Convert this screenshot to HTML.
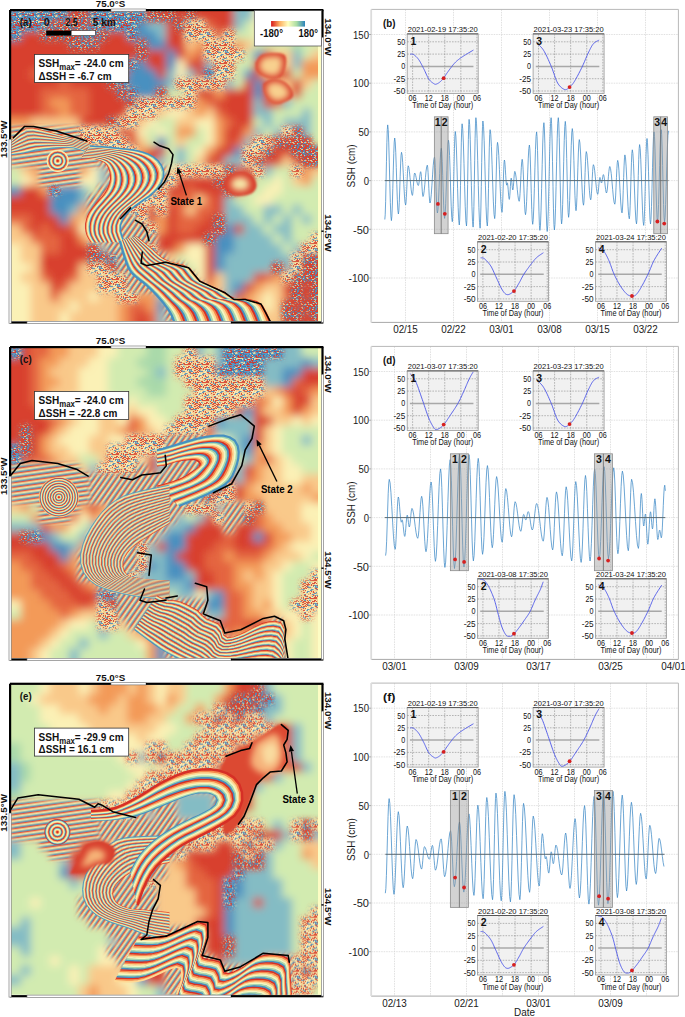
<!DOCTYPE html><html><head><meta charset="utf-8"><style>html,body{margin:0;padding:0;background:#fff}svg{display:block}text{font-family:"Liberation Sans",sans-serif}</style></head><body>
<svg width="685" height="1017" viewBox="0 0 685 1017">
<defs><linearGradient id="spec" x1="0" x2="1" y1="0" y2="0"><stop offset="0" stop-color="#d7191c"/><stop offset="0.25" stop-color="#fdae61"/><stop offset="0.5" stop-color="#ffffbf"/><stop offset="0.75" stop-color="#abdda4"/><stop offset="1" stop-color="#2b83ba"/></linearGradient></defs>
<rect width="685" height="1017" fill="#fff"/>
<pattern id="patS" width="18" height="18" patternUnits="userSpaceOnUse"><rect width="18" height="18" fill="#5a98c4"/>
<path fill="#d73027" d="M7 8h1v1h-1zM14 3h1v1h-1zM10 8h2v1h-2zM2 11h1v1h-1zM0 8h1v1h-1zM11 13h1v1h-1zM8 17h1.5v1h-1.5zM5 9h1v1h-1zM12 0h1.5v1h-1.5zM16 9h1v1h-1zM13 9h1.5v1h-1.5zM1 9h1.5v1h-1.5zM1 16h2v1h-2zM11 3h1v1h-1zM12 9h1v1h-1zM3 2h1.5v1h-1.5zM0 4h2v1h-2zM13 6h2v1h-2zM4 4h1v1h-1zM4 11h1v1h-1zM2 0h1v1h-1zM16 16h2v1h-2zM6 11h1v1h-1zM13 16h1v1h-1zM5 13h1v1h-1zM12 3h1v1h-1zM9 14h1v1h-1zM6 9h2v1h-2zM4 2h1v1h-1zM10 4h1v1h-1zM3 0h1.5v1h-1.5zM17 12h2v1h-2zM3 3h1v1h-1zM9 0h1v1h-1zM0 7h1v1h-1zM15 9h1v1h-1zM7 12h1.5v1h-1.5zM8 14h1v1h-1zM13 0h1v1h-1zM2 4h2v1h-2zM8 15h1v1h-1zM3 11h1v1h-1zM5 14h2v1h-2zM13 17h1.5v1h-1.5zM3 4h1v1h-1zM6 7h1.5v1h-1.5zM6 14h2v1h-2zM10 11h2v1h-2zM16 5h1v1h-1zM11 9h1.5v1h-1.5zM12 11h1v1h-1zM11 1h2v1h-2zM6 12h1v1h-1zM3 16h2v1h-2zM10 17h1v1h-1zM1 4h2v1h-2zM4 14h2v1h-2zM11 8h1.5v1h-1.5zM0 12h1v1h-1zM17 3h1v1h-1zM10 1h2v1h-2zM7 13h1v1h-1zM2 14h1v1h-1zM4 3h1.5v1h-1.5zM11 7h1v1h-1zM15 3h1v1h-1zM10 14h1.5v1h-1.5zM4 13h1v1h-1zM7 3h1.5v1h-1.5zM13 7h1v1h-1zM2 15h2v1h-2zM15 7h1v1h-1z"/>
<path fill="#f3e6a4" d="M17 14h1v1h-1zM8 5h2v1h-2zM13 10h2v1h-2zM3 10h1v1h-1zM13 1h1v1h-1zM16 2h1v1h-1zM7 9h2v1h-2zM9 10h2v1h-2zM9 11h1.5v1h-1.5zM14 14h2v1h-2zM15 11h1v1h-1zM8 1h1.5v1h-1.5zM0 11h1.5v1h-1.5zM4 10h1v1h-1zM7 4h1.5v1h-1.5zM7 2h1v1h-1zM9 5h1.5v1h-1.5zM12 10h2v1h-2zM14 4h2v1h-2zM15 16h1v1h-1zM16 15h2v1h-2zM9 1h1.5v1h-1.5zM9 4h1.5v1h-1.5zM0 2h1v1h-1zM3 12h1v1h-1zM15 10h1v1h-1zM11 10h1v1h-1zM7 11h1v1h-1zM11 0h1.5v1h-1.5zM15 14h1.5v1h-1.5zM12 15h1v1h-1zM5 5h1v1h-1zM7 7h1.5v1h-1.5zM1 0h1v1h-1zM13 14h2v1h-2zM2 3h1.5v1h-1.5z"/>
<path fill="#2f7fb8" d="M17 6h2v1h-2zM3 7h1v1h-1zM9 7h2v1h-2zM3 8h1.5v1h-1.5zM6 0h1v1h-1zM0 14h1.5v1h-1.5zM7 15h1v1h-1zM14 5h1v1h-1zM9 2h2v1h-2zM17 16h1v1h-1zM17 4h1.5v1h-1.5zM14 11h1v1h-1zM8 10h1v1h-1zM13 11h1.5v1h-1.5zM10 2h1v1h-1zM4 6h1v1h-1zM7 6h1v1h-1zM6 3h1.5v1h-1.5zM0 9h1v1h-1zM0 6h2v1h-2zM5 3h1v1h-1zM16 6h1.5v1h-1.5zM13 5h2v1h-2zM0 0h1.5v1h-1.5zM8 11h1v1h-1zM8 7h1v1h-1zM13 3h1v1h-1zM1 10h1v1h-1zM14 12h1v1h-1zM6 4h1.5v1h-1.5zM2 17h1v1h-1zM14 8h1v1h-1zM17 11h1v1h-1zM11 2h1.5v1h-1.5zM13 8h1.5v1h-1.5zM17 0h1v1h-1zM1 8h1.5v1h-1.5zM15 0h2v1h-2zM12 4h1v1h-1zM15 5h1.5v1h-1.5zM10 12h1.5v1h-1.5zM7 17h1v1h-1zM12 14h1.5v1h-1.5zM0 13h1v1h-1zM7 5h1v1h-1zM15 8h1v1h-1z"/>
</pattern>
<pattern id="patT" width="18" height="18" patternUnits="userSpaceOnUse"><rect width="18" height="18" fill="#d8412f"/>
<path fill="#4a90c0" d="M6 6h1v1h-1zM14 10h1v1h-1zM5 15h1v1h-1zM9 14h1.5v1h-1.5zM3 7h1v1h-1zM6 0h1.5v1h-1.5zM9 0h1v1h-1zM15 17h1.5v1h-1.5zM8 11h1.5v1h-1.5zM16 10h1v1h-1zM13 4h1v1h-1zM16 13h2v1h-2zM14 12h2v1h-2zM11 17h2v1h-2zM14 9h1v1h-1zM17 3h2v1h-2zM1 4h1.5v1h-1.5zM7 7h1.5v1h-1.5zM4 16h1v1h-1zM10 17h2v1h-2zM7 17h1.5v1h-1.5zM4 13h1.5v1h-1.5zM3 15h1v1h-1zM1 6h1v1h-1zM13 2h1v1h-1zM4 17h1.5v1h-1.5zM16 17h1v1h-1zM7 15h2v1h-2zM11 12h2v1h-2zM16 9h2v1h-2zM5 16h2v1h-2zM10 16h1.5v1h-1.5zM16 11h1v1h-1zM13 8h1v1h-1zM1 13h1v1h-1zM17 0h2v1h-2zM3 16h2v1h-2zM16 7h2v1h-2zM12 16h1v1h-1zM9 4h1v1h-1zM17 8h2v1h-2zM0 13h2v1h-2zM4 6h2v1h-2zM8 2h1v1h-1zM4 3h1v1h-1zM3 2h1v1h-1zM10 10h1v1h-1zM15 8h1v1h-1zM17 9h1v1h-1zM10 8h2v1h-2zM15 16h1v1h-1zM12 13h1v1h-1zM16 14h1v1h-1zM10 13h1v1h-1zM14 0h1v1h-1zM15 4h1v1h-1zM12 17h1.5v1h-1.5zM5 1h1v1h-1zM4 9h1.5v1h-1.5zM4 14h2v1h-2zM6 4h1v1h-1zM5 8h1v1h-1zM17 6h1v1h-1zM0 6h1.5v1h-1.5zM5 13h1v1h-1zM17 10h2v1h-2zM14 2h1.5v1h-1.5zM9 16h1v1h-1zM6 12h1v1h-1zM5 17h1v1h-1zM0 8h1.5v1h-1.5zM2 11h2v1h-2zM1 14h1.5v1h-1.5zM8 10h1.5v1h-1.5zM17 16h1v1h-1zM10 9h2v1h-2zM4 10h1v1h-1z"/>
<path fill="#f1d79a" d="M10 11h1v1h-1zM16 6h1v1h-1zM2 5h2v1h-2zM15 2h1.5v1h-1.5zM14 16h1v1h-1zM14 4h1v1h-1zM2 4h1v1h-1zM2 12h2v1h-2zM2 8h2v1h-2zM2 17h1v1h-1zM6 5h1.5v1h-1.5zM12 14h1v1h-1zM7 12h2v1h-2zM8 15h1.5v1h-1.5zM4 15h1v1h-1zM13 16h2v1h-2zM12 0h1v1h-1zM1 2h1.5v1h-1.5zM8 3h2v1h-2zM8 12h1.5v1h-1.5zM11 5h2v1h-2zM3 9h1v1h-1zM1 11h1v1h-1zM13 10h1.5v1h-1.5zM5 0h1v1h-1z"/>
<path fill="#a8d3c0" d="M0 14h1v1h-1zM12 6h2v1h-2zM8 7h1v1h-1zM15 15h1.5v1h-1.5zM16 3h1v1h-1zM16 1h1v1h-1zM15 0h2v1h-2zM14 8h1v1h-1zM1 15h1.5v1h-1.5zM9 5h1.5v1h-1.5zM5 5h1v1h-1zM1 0h2v1h-2zM17 4h1v1h-1zM17 14h1v1h-1zM7 14h2v1h-2z"/>
</pattern>
<pattern id="patP" width="18" height="18" patternUnits="userSpaceOnUse"><rect width="18" height="18" fill="#f4d597"/>
<path fill="#d8412f" d="M14 9h1v1h-1zM6 3h1v1h-1zM6 17h1v1h-1zM16 0h2v1h-2zM0 14h1v1h-1zM9 1h2v1h-2zM6 8h1v1h-1zM1 17h1v1h-1zM12 3h1v1h-1zM4 10h2v1h-2zM6 16h1v1h-1zM13 16h2v1h-2zM17 5h1.5v1h-1.5zM12 9h1v1h-1zM5 3h1v1h-1zM16 3h1v1h-1zM7 6h1v1h-1zM11 11h1v1h-1zM17 16h1v1h-1zM14 13h1.5v1h-1.5zM8 0h1v1h-1zM14 1h2v1h-2zM3 4h2v1h-2zM5 6h1.5v1h-1.5zM11 16h2v1h-2zM8 2h1.5v1h-1.5zM2 1h1v1h-1zM15 16h2v1h-2zM5 13h2v1h-2zM14 10h1.5v1h-1.5zM7 16h2v1h-2zM16 14h2v1h-2zM14 3h1v1h-1zM2 15h1v1h-1zM12 2h1v1h-1zM13 1h2v1h-2zM3 2h2v1h-2zM2 9h1v1h-1zM7 14h2v1h-2zM0 7h2v1h-2zM15 0h1v1h-1zM7 2h2v1h-2zM10 15h2v1h-2zM9 12h1v1h-1zM16 15h1v1h-1zM6 5h1v1h-1zM15 15h1.5v1h-1.5zM9 2h2v1h-2zM4 1h1.5v1h-1.5zM4 15h1v1h-1zM17 15h2v1h-2zM2 13h1v1h-1zM4 16h1v1h-1zM3 0h1v1h-1zM8 5h1v1h-1zM7 4h1.5v1h-1.5zM4 6h1v1h-1zM6 0h1v1h-1zM5 1h2v1h-2zM0 3h1v1h-1zM4 8h1v1h-1zM17 1h1v1h-1zM2 6h1v1h-1zM2 0h1v1h-1zM6 12h1v1h-1zM16 6h2v1h-2zM8 3h1.5v1h-1.5z"/>
<path fill="#4a90c0" d="M12 8h1v1h-1zM13 14h1v1h-1zM17 7h1v1h-1zM1 1h1.5v1h-1.5zM8 9h1.5v1h-1.5zM8 10h1v1h-1zM17 10h1.5v1h-1.5zM16 4h1.5v1h-1.5zM10 8h2v1h-2zM3 7h1v1h-1zM13 7h1.5v1h-1.5zM11 1h2v1h-2zM17 3h1v1h-1zM4 17h1.5v1h-1.5zM7 10h1v1h-1zM8 4h1.5v1h-1.5zM5 12h1.5v1h-1.5zM1 5h1v1h-1zM12 7h1v1h-1zM2 16h1v1h-1zM16 5h2v1h-2zM7 7h1v1h-1zM16 13h1.5v1h-1.5zM9 16h1.5v1h-1.5zM13 12h2v1h-2zM15 11h1v1h-1zM14 4h1.5v1h-1.5zM10 5h1v1h-1zM0 5h1v1h-1zM10 0h1.5v1h-1.5zM2 7h2v1h-2zM9 5h1v1h-1zM0 4h1.5v1h-1.5zM15 3h2v1h-2zM9 9h1.5v1h-1.5zM4 7h1.5v1h-1.5zM5 0h2v1h-2zM6 14h1.5v1h-1.5zM11 5h1v1h-1zM0 13h1.5v1h-1.5zM16 11h1.5v1h-1.5z"/>
<path fill="#fbf4c0" d="M14 0h1v1h-1zM6 7h2v1h-2zM14 5h1v1h-1zM12 1h1v1h-1zM17 2h1v1h-1zM17 0h1.5v1h-1.5zM1 4h1.5v1h-1.5zM12 4h1.5v1h-1.5zM8 12h1.5v1h-1.5zM8 7h1v1h-1zM7 9h1v1h-1zM10 7h1v1h-1zM17 14h1v1h-1zM5 15h1.5v1h-1.5zM13 6h2v1h-2zM9 13h2v1h-2zM12 15h1.5v1h-1.5zM16 12h1v1h-1zM1 11h1v1h-1zM8 17h2v1h-2zM0 10h1v1h-1zM13 15h1v1h-1zM9 10h1v1h-1zM7 12h1v1h-1zM12 11h1v1h-1zM16 2h1.5v1h-1.5zM10 1h1.5v1h-1.5zM0 9h1v1h-1zM6 10h1.5v1h-1.5zM15 7h1v1h-1zM9 8h2v1h-2zM7 8h1.5v1h-1.5zM7 3h1v1h-1zM8 6h1v1h-1zM15 9h1.5v1h-1.5zM5 11h2v1h-2zM15 4h1v1h-1zM13 4h1v1h-1z"/>
</pattern>
<pattern id="patF" width="4.6" height="40" patternUnits="userSpaceOnUse" patternTransform="rotate(35)">
<rect x="0.00" y="0" width="0.71" height="40" fill="#d7191c"/>
<rect x="0.66" y="0" width="0.71" height="40" fill="#f07c4a"/>
<rect x="1.31" y="0" width="0.71" height="40" fill="#fdd08a"/>
<rect x="1.97" y="0" width="0.71" height="40" fill="#f4f7c0"/>
<rect x="2.63" y="0" width="0.71" height="40" fill="#b5dfa8"/>
<rect x="3.29" y="0" width="0.71" height="40" fill="#5fa3c6"/>
<rect x="3.94" y="0" width="0.71" height="40" fill="#2f7fb8"/>
</pattern>
<pattern id="patH" width="4.6" height="40" patternUnits="userSpaceOnUse" patternTransform="rotate(82)">
<rect x="0.00" y="0" width="0.71" height="40" fill="#d7191c"/>
<rect x="0.66" y="0" width="0.71" height="40" fill="#f07c4a"/>
<rect x="1.31" y="0" width="0.71" height="40" fill="#fdd08a"/>
<rect x="1.97" y="0" width="0.71" height="40" fill="#f4f7c0"/>
<rect x="2.63" y="0" width="0.71" height="40" fill="#b5dfa8"/>
<rect x="3.29" y="0" width="0.71" height="40" fill="#5fa3c6"/>
<rect x="3.94" y="0" width="0.71" height="40" fill="#2f7fb8"/>
</pattern>
<filter id="soft" x="-20%" y="-20%" width="140%" height="140%"><feGaussianBlur stdDeviation="1.3"/></filter>
<filter id="soft2" x="-30%" y="-30%" width="160%" height="160%"><feGaussianBlur stdDeviation="3"/></filter>
<filter id="blurBase" x="-5%" y="-5%" width="110%" height="110%"><feGaussianBlur stdDeviation="4.0"/></filter>
<filter id="blurMask" x="-5%" y="-5%" width="110%" height="110%"><feGaussianBlur stdDeviation="2.6"/></filter>
<clipPath id="mclip0"><rect x="0" y="0" width="310" height="310"/></clipPath>
<g transform="translate(11.0,11.0)"><g clip-path="url(#mclip0)">
<g filter="url(#blurBase)">
<path fill="#6f93b3" d="M-12.0 -12.0h70.4v22.0h-70.4zM77.5 -12.0h58.4v22.0h-58.4zM-12.0 9.7h51.0v10.0h-51.0zM77.5 9.7h48.7v10.0h-48.7zM-12.0 19.4h22.0v10.0h-22.0zM67.8 19.4h19.7v10.0h-19.7zM116.2 19.4h10.0v10.0h-10.0zM116.2 48.4h10.0v10.0h-10.0zM193.8 58.1h10.0v10.0h-10.0zM106.6 67.8h10.0v10.0h-10.0zM116.2 77.5h10.0v10.0h-10.0zM38.8 174.4h10.0v10.0h-10.0zM96.9 242.2h10.0v10.0h-10.0z"/>
<path fill="#c2584a" d="M58.1 -12.0h19.7v22.0h-19.7zM135.6 -12.0h29.4v22.0h-29.4zM174.4 -12.0h10.0v22.0h-10.0zM38.8 9.7h39.0v10.0h-39.0zM164.7 9.7h10.0v10.0h-10.0zM29.1 19.4h39.0v10.0h-39.0zM87.2 19.4h10.0v10.0h-10.0zM58.1 29.1h29.4v10.0h-29.4zM125.9 29.1h10.0v10.0h-10.0zM125.9 38.8h10.0v10.0h-10.0zM96.9 67.8h10.0v10.0h-10.0zM106.6 77.5h10.0v10.0h-10.0zM145.3 77.5h10.0v10.0h-10.0zM116.2 87.2h10.0v10.0h-10.0zM96.9 106.6h10.0v10.0h-10.0zM280.9 116.2h10.0v10.0h-10.0zM261.6 125.9h39.0v10.0h-39.0zM251.9 135.6h10.0v10.0h-10.0zM280.9 135.6h41.4v10.0h-41.4zM242.2 145.3h10.0v10.0h-10.0zM290.6 145.3h31.7v10.0h-31.7zM213.1 155.0h10.0v10.0h-10.0zM203.4 164.7h10.0v10.0h-10.0zM213.1 174.4h10.0v10.0h-10.0zM203.4 203.4h10.0v10.0h-10.0zM203.4 213.1h10.0v10.0h-10.0zM193.8 222.8h10.0v10.0h-10.0zM77.5 232.5h10.0v10.0h-10.0zM77.5 242.2h19.7v10.0h-19.7zM290.6 242.2h31.7v10.0h-31.7zM96.9 251.9h10.0v10.0h-10.0zM261.6 251.9h10.0v10.0h-10.0zM290.6 251.9h31.7v10.0h-31.7zM280.9 261.6h41.4v10.0h-41.4zM280.9 271.2h10.0v10.0h-10.0zM300.3 271.2h22.0v10.0h-22.0zM280.9 280.9h10.0v10.0h-10.0zM300.3 280.9h22.0v10.0h-22.0zM271.2 290.6h10.0v10.0h-10.0zM290.6 290.6h31.7v10.0h-31.7zM271.2 300.3h19.7v22.0h-19.7zM300.3 300.3h22.0v22.0h-22.0z"/>
<path fill="#d8412f" d="M164.7 -12.0h10.0v22.0h-10.0zM184.1 -12.0h39.0v22.0h-39.0zM155.0 9.7h10.0v10.0h-10.0zM203.4 9.7h19.7v10.0h-19.7zM9.7 19.4h19.7v10.0h-19.7zM96.9 19.4h19.7v10.0h-19.7zM155.0 19.4h19.7v10.0h-19.7zM-12.0 29.1h70.4v10.0h-70.4zM87.2 29.1h39.0v10.0h-39.0zM155.0 29.1h19.7v10.0h-19.7zM-12.0 38.8h138.2v10.0h-138.2zM135.6 38.8h19.7v10.0h-19.7zM164.7 38.8h10.0v10.0h-10.0zM251.9 38.8h10.0v10.0h-10.0zM-12.0 48.4h128.6v10.0h-128.6zM135.6 48.4h19.7v10.0h-19.7zM174.4 48.4h19.7v10.0h-19.7zM242.2 48.4h10.0v10.0h-10.0zM-12.0 58.1h31.7v10.0h-31.7zM29.1 58.1h87.5v10.0h-87.5zM145.3 58.1h10.0v10.0h-10.0zM184.1 58.1h10.0v10.0h-10.0zM242.2 58.1h10.0v10.0h-10.0zM261.6 58.1h19.7v10.0h-19.7zM-12.0 67.8h60.7v10.0h-60.7zM58.1 67.8h39.0v10.0h-39.0zM232.5 67.8h10.0v10.0h-10.0zM251.9 67.8h10.0v10.0h-10.0zM280.9 67.8h10.0v10.0h-10.0zM-12.0 77.5h41.4v10.0h-41.4zM77.5 77.5h29.4v10.0h-29.4zM184.1 77.5h19.7v10.0h-19.7zM213.1 77.5h29.4v10.0h-29.4zM251.9 77.5h10.0v10.0h-10.0zM280.9 77.5h10.0v10.0h-10.0zM-12.0 87.2h41.4v10.0h-41.4zM77.5 87.2h39.0v10.0h-39.0zM203.4 87.2h39.0v10.0h-39.0zM251.9 87.2h19.7v10.0h-19.7zM-12.0 96.9h41.4v10.0h-41.4zM77.5 96.9h39.0v10.0h-39.0zM213.1 96.9h29.4v10.0h-29.4zM67.8 106.6h29.4v10.0h-29.4zM222.8 106.6h19.7v10.0h-19.7zM106.6 116.2h10.0v10.0h-10.0zM213.1 116.2h19.7v10.0h-19.7zM116.2 125.9h10.0v10.0h-10.0zM213.1 125.9h10.0v10.0h-10.0zM135.6 135.6h19.7v10.0h-19.7zM203.4 135.6h19.7v10.0h-19.7zM261.6 135.6h19.7v10.0h-19.7zM125.9 145.3h19.7v10.0h-19.7zM193.8 145.3h19.7v10.0h-19.7zM251.9 145.3h19.7v10.0h-19.7zM280.9 145.3h10.0v10.0h-10.0zM222.8 155.0h19.7v10.0h-19.7zM164.7 164.7h39.0v10.0h-39.0zM213.1 164.7h10.0v10.0h-10.0zM232.5 164.7h10.0v10.0h-10.0zM9.7 174.4h19.7v10.0h-19.7zM155.0 174.4h19.7v10.0h-19.7zM184.1 174.4h29.4v10.0h-29.4zM222.8 174.4h10.0v10.0h-10.0zM-12.0 184.1h51.0v10.0h-51.0zM203.4 184.1h10.0v10.0h-10.0zM-12.0 193.8h51.0v10.0h-51.0zM135.6 193.8h10.0v10.0h-10.0zM155.0 193.8h10.0v10.0h-10.0zM203.4 193.8h10.0v10.0h-10.0zM19.4 203.4h29.4v10.0h-29.4zM135.6 203.4h10.0v10.0h-10.0zM155.0 203.4h10.0v10.0h-10.0zM193.8 203.4h10.0v10.0h-10.0zM19.4 213.1h10.0v10.0h-10.0zM38.8 213.1h19.7v10.0h-19.7zM155.0 213.1h10.0v10.0h-10.0zM184.1 213.1h19.7v10.0h-19.7zM222.8 213.1h10.0v10.0h-10.0zM48.4 222.8h19.7v10.0h-19.7zM145.3 222.8h48.7v10.0h-48.7zM48.4 232.5h29.4v10.0h-29.4zM145.3 232.5h19.7v10.0h-19.7zM193.8 232.5h10.0v10.0h-10.0zM29.1 242.2h48.7v10.0h-48.7zM193.8 242.2h10.0v10.0h-10.0zM29.1 251.9h39.0v10.0h-39.0zM193.8 251.9h10.0v10.0h-10.0zM38.8 261.6h19.7v10.0h-19.7zM193.8 261.6h10.0v10.0h-10.0zM242.2 261.6h10.0v10.0h-10.0zM38.8 271.2h10.0v10.0h-10.0zM232.5 271.2h10.0v10.0h-10.0zM271.2 271.2h10.0v10.0h-10.0zM290.6 271.2h10.0v10.0h-10.0zM222.8 280.9h10.0v10.0h-10.0zM290.6 280.9h10.0v10.0h-10.0zM280.9 290.6h10.0v10.0h-10.0zM125.9 300.3h10.0v22.0h-10.0zM290.6 300.3h10.0v22.0h-10.0z"/>
<path fill="#84bcc4" d="M222.8 -12.0h19.7v22.0h-19.7zM135.6 9.7h19.7v10.0h-19.7zM222.8 9.7h10.0v10.0h-10.0zM145.3 19.4h10.0v10.0h-10.0zM280.9 38.8h10.0v10.0h-10.0zM193.8 48.4h10.0v10.0h-10.0zM280.9 48.4h10.0v10.0h-10.0zM155.0 58.1h10.0v10.0h-10.0zM174.4 58.1h10.0v10.0h-10.0zM155.0 67.8h10.0v10.0h-10.0zM213.1 67.8h10.0v10.0h-10.0zM242.2 87.2h10.0v10.0h-10.0zM271.2 87.2h10.0v10.0h-10.0zM242.2 96.9h19.7v10.0h-19.7zM290.6 96.9h10.0v10.0h-10.0zM251.9 106.6h10.0v10.0h-10.0zM271.2 106.6h29.4v10.0h-29.4zM242.2 116.2h10.0v10.0h-10.0zM261.6 116.2h10.0v10.0h-10.0zM290.6 116.2h10.0v10.0h-10.0zM232.5 125.9h10.0v10.0h-10.0zM164.7 135.6h10.0v10.0h-10.0zM145.3 145.3h10.0v10.0h-10.0zM164.7 145.3h10.0v10.0h-10.0zM213.1 145.3h19.7v10.0h-19.7zM87.2 155.0h10.0v10.0h-10.0zM251.9 155.0h10.0v10.0h-10.0zM87.2 164.7h10.0v10.0h-10.0zM67.8 174.4h10.0v10.0h-10.0zM67.8 184.1h10.0v10.0h-10.0zM213.1 184.1h10.0v10.0h-10.0zM58.1 193.8h10.0v10.0h-10.0zM213.1 193.8h19.7v10.0h-19.7zM251.9 193.8h19.7v10.0h-19.7zM280.9 193.8h10.0v10.0h-10.0zM213.1 203.4h29.4v10.0h-29.4zM251.9 203.4h10.0v10.0h-10.0zM271.2 203.4h10.0v10.0h-10.0zM290.6 203.4h10.0v10.0h-10.0zM232.5 213.1h19.7v10.0h-19.7zM261.6 213.1h19.7v10.0h-19.7zM222.8 222.8h39.0v10.0h-39.0zM271.2 222.8h10.0v10.0h-10.0zM87.2 232.5h10.0v10.0h-10.0zM222.8 232.5h48.7v10.0h-48.7zM280.9 232.5h10.0v10.0h-10.0zM213.1 242.2h68.1v10.0h-68.1zM213.1 251.9h48.7v10.0h-48.7zM271.2 251.9h10.0v10.0h-10.0zM213.1 261.6h29.4v10.0h-29.4zM213.1 271.2h10.0v10.0h-10.0zM145.3 280.9h10.0v10.0h-10.0zM213.1 280.9h10.0v10.0h-10.0zM145.3 300.3h10.0v22.0h-10.0z"/>
<path fill="#fbf1b6" d="M242.2 -12.0h80.1v22.0h-80.1zM242.2 9.7h80.1v10.0h-80.1zM242.2 19.4h80.1v10.0h-80.1zM164.7 48.4h10.0v10.0h-10.0zM164.7 58.1h10.0v10.0h-10.0zM155.0 96.9h19.7v10.0h-19.7zM135.6 106.6h10.0v10.0h-10.0zM184.1 106.6h19.7v10.0h-19.7zM125.9 116.2h10.0v10.0h-10.0zM145.3 116.2h10.0v10.0h-10.0zM193.8 116.2h10.0v10.0h-10.0zM193.8 125.9h10.0v10.0h-10.0zM184.1 135.6h10.0v10.0h-10.0zM77.5 155.0h10.0v10.0h-10.0zM155.0 155.0h10.0v10.0h-10.0zM9.7 164.7h10.0v10.0h-10.0zM67.8 164.7h19.7v10.0h-19.7zM222.8 164.7h10.0v10.0h-10.0zM261.6 164.7h10.0v10.0h-10.0zM251.9 174.4h19.7v10.0h-19.7zM242.2 184.1h19.7v10.0h-19.7zM67.8 213.1h10.0v10.0h-10.0zM77.5 222.8h10.0v10.0h-10.0zM-12.0 232.5h22.0v10.0h-22.0zM174.4 232.5h19.7v10.0h-19.7zM-12.0 242.2h22.0v10.0h-22.0zM174.4 242.2h19.7v10.0h-19.7zM-12.0 251.9h31.7v10.0h-31.7zM184.1 251.9h10.0v10.0h-10.0zM-12.0 261.6h22.0v10.0h-22.0zM184.1 261.6h10.0v10.0h-10.0zM-12.0 271.2h31.7v10.0h-31.7zM-12.0 280.9h31.7v10.0h-31.7zM77.5 280.9h10.0v10.0h-10.0zM251.9 280.9h10.0v10.0h-10.0zM-12.0 290.6h31.7v10.0h-31.7zM58.1 290.6h10.0v10.0h-10.0zM251.9 290.6h10.0v10.0h-10.0zM-12.0 300.3h31.7v22.0h-31.7zM48.4 300.3h10.0v22.0h-10.0z"/>
<path fill="#4a90c0" d="M125.9 9.7h10.0v10.0h-10.0zM125.9 19.4h19.7v10.0h-19.7zM135.6 29.1h19.7v10.0h-19.7zM155.0 38.8h10.0v10.0h-10.0zM242.2 38.8h10.0v10.0h-10.0zM125.9 48.4h10.0v10.0h-10.0zM155.0 48.4h10.0v10.0h-10.0zM116.2 58.1h29.4v10.0h-29.4zM232.5 58.1h10.0v10.0h-10.0zM116.2 67.8h39.0v10.0h-39.0zM242.2 67.8h10.0v10.0h-10.0zM125.9 77.5h19.7v10.0h-19.7zM242.2 77.5h10.0v10.0h-10.0zM145.3 125.9h10.0v10.0h-10.0zM222.8 135.6h10.0v10.0h-10.0zM-12.0 174.4h22.0v10.0h-22.0zM48.4 174.4h19.7v10.0h-19.7zM38.8 184.1h29.4v10.0h-29.4zM38.8 193.8h19.7v10.0h-19.7zM48.4 203.4h10.0v10.0h-10.0zM213.1 213.1h10.0v10.0h-10.0zM203.4 222.8h19.7v10.0h-19.7zM203.4 232.5h19.7v10.0h-19.7zM203.4 242.2h10.0v10.0h-10.0zM203.4 251.9h10.0v10.0h-10.0zM222.8 271.2h10.0v10.0h-10.0zM145.3 290.6h10.0v10.0h-10.0z"/>
<path fill="#eaba8a" d="M174.4 9.7h19.7v10.0h-19.7zM174.4 19.4h29.4v10.0h-29.4zM213.1 19.4h10.0v10.0h-10.0zM193.8 29.1h29.4v10.0h-29.4zM193.8 38.8h39.0v10.0h-39.0zM203.4 48.4h19.7v10.0h-19.7zM203.4 58.1h19.7v10.0h-19.7zM164.7 67.8h48.7v10.0h-48.7zM174.4 77.5h10.0v10.0h-10.0zM125.9 87.2h58.4v10.0h-58.4zM116.2 96.9h29.4v10.0h-29.4zM106.6 106.6h19.7v10.0h-19.7zM67.8 116.2h39.0v10.0h-39.0zM271.2 116.2h10.0v10.0h-10.0zM67.8 125.9h48.7v10.0h-48.7zM242.2 125.9h19.7v10.0h-19.7zM96.9 135.6h29.4v10.0h-29.4zM232.5 135.6h19.7v10.0h-19.7zM106.6 145.3h10.0v10.0h-10.0zM232.5 145.3h10.0v10.0h-10.0zM164.7 155.0h48.7v10.0h-48.7zM242.2 155.0h10.0v10.0h-10.0zM280.9 155.0h10.0v10.0h-10.0zM155.0 164.7h10.0v10.0h-10.0zM145.3 174.4h10.0v10.0h-10.0zM125.9 184.1h29.4v10.0h-29.4zM116.2 193.8h19.7v10.0h-19.7zM145.3 193.8h10.0v10.0h-10.0zM125.9 203.4h10.0v10.0h-10.0zM135.6 213.1h10.0v10.0h-10.0zM300.3 222.8h22.0v10.0h-22.0zM135.6 232.5h10.0v10.0h-10.0zM290.6 232.5h31.7v10.0h-31.7zM280.9 242.2h10.0v10.0h-10.0zM77.5 251.9h19.7v10.0h-19.7zM280.9 251.9h10.0v10.0h-10.0zM87.2 261.6h29.4v10.0h-29.4zM271.2 261.6h10.0v10.0h-10.0zM87.2 271.2h29.4v10.0h-29.4zM106.6 280.9h19.7v10.0h-19.7z"/>
<path fill="#e4653f" d="M193.8 9.7h10.0v10.0h-10.0zM203.4 19.4h10.0v10.0h-10.0zM184.1 38.8h10.0v10.0h-10.0zM19.4 58.1h10.0v10.0h-10.0zM48.4 67.8h10.0v10.0h-10.0zM29.1 77.5h48.7v10.0h-48.7zM29.1 87.2h10.0v10.0h-10.0zM58.1 87.2h19.7v10.0h-19.7zM193.8 87.2h10.0v10.0h-10.0zM29.1 96.9h19.7v10.0h-19.7zM58.1 96.9h19.7v10.0h-19.7zM203.4 96.9h10.0v10.0h-10.0zM213.1 106.6h10.0v10.0h-10.0zM116.2 116.2h10.0v10.0h-10.0zM222.8 125.9h10.0v10.0h-10.0zM174.4 174.4h10.0v10.0h-10.0zM155.0 184.1h29.4v10.0h-29.4zM193.8 184.1h10.0v10.0h-10.0zM164.7 193.8h10.0v10.0h-10.0zM184.1 193.8h19.7v10.0h-19.7zM-12.0 203.4h31.7v10.0h-31.7zM164.7 203.4h29.4v10.0h-29.4zM9.7 213.1h10.0v10.0h-10.0zM29.1 213.1h10.0v10.0h-10.0zM58.1 213.1h10.0v10.0h-10.0zM164.7 213.1h19.7v10.0h-19.7zM19.4 222.8h29.4v10.0h-29.4zM29.1 232.5h19.7v10.0h-19.7zM29.1 261.6h10.0v10.0h-10.0zM58.1 261.6h10.0v10.0h-10.0zM251.9 261.6h10.0v10.0h-10.0zM48.4 271.2h10.0v10.0h-10.0zM38.8 280.9h10.0v10.0h-10.0zM271.2 280.9h10.0v10.0h-10.0zM116.2 290.6h19.7v10.0h-19.7zM116.2 300.3h10.0v22.0h-10.0zM135.6 300.3h10.0v22.0h-10.0z"/>
<path fill="#d2ebb0" d="M232.5 9.7h10.0v10.0h-10.0zM222.8 19.4h19.7v10.0h-19.7zM242.2 29.1h39.0v10.0h-39.0zM290.6 29.1h31.7v10.0h-31.7zM232.5 38.8h10.0v10.0h-10.0zM290.6 38.8h10.0v10.0h-10.0zM222.8 48.4h19.7v10.0h-19.7zM222.8 58.1h10.0v10.0h-10.0zM280.9 58.1h10.0v10.0h-10.0zM222.8 67.8h10.0v10.0h-10.0zM300.3 67.8h22.0v10.0h-22.0zM155.0 77.5h19.7v10.0h-19.7zM290.6 77.5h31.7v10.0h-31.7zM280.9 87.2h41.4v10.0h-41.4zM261.6 96.9h29.4v10.0h-29.4zM300.3 96.9h22.0v10.0h-22.0zM145.3 106.6h19.7v10.0h-19.7zM242.2 106.6h10.0v10.0h-10.0zM261.6 106.6h10.0v10.0h-10.0zM300.3 106.6h22.0v10.0h-22.0zM135.6 116.2h10.0v10.0h-10.0zM155.0 116.2h10.0v10.0h-10.0zM184.1 116.2h10.0v10.0h-10.0zM251.9 116.2h10.0v10.0h-10.0zM300.3 116.2h22.0v10.0h-22.0zM135.6 125.9h10.0v10.0h-10.0zM155.0 125.9h10.0v10.0h-10.0zM174.4 125.9h19.7v10.0h-19.7zM300.3 125.9h22.0v10.0h-22.0zM155.0 135.6h10.0v10.0h-10.0zM174.4 135.6h10.0v10.0h-10.0zM155.0 145.3h10.0v10.0h-10.0zM174.4 145.3h10.0v10.0h-10.0zM-12.0 155.0h22.0v10.0h-22.0zM261.6 155.0h19.7v10.0h-19.7zM-12.0 164.7h22.0v10.0h-22.0zM242.2 164.7h19.7v10.0h-19.7zM271.2 164.7h10.0v10.0h-10.0zM300.3 164.7h22.0v10.0h-22.0zM77.5 174.4h10.0v10.0h-10.0zM232.5 174.4h19.7v10.0h-19.7zM271.2 174.4h51.0v10.0h-51.0zM222.8 184.1h19.7v10.0h-19.7zM261.6 184.1h60.7v10.0h-60.7zM232.5 193.8h19.7v10.0h-19.7zM271.2 193.8h10.0v10.0h-10.0zM290.6 193.8h31.7v10.0h-31.7zM242.2 203.4h10.0v10.0h-10.0zM261.6 203.4h10.0v10.0h-10.0zM280.9 203.4h10.0v10.0h-10.0zM300.3 203.4h22.0v10.0h-22.0zM251.9 213.1h10.0v10.0h-10.0zM280.9 213.1h41.4v10.0h-41.4zM261.6 222.8h10.0v10.0h-10.0zM280.9 222.8h19.7v10.0h-19.7zM271.2 232.5h10.0v10.0h-10.0zM164.7 242.2h10.0v10.0h-10.0zM174.4 251.9h10.0v10.0h-10.0z"/>
<path fill="#f9c98a" d="M174.4 29.1h10.0v10.0h-10.0zM232.5 29.1h10.0v10.0h-10.0zM261.6 38.8h19.7v10.0h-19.7zM300.3 38.8h22.0v10.0h-22.0zM251.9 48.4h29.4v10.0h-29.4zM251.9 58.1h10.0v10.0h-10.0zM261.6 67.8h19.7v10.0h-19.7zM290.6 67.8h10.0v10.0h-10.0zM261.6 77.5h19.7v10.0h-19.7zM145.3 96.9h10.0v10.0h-10.0zM174.4 96.9h10.0v10.0h-10.0zM193.8 96.9h10.0v10.0h-10.0zM19.4 106.6h48.7v10.0h-48.7zM125.9 106.6h10.0v10.0h-10.0zM164.7 106.6h19.7v10.0h-19.7zM125.9 125.9h10.0v10.0h-10.0zM164.7 125.9h10.0v10.0h-10.0zM184.1 145.3h10.0v10.0h-10.0zM271.2 145.3h10.0v10.0h-10.0zM9.7 155.0h10.0v10.0h-10.0zM300.3 155.0h22.0v10.0h-22.0zM19.4 164.7h10.0v10.0h-10.0zM280.9 164.7h10.0v10.0h-10.0zM184.1 184.1h10.0v10.0h-10.0zM174.4 193.8h10.0v10.0h-10.0zM67.8 203.4h10.0v10.0h-10.0zM-12.0 213.1h22.0v10.0h-22.0zM-12.0 222.8h31.7v10.0h-31.7zM9.7 232.5h19.7v10.0h-19.7zM9.7 242.2h19.7v10.0h-19.7zM155.0 242.2h10.0v10.0h-10.0zM19.4 251.9h10.0v10.0h-10.0zM67.8 251.9h10.0v10.0h-10.0zM9.7 261.6h19.7v10.0h-19.7zM67.8 261.6h19.7v10.0h-19.7zM203.4 261.6h10.0v10.0h-10.0zM19.4 271.2h19.7v10.0h-19.7zM58.1 271.2h29.4v10.0h-29.4zM203.4 271.2h10.0v10.0h-10.0zM251.9 271.2h19.7v10.0h-19.7zM19.4 280.9h19.7v10.0h-19.7zM48.4 280.9h29.4v10.0h-29.4zM87.2 280.9h19.7v10.0h-19.7zM242.2 280.9h10.0v10.0h-10.0zM261.6 280.9h10.0v10.0h-10.0zM19.4 290.6h39.0v10.0h-39.0zM67.8 290.6h39.0v10.0h-39.0zM242.2 290.6h10.0v10.0h-10.0zM261.6 290.6h10.0v10.0h-10.0zM19.4 300.3h29.4v22.0h-29.4zM58.1 300.3h48.7v22.0h-48.7zM251.9 300.3h19.7v22.0h-19.7z"/>
<path fill="#f39a58" d="M184.1 29.1h10.0v10.0h-10.0zM222.8 29.1h10.0v10.0h-10.0zM174.4 38.8h10.0v10.0h-10.0zM290.6 48.4h31.7v10.0h-31.7zM290.6 58.1h31.7v10.0h-31.7zM203.4 77.5h10.0v10.0h-10.0zM38.8 87.2h19.7v10.0h-19.7zM184.1 87.2h10.0v10.0h-10.0zM48.4 96.9h10.0v10.0h-10.0zM184.1 96.9h10.0v10.0h-10.0zM-12.0 106.6h31.7v10.0h-31.7zM203.4 106.6h10.0v10.0h-10.0zM164.7 116.2h19.7v10.0h-19.7zM203.4 116.2h10.0v10.0h-10.0zM232.5 116.2h10.0v10.0h-10.0zM203.4 125.9h10.0v10.0h-10.0zM125.9 135.6h10.0v10.0h-10.0zM193.8 135.6h10.0v10.0h-10.0zM19.4 155.0h10.0v10.0h-10.0zM67.8 155.0h10.0v10.0h-10.0zM290.6 155.0h10.0v10.0h-10.0zM290.6 164.7h10.0v10.0h-10.0zM29.1 174.4h10.0v10.0h-10.0zM67.8 193.8h10.0v10.0h-10.0zM58.1 203.4h10.0v10.0h-10.0zM145.3 203.4h10.0v10.0h-10.0zM145.3 213.1h10.0v10.0h-10.0zM67.8 222.8h10.0v10.0h-10.0zM164.7 232.5h10.0v10.0h-10.0zM261.6 261.6h10.0v10.0h-10.0zM193.8 271.2h10.0v10.0h-10.0zM242.2 271.2h10.0v10.0h-10.0zM125.9 280.9h19.7v10.0h-19.7zM232.5 280.9h10.0v10.0h-10.0zM106.6 290.6h10.0v10.0h-10.0zM135.6 290.6h10.0v10.0h-10.0zM232.5 290.6h10.0v10.0h-10.0zM106.6 300.3h10.0v22.0h-10.0z"/>
<path fill="#a9d9aa" d="M280.9 29.1h10.0v10.0h-10.0z"/>
<path fill="#e6b88e" d="M-12.0 116.2h80.1v10.0h-80.1zM-12.0 125.9h80.1v10.0h-80.1zM-12.0 135.6h99.5v10.0h-99.5zM-12.0 145.3h99.5v10.0h-99.5zM29.1 155.0h39.0v10.0h-39.0zM29.1 164.7h39.0v10.0h-39.0z"/>
<path fill="#e6b88e" d="M87.2 135.6h10.0v10.0h-10.0zM87.2 145.3h19.7v10.0h-19.7zM116.2 145.3h10.0v10.0h-10.0zM96.9 155.0h58.4v10.0h-58.4zM96.9 164.7h58.4v10.0h-58.4zM87.2 174.4h58.4v10.0h-58.4zM77.5 184.1h48.7v10.0h-48.7zM77.5 193.8h39.0v10.0h-39.0zM77.5 203.4h48.7v10.0h-48.7zM77.5 213.1h58.4v10.0h-58.4zM87.2 222.8h58.4v10.0h-58.4zM96.9 232.5h39.0v10.0h-39.0zM106.6 242.2h48.7v10.0h-48.7zM106.6 251.9h68.1v10.0h-68.1zM116.2 261.6h68.1v10.0h-68.1zM116.2 271.2h77.8v10.0h-77.8zM155.0 280.9h58.4v10.0h-58.4zM155.0 290.6h77.8v10.0h-77.8zM155.0 300.3h97.2v22.0h-97.2z"/>
</g>
<mask id="mS0" maskUnits="userSpaceOnUse" x="-20" y="-20" width="350" height="350"><path d="M-0.5 -0.5h10.7v10.7h-10.7zM9.2 -0.5h10.7v10.7h-10.7zM18.9 -0.5h10.7v10.7h-10.7zM28.6 -0.5h10.7v10.7h-10.7zM38.2 -0.5h10.7v10.7h-10.7zM47.9 -0.5h10.7v10.7h-10.7zM77.0 -0.5h10.7v10.7h-10.7zM86.7 -0.5h10.7v10.7h-10.7zM96.4 -0.5h10.7v10.7h-10.7zM106.1 -0.5h10.7v10.7h-10.7zM115.8 -0.5h10.7v10.7h-10.7zM125.4 -0.5h10.7v10.7h-10.7zM-0.5 9.2h10.7v10.7h-10.7zM9.2 9.2h10.7v10.7h-10.7zM18.9 9.2h10.7v10.7h-10.7zM28.6 9.2h10.7v10.7h-10.7zM77.0 9.2h10.7v10.7h-10.7zM86.7 9.2h10.7v10.7h-10.7zM96.4 9.2h10.7v10.7h-10.7zM106.1 9.2h10.7v10.7h-10.7zM115.8 9.2h10.7v10.7h-10.7zM-0.5 18.9h10.7v10.7h-10.7zM67.3 18.9h10.7v10.7h-10.7zM77.0 18.9h10.7v10.7h-10.7zM115.8 18.9h10.7v10.7h-10.7zM115.8 47.9h10.7v10.7h-10.7zM193.2 57.6h10.7v10.7h-10.7zM106.1 67.3h10.7v10.7h-10.7zM115.8 77.0h10.7v10.7h-10.7zM38.2 173.9h10.7v10.7h-10.7zM96.4 241.7h10.7v10.7h-10.7z" fill="#fff" filter="url(#blurMask)"/></mask>
<rect x="0" y="0" width="310" height="310" fill="url(#patS)" mask="url(#mS0)" opacity="0.85"/>
<mask id="mT0" maskUnits="userSpaceOnUse" x="-20" y="-20" width="350" height="350"><path d="M57.6 -0.5h10.7v10.7h-10.7zM67.3 -0.5h10.7v10.7h-10.7zM135.1 -0.5h10.7v10.7h-10.7zM144.8 -0.5h10.7v10.7h-10.7zM154.5 -0.5h10.7v10.7h-10.7zM173.9 -0.5h10.7v10.7h-10.7zM38.2 9.2h10.7v10.7h-10.7zM47.9 9.2h10.7v10.7h-10.7zM57.6 9.2h10.7v10.7h-10.7zM67.3 9.2h10.7v10.7h-10.7zM164.2 9.2h10.7v10.7h-10.7zM28.6 18.9h10.7v10.7h-10.7zM38.2 18.9h10.7v10.7h-10.7zM47.9 18.9h10.7v10.7h-10.7zM57.6 18.9h10.7v10.7h-10.7zM86.7 18.9h10.7v10.7h-10.7zM57.6 28.6h10.7v10.7h-10.7zM67.3 28.6h10.7v10.7h-10.7zM77.0 28.6h10.7v10.7h-10.7zM125.4 28.6h10.7v10.7h-10.7zM125.4 38.2h10.7v10.7h-10.7zM96.4 67.3h10.7v10.7h-10.7zM106.1 77.0h10.7v10.7h-10.7zM144.8 77.0h10.7v10.7h-10.7zM115.8 86.7h10.7v10.7h-10.7zM96.4 106.1h10.7v10.7h-10.7zM280.4 115.8h10.7v10.7h-10.7zM261.1 125.4h10.7v10.7h-10.7zM270.8 125.4h10.7v10.7h-10.7zM280.4 125.4h10.7v10.7h-10.7zM290.1 125.4h10.7v10.7h-10.7zM251.4 135.1h10.7v10.7h-10.7zM280.4 135.1h10.7v10.7h-10.7zM290.1 135.1h10.7v10.7h-10.7zM299.8 135.1h10.7v10.7h-10.7zM241.7 144.8h10.7v10.7h-10.7zM290.1 144.8h10.7v10.7h-10.7zM299.8 144.8h10.7v10.7h-10.7zM212.6 154.5h10.7v10.7h-10.7zM202.9 164.2h10.7v10.7h-10.7zM212.6 173.9h10.7v10.7h-10.7zM202.9 202.9h10.7v10.7h-10.7zM202.9 212.6h10.7v10.7h-10.7zM193.2 222.3h10.7v10.7h-10.7zM77.0 232.0h10.7v10.7h-10.7zM77.0 241.7h10.7v10.7h-10.7zM86.7 241.7h10.7v10.7h-10.7zM290.1 241.7h10.7v10.7h-10.7zM299.8 241.7h10.7v10.7h-10.7zM96.4 251.4h10.7v10.7h-10.7zM261.1 251.4h10.7v10.7h-10.7zM290.1 251.4h10.7v10.7h-10.7zM299.8 251.4h10.7v10.7h-10.7zM280.4 261.1h10.7v10.7h-10.7zM290.1 261.1h10.7v10.7h-10.7zM299.8 261.1h10.7v10.7h-10.7zM280.4 270.8h10.7v10.7h-10.7zM299.8 270.8h10.7v10.7h-10.7zM280.4 280.4h10.7v10.7h-10.7zM299.8 280.4h10.7v10.7h-10.7zM270.8 290.1h10.7v10.7h-10.7zM290.1 290.1h10.7v10.7h-10.7zM299.8 290.1h10.7v10.7h-10.7zM270.8 299.8h10.7v10.7h-10.7zM280.4 299.8h10.7v10.7h-10.7zM299.8 299.8h10.7v10.7h-10.7z" fill="#fff" filter="url(#blurMask)"/></mask>
<rect x="0" y="0" width="310" height="310" fill="url(#patT)" mask="url(#mT0)" opacity="0.85"/>
<mask id="mP0" maskUnits="userSpaceOnUse" x="-20" y="-20" width="350" height="350"><path d="M173.9 9.2h10.7v10.7h-10.7zM183.6 9.2h10.7v10.7h-10.7zM173.9 18.9h10.7v10.7h-10.7zM183.6 18.9h10.7v10.7h-10.7zM193.2 18.9h10.7v10.7h-10.7zM212.6 18.9h10.7v10.7h-10.7zM193.2 28.6h10.7v10.7h-10.7zM202.9 28.6h10.7v10.7h-10.7zM212.6 28.6h10.7v10.7h-10.7zM193.2 38.2h10.7v10.7h-10.7zM202.9 38.2h10.7v10.7h-10.7zM212.6 38.2h10.7v10.7h-10.7zM222.3 38.2h10.7v10.7h-10.7zM202.9 47.9h10.7v10.7h-10.7zM212.6 47.9h10.7v10.7h-10.7zM202.9 57.6h10.7v10.7h-10.7zM212.6 57.6h10.7v10.7h-10.7zM164.2 67.3h10.7v10.7h-10.7zM173.9 67.3h10.7v10.7h-10.7zM183.6 67.3h10.7v10.7h-10.7zM193.2 67.3h10.7v10.7h-10.7zM202.9 67.3h10.7v10.7h-10.7zM173.9 77.0h10.7v10.7h-10.7zM125.4 86.7h10.7v10.7h-10.7zM135.1 86.7h10.7v10.7h-10.7zM144.8 86.7h10.7v10.7h-10.7zM154.5 86.7h10.7v10.7h-10.7zM164.2 86.7h10.7v10.7h-10.7zM173.9 86.7h10.7v10.7h-10.7zM115.8 96.4h10.7v10.7h-10.7zM125.4 96.4h10.7v10.7h-10.7zM135.1 96.4h10.7v10.7h-10.7zM106.1 106.1h10.7v10.7h-10.7zM115.8 106.1h10.7v10.7h-10.7zM67.3 115.8h10.7v10.7h-10.7zM77.0 115.8h10.7v10.7h-10.7zM86.7 115.8h10.7v10.7h-10.7zM96.4 115.8h10.7v10.7h-10.7zM270.8 115.8h10.7v10.7h-10.7zM67.3 125.4h10.7v10.7h-10.7zM77.0 125.4h10.7v10.7h-10.7zM86.7 125.4h10.7v10.7h-10.7zM96.4 125.4h10.7v10.7h-10.7zM106.1 125.4h10.7v10.7h-10.7zM241.7 125.4h10.7v10.7h-10.7zM251.4 125.4h10.7v10.7h-10.7zM96.4 135.1h10.7v10.7h-10.7zM106.1 135.1h10.7v10.7h-10.7zM115.8 135.1h10.7v10.7h-10.7zM232.0 135.1h10.7v10.7h-10.7zM241.7 135.1h10.7v10.7h-10.7zM106.1 144.8h10.7v10.7h-10.7zM232.0 144.8h10.7v10.7h-10.7zM164.2 154.5h10.7v10.7h-10.7zM173.9 154.5h10.7v10.7h-10.7zM183.6 154.5h10.7v10.7h-10.7zM193.2 154.5h10.7v10.7h-10.7zM202.9 154.5h10.7v10.7h-10.7zM241.7 154.5h10.7v10.7h-10.7zM280.4 154.5h10.7v10.7h-10.7zM154.5 164.2h10.7v10.7h-10.7zM144.8 173.9h10.7v10.7h-10.7zM125.4 183.6h10.7v10.7h-10.7zM135.1 183.6h10.7v10.7h-10.7zM144.8 183.6h10.7v10.7h-10.7zM115.8 193.2h10.7v10.7h-10.7zM125.4 193.2h10.7v10.7h-10.7zM144.8 193.2h10.7v10.7h-10.7zM125.4 202.9h10.7v10.7h-10.7zM135.1 212.6h10.7v10.7h-10.7zM299.8 222.3h10.7v10.7h-10.7zM135.1 232.0h10.7v10.7h-10.7zM290.1 232.0h10.7v10.7h-10.7zM299.8 232.0h10.7v10.7h-10.7zM280.4 241.7h10.7v10.7h-10.7zM77.0 251.4h10.7v10.7h-10.7zM86.7 251.4h10.7v10.7h-10.7zM280.4 251.4h10.7v10.7h-10.7zM86.7 261.1h10.7v10.7h-10.7zM96.4 261.1h10.7v10.7h-10.7zM106.1 261.1h10.7v10.7h-10.7zM270.8 261.1h10.7v10.7h-10.7zM86.7 270.8h10.7v10.7h-10.7zM96.4 270.8h10.7v10.7h-10.7zM106.1 270.8h10.7v10.7h-10.7zM106.1 280.4h10.7v10.7h-10.7zM115.8 280.4h10.7v10.7h-10.7z" fill="#fff" filter="url(#blurMask)"/></mask>
<rect x="0" y="0" width="310" height="310" fill="url(#patP)" mask="url(#mP0)" opacity="0.85"/>
<mask id="mF0" maskUnits="userSpaceOnUse" x="-20" y="-20" width="350" height="350"><path d="M86.7 135.1h10.7v10.7h-10.7zM86.7 144.8h10.7v10.7h-10.7zM96.4 144.8h10.7v10.7h-10.7zM115.8 144.8h10.7v10.7h-10.7zM96.4 154.5h10.7v10.7h-10.7zM106.1 154.5h10.7v10.7h-10.7zM115.8 154.5h10.7v10.7h-10.7zM125.4 154.5h10.7v10.7h-10.7zM135.1 154.5h10.7v10.7h-10.7zM144.8 154.5h10.7v10.7h-10.7zM96.4 164.2h10.7v10.7h-10.7zM106.1 164.2h10.7v10.7h-10.7zM115.8 164.2h10.7v10.7h-10.7zM125.4 164.2h10.7v10.7h-10.7zM135.1 164.2h10.7v10.7h-10.7zM144.8 164.2h10.7v10.7h-10.7zM86.7 173.9h10.7v10.7h-10.7zM96.4 173.9h10.7v10.7h-10.7zM106.1 173.9h10.7v10.7h-10.7zM115.8 173.9h10.7v10.7h-10.7zM125.4 173.9h10.7v10.7h-10.7zM135.1 173.9h10.7v10.7h-10.7zM77.0 183.6h10.7v10.7h-10.7zM86.7 183.6h10.7v10.7h-10.7zM96.4 183.6h10.7v10.7h-10.7zM106.1 183.6h10.7v10.7h-10.7zM115.8 183.6h10.7v10.7h-10.7zM77.0 193.2h10.7v10.7h-10.7zM86.7 193.2h10.7v10.7h-10.7zM96.4 193.2h10.7v10.7h-10.7zM106.1 193.2h10.7v10.7h-10.7zM77.0 202.9h10.7v10.7h-10.7zM86.7 202.9h10.7v10.7h-10.7zM96.4 202.9h10.7v10.7h-10.7zM106.1 202.9h10.7v10.7h-10.7zM115.8 202.9h10.7v10.7h-10.7zM77.0 212.6h10.7v10.7h-10.7zM86.7 212.6h10.7v10.7h-10.7zM96.4 212.6h10.7v10.7h-10.7zM106.1 212.6h10.7v10.7h-10.7zM115.8 212.6h10.7v10.7h-10.7zM125.4 212.6h10.7v10.7h-10.7zM86.7 222.3h10.7v10.7h-10.7zM96.4 222.3h10.7v10.7h-10.7zM106.1 222.3h10.7v10.7h-10.7zM115.8 222.3h10.7v10.7h-10.7zM125.4 222.3h10.7v10.7h-10.7zM135.1 222.3h10.7v10.7h-10.7zM96.4 232.0h10.7v10.7h-10.7zM106.1 232.0h10.7v10.7h-10.7zM115.8 232.0h10.7v10.7h-10.7zM125.4 232.0h10.7v10.7h-10.7zM106.1 241.7h10.7v10.7h-10.7zM115.8 241.7h10.7v10.7h-10.7zM125.4 241.7h10.7v10.7h-10.7zM135.1 241.7h10.7v10.7h-10.7zM144.8 241.7h10.7v10.7h-10.7zM106.1 251.4h10.7v10.7h-10.7zM115.8 251.4h10.7v10.7h-10.7zM125.4 251.4h10.7v10.7h-10.7zM135.1 251.4h10.7v10.7h-10.7zM144.8 251.4h10.7v10.7h-10.7zM154.5 251.4h10.7v10.7h-10.7zM164.2 251.4h10.7v10.7h-10.7zM115.8 261.1h10.7v10.7h-10.7zM125.4 261.1h10.7v10.7h-10.7zM135.1 261.1h10.7v10.7h-10.7zM144.8 261.1h10.7v10.7h-10.7zM154.5 261.1h10.7v10.7h-10.7zM164.2 261.1h10.7v10.7h-10.7zM173.9 261.1h10.7v10.7h-10.7zM115.8 270.8h10.7v10.7h-10.7zM125.4 270.8h10.7v10.7h-10.7zM135.1 270.8h10.7v10.7h-10.7zM144.8 270.8h10.7v10.7h-10.7zM154.5 270.8h10.7v10.7h-10.7zM164.2 270.8h10.7v10.7h-10.7zM173.9 270.8h10.7v10.7h-10.7zM183.6 270.8h10.7v10.7h-10.7zM154.5 280.4h10.7v10.7h-10.7zM164.2 280.4h10.7v10.7h-10.7zM173.9 280.4h10.7v10.7h-10.7zM183.6 280.4h10.7v10.7h-10.7zM193.2 280.4h10.7v10.7h-10.7zM202.9 280.4h10.7v10.7h-10.7zM154.5 290.1h10.7v10.7h-10.7zM164.2 290.1h10.7v10.7h-10.7zM173.9 290.1h10.7v10.7h-10.7zM183.6 290.1h10.7v10.7h-10.7zM193.2 290.1h10.7v10.7h-10.7zM202.9 290.1h10.7v10.7h-10.7zM212.6 290.1h10.7v10.7h-10.7zM222.3 290.1h10.7v10.7h-10.7zM154.5 299.8h10.7v10.7h-10.7zM164.2 299.8h10.7v10.7h-10.7zM173.9 299.8h10.7v10.7h-10.7zM183.6 299.8h10.7v10.7h-10.7zM193.2 299.8h10.7v10.7h-10.7zM202.9 299.8h10.7v10.7h-10.7zM212.6 299.8h10.7v10.7h-10.7zM222.3 299.8h10.7v10.7h-10.7zM232.0 299.8h10.7v10.7h-10.7zM241.7 299.8h10.7v10.7h-10.7z" fill="#fff" filter="url(#blurMask)"/></mask>
<rect x="0" y="0" width="310" height="310" fill="url(#patF)" mask="url(#mF0)" opacity="0.9"/>
<mask id="mH0" maskUnits="userSpaceOnUse" x="-20" y="-20" width="350" height="350"><path d="M-0.5 115.8h10.7v10.7h-10.7zM9.2 115.8h10.7v10.7h-10.7zM18.9 115.8h10.7v10.7h-10.7zM28.6 115.8h10.7v10.7h-10.7zM38.2 115.8h10.7v10.7h-10.7zM47.9 115.8h10.7v10.7h-10.7zM57.6 115.8h10.7v10.7h-10.7zM-0.5 125.4h10.7v10.7h-10.7zM9.2 125.4h10.7v10.7h-10.7zM18.9 125.4h10.7v10.7h-10.7zM28.6 125.4h10.7v10.7h-10.7zM38.2 125.4h10.7v10.7h-10.7zM47.9 125.4h10.7v10.7h-10.7zM57.6 125.4h10.7v10.7h-10.7zM-0.5 135.1h10.7v10.7h-10.7zM9.2 135.1h10.7v10.7h-10.7zM18.9 135.1h10.7v10.7h-10.7zM28.6 135.1h10.7v10.7h-10.7zM38.2 135.1h10.7v10.7h-10.7zM47.9 135.1h10.7v10.7h-10.7zM57.6 135.1h10.7v10.7h-10.7zM67.3 135.1h10.7v10.7h-10.7zM77.0 135.1h10.7v10.7h-10.7zM-0.5 144.8h10.7v10.7h-10.7zM9.2 144.8h10.7v10.7h-10.7zM18.9 144.8h10.7v10.7h-10.7zM28.6 144.8h10.7v10.7h-10.7zM38.2 144.8h10.7v10.7h-10.7zM47.9 144.8h10.7v10.7h-10.7zM57.6 144.8h10.7v10.7h-10.7zM67.3 144.8h10.7v10.7h-10.7zM77.0 144.8h10.7v10.7h-10.7zM28.6 154.5h10.7v10.7h-10.7zM38.2 154.5h10.7v10.7h-10.7zM47.9 154.5h10.7v10.7h-10.7zM57.6 154.5h10.7v10.7h-10.7zM28.6 164.2h10.7v10.7h-10.7zM38.2 164.2h10.7v10.7h-10.7zM47.9 164.2h10.7v10.7h-10.7zM57.6 164.2h10.7v10.7h-10.7z" fill="#fff" filter="url(#blurMask)"/></mask>
<rect x="0" y="0" width="310" height="310" fill="url(#patH)" mask="url(#mH0)" opacity="0.9"/>
<g filter="url(#soft)"><path d="M244.4,52.0 L245.2,50.5 L246.4,48.2 L247.9,45.9 L250.0,44.1 L253.0,43.1 L256.6,42.4 L260.3,42.0 L263.6,41.9 L266.6,41.9 L269.5,42.2 L272.0,42.9 L273.8,44.1 L274.9,46.1 L275.3,48.7 L275.3,51.5 L274.9,54.3 L274.3,57.3 L273.3,60.5 L272.0,63.4 L270.4,65.6 L268.5,66.9 L266.2,67.6 L263.7,67.9 L261.4,67.9 L259.0,67.7 L256.7,67.3 L254.4,66.5 L252.3,65.6 L250.3,64.5 L248.4,63.2 L246.8,61.6 L245.5,60.0 L244.8,58.0 L244.5,55.7 L244.5,53.5 L244.4,52.0Z" fill="#d8412f" /></g><g filter="url(#soft2)"><path d="M248.3,52.8 L249.0,51.7 L249.8,50.0 L251.0,48.3 L252.5,47.0 L254.7,46.2 L257.3,45.7 L260.1,45.4 L262.6,45.3 L264.8,45.3 L266.9,45.6 L268.8,46.1 L270.1,47.0 L270.9,48.4 L271.2,50.3 L271.2,52.4 L270.9,54.5 L270.5,56.7 L269.7,59.1 L268.8,61.2 L267.6,62.9 L266.2,63.8 L264.5,64.3 L262.7,64.5 L260.9,64.6 L259.2,64.4 L257.4,64.1 L255.8,63.6 L254.2,62.9 L252.7,62.0 L251.3,61.0 L250.1,59.9 L249.2,58.7 L248.7,57.2 L248.4,55.5 L248.4,53.9 L248.3,52.8Z" fill="#f8d08e" /></g>
<g filter="url(#soft)"><path d="M252.3,72.4 L253.9,71.4 L256.1,70.0 L258.7,68.6 L261.4,67.9 L264.1,67.8 L267.1,68.2 L270.0,69.0 L272.7,70.2 L275.1,71.7 L277.3,73.8 L279.2,76.0 L280.6,78.1 L281.6,80.1 L282.2,82.2 L282.3,84.2 L281.7,86.0 L280.2,87.7 L277.8,89.2 L275.2,90.6 L272.7,91.6 L270.4,92.4 L268.1,92.9 L265.8,93.1 L263.6,92.8 L261.5,91.9 L259.3,90.5 L257.3,88.9 L255.7,87.1 L254.5,85.3 L253.5,83.2 L252.8,81.2 L252.3,79.2 L252.1,77.3 L252.1,75.3 L252.2,73.6 L252.3,72.4Z" fill="#d8412f" /></g><g filter="url(#soft2)"><path d="M255.8,74.5 L257.0,73.8 L258.7,72.8 L260.6,71.8 L262.5,71.2 L264.6,71.2 L266.8,71.5 L269.0,72.0 L270.9,72.9 L272.7,74.0 L274.3,75.5 L275.7,77.2 L276.8,78.7 L277.5,80.2 L278.0,81.8 L278.0,83.2 L277.6,84.6 L276.5,85.8 L274.7,87.0 L272.8,88.0 L270.9,88.8 L269.2,89.3 L267.5,89.7 L265.8,89.8 L264.2,89.6 L262.6,89.0 L261.0,87.9 L259.6,86.7 L258.3,85.4 L257.4,84.1 L256.7,82.5 L256.2,81.0 L255.8,79.6 L255.7,78.1 L255.7,76.7 L255.8,75.4 L255.8,74.5Z" fill="#f8d08e" /></g>
<g filter="url(#soft)"><path d="M212.7,177.6 L212.9,175.5 L213.1,172.3 L213.6,169.0 L215.0,166.3 L217.3,164.3 L220.5,162.6 L224.0,161.3 L227.4,160.7 L230.9,160.7 L234.7,161.3 L238.2,162.4 L241.0,164.1 L243.0,166.4 L244.5,169.4 L245.4,172.6 L245.5,175.4 L244.8,177.7 L243.4,180.0 L241.3,181.9 L238.7,183.3 L235.3,184.2 L231.0,184.8 L226.7,184.9 L222.9,184.4 L219.7,183.1 L216.8,181.1 L214.4,179.0 L212.7,177.6Z" fill="#d8412f" /></g><g filter="url(#soft2)"><path d="M220.1,175.6 L220.1,174.4 L220.2,172.7 L220.6,170.9 L221.3,169.4 L222.6,168.3 L224.3,167.3 L226.3,166.6 L228.1,166.3 L230.1,166.3 L232.1,166.6 L234.1,167.2 L235.6,168.1 L236.7,169.4 L237.6,171.1 L238.0,172.8 L238.1,174.3 L237.7,175.7 L236.9,176.9 L235.8,177.9 L234.4,178.7 L232.5,179.2 L230.1,179.5 L227.7,179.6 L225.7,179.3 L223.9,178.6 L222.3,177.5 L221.0,176.4 L220.1,175.6Z" fill="#f6e6a8" /></g>
<circle cx="46.7" cy="149.9" r="11.00" fill="#f2f8c4"/>
<circle cx="46.7" cy="149.9" r="10.34" fill="#fed894"/>
<circle cx="46.7" cy="149.9" r="9.69" fill="#f68c4e"/>
<circle cx="46.7" cy="149.9" r="9.03" fill="#d62f26"/>
<circle cx="46.7" cy="149.9" r="8.38" fill="#4690c1"/>
<circle cx="46.7" cy="149.9" r="7.72" fill="#a5d6ae"/>
<circle cx="46.7" cy="149.9" r="7.06" fill="#f2f8c4"/>
<circle cx="46.7" cy="149.9" r="6.41" fill="#fed894"/>
<circle cx="46.7" cy="149.9" r="5.75" fill="#f68c4e"/>
<circle cx="46.7" cy="149.9" r="5.09" fill="#d62f26"/>
<circle cx="46.7" cy="149.9" r="4.44" fill="#4690c1"/>
<circle cx="46.7" cy="149.9" r="3.78" fill="#a5d6ae"/>
<circle cx="46.7" cy="149.9" r="3.12" fill="#f2f8c4"/>
<circle cx="46.7" cy="149.9" r="2.47" fill="#fed894"/>
<circle cx="46.7" cy="149.9" r="1.81" fill="#f68c4e"/>
<circle cx="46.7" cy="149.9" r="1.16" fill="#d62f26"/>
<g fill="none" stroke-width="0.88" stroke-linejoin="round">
<path d="M0 129.8l4.7-4.7 4.9-4.5 5.7-3.3 6.5-.2 6.4 1.6 6.5 1.6 6.4 1.8 6.4 1.8 6.4 1.8 6.3 1.9 6.4 1.9 6.4 1.8 6.4 1.8 6.4 1.8 6.4 1.7 6.5 1.7 6.4 1.6" stroke="#d62f26"/>
<path d="M0 130.2l4.8-4.6 4.9-4.3 5.7-3.4 6.5-.1 6.4 1.4 6.5 1.6 6.4 1.7 6.3 1.8 6.4 1.7 6.4 1.9 6.4 1.8 6.3 1.9 6.4 1.8 6.4 1.7 6.5 1.7 6.4 1.6 6.4 1.7" stroke="#f68c4e"/>
<path d="M0 130.6l4.8-4.5 5-4.2 5.7-3.3 6.4-.2 6.5 1.4 6.4 1.5 6.4 1.6 6.4 1.7 6.4 1.7 6.4 1.8 6.3 1.9 6.4 1.8 6.4 1.8 6.4 1.7 6.4 1.7 6.4 1.6 6.4 1.7" stroke="#fed894"/>
<path d="M0 131l4.9-4.4 5-4.1 5.7-3.2 6.4-.3 6.5 1.4 6.4 1.4 6.4 1.6 6.4 1.6 6.3 1.6 6.4 1.8 6.4 1.8 6.3 1.9 6.4 1.8 6.4 1.7 6.4 1.6 6.4 1.6 6.4 1.7" stroke="#f2f8c4"/>
<path d="M0 131.4l4.9-4.2 5-4.1 5.8-3.2 6.4-.3 6.4 1.3 6.5 1.4 6.3 1.5 6.4 1.5 6.4 1.6 6.4 1.7 6.3 1.9 6.3 1.9 6.4 1.7 6.4 1.7 6.4 1.6 6.4 1.6 6.4 1.7" stroke="#a5d6ae"/>
<path d="M0 131.8l4.9-4.1 5.1-4 5.8-3.1 6.4-.3 6.4 1.2 6.4 1.3 6.4 1.4 6.4 1.5 6.4 1.6 6.3 1.6 6.4 1.8 6.3 1.9 6.3 1.8 6.4 1.6 6.4 1.6 6.4 1.6 6.4 1.6" stroke="#4690c1"/>
<path d="M0 132.2l5-4 5.1-3.9 5.8-3 6.4-.4 6.4 1.1 6.4 1.3 6.4 1.3 6.3 1.5 6.4 1.5 6.4 1.6 6.3 1.8 6.3 1.9 6.4 1.7 6.3 1.6 6.4 1.7 6.4 1.5 6.4 1.6" stroke="#d62f26"/>
<path d="M0 132.6l5-3.9 5.2-3.8 5.7-3 6.5-.4 6.4 1.1 6.4 1.2 6.3 1.3 6.4 1.3 6.4 1.5 6.3 1.5 6.3 1.9 6.4 1.8 6.3 1.7 6.4 1.7 6.3 1.6 6.4 1.5 6.4 1.6" stroke="#f68c4e"/>
<path d="M0 133l5.1-3.8 5.2-3.6 5.7-3 6.4-.4 6.4 .9 6.4 1.2 6.4 1.2 6.4 1.3 6.3 1.4 6.4 1.5 6.3 1.8 6.3 1.9 6.3 1.7 6.4 1.6 6.4 1.6 6.3 1.5 6.4 1.6" stroke="#fed894"/>
<path d="M0 133.4l5.1-3.7 5.2-3.5 5.8-2.9 6.4-.5 6.4 .9 6.4 1 6.4 1.2 6.3 1.2 6.4 1.4 6.3 1.5 6.3 1.8 6.3 1.8 6.4 1.7 6.3 1.6 6.4 1.6 6.3 1.5 6.4 1.6" stroke="#f2f8c4"/>
<path d="M0 133.8l5.2-3.6 5.2-3.4 5.8-2.9 6.4-.5 6.4 .9 6.4 .9 6.3 1.1 6.4 1.2 6.3 1.3 6.4 1.4 6.3 1.8 6.3 1.9 6.3 1.7 6.3 1.6 6.4 1.5 6.4 1.5 6.3 1.5" stroke="#a5d6ae"/>
<path d="M0 134.2l5.2-3.5 5.3-3.3 5.8-2.8 6.4-.6 6.4 .8 6.3 .9 6.4 1.1 6.4 1.1 6.3 1.2 6.4 1.4 6.2 1.8 6.3 1.9 6.3 1.6 6.3 1.6 6.4 1.5 6.4 1.5 6.3 1.5" stroke="#4690c1"/>
<path d="M0 134.6l5.2-3.3 5.4-3.3 5.8-2.7 6.4-.6 6.3 .7 6.4 .8 6.4 1 6.3 1 6.4 1.2 6.3 1.4 6.3 1.7 6.2 1.9 6.3 1.7 6.4 1.5 6.3 1.5 6.4 1.5 6.3 1.5" stroke="#d62f26"/>
<path d="M0 135l5.3-3.2 5.4-3.2 5.8-2.6 6.3-.7 6.4 .6 6.4 .8 6.3 .9 6.4 1 6.3 1.1 6.4 1.3 6.2 1.8 6.3 1.9 6.3 1.6 6.3 1.6 6.3 1.5 6.4 1.4 6.3 1.5" stroke="#f68c4e"/>
<path d="M0 135.4l5.3-3.1 5.4-3.1 5.9-2.6 6.3-.7 6.4 .6 6.4 .7 6.3 .8 6.3 1 6.4 1 6.3 1.3 6.3 1.8 6.2 1.8 6.3 1.7 6.3 1.5 6.3 1.5 6.4 1.4 6.3 1.5" stroke="#fed894"/>
<path d="M0 135.8l5.4-3 5.4-3 5.9-2.5 6.3-.7 6.4 .5 6.3 .6 6.4 .8 6.3 .8 6.3 1 6.4 1.2 6.2 1.8 6.2 1.9 6.3 1.6 6.3 1.5 6.4 1.5 6.3 1.4 6.3 1.4" stroke="#f2f8c4"/>
<path d="M0 136.2l5.4-2.9 5.5-2.8 5.9-2.5 6.3-.8 6.3 .4 6.4 .6 6.3 .7 6.4 .8 6.3 .9 6.3 1.2 6.3 1.8 6.2 1.9 6.2 1.6 6.4 1.5 6.3 1.4 6.3 1.4 6.3 1.4" stroke="#a5d6ae"/>
<path d="M0 136.6l5.5-2.8 5.5-2.7 5.9-2.5 6.3-.8 6.3 .4 6.4 .5 6.3 .6 6.3 .7 6.4 .9 6.3 1.2 6.2 1.7 6.2 1.9 6.3 1.6 6.3 1.5 6.3 1.4 6.3 1.4 6.3 1.4" stroke="#4690c1"/>
<path d="M0 137l5.5-2.7 5.6-2.6 5.9-2.4 6.2-.9 6.4 .3 6.3 .5 6.4 .5 6.3 .7 6.3 .8 6.3 1.1 6.3 1.8 6.1 1.9 6.3 1.6 6.3 1.4 6.3 1.4 6.3 1.4 6.3 1.4" stroke="#d62f26"/>
<path d="M0 137.4l5.5-2.6 5.6-2.5 6-2.3 6.2-.9 6.4 .2 6.3 .4 6.3 .5 6.3 .6 6.4 .7 6.3 1.1 6.2 1.7 6.2 1.9 6.2 1.6 6.3 1.5 6.3 1.3 6.3 1.4 6.3 1.4" stroke="#f68c4e"/>
<path d="M0 137.8l5.6-2.4 5.6-2.5 5.9-2.3 6.3-.9 6.3 .2 6.4 .3 6.3 .4 6.3 .5 6.3 .7 6.3 1.1 6.3 1.7 6.1 1.9 6.3 1.6 6.2 1.4 6.3 1.4 6.3 1.3 6.3 1.4" stroke="#fed894"/>
<path d="M0 138.2l5.6-2.3 5.7-2.4 5.9-2.2 6.3-1 6.3 .1 6.3 .3 6.3 .3 6.4 .5 6.3 .6 6.3 1 6.2 1.7 6.1 2 6.3 1.5 6.3 1.4 6.2 1.4 6.3 1.3 6.3 1.3" stroke="#f2f8c4"/>
<path d="M0 138.6l5.7-2.2 5.7-2.3 5.9-2.1 6.3-1.1 6.3 .1 6.3 .2 6.3 .2 6.3 .5 6.3 .5 6.4 1 6.1 1.7 6.2 1.9 6.2 1.6 6.3 1.3 6.3 1.4 6.2 1.3 6.3 1.3" stroke="#a5d6ae"/>
<path d="M0 139l5.7-2.1 5.8-2.1 5.9-2.2 6.3-1 6.3-.1 6.3 .2 6.3 .2 6.3 .3 6.3 .5 6.3 1 6.2 1.7 6.1 1.9 6.2 1.5 6.3 1.4 6.3 1.3 6.2 1.3 6.3 1.3" stroke="#4690c1"/>
<path d="M0 139.4l5.8-2 5.7-2 6-2.1 6.2-1.1 6.3-.1 6.3 0 6.3 .2 6.4 .3 6.3 .4 6.3 .9 6.1 1.7 6.1 1.9 6.3 1.5 6.2 1.4 6.3 1.3 6.2 1.3 6.3 1.3" stroke="#d62f26"/>
<path d="M0 139.8l5.8-1.9 5.8-1.9 6-2 6.2-1.2 6.3-.1 6.3-.1 6.3 .1 6.3 .2 6.3 .4 6.3 .9 6.2 1.7 6.1 1.9 6.2 1.5 6.2 1.3 6.3 1.3 6.3 1.3 6.2 1.3" stroke="#f68c4e"/>
<path d="M0 140.2l5.8-1.8 5.9-1.8 6-2 6.2-1.1 6.3-.3 6.3-.1 6.3 .1 6.3 .1 6.3 .4 6.3 .8 6.1 1.6 6.1 2 6.2 1.4 6.3 1.4 6.2 1.2 6.3 1.3 6.2 1.2" stroke="#fed894"/>
<path d="M0 140.6l5.9-1.7 5.9-1.7 6-1.9 6.2-1.2 6.3-.3 6.2-.2 6.3 0 6.3 .1 6.3 .3 6.3 .7 6.2 1.7 6 1.9 6.2 1.5 6.3 1.3 6.2 1.3 6.3 1.2 6.2 1.2" stroke="#f2f8c4"/>
<path d="M0 141l5.9-1.5 6-1.7 6-1.8 6.2-1.3 6.2-.4 6.3-.2 6.3-.1 6.3 0 6.3 .3 6.3 .7 6.1 1.6 6.1 2 6.2 1.4 6.2 1.3 6.2 1.3 6.3 1.2 6.2 1.2" stroke="#a5d6ae"/>
<path d="M0 141.4l6-1.4 5.9-1.6 6.1-1.7 6.1-1.4 6.3-.4 6.3-.3 6.3-.2 6.3 0 6.3 .2 6.2 .6 6.2 1.7 6 1.9 6.2 1.5 6.2 1.3 6.2 1.2 6.3 1.2 6.2 1.2" stroke="#4690c1"/>
<path d="M0 141.8l6-1.3 6-1.4 6.1-1.8 6.1-1.3 6.3-.5 6.3-.4 6.2-.2 6.3-.2 6.3 .2 6.3 .6 6.1 1.7 6.1 1.9 6.1 1.4 6.2 1.3 6.3 1.2 6.2 1.2 6.2 1.2" stroke="#d62f26"/>
<path d="M0 142.2l6-1.2 6.1-1.3 6.1-1.7 6.1-1.4 6.3-.6 6.2-.4 6.3-.3 6.3-.2 6.3 .1 6.3 .6 6.1 1.6 6 2 6.2 1.4 6.2 1.2 6.2 1.2 6.2 1.2 6.2 1.2" stroke="#f68c4e"/>
<path d="M0 142.6l6.1-1.1 6.1-1.2 6.1-1.6 6.1-1.5 6.2-.6 6.3-.5 6.3-.4 6.2-.2 6.3 0 6.3 .5 6.1 1.7 6 1.9 6.2 1.4 6.2 1.3 6.2 1.1 6.2 1.2 6.2 1.1" stroke="#fed894"/>
<path d="M0 143l6.1-1 6.2-1.1 6.1-1.6 6.1-1.4 6.2-.8 6.3-.5 6.2-.5 6.3-.3 6.3 0 6.3 .5 6.1 1.6 6 2 6.1 1.4 6.2 1.2 6.2 1.1 6.2 1.2 6.2 1.1" stroke="#f2f8c4"/>
<path d="M0 143.4l6.2-.9 6.1-1 6.1-1.5 6.1-1.5 6.3-.8 6.2-.6 6.3-.5 6.3-.4 6.2-.1 6.3 .5 6.1 1.6 6 1.9 6.1 1.4 6.2 1.2 6.2 1.2 6.2 1.1 6.2 1.1" stroke="#a5d6ae"/>
<path d="M0 143.8l6.2-.8 6.2-.9 6.1-1.4 6.1-1.6 6.3-.8 6.2-.7 6.3-.6 6.2-.4 6.3-.2 6.3 .4 6 1.6 6 2 6.2 1.4 6.1 1.1 6.2 1.2 6.2 1.1 6.2 1.1" stroke="#4690c1"/>
</g>
<g fill="none" stroke-width="1.55" stroke-linejoin="round">
<path d="M70.1 146.4l4 .2 3.9 .2 4 .3 3.9 .8 3.8 1.1 3.6 1.8 2.8 2.7 1.9 3.5 1.2 3.7 .6 3.9 0 3.9-.8 3.9-1.3 3.7-1.8 3.6-2.1 3.3-2.4 3.2-2.7 2.9-2.6 3-2.5 3.1-2.5 3.1-2.3 3.3-1.8 3.5-1.3 3.7-.8 3.9-.1 4 .5 3.9 1.1 3.8 1.9 3.5 2.3 3.3" stroke="#d62f26"/>
<path d="M70.3 146.2l4 .1 4 .2 4 .4 4 .7 3.8 1.2 3.6 1.7 2.9 2.7 2 3.4 1.3 3.7 .7 3.9 .1 3.9-.7 3.8-1.2 3.8-1.7 3.6-2 3.4-2.5 3.2-2.7 3-2.6 3-2.6 3.1-2.5 3.1-2.3 3.3-1.9 3.5-1.4 3.7-.8 3.9-.2 4 .5 4 1 3.8 1.9 3.6 2.3 3.3" stroke="#f68c4e"/>
<path d="M70.5 145.9l4 .2 4.1 .2 4 .4 4 .7 3.9 1.1 3.7 1.7 3 2.7 2 3.3 1.4 3.7 .8 3.8 .2 3.9-.5 3.9-1.1 3.7-1.7 3.7-2 3.4-2.4 3.3-2.7 3-2.7 3-2.6 3.1-2.6 3.2-2.4 3.3-1.9 3.5-1.5 3.7-.9 3.9-.2 4 .4 4 1 3.9 1.9 3.6 2.3 3.4" stroke="#fed894"/>
<path d="M70.6 145.7l4.1 .2 4.1 .2 4.1 .3 4.1 .7 3.9 1.2 3.7 1.7 3.1 2.6 2.1 3.3 1.5 3.6 1 3.7 .2 3.9-.4 3.9-1 3.8-1.5 3.6-2 3.6-2.5 3.3-2.7 3-2.7 3.1-2.7 3.1-2.6 3.2-2.4 3.3-2 3.5-1.6 3.7-.9 3.9-.3 4.1 .3 4 1 3.9 1.9 3.7 2.3 3.4" stroke="#f2f8c4"/>
<path d="M70.8 145.4l4.2 .2 4.1 .2 4.1 .4 4.1 .7 4 1.1 3.8 1.7 3.1 2.5 2.2 3.3 1.6 3.6 1.1 3.7 .3 3.8-.3 3.9-.9 3.8-1.4 3.7-2 3.6-2.4 3.3-2.7 3.2-2.8 3.1-2.7 3.1-2.7 3.2-2.4 3.3-2.1 3.5-1.6 3.7-1.1 3.9-.4 4.1 .3 4 1 4 1.9 3.7 2.3 3.5" stroke="#a5d6ae"/>
<path d="M71 145.2l4.2 .2 4.2 .2 4.1 .4 4.2 .7 4 1.1 3.8 1.6 3.2 2.5 2.3 3.2 1.7 3.5 1.2 3.7 .4 3.9-.2 3.8-.8 3.9-1.3 3.7-2 3.7-2.4 3.3-2.7 3.2-2.8 3.1-2.7 3.2-2.7 3.2-2.6 3.3-2.1 3.5-1.7 3.7-1.1 3.9-.5 4.1 .3 4.1 .9 4 1.9 3.8 2.3 3.5" stroke="#4690c1"/>
<path d="M71.2 144.9l4.2 .2 4.2 .3 4.3 .3 4.1 .7 4.1 1.1 3.9 1.7 3.2 2.4 2.4 3.2 1.8 3.4 1.3 3.7 .5 3.8 0 3.9-.7 3.8-1.3 3.8-1.9 3.7-2.4 3.4-2.8 3.3-2.8 3.1-2.8 3.2-2.7 3.2-2.6 3.3-2.2 3.5-1.8 3.7-1.2 3.9-.5 4.1 .2 4.2 .9 4.1 1.9 3.7 2.3 3.6" stroke="#d62f26"/>
<path d="M71.4 144.7l4.2 .2 4.3 .2 4.3 .4 4.2 .7 4.1 1.1 3.9 1.6 3.3 2.4 2.5 3.1 1.9 3.4 1.4 3.6 .7 3.8 0 3.9-.6 3.9-1.2 3.8-1.9 3.8-2.4 3.4-2.7 3.3-2.9 3.2-2.8 3.2-2.8 3.1-2.7 3.3-2.2 3.6-1.9 3.7-1.2 4-.6 4.1 .1 4.1 .9 4.2 1.9 3.8 2.3 3.6" stroke="#f68c4e"/>
<path d="M71.6 144.5l4.3 .2 4.3 .2 4.3 .4 4.2 .7 4.2 1 4 1.6 3.3 2.4 2.6 3 2 3.4 1.5 3.6 .8 3.7 .1 3.9-.5 3.9-1.1 3.9-1.8 3.8-2.4 3.5-2.8 3.3-2.9 3.2-2.8 3.3-2.9 3.1-2.7 3.3-2.4 3.6-1.8 3.7-1.4 4-.6 4.1 0 4.2 .9 4.2 1.9 3.8 2.3 3.7" stroke="#fed894"/>
<path d="M71.7 144.2l4.4 .2 4.3 .3 4.4 .3 4.3 .7 4.2 1.1 4 1.5 3.5 2.4 2.6 3 2.1 3.3 1.6 3.5 .9 3.8 .2 3.8-.4 4-1 3.9-1.8 3.8-2.4 3.6-2.8 3.4-2.9 3.2-2.9 3.2-2.9 3.2-2.7 3.3-2.5 3.6-1.9 3.7-1.4 4-.7 4.1 0 4.3 .8 4.2 1.9 3.9 2.3 3.7" stroke="#f2f8c4"/>
<path d="M71.9 144l4.4 .2 4.4 .2 4.4 .4 4.3 .7 4.3 1 4.1 1.6 3.5 2.3 2.7 2.9 2.2 3.3 1.7 3.5 1 3.7 .4 3.8-.3 4-1 4-1.7 3.9-2.4 3.6-2.8 3.4-3 3.3-2.9 3.2-3 3.2-2.8 3.3-2.5 3.6-2 3.7-1.5 4-.8 4.1 0 4.3 .8 4.3 1.9 3.9 2.3 3.8" stroke="#a5d6ae"/>
<path d="M72.1 143.7l4.4 .3 4.5 .2 4.4 .4 4.4 .7 4.3 1 4.1 1.5 3.6 2.3 2.8 2.8 2.3 3.2 1.8 3.5 1.1 3.7 .5 3.9-.2 4-.9 4-1.7 3.9-2.4 3.7-2.8 3.4-3 3.3-2.9 3.3-3.1 3.2-2.8 3.3-2.6 3.5-2.1 3.8-1.5 4-.9 4.2-.1 4.3 .8 4.3 1.9 4 2.3 3.8" stroke="#4690c1"/>
<path d="M72.3 143.5l4.5 .2 4.4 .3 4.5 .3 4.4 .7 4.4 1 4.1 1.5 3.7 2.2 2.9 2.9 2.4 3.1 1.9 3.4 1.2 3.7 .6 3.9-.1 4-.8 4.1-1.6 4-2.4 3.7-2.8 3.5-3 3.3-3.1 3.3-3.1 3.2-2.9 3.3-2.6 3.5-2.2 3.8-1.6 4-.9 4.2-.1 4.3 .7 4.4 1.9 4 2.3 3.9" stroke="#d62f26"/>
<path d="M72.5 143.2l4.5 .3 4.5 .2 4.5 .4 4.5 .7 4.4 1 4.2 1.5 3.7 2.1 3 2.8 2.5 3.1 2 3.4 1.3 3.6 .7 3.9 .1 4.1-.8 4-1.6 4.1-2.4 3.8-2.8 3.5-3 3.4-3.1 3.3-3.1 3.2-3 3.3-2.7 3.5-2.2 3.8-1.7 4-1 4.2-.2 4.4 .7 4.4 1.9 4.1 2.3 3.9" stroke="#f68c4e"/>
<path d="M72.6 143l4.6 .2 4.6 .3 4.5 .4 4.5 .7 4.5 1 4.2 1.4 3.8 2.1 3.1 2.7 2.6 3.1 2.1 3.3 1.4 3.7 .9 3.8 .1 4.1-.7 4.1-1.6 4.2-2.3 3.8-2.9 3.6-3 3.4-3.2 3.3-3.1 3.2-3.1 3.3-2.7 3.5-2.3 3.8-1.8 4-1 4.2-.3 4.5 .7 4.4 1.9 4.1 2.3 4" stroke="#fed894"/>
<path d="M72.8 142.7l4.6 .3 4.6 .3 4.6 .3 4.6 .7 4.5 1 4.3 1.4 3.8 2.1 3.2 2.7 2.7 3 2.2 3.3 1.6 3.6 .9 3.9 .2 4-.6 4.2-1.5 4.2-2.4 3.9-2.8 3.6-3.1 3.4-3.2 3.4-3.2 3.2-3.1 3.3-2.8 3.5-2.4 3.8-1.8 4-1.1 4.3-.4 4.4 .7 4.5 1.9 4.2 2.3 4" stroke="#f2f8c4"/>
<path d="M73 142.5l4.7 .3 4.6 .2 4.7 .4 4.6 .7 4.5 1 4.3 1.3 3.9 2.1 3.3 2.6 2.7 3 2.4 3.2 1.7 3.6 1 3.9 .3 4.1-.4 4.2-1.6 4.2-2.3 4-2.9 3.6-3.1 3.5-3.2 3.3-3.3 3.3-3.1 3.3-2.9 3.5-2.5 3.8-1.9 4-1.2 4.3-.3 4.5 .6 4.5 1.9 4.3 2.3 4" stroke="#a5d6ae"/>
<path d="M73.2 142.3l4.7 .2 4.7 .3 4.7 .4 4.6 .6 4.6 1 4.4 1.4 4 2 3.3 2.5 2.8 3 2.5 3.2 1.8 3.5 1.2 3.9 .4 4.1-.4 4.3-1.5 4.3-2.4 4-2.9 3.7-3.1 3.5-3.3 3.3-3.3 3.3-3.2 3.3-2.9 3.5-2.5 3.8-2 4-1.3 4.3-.4 4.5 .6 4.6 1.9 4.3 2.3 4.1" stroke="#4690c1"/>
<path d="M73.4 142l4.7 .3 4.7 .3 4.8 .4 4.7 .6 4.6 1 4.4 1.3 4.1 2 3.4 2.5 2.9 2.8 2.6 3.2 1.9 3.6 1.3 3.8 .5 4.2-.3 4.3-1.5 4.3-2.3 4.1-2.9 3.7-3.2 3.5-3.3 3.4-3.4 3.3-3.2 3.3-3 3.5-2.6 3.8-2.1 4-1.3 4.4-.5 4.5 .6 4.6 1.9 4.4 2.3 4.1" stroke="#d62f26"/>
<path d="M73.6 141.8l4.7 .2 4.8 .3 4.8 .4 4.7 .7 4.7 .9 4.5 1.3 4.1 2 3.5 2.4 3 2.8 2.7 3.2 2 3.5 1.4 3.9 .6 4.1-.2 4.4-1.4 4.4-2.4 4.1-2.9 3.8-3.2 3.5-3.3 3.4-3.5 3.3-3.3 3.3-3 3.5-2.7 3.8-2.1 4-1.4 4.4-.6 4.6 .6 4.6 1.9 4.4 2.3 4.2" stroke="#f68c4e"/>
<path d="M73.7 141.5l4.9 .3 4.8 .3 4.8 .4 4.8 .6 4.7 1 4.5 1.3 4.2 1.8 3.6 2.5 3.1 2.7 2.8 3.1 2.1 3.5 1.5 3.9 .7 4.2-.1 4.4-1.4 4.4-2.3 4.2-2.9 3.8-3.3 3.6-3.4 3.4-3.5 3.2-3.3 3.4-3.1 3.5-2.8 3.8-2.1 4-1.5 4.4-.6 4.6 .5 4.7 1.9 4.5 2.3 4.2" stroke="#fed894"/>
<path d="M73.9 141.3l4.9 .3 4.8 .3 4.9 .4 4.8 .6 4.8 .9 4.6 1.3 4.2 1.8 3.7 2.4 3.2 2.7 2.9 3.1 2.2 3.4 1.7 3.9 .8 4.2-.1 4.5-1.3 4.5-2.4 4.2-2.9 3.8-3.3 3.6-3.4 3.5-3.5 3.2-3.5 3.4-3.1 3.5-2.8 3.8-2.3 4-1.5 4.4-.7 4.7 .5 4.7 1.9 4.5 2.3 4.3" stroke="#f2f8c4"/>
<path d="M74.1 141l4.9 .3 4.9 .3 4.9 .4 4.9 .7 4.8 .9 4.6 1.2 4.3 1.8 3.8 2.3 3.3 2.7 3 3 2.4 3.5 1.7 3.8 .9 4.3 0 4.5-1.3 4.5-2.3 4.3-3 3.9-3.3 3.6-3.4 3.4-3.6 3.3-3.5 3.4-3.2 3.5-2.9 3.8-2.3 4-1.7 4.5-.7 4.7 .5 4.7 1.9 4.6 2.3 4.3" stroke="#a5d6ae"/>
<path d="M74.3 140.8l4.9 .3 5 .3 4.9 .4 4.9 .6 4.9 .9 4.7 1.3 4.3 1.7 3.9 2.3 3.4 2.6 3.1 2.9 2.5 3.5 1.8 3.8 1 4.3 .1 4.6-1.3 4.6-2.3 4.3-2.9 3.9-3.4 3.7-3.5 3.4-3.6 3.3-3.5 3.4-3.3 3.5-3 3.7-2.4 4.2-1.7 4.4-.8 4.7 .5 4.9 1.9 4.5 2.3 4.4" stroke="#4690c1"/>
<path d="M74.5 140.6l5 .3 4.9 .3 5 .4 5 .6 4.9 .9 4.7 1.2 4.5 1.7 3.9 2.2 3.5 2.5 3.2 3 2.6 3.4 1.9 3.9 1.1 4.3 .2 4.5-1.2 4.7-2.3 4.4-3 4-3.4 3.6-3.5 3.5-3.7 3.3-3.6 3.4-3.4 3.5-3 3.7-2.4 4.2-1.8 4.4-.8 4.8 .4 4.9 1.9 4.6 2.3 4.4" stroke="#d62f26"/>
<path d="M74.7 140.3l5 .3 5 .3 5 .4 5 .7 5 .8 4.8 1.2 4.5 1.7 4 2.1 3.6 2.5 3.3 2.9 2.7 3.4 2.1 3.9 1.2 4.3 .2 4.6-1.2 4.7-2.2 4.5-3 4-3.4 3.7-3.6 3.5-3.8 3.3-3.6 3.4-3.5 3.5-3 3.7-2.6 4.2-1.8 4.4-.9 4.8 .4 5 1.9 4.6 2.3 4.5" stroke="#f68c4e"/>
<path d="M74.8 140.1l5.1 .3 5.1 .3 5 .4 5.1 .6 5 .9 4.8 1.1 4.6 1.7 4.1 2.1 3.7 2.4 3.4 2.9 2.8 3.3 2.2 3.9 1.3 4.4 .3 4.6-1.1 4.8-2.3 4.5-3 4-3.4 3.8-3.7 3.5-3.8 3.3-3.7 3.4-3.5 3.5-3.1 3.7-2.6 4.2-1.9 4.5-1 4.8 .4 5 1.9 4.7 2.3 4.5" stroke="#fed894"/>
<path d="M75 139.8l5.1 .3 5.1 .4 5.2 .4 5 .6 5.1 .8 4.9 1.2 4.6 1.6 4.2 2 3.8 2.4 3.5 2.8 2.9 3.4 2.3 3.8 1.4 4.4 .4 4.7-1.1 4.8-2.2 4.6-3.1 4.1-3.4 3.8-3.7 3.5-3.9 3.3-3.7 3.4-3.6 3.5-3.2 3.7-2.7 4.2-1.9 4.5-1 4.9 .3 5 1.9 4.7 2.3 4.6" stroke="#f2f8c4"/>
<path d="M75.2 139.6l5.2 .3 5.1 .3 5.2 .4 5.1 .6 5.1 .9 4.9 1.1 4.7 1.5 4.3 2 3.9 2.4 3.6 2.8 3 3.3 2.4 3.9 1.5 4.4 .5 4.7-1 4.9-2.3 4.6-3 4.1-3.5 3.8-3.8 3.6-3.9 3.3-3.7 3.4-3.7 3.5-3.3 3.7-2.7 4.2-2.1 4.5-1 4.9 .3 5.1 1.9 4.8 2.3 4.6" stroke="#a5d6ae"/>
<path d="M75.4 139.3l5.2 .4 5.2 .3 5.2 .4 5.1 .6 5.2 .8 5 1.1 4.7 1.5 4.4 2 4 2.3 3.7 2.7 3.2 3.3 2.5 3.9 1.6 4.4 .5 4.8-1 4.9-2.2 4.7-3.1 4.2-3.5 3.8-3.8 3.5-3.9 3.4-3.9 3.4-3.7 3.5-3.4 3.7-2.8 4.2-2.1 4.5-1.1 5 .3 5.1 1.9 4.8 2.3 4.7" stroke="#4690c1"/>
<path d="M75.6 139.1l5.2 .3 5.2 .4 5.3 .4 5.2 .6 5.2 .8 5 1.1 4.8 1.4 4.5 1.9 4.1 2.3 3.8 2.7 3.3 3.2 2.6 3.9 1.7 4.4 .7 4.9-1 5-2.3 4.7-3.1 4.2-3.5 3.9-3.8 3.5-4 3.4-3.9 3.4-3.8 3.5-3.4 3.7-2.9 4.2-2.2 4.6-1.2 4.9 .3 5.2 1.9 4.9 2.3 4.7" stroke="#d62f26"/>
<path d="M75.7 138.9l5.3 .3 5.3 .3 5.3 .4 5.2 .6 5.3 .8 5.1 1.1 4.9 1.4 4.5 1.8 4.2 2.2 3.9 2.7 3.4 3.3 2.7 3.8 1.8 4.5 .8 4.9-1 5-2.2 4.8-3.1 4.2-3.6 3.9-3.9 3.6-4 3.4-4 3.4-3.8 3.5-3.5 3.7-3 4.2-2.2 4.6-1.2 5 .2 5.2 1.9 4.9 2.3 4.8" stroke="#f68c4e"/>
<path d="M75.9 138.6l5.4 .4 5.3 .3 5.3 .4 5.3 .6 5.3 .8 5.1 1 5 1.4 4.6 1.8 4.3 2.1 4 2.7 3.5 3.2 2.8 3.9 2 4.4 .8 5-1 5.1-2.2 4.7-3.1 4.4-3.6 3.9-3.9 3.6-4.1 3.3-4 3.5-3.9 3.5-3.6 3.7-3 4.2-2.3 4.6-1.3 5.1 .2 5.2 1.9 5 2.3 4.8" stroke="#fed894"/>
<path d="M76.1 138.4l5.4 .3 5.3 .4 5.4 .4 5.4 .6 5.3 .8 5.2 .9 5 1.4 4.7 1.7 4.4 2.1 4.1 2.6 3.6 3.2 3 3.9 2 4.5 .9 5-.9 5.1-2.2 4.8-3.1 4.4-3.7 4-3.9 3.6-4.2 3.3-4.1 3.5-3.9 3.5-3.7 3.7-3.1 4.2-2.3 4.7-1.4 5 .2 5.3 1.9 5 2.3 4.9" stroke="#f2f8c4"/>
<path d="M76.3 138.1l5.4 .4 5.4 .3 5.4 .5 5.4 .5 5.4 .8 5.2 1 5.1 1.3 4.8 1.6 4.5 2.1 4.2 2.5 3.7 3.2 3.1 3.9 2.1 4.5 1 5-.9 5.2-2.2 4.9-3.1 4.5-3.7 3.9-4 3.7-4.2 3.3-4.1 3.5-4 3.5-3.7 3.7-3.2 4.2-2.5 4.7-1.4 5.1 .2 5.3 1.9 5.1 2.3 4.9" stroke="#a5d6ae"/>
<path d="M76.5 137.9l5.4 .3 5.5 .4 5.4 .4 5.5 .6 5.4 .8 5.3 .9 5.1 1.3 4.9 1.6 4.6 2 4.3 2.5 3.8 3.2 3.2 3.8 2.2 4.6 1.1 5-.8 5.3-2.2 4.9-3.2 4.5-3.7 4-4 3.7-4.3 3.3-4.1 3.5-4.1 3.5-3.8 3.7-3.3 4.2-2.5 4.7-1.4 5.1 .1 5.4 1.9 5.2 2.3 4.9" stroke="#4690c1"/>
<path d="M76.7 137.6l5.5 .4 5.4 .4 5.5 .4 5.5 .6 5.5 .7 5.3 .9 5.2 1.2 5 1.6 4.7 2 4.4 2.4 4 3.2 3.2 3.8 2.4 4.6 1.1 5.1-.8 5.3-2.2 5-3.1 4.5-3.8 4.1-4 3.6-4.4 3.4-4.2 3.5-4.1 3.5-3.9 3.7-3.3 4.2-2.6 4.7-1.5 5.2 .1 5.4 1.9 5.2 2.3 5" stroke="#d62f26"/>
<path d="M76.8 137.4l5.6 .4 5.5 .3 5.5 .5 5.6 .5 5.4 .8 5.5 .9 5.2 1.1 5.1 1.5 4.8 1.9 4.5 2.5 4.1 3.1 3.4 3.9 2.4 4.6 1.2 5.1-.7 5.4-2.2 5-3.2 4.6-3.8 4-4.1 3.7-4.3 3.4-4.3 3.5-4.2 3.5-4 3.7-3.4 4.2-2.6 4.8-1.6 5.2 .1 5.4 1.9 5.3 2.3 5" stroke="#f68c4e"/>
<path d="M77 137.2l5.6 .3 5.6 .4 5.6 .4 5.5 .6 5.5 .7 5.5 .9 5.4 1.1 5.1 1.5 4.9 1.8 4.6 2.4 4.2 3.1 3.5 3.9 2.5 4.6 1.3 5.2-.7 5.4-2.2 5.1-3.2 4.6-3.7 4.1-4.2 3.7-4.4 3.4-4.4 3.5-4.2 3.5-4 3.7-3.5 4.2-2.7 4.8-1.7 5.2 .1 5.5 1.9 5.3 2.3 5.1" stroke="#fed894"/>
<path d="M77.2 136.9l5.6 .4 5.7 .4 5.6 .4 5.6 .6 5.5 .7 5.6 .8 5.4 1.1 5.2 1.4 5 1.8 4.7 2.4 4.3 3 3.6 3.9 2.6 4.7 1.4 5.2-.7 5.5-2.1 5.1-3.2 4.6-3.8 4.2-4.3 3.7-4.4 3.4-4.4 3.5-4.3 3.4-4.1 3.8-3.5 4.3-2.8 4.7-1.7 5.3 0 5.5 1.9 5.4 2.2 5.1" stroke="#f2f8c4"/>
<path d="M77.4 136.7l5.7 .3 5.6 .4 5.7 .5 5.6 .5 5.6 .7 5.6 .8 5.5 1.1 5.3 1.3 5.1 1.8 4.8 2.3 4.4 3.1 3.7 3.8 2.8 4.7 1.4 5.3-.6 5.5-2.2 5.2-3.2 4.7-3.8 4.2-4.3 3.7-4.5 3.4-4.4 3.5-4.4 3.4-4.2 3.8-3.6 4.3-2.9 4.7-1.7 5.4 0 5.5 1.9 5.4 2.2 5.2" stroke="#a5d6ae"/>
<path d="M77.6 136.4l5.7 .4 5.7 .4 5.7 .4 5.7 .6 5.6 .7 5.7 .8 5.5 1 5.4 1.3 5.2 1.7 4.9 2.3 4.5 3 3.9 3.9 2.8 4.7 1.5 5.3-.6 5.6-2.1 5.2-3.2 4.7-3.9 4.2-4.3 3.8-4.6 3.4-4.5 3.5-4.5 3.4-4.2 3.8-3.6 4.3-3 4.8-1.8 5.3 0 5.7 1.9 5.4 2.2 5.2" stroke="#4690c1"/>
<path d="M77.8 136.2l5.7 .4 5.8 .4 5.7 .4 5.7 .5 5.7 .7 5.7 .8 5.6 1 5.5 1.2 5.3 1.7 5 2.2 4.6 3 4 3.9 2.9 4.7 1.6 5.4-.5 5.6-2.2 5.3-3.2 4.8-3.9 4.2-4.4 3.7-4.6 3.5-4.5 3.5-4.6 3.4-4.2 3.8-3.8 4.3-3 4.8-1.8 5.4-.1 5.7 1.8 5.4 2.3 5.3" stroke="#d62f26"/>
<path d="M77.9 135.9l5.8 .4 5.8 .4 5.8 .5 5.8 .5 5.7 .7 5.8 .7 5.6 1 5.6 1.1 5.4 1.6 5.1 2.3 4.8 2.9 4 3.9 3 4.8 1.7 5.4-.5 5.6-2.1 5.4-3.3 4.8-3.9 4.3-4.4 3.7-4.7 3.5-4.6 3.4-4.6 3.5-4.3 3.8-3.8 4.3-3.1 4.8-1.9 5.4-.1 5.8 1.8 5.5 2.3 5.3" stroke="#f68c4e"/>
<path d="M78.1 135.7l5.9 .4 5.8 .4 5.8 .4 5.8 .6 5.8 .6 5.8 .8 5.7 .8 5.7 1.2 5.5 1.5 5.2 2.2 4.9 3 4.1 3.8 3.2 4.8 1.8 5.4-.5 5.8-2.2 5.4-3.2 4.8-4 4.3-4.4 3.8-4.7 3.5-4.7 3.4-4.7 3.5-4.4 3.8-3.9 4.3-3.1 4.8-2 5.5-.1 5.8 1.8 5.5 2.3 5.4" stroke="#fed894"/>
<path d="M78.3 135.4l5.9 .5 5.9 .4 5.8 .4 5.9 .5 5.8 .7 5.9 .7 5.8 .8 5.7 1.1 5.5 1.5 5.4 2.1 5 3 4.3 3.8 3.2 4.9 1.9 5.4-.5 5.8-2.1 5.5-3.3 4.9-4 4.3-4.5 3.8-4.7 3.4-4.8 3.5-4.7 3.5-4.5 3.8-3.9 4.3-3.2 4.9-2.1 5.5-.1 5.8 1.8 5.6 2.3 5.4" stroke="#f2f8c4"/>
<path d="M78.5 135.2l5.9 .4 5.9 .4 5.9 .5 5.9 .5 5.9 .6 5.9 .7 5.9 .8 5.8 1 5.6 1.5 5.5 2.1 5.1 2.9 4.4 3.9 3.3 4.8 2 5.5-.4 5.9-2.2 5.5-3.2 4.9-4.1 4.4-4.5 3.8-4.8 3.4-4.8 3.5-4.8 3.5-4.6 3.8-4 4.3-3.3 4.9-2 5.5-.2 5.9 1.8 5.6 2.3 5.5" stroke="#a5d6ae"/>
<path d="M78.7 135l5.9 .4 6 .4 5.9 .4 6 .6 5.9 .6 6 .7 5.9 .7 5.9 1 5.7 1.4 5.6 2 5.2 2.9 4.5 3.9 3.4 4.8 2.1 5.6-.4 5.9-2.1 5.6-3.3 5-4.1 4.3-4.5 3.9-4.9 3.4-4.8 3.5-4.9 3.5-4.6 3.8-4.1 4.3-3.4 4.9-2.1 5.6-.2 5.9 1.8 5.7 2.3 5.5" stroke="#4690c1"/>
</g>
<g fill="none" stroke-width="2.33" stroke-linejoin="round">
<path d="M124.8 226l5.6 4.5 5.5 4.5 5.5 4.5 5.2 4.8 5.6 4.3 6.5 3 6.9 1.7 6.8 1.7 6.3 3.2 4.2 5.7 4.4 5.5 6 3.7 6.5 2.9 6.6 2.7 6.5 2.9 5.6 4.3 6.2 3 7.1-.5 7 .9 6.9 1.8 5.5 4.4 3.4 6.2 2.8 6.6 2.3 6.7 1.3 7" stroke="#d62f26"/>
<path d="M124.5 226.1l5.4 4.5 5.5 4.4 5.4 4.5 5.1 4.8 5.5 4.4 6.4 2.9 6.8 1.8 6.8 1.8 6.2 3.2 4.1 5.6 4.4 5.5 6 3.7 6.4 2.9 6.5 2.7 6.5 2.9 5.5 4.2 6.2 3 6.9-.4 7 1 6.7 1.9 5.5 4.3 3.4 6.2 2.7 6.5 2.2 6.7 1.4 6.9" stroke="#f68c4e"/>
<path d="M124.1 226.2l5.4 4.4 5.3 4.5 5.4 4.5 5 4.8 5.5 4.3 6.2 3 6.7 1.8 6.7 1.8 6.1 3.2 4.2 5.6 4.3 5.4 6 3.7 6.3 2.9 6.5 2.7 6.3 2.9 5.5 4.3 6.1 2.9 6.9-.3 6.8 1.1 6.7 1.9 5.3 4.3 3.4 6.1 2.7 6.5 2.2 6.6 1.3 6.9" stroke="#fed894"/>
<path d="M123.8 226.3l5.3 4.4 5.2 4.5 5.2 4.5 5 4.8 5.4 4.3 6.1 3 6.6 1.8 6.6 1.9 6.1 3.2 4.1 5.5 4.4 5.4 5.8 3.6 6.3 2.9 6.4 2.7 6.3 3 5.4 4.2 6 2.9 6.8-.1 6.8 1 6.6 2 5.2 4.3 3.4 6.1 2.6 6.4 2.2 6.6 1.3 6.8" stroke="#f2f8c4"/>
<path d="M123.5 226.3l5.1 4.5 5.2 4.4 5.1 4.5 4.9 4.8 5.3 4.3 6 3.1 6.5 1.9 6.5 1.9 6 3.2 4.2 5.4 4.3 5.3 5.8 3.6 6.2 2.9 6.3 2.8 6.2 2.9 5.4 4.2 6 3 6.7-.1 6.6 1.1 6.5 2 5.2 4.3 3.3 6 2.6 6.4 2.2 6.5 1.3 6.8" stroke="#a5d6ae"/>
<path d="M123.1 226.4l5.1 4.5 5.1 4.4 5 4.5 4.8 4.8 5.2 4.3 5.9 3.1 6.4 1.9 6.4 1.9 6 3.2 4.1 5.4 4.3 5.2 5.8 3.6 6.1 2.9 6.2 2.8 6.2 2.9 5.3 4.2 5.9 3 6.6 0 6.6 1.2 6.4 2 5.1 4.3 3.2 6 2.6 6.3 2.2 6.5 1.3 6.7" stroke="#4690c1"/>
<path d="M122.8 226.5l5 4.4 4.9 4.5 5 4.5 4.7 4.7 5.1 4.3 5.8 3.1 6.3 2 6.4 2 5.8 3.2 4.1 5.3 4.3 5.2 5.7 3.6 6.1 2.9 6.2 2.7 6 3 5.3 4.1 5.8 3 6.5 .1 6.5 1.2 6.3 2.1 5.1 4.3 3.2 5.9 2.5 6.3 2.2 6.4 1.3 6.7" stroke="#d62f26"/>
<path d="M122.4 226.6l4.9 4.4 4.9 4.5 4.9 4.4 4.6 4.8 5 4.3 5.7 3.1 6.2 2 6.3 2 5.8 3.2 4.1 5.3 4.2 5.1 5.7 3.6 6 2.9 6.1 2.8 6 2.9 5.2 4.1 5.7 3 6.5 .2 6.4 1.3 6.2 2.1 4.9 4.3 3.2 5.9 2.6 6.2 2.1 6.4 1.2 6.6" stroke="#f68c4e"/>
<path d="M122.1 226.7l4.8 4.4 4.8 4.4 4.8 4.5 4.5 4.7 4.9 4.3 5.7 3.2 6 2.1 6.2 2 5.8 3.2 4 5.2 4.3 5 5.6 3.6 5.9 2.9 6 2.8 5.9 2.9 5.2 4.2 5.7 3 6.3 .2 6.3 1.4 6.1 2.1 4.9 4.3 3.2 5.9 2.5 6.1 2 6.4 1.3 6.5" stroke="#fed894"/>
<path d="M121.8 226.7l4.7 4.5 4.7 4.4 4.6 4.5 4.5 4.7 4.9 4.3 5.5 3.2 5.9 2.1 6.1 2.1 5.7 3.2 4.1 5.1 4.2 5 5.5 3.5 5.9 2.9 6 2.8 5.8 3 5.1 4.1 5.6 3 6.3 .3 6.2 1.4 6 2.2 4.8 4.3 3.1 5.8 2.5 6.1 2 6.3 1.3 6.5" stroke="#f2f8c4"/>
<path d="M121.4 226.8l4.6 4.4 4.6 4.5 4.6 4.4 4.5 4.7 4.7 4.3 5.4 3.2 5.8 2.2 6 2.1 5.7 3.2 4 5.1 4.2 4.9 5.5 3.5 5.8 3 5.9 2.8 5.8 2.9 5 4.1 5.5 3 6.2 .4 6.1 1.5 5.9 2.2 4.8 4.3 3 5.8 2.5 6 2 6.3 1.3 6.4" stroke="#a5d6ae"/>
<path d="M121.1 226.9l4.5 4.4 4.5 4.4 4.5 4.5 4.4 4.7 4.6 4.3 5.3 3.2 5.7 2.2 6 2.2 5.5 3.2 4 5 4.2 4.9 5.5 3.5 5.7 2.9 5.8 2.8 5.7 3 5 4 5.5 3.1 6 .4 6 1.6 5.9 2.2 4.7 4.3 3 5.7 2.4 6.1 2 6.1 1.3 6.4" stroke="#4690c1"/>
<path d="M120.7 227l4.5 4.4 4.4 4.4 4.4 4.5 4.3 4.6 4.5 4.3 5.2 3.3 5.6 2.3 5.9 2.2 5.5 3.1 4 5 4.2 4.8 5.3 3.5 5.7 2.9 5.7 2.8 5.7 3 4.9 4 5.4 3.1 6 .5 5.9 1.6 5.7 2.3 4.6 4.3 3 5.7 2.4 6 2 6.1 1.2 6.3" stroke="#d62f26"/>
<path d="M120.4 227l4.3 4.5 4.4 4.4 4.3 4.4 4.2 4.7 4.4 4.3 5.1 3.3 5.6 2.3 5.7 2.2 5.4 3.2 4 4.9 4.2 4.7 5.3 3.5 5.6 2.9 5.7 2.8 5.5 3 4.9 4 5.3 3.1 5.9 .7 5.8 1.6 5.7 2.3 4.5 4.3 3 5.6 2.3 6 2 6 1.2 6.3" stroke="#f68c4e"/>
<path d="M120 227.1l4.3 4.4 4.2 4.4 4.3 4.5 4.1 4.6 4.3 4.3 5 3.3 5.5 2.4 5.6 2.3 5.4 3.1 4 4.9 4.1 4.7 5.3 3.4 5.5 2.9 5.6 2.9 5.5 3 4.8 4 5.2 3 5.8 .8 5.8 1.7 5.5 2.4 4.5 4.2 2.9 5.6 2.3 5.9 1.9 6 1.3 6.2" stroke="#fed894"/>
<path d="M119.7 227.2l4.1 4.4 4.2 4.4 4.1 4.5 4.1 4.6 4.2 4.3 4.9 3.3 5.4 2.4 5.5 2.3 5.3 3.2 4 4.8 4.1 4.6 5.3 3.4 5.4 3 5.5 2.8 5.4 3 4.8 4 5.2 3.1 5.7 .8 5.6 1.7 5.5 2.5 4.4 4.2 2.8 5.5 2.3 5.9 1.9 6 1.3 6.1" stroke="#f2f8c4"/>
<path d="M119.4 227.3l4 4.4 4.1 4.4 4 4.4 4 4.6 4.2 4.4 4.7 3.3 5.3 2.5 5.5 2.3 5.2 3.2 4 4.7 4.1 4.5 5.1 3.4 5.4 3 5.4 2.8 5.4 3 4.7 4 5.1 3.1 5.6 .9 5.6 1.8 5.3 2.5 4.4 4.2 2.8 5.5 2.2 5.8 1.9 5.9 1.3 6.1" stroke="#a5d6ae"/>
<path d="M119 227.3l4 4.5 3.9 4.4 4 4.4 3.9 4.6 4.1 4.3 4.7 3.4 5.1 2.5 5.4 2.4 5.1 3.1 4 4.7 4.1 4.5 5.1 3.4 5.3 2.9 5.4 2.9 5.2 3 4.7 3.9 5 3.1 5.6 1 5.4 1.9 5.3 2.5 4.2 4.2 2.8 5.5 2.2 5.7 1.9 5.9 1.2 6" stroke="#4690c1"/>
<path d="M118.7 227.4l3.8 4.4 3.9 4.4 3.9 4.5 3.8 4.5 4 4.4 4.6 3.3 5 2.6 5.3 2.4 5.1 3.2 3.9 4.6 4.1 4.4 5.1 3.4 5.2 2.9 5.3 2.9 5.2 3 4.6 3.9 5 3.1 5.4 1.1 5.4 1.9 5.1 2.6 4.2 4.2 2.8 5.4 2.2 5.7 1.8 5.8 1.2 6" stroke="#d62f26"/>
<path d="M118.3 227.5l3.8 4.4 3.8 4.4 3.8 4.4 3.7 4.6 3.9 4.3 4.5 3.4 4.9 2.6 5.2 2.5 5.1 3.1 3.9 4.6 4 4.4 5 3.3 5.2 3 5.2 2.8 5.2 3.1 4.5 3.9 4.9 3.1 5.3 1.1 5.3 2 5.1 2.6 4.1 4.2 2.7 5.4 2.2 5.6 1.8 5.8 1.2 5.9" stroke="#f68c4e"/>
<path d="M118 227.6l3.7 4.4 3.7 4.4 3.7 4.4 3.6 4.5 3.8 4.4 4.4 3.4 4.8 2.7 5.1 2.5 5 3.1 3.9 4.5 4 4.3 5 3.3 5.1 3 5.2 2.9 5 3 4.5 3.9 4.8 3.1 5.3 1.2 5.2 2.1 4.9 2.6 4.1 4.2 2.7 5.3 2.1 5.6 1.8 5.7 1.2 5.9" stroke="#fed894"/>
<path d="M117.7 227.7l3.5 4.3 3.6 4.4 3.7 4.4 3.5 4.6 3.7 4.3 4.3 3.5 4.7 2.7 5 2.5 5 3.2 3.9 4.4 4 4.2 4.9 3.3 5 3 5.1 2.9 5 3 4.4 3.9 4.8 3.1 5.1 1.3 5.1 2.1 4.9 2.7 4 4.2 2.6 5.3 2.1 5.5 1.7 5.7 1.3 5.8" stroke="#f2f8c4"/>
<path d="M117.3 227.7l3.5 4.4 3.5 4.4 3.5 4.4 3.5 4.6 3.6 4.3 4.2 3.5 4.6 2.7 5 2.6 4.8 3.1 3.9 4.3 4 4.3 4.8 3.3 5 2.9 5 2.9 4.9 3.1 4.4 3.8 4.7 3.2 5 1.4 5 2.1 4.8 2.7 3.9 4.2 2.6 5.2 2.1 5.5 1.7 5.6 1.2 5.8" stroke="#a5d6ae"/>
<path d="M117 227.8l3.4 4.4 3.4 4.4 3.4 4.4 3.4 4.5 3.6 4.3 4 3.5 4.5 2.8 4.9 2.6 4.8 3.2 3.8 4.2 4 4.2 4.8 3.3 4.9 2.9 4.9 3 4.9 3 4.3 3.8 4.6 3.2 5 1.5 4.9 2.2 4.7 2.7 3.8 4.2 2.6 5.2 2 5.4 1.7 5.6 1.2 5.7" stroke="#4690c1"/>
<path d="M116.6 227.9l3.3 4.4 3.4 4.3 3.3 4.4 3.3 4.6 3.5 4.3 3.9 3.5 4.4 2.9 4.8 2.6 4.7 3.1 3.9 4.2 3.9 4.1 4.8 3.3 4.8 3 4.9 2.9 4.7 3.1 4.3 3.7 4.5 3.2 4.9 1.6 4.8 2.2 4.6 2.8 3.8 4.2 2.5 5.1 2 5.4 1.7 5.6 1.2 5.6" stroke="#d62f26"/>
<path d="M116.3 228l3.2 4.3 3.2 4.4 3.3 4.4 3.2 4.5 3.4 4.3 3.8 3.6 4.3 2.9 4.7 2.7 4.7 3.1 3.8 4.1 4 4.1 4.6 3.2 4.8 3 4.8 2.9 4.7 3.1 4.2 3.8 4.5 3.1 4.8 1.7 4.7 2.3 4.5 2.8 3.7 4.2 2.5 5.1 1.9 5.4 1.7 5.4 1.2 5.6" stroke="#f68c4e"/>
<path d="M115.9 228l3.2 4.4 3.1 4.4 3.2 4.4 3.1 4.5 3.3 4.3 3.8 3.6 4.2 2.9 4.5 2.7 4.6 3.2 3.9 4 3.9 4 4.6 3.2 4.7 3 4.7 3 4.6 3 4.2 3.8 4.4 3.2 4.7 1.7 4.6 2.4 4.4 2.9 3.7 4.1 2.4 5.1 1.9 5.3 1.7 5.4 1.1 5.5" stroke="#fed894"/>
<path d="M115.6 228.1l3 4.4 3.1 4.4 3.1 4.3 3 4.5 3.2 4.3 3.7 3.6 4.1 3 4.5 2.8 4.5 3.1 3.8 4 3.9 4 4.6 3.2 4.6 2.9 4.7 3 4.5 3.1 4.1 3.7 4.3 3.2 4.6 1.8 4.6 2.4 4.3 3 3.5 4.1 2.4 5 1.9 5.3 1.6 5.3 1.2 5.5" stroke="#f2f8c4"/>
<path d="M115.3 228.2l2.9 4.4 3 4.3 2.9 4.4 3 4.5 3.1 4.3 3.6 3.6 4 3.1 4.4 2.8 4.5 3.1 3.7 3.9 3.9 3.9 4.5 3.2 4.6 3 4.6 2.9 4.5 3.1 4 3.7 4.3 3.2 4.5 1.9 4.4 2.5 4.2 3 3.5 4.1 2.4 5 1.8 5.2 1.6 5.3 1.2 5.4" stroke="#a5d6ae"/>
<path d="M114.9 228.3l2.9 4.3 2.8 4.4 2.9 4.4 2.9 4.4 3 4.3 3.5 3.7 3.9 3.1 4.3 2.8 4.4 3.1 3.8 3.9 3.9 3.8 4.4 3.2 4.5 3 4.5 2.9 4.4 3.1 4 3.7 4.2 3.3 4.4 1.9 4.4 2.6 4.1 3 3.4 4.1 2.3 4.9 1.9 5.2 1.5 5.2 1.2 5.4" stroke="#4690c1"/>
<path d="M114.6 228.4l2.7 4.3 2.8 4.4 2.8 4.3 2.8 4.5 3 4.3 3.3 3.7 3.8 3.1 4.2 2.9 4.4 3.1 3.7 3.8 3.9 3.8 4.4 3.1 4.4 3 4.4 3 4.4 3.1 3.9 3.6 4.1 3.3 4.4 2 4.2 2.6 4 3.1 3.4 4.1 2.3 4.9 1.8 5.1 1.5 5.2 1.2 5.3" stroke="#d62f26"/>
<path d="M114.2 228.4l2.7 4.4 2.7 4.3 2.7 4.4 2.7 4.4 2.9 4.3 3.2 3.7 3.7 3.2 4.1 2.9 4.3 3.2 3.8 3.7 3.8 3.7 4.3 3.1 4.4 3 4.4 3 4.2 3.1 3.9 3.7 4 3.2 4.3 2.1 4.1 2.7 4 3.1 3.3 4.1 2.2 4.8 1.8 5.1 1.5 5.2 1.1 5.2" stroke="#f68c4e"/>
<path d="M113.9 228.5l2.6 4.4 2.6 4.3 2.6 4.4 2.6 4.4 2.8 4.3 3.1 3.7 3.6 3.3 4.1 2.9 4.2 3.1 3.7 3.7 3.8 3.6 4.3 3.1 4.3 3 4.3 3 4.2 3.2 3.8 3.6 4 3.2 4.1 2.3 4.1 2.7 3.8 3.1 3.2 4.1 2.2 4.8 1.8 5 1.5 5.1 1.1 5.2" stroke="#fed894"/>
<path d="M113.6 228.6l2.4 4.3 2.5 4.4 2.6 4.3 2.5 4.4 2.7 4.3 3 3.8 3.5 3.3 4 3 4.1 3.1 3.7 3.6 3.8 3.6 4.3 3.1 4.2 3 4.2 3 4.1 3.1 3.8 3.6 3.9 3.3 4.1 2.3 3.9 2.7 3.8 3.2 3.1 4.1 2.2 4.7 1.7 5 1.5 5.1 1.1 5.1" stroke="#f2f8c4"/>
<path d="M113.2 228.7l2.4 4.3 2.4 4.4 2.4 4.3 2.5 4.4 2.6 4.3 2.9 3.8 3.4 3.3 3.9 3 4.1 3.1 3.7 3.6 3.8 3.5 4.1 3.1 4.2 3 4.1 3 4.1 3.1 3.7 3.6 3.8 3.3 4 2.4 3.9 2.8 3.6 3.2 3.1 4.1 2.1 4.7 1.7 4.9 1.4 5 1.2 5.1" stroke="#a5d6ae"/>
<path d="M112.9 228.7l2.3 4.4 2.3 4.3 2.3 4.4 2.4 4.3 2.5 4.3 2.9 3.9 3.2 3.3 3.8 3.1 4 3.1 3.7 3.5 3.8 3.5 4.1 3 4.1 3 4.1 3 3.9 3.2 3.7 3.5 3.8 3.3 3.8 2.5 3.8 2.9 3.6 3.2 3 4.1 2.1 4.7 1.6 4.8 1.4 5 1.2 5" stroke="#4690c1"/>
<path d="M112.5 228.8l2.2 4.4 2.2 4.3 2.3 4.3 2.3 4.4 2.4 4.3 2.8 3.8 3.1 3.5 3.7 3.1 4 3.1 3.7 3.4 3.7 3.4 4.1 3 4 3 4 3.1 3.9 3.1 3.6 3.6 3.7 3.2 3.8 2.6 3.7 2.9 3.4 3.3 3 4.1 2 4.6 1.6 4.8 1.4 4.9 1.1 5" stroke="#d62f26"/>
<path d="M112.2 228.9l2.1 4.3 2.1 4.4 2.2 4.3 2.2 4.3 2.4 4.3 2.6 3.9 3 3.5 3.7 3.1 3.8 3.1 3.7 3.4 3.7 3.3 4.1 3 3.9 3.1 3.9 3 3.9 3.2 3.5 3.5 3.6 3.3 3.7 2.6 3.6 3 3.4 3.3 2.8 4.1 2 4.6 1.6 4.7 1.4 4.9 1.1 4.9" stroke="#f68c4e"/>
<path d="M111.8 229l2.1 4.3 2 4.3 2.1 4.4 2.2 4.3 2.2 4.3 2.5 3.9 2.9 3.5 3.6 3.2 3.8 3.1 3.6 3.3 3.8 3.3 3.9 3 3.9 3 3.9 3 3.7 3.2 3.5 3.5 3.6 3.3 3.6 2.7 3.5 3.1 3.2 3.3 2.8 4.1 2 4.5 1.5 4.7 1.4 4.8 1.1 4.9" stroke="#fed894"/>
<path d="M111.5 229l1.9 4.4 2 4.3 2 4.3 2.1 4.4 2.1 4.2 2.4 4 2.9 3.5 3.4 3.2 3.8 3.1 3.6 3.3 3.7 3.2 3.9 3 3.8 3 3.8 3.1 3.7 3.1 3.4 3.5 3.5 3.3 3.5 2.8 3.4 3.1 3.2 3.5 2.7 4 1.9 4.5 1.6 4.7 1.3 4.7 1.1 4.8" stroke="#f2f8c4"/>
<path d="M111.2 229.1l1.8 4.4 1.8 4.3 2 4.3 2 4.3 2 4.3 2.3 3.9 2.8 3.7 3.3 3.2 3.7 3.1 3.6 3.2 3.7 3.1 3.9 3 3.7 3 3.7 3.1 3.6 3.2 3.4 3.4 3.4 3.4 3.4 2.8 3.4 3.2 3 3.5 2.7 4 1.9 4.4 1.5 4.7 1.2 4.7 1.2 4.7" stroke="#a5d6ae"/>
<path d="M110.8 229.2l1.8 4.3 1.7 4.3 1.8 4.4 2 4.3 1.9 4.2 2.2 4 2.7 3.7 3.2 3.3 3.7 3.1 3.6 3.1 3.6 3.1 3.8 2.9 3.7 3 3.6 3.1 3.6 3.2 3.3 3.4 3.3 3.4 3.4 3 3.2 3.2 3 3.5 2.6 4 1.8 4.4 1.5 4.6 1.2 4.6 1.1 4.7" stroke="#4690c1"/>
<path d="M110.5 229.3l1.6 4.3 1.7 4.3 1.7 4.3 1.9 4.3 1.8 4.3 2.1 4 2.6 3.7 3.1 3.3 3.6 3.1 3.6 3.1 3.7 3 3.7 2.9 3.6 3.1 3.6 3.1 3.4 3.1 3.3 3.5 3.3 3.3 3.2 3.1 3.1 3.2 2.9 3.6 2.5 4 1.8 4.3 1.5 4.6 1.2 4.6 1.1 4.6" stroke="#d62f26"/>
<path d="M110.1 229.4l1.6 4.3 1.6 4.3 1.6 4.3 1.8 4.3 1.7 4.2 2 4.1 2.5 3.7 3.1 3.4 3.5 3.1 3.5 3 3.7 2.9 3.7 3 3.5 3 3.5 3.1 3.4 3.2 3.2 3.4 3.2 3.3 3.1 3.2 3.1 3.3 2.8 3.6 2.4 4 1.8 4.3 1.4 4.5 1.2 4.5 1.1 4.6" stroke="#f68c4e"/>
<path d="M109.8 229.4l1.5 4.3 1.4 4.4 1.6 4.2 1.7 4.3 1.7 4.3 1.9 4 2.3 3.9 3 3.4 3.4 3 3.6 3 3.6 2.9 3.6 2.9 3.5 3 3.4 3.1 3.3 3.2 3.2 3.4 3.1 3.4 3.1 3.2 2.9 3.4 2.7 3.6 2.4 4 1.7 4.3 1.4 4.4 1.2 4.5 1.1 4.5" stroke="#fed894"/>
<path d="M109.5 229.5l1.3 4.3 1.4 4.3 1.5 4.3 1.6 4.3 1.6 4.2 1.8 4.1 2.2 3.9 2.9 3.4 3.4 3.1 3.5 2.9 3.6 2.8 3.6 2.9 3.4 3 3.3 3.2 3.3 3.2 3.1 3.3 3.1 3.4 2.9 3.3 2.9 3.4 2.6 3.7 2.3 4 1.7 4.2 1.3 4.4 1.2 4.4 1.1 4.5" stroke="#f2f8c4"/>
<path d="M109.1 229.6l1.3 4.3 1.3 4.3 1.4 4.3 1.5 4.2 1.5 4.3 1.7 4.1 2.1 3.9 2.8 3.5 3.3 3 3.6 2.9 3.5 2.8 3.6 2.8 3.3 3.1 3.3 3.1 3.2 3.2 3 3.3 3 3.4 2.9 3.4 2.7 3.5 2.5 3.7 2.3 3.9 1.6 4.3 1.3 4.3 1.2 4.4 1 4.4" stroke="#a5d6ae"/>
<path d="M108.8 229.7l1.2 4.3 1.2 4.3 1.2 4.2 1.5 4.3 1.4 4.2 1.6 4.2 2 3.9 2.7 3.5 3.3 3.1 3.5 2.8 3.6 2.7 3.4 2.8 3.3 3.1 3.2 3.1 3.1 3.2 3 3.3 2.9 3.4 2.8 3.5 2.7 3.6 2.4 3.7 2.1 3.9 1.6 4.2 1.3 4.3 1.1 4.4 1.1 4.3" stroke="#4690c1"/>
</g><path d="M2.3,126.7 L13.6,115.4 L22.6,115.4 L45.3,119.9 L75.8,130.1" fill="none" stroke="#000" stroke-width="1.55" stroke-linejoin="round" stroke-linecap="round"/>
<path d="M143.0,131.2 L148.8,134.8 L157.6,137.8 L162.0,143.6 L160.5,152.4 L157.6,162.6 L153.2,171.3 L147.4,177.9" fill="none" stroke="#000" stroke-width="1.55" stroke-linejoin="round" stroke-linecap="round"/>
<path d="M109.4,207.8 L119.6,196.9" fill="none" stroke="#000" stroke-width="1.55" stroke-linejoin="round" stroke-linecap="round"/>
<path d="M124.5,209.3 L131.0,213.0 L135.8,220.6 L138.0,229.7" fill="none" stroke="#000" stroke-width="1.55" stroke-linejoin="round" stroke-linecap="round"/>
<path d="M131.3,241.0 L130.1,252.3 L135.8,254.6 L155.0,251.2 L177.6,256.8 L189.0,270.4 L213.8,281.7 L222.9,288.5 L234.2,288.5 L250.0,293.0 L259.1,310.0 L261.0,312.0" fill="none" stroke="#000" stroke-width="1.55" stroke-linejoin="round" stroke-linecap="round"/>
<line x1="175.4" y1="184.4" x2="168.3" y2="162.3" stroke="#000" stroke-width="1.3"/><path d="M166.3,156.1 L170.8,161.5 L165.8,163.1Z" fill="#000"/>
<text x="175.3" y="194.2" font-size="10.4" font-weight="bold" text-anchor="middle" fill="#000" textLength="31.8" lengthAdjust="spacingAndGlyphs">State 1</text>
</g></g>
<clipPath id="mclip1"><rect x="0" y="0" width="310" height="310"/></clipPath>
<g transform="translate(11.0,348.0)"><g clip-path="url(#mclip1)">
<g filter="url(#blurBase)">
<path fill="#6f93b3" d="M-12.0 -12.0h22.0v22.0h-22.0zM213.1 -12.0h58.4v22.0h-58.4zM213.1 9.7h39.0v10.0h-39.0zM203.4 19.4h48.7v10.0h-48.7zM-12.0 96.9h22.0v10.0h-22.0zM-12.0 106.6h22.0v10.0h-22.0zM19.4 184.1h10.0v10.0h-10.0zM87.2 242.2h19.7v10.0h-19.7z"/>
<path fill="#d8412f" d="M9.7 -12.0h10.0v22.0h-10.0zM-12.0 9.7h31.7v10.0h-31.7zM-12.0 19.4h31.7v10.0h-31.7zM290.6 19.4h31.7v10.0h-31.7zM-12.0 29.1h31.7v10.0h-31.7zM290.6 29.1h31.7v10.0h-31.7zM-12.0 38.8h31.7v10.0h-31.7zM280.9 38.8h10.0v10.0h-10.0zM-12.0 48.4h31.7v10.0h-31.7zM280.9 48.4h19.7v10.0h-19.7zM-12.0 58.1h41.4v10.0h-41.4zM222.8 58.1h10.0v10.0h-10.0zM280.9 58.1h10.0v10.0h-10.0zM-12.0 67.8h51.0v10.0h-51.0zM242.2 67.8h19.7v10.0h-19.7zM-12.0 77.5h22.0v10.0h-22.0zM19.4 77.5h19.7v10.0h-19.7zM193.8 77.5h10.0v10.0h-10.0zM242.2 77.5h10.0v10.0h-10.0zM-12.0 87.2h22.0v10.0h-22.0zM19.4 87.2h10.0v10.0h-10.0zM242.2 87.2h10.0v10.0h-10.0zM19.4 96.9h10.0v10.0h-10.0zM9.7 106.6h10.0v10.0h-10.0zM135.6 106.6h10.0v10.0h-10.0zM135.6 116.2h10.0v10.0h-10.0zM232.5 116.2h10.0v10.0h-10.0zM213.1 125.9h10.0v10.0h-10.0zM222.8 135.6h10.0v10.0h-10.0zM222.8 145.3h10.0v10.0h-10.0zM77.5 155.0h10.0v10.0h-10.0zM193.8 164.7h10.0v10.0h-10.0zM29.1 174.4h10.0v10.0h-10.0zM184.1 174.4h29.4v10.0h-29.4zM222.8 174.4h19.7v10.0h-19.7zM-12.0 184.1h22.0v10.0h-22.0zM174.4 184.1h39.0v10.0h-39.0zM222.8 184.1h19.7v10.0h-19.7zM251.9 184.1h10.0v10.0h-10.0zM-12.0 193.8h51.0v10.0h-51.0zM145.3 193.8h10.0v10.0h-10.0zM174.4 193.8h29.4v10.0h-29.4zM222.8 193.8h29.4v10.0h-29.4zM19.4 203.4h29.4v10.0h-29.4zM164.7 203.4h29.4v10.0h-29.4zM29.1 213.1h19.7v10.0h-19.7zM174.4 213.1h19.7v10.0h-19.7zM38.8 222.8h19.7v10.0h-19.7zM184.1 222.8h19.7v10.0h-19.7zM48.4 232.5h19.7v10.0h-19.7zM184.1 232.5h19.7v10.0h-19.7zM58.1 242.2h29.4v10.0h-29.4zM135.6 242.2h10.0v10.0h-10.0zM67.8 251.9h10.0v10.0h-10.0zM203.4 271.2h10.0v10.0h-10.0zM232.5 271.2h29.4v10.0h-29.4zM135.6 280.9h10.0v10.0h-10.0z"/>
<path fill="#e4653f" d="M19.4 -12.0h19.7v22.0h-19.7zM19.4 9.7h10.0v10.0h-10.0zM19.4 19.4h10.0v10.0h-10.0zM19.4 29.1h10.0v10.0h-10.0zM280.9 29.1h10.0v10.0h-10.0zM19.4 38.8h10.0v10.0h-10.0zM271.2 38.8h10.0v10.0h-10.0zM290.6 38.8h10.0v10.0h-10.0zM19.4 48.4h10.0v10.0h-10.0zM242.2 48.4h10.0v10.0h-10.0zM242.2 58.1h10.0v10.0h-10.0zM38.8 67.8h10.0v10.0h-10.0zM116.2 67.8h10.0v10.0h-10.0zM116.2 77.5h10.0v10.0h-10.0zM19.4 106.6h19.7v10.0h-19.7zM251.9 106.6h10.0v10.0h-10.0zM232.5 125.9h10.0v10.0h-10.0zM58.1 164.7h10.0v10.0h-10.0zM242.2 164.7h10.0v10.0h-10.0zM242.2 174.4h10.0v10.0h-10.0zM213.1 184.1h10.0v10.0h-10.0zM203.4 193.8h19.7v10.0h-19.7zM251.9 193.8h10.0v10.0h-10.0zM-12.0 203.4h31.7v10.0h-31.7zM193.8 203.4h19.7v10.0h-19.7zM222.8 203.4h29.4v10.0h-29.4zM9.7 213.1h19.7v10.0h-19.7zM48.4 213.1h10.0v10.0h-10.0zM193.8 213.1h29.4v10.0h-29.4zM19.4 222.8h19.7v10.0h-19.7zM58.1 222.8h10.0v10.0h-10.0zM203.4 222.8h19.7v10.0h-19.7zM19.4 232.5h29.4v10.0h-29.4zM67.8 232.5h10.0v10.0h-10.0zM203.4 232.5h19.7v10.0h-19.7zM29.1 242.2h29.4v10.0h-29.4zM213.1 242.2h19.7v10.0h-19.7zM38.8 251.9h29.4v10.0h-29.4zM77.5 251.9h10.0v10.0h-10.0zM213.1 251.9h19.7v10.0h-19.7zM48.4 261.6h10.0v10.0h-10.0zM213.1 261.6h19.7v10.0h-19.7zM213.1 271.2h19.7v10.0h-19.7zM213.1 280.9h10.0v10.0h-10.0z"/>
<path fill="#f39a58" d="M38.8 -12.0h19.7v22.0h-19.7zM29.1 9.7h19.7v10.0h-19.7zM29.1 19.4h10.0v10.0h-10.0zM29.1 29.1h19.7v10.0h-19.7zM29.1 38.8h10.0v10.0h-10.0zM261.6 38.8h10.0v10.0h-10.0zM300.3 38.8h22.0v10.0h-22.0zM29.1 48.4h10.0v10.0h-10.0zM251.9 48.4h10.0v10.0h-10.0zM271.2 48.4h10.0v10.0h-10.0zM29.1 58.1h10.0v10.0h-10.0zM271.2 58.1h10.0v10.0h-10.0zM290.6 58.1h10.0v10.0h-10.0zM48.4 67.8h10.0v10.0h-10.0zM125.9 67.8h10.0v10.0h-10.0zM38.8 77.5h10.0v10.0h-10.0zM106.6 77.5h10.0v10.0h-10.0zM125.9 77.5h10.0v10.0h-10.0zM29.1 87.2h10.0v10.0h-10.0zM193.8 87.2h10.0v10.0h-10.0zM29.1 96.9h10.0v10.0h-10.0zM203.4 96.9h10.0v10.0h-10.0zM242.2 96.9h10.0v10.0h-10.0zM38.8 106.6h10.0v10.0h-10.0zM213.1 106.6h10.0v10.0h-10.0zM242.2 106.6h10.0v10.0h-10.0zM242.2 116.2h10.0v10.0h-10.0zM242.2 125.9h10.0v10.0h-10.0zM232.5 135.6h10.0v10.0h-10.0zM290.6 135.6h10.0v10.0h-10.0zM232.5 145.3h19.7v10.0h-19.7zM300.3 145.3h22.0v10.0h-22.0zM9.7 155.0h10.0v10.0h-10.0zM67.8 155.0h10.0v10.0h-10.0zM87.2 155.0h10.0v10.0h-10.0zM19.4 164.7h10.0v10.0h-10.0zM77.5 164.7h10.0v10.0h-10.0zM251.9 164.7h10.0v10.0h-10.0zM38.8 174.4h19.7v10.0h-19.7zM251.9 174.4h19.7v10.0h-19.7zM261.6 184.1h19.7v10.0h-19.7zM67.8 193.8h10.0v10.0h-10.0zM261.6 193.8h10.0v10.0h-10.0zM58.1 203.4h10.0v10.0h-10.0zM213.1 203.4h10.0v10.0h-10.0zM251.9 203.4h10.0v10.0h-10.0zM-12.0 213.1h22.0v10.0h-22.0zM58.1 213.1h10.0v10.0h-10.0zM222.8 213.1h29.4v10.0h-29.4zM-12.0 222.8h31.7v10.0h-31.7zM222.8 222.8h10.0v10.0h-10.0zM242.2 222.8h10.0v10.0h-10.0zM-12.0 232.5h31.7v10.0h-31.7zM77.5 232.5h10.0v10.0h-10.0zM222.8 232.5h19.7v10.0h-19.7zM-12.0 242.2h41.4v10.0h-41.4zM232.5 242.2h10.0v10.0h-10.0zM9.7 251.9h29.4v10.0h-29.4zM232.5 251.9h10.0v10.0h-10.0zM251.9 251.9h10.0v10.0h-10.0zM9.7 261.6h39.0v10.0h-39.0zM58.1 261.6h10.0v10.0h-10.0zM232.5 261.6h19.7v10.0h-19.7zM-12.0 271.2h60.7v10.0h-60.7zM-12.0 280.9h51.0v10.0h-51.0zM125.9 280.9h10.0v10.0h-10.0zM222.8 280.9h19.7v10.0h-19.7zM-12.0 290.6h41.4v10.0h-41.4zM135.6 290.6h10.0v10.0h-10.0zM-12.0 300.3h31.7v22.0h-31.7zM135.6 300.3h10.0v22.0h-10.0z"/>
<path fill="#f9c98a" d="M58.1 -12.0h29.4v22.0h-29.4zM48.4 9.7h29.4v10.0h-29.4zM38.8 19.4h29.4v10.0h-29.4zM48.4 29.1h19.7v10.0h-19.7zM38.8 38.8h29.4v10.0h-29.4zM251.9 38.8h10.0v10.0h-10.0zM38.8 48.4h19.7v10.0h-19.7zM300.3 48.4h22.0v10.0h-22.0zM38.8 58.1h19.7v10.0h-19.7zM87.2 58.1h19.7v10.0h-19.7zM116.2 58.1h10.0v10.0h-10.0zM251.9 58.1h19.7v10.0h-19.7zM300.3 58.1h22.0v10.0h-22.0zM58.1 67.8h10.0v10.0h-10.0zM87.2 67.8h19.7v10.0h-19.7zM261.6 67.8h19.7v10.0h-19.7zM290.6 67.8h10.0v10.0h-10.0zM48.4 77.5h10.0v10.0h-10.0zM87.2 77.5h19.7v10.0h-19.7zM135.6 77.5h10.0v10.0h-10.0zM251.9 77.5h10.0v10.0h-10.0zM38.8 87.2h10.0v10.0h-10.0zM77.5 87.2h19.7v10.0h-19.7zM251.9 87.2h10.0v10.0h-10.0zM38.8 96.9h19.7v10.0h-19.7zM77.5 96.9h19.7v10.0h-19.7zM251.9 96.9h10.0v10.0h-10.0zM48.4 106.6h19.7v10.0h-19.7zM87.2 106.6h10.0v10.0h-10.0zM261.6 106.6h10.0v10.0h-10.0zM67.8 116.2h10.0v10.0h-10.0zM251.9 116.2h19.7v10.0h-19.7zM251.9 125.9h19.7v10.0h-19.7zM290.6 125.9h31.7v10.0h-31.7zM242.2 135.6h48.7v10.0h-48.7zM300.3 135.6h22.0v10.0h-22.0zM251.9 145.3h48.7v10.0h-48.7zM-12.0 155.0h22.0v10.0h-22.0zM251.9 155.0h39.0v10.0h-39.0zM87.2 164.7h10.0v10.0h-10.0zM261.6 164.7h29.4v10.0h-29.4zM271.2 174.4h29.4v10.0h-29.4zM280.9 184.1h19.7v10.0h-19.7zM271.2 193.8h10.0v10.0h-10.0zM261.6 203.4h29.4v10.0h-29.4zM251.9 213.1h19.7v10.0h-19.7zM232.5 222.8h10.0v10.0h-10.0zM251.9 222.8h10.0v10.0h-10.0zM242.2 232.5h19.7v10.0h-19.7zM242.2 242.2h19.7v10.0h-19.7zM242.2 251.9h10.0v10.0h-10.0zM67.8 261.6h19.7v10.0h-19.7zM251.9 261.6h19.7v10.0h-19.7zM48.4 271.2h10.0v10.0h-10.0zM106.6 271.2h10.0v10.0h-10.0zM271.2 271.2h10.0v10.0h-10.0zM38.8 280.9h10.0v10.0h-10.0zM116.2 280.9h10.0v10.0h-10.0zM271.2 280.9h10.0v10.0h-10.0zM29.1 290.6h10.0v10.0h-10.0zM19.4 300.3h10.0v22.0h-10.0z"/>
<path fill="#fbf1b6" d="M87.2 -12.0h19.7v22.0h-19.7zM77.5 9.7h19.7v10.0h-19.7zM67.8 19.4h29.4v10.0h-29.4zM67.8 29.1h29.4v10.0h-29.4zM67.8 38.8h29.4v10.0h-29.4zM58.1 48.4h48.7v10.0h-48.7zM116.2 48.4h10.0v10.0h-10.0zM261.6 48.4h10.0v10.0h-10.0zM58.1 58.1h29.4v10.0h-29.4zM106.6 58.1h10.0v10.0h-10.0zM125.9 58.1h19.7v10.0h-19.7zM67.8 67.8h19.7v10.0h-19.7zM106.6 67.8h10.0v10.0h-10.0zM135.6 67.8h19.7v10.0h-19.7zM280.9 67.8h10.0v10.0h-10.0zM300.3 67.8h22.0v10.0h-22.0zM58.1 77.5h29.4v10.0h-29.4zM145.3 77.5h10.0v10.0h-10.0zM261.6 77.5h10.0v10.0h-10.0zM48.4 87.2h29.4v10.0h-29.4zM96.9 87.2h19.7v10.0h-19.7zM203.4 87.2h10.0v10.0h-10.0zM261.6 87.2h10.0v10.0h-10.0zM58.1 96.9h19.7v10.0h-19.7zM213.1 96.9h10.0v10.0h-10.0zM261.6 96.9h10.0v10.0h-10.0zM125.9 106.6h10.0v10.0h-10.0zM271.2 106.6h10.0v10.0h-10.0zM271.2 116.2h19.7v10.0h-19.7zM271.2 125.9h19.7v10.0h-19.7zM290.6 155.0h31.7v10.0h-31.7zM67.8 164.7h10.0v10.0h-10.0zM290.6 164.7h31.7v10.0h-31.7zM58.1 174.4h10.0v10.0h-10.0zM300.3 174.4h22.0v10.0h-22.0zM300.3 184.1h22.0v10.0h-22.0zM280.9 193.8h41.4v10.0h-41.4zM290.6 203.4h10.0v10.0h-10.0zM271.2 213.1h10.0v10.0h-10.0zM300.3 213.1h22.0v10.0h-22.0zM261.6 222.8h10.0v10.0h-10.0zM261.6 232.5h10.0v10.0h-10.0zM184.1 242.2h10.0v10.0h-10.0zM261.6 242.2h10.0v10.0h-10.0zM-12.0 251.9h22.0v10.0h-22.0zM261.6 251.9h10.0v10.0h-10.0zM271.2 261.6h19.7v10.0h-19.7zM300.3 261.6h22.0v10.0h-22.0zM58.1 271.2h19.7v10.0h-19.7zM280.9 271.2h10.0v10.0h-10.0zM300.3 271.2h22.0v10.0h-22.0zM48.4 280.9h10.0v10.0h-10.0zM280.9 280.9h10.0v10.0h-10.0zM300.3 280.9h22.0v10.0h-22.0zM38.8 290.6h10.0v10.0h-10.0zM125.9 290.6h10.0v10.0h-10.0zM271.2 290.6h10.0v10.0h-10.0zM300.3 290.6h22.0v10.0h-22.0zM29.1 300.3h10.0v22.0h-10.0zM271.2 300.3h10.0v22.0h-10.0zM300.3 300.3h22.0v22.0h-22.0z"/>
<path fill="#d2ebb0" d="M106.6 -12.0h29.4v22.0h-29.4zM155.0 -12.0h19.7v22.0h-19.7zM193.8 -12.0h10.0v22.0h-10.0zM290.6 -12.0h31.7v22.0h-31.7zM96.9 9.7h29.4v10.0h-29.4zM155.0 9.7h10.0v10.0h-10.0zM96.9 19.4h39.0v10.0h-39.0zM155.0 19.4h10.0v10.0h-10.0zM96.9 29.1h29.4v10.0h-29.4zM155.0 29.1h19.7v10.0h-19.7zM96.9 38.8h39.0v10.0h-39.0zM155.0 38.8h29.4v10.0h-29.4zM106.6 48.4h10.0v10.0h-10.0zM125.9 48.4h48.7v10.0h-48.7zM145.3 58.1h29.4v10.0h-29.4zM155.0 67.8h10.0v10.0h-10.0zM271.2 77.5h51.0v10.0h-51.0zM213.1 87.2h10.0v10.0h-10.0zM271.2 87.2h19.7v10.0h-19.7zM300.3 87.2h22.0v10.0h-22.0zM271.2 96.9h51.0v10.0h-51.0zM67.8 106.6h19.7v10.0h-19.7zM222.8 106.6h10.0v10.0h-10.0zM280.9 106.6h41.4v10.0h-41.4zM290.6 116.2h31.7v10.0h-31.7zM19.4 155.0h10.0v10.0h-10.0zM-12.0 164.7h31.7v10.0h-31.7zM174.4 164.7h10.0v10.0h-10.0zM67.8 174.4h10.0v10.0h-10.0zM48.4 184.1h19.7v10.0h-19.7zM300.3 203.4h22.0v10.0h-22.0zM280.9 213.1h19.7v10.0h-19.7zM271.2 222.8h29.4v10.0h-29.4zM271.2 232.5h19.7v10.0h-19.7zM155.0 242.2h10.0v10.0h-10.0zM271.2 242.2h19.7v10.0h-19.7zM271.2 251.9h10.0v10.0h-10.0zM-12.0 261.6h22.0v10.0h-22.0zM77.5 271.2h10.0v10.0h-10.0zM290.6 271.2h10.0v10.0h-10.0zM58.1 280.9h29.4v10.0h-29.4zM96.9 280.9h19.7v10.0h-19.7zM290.6 280.9h10.0v10.0h-10.0zM48.4 290.6h19.7v10.0h-19.7zM77.5 290.6h48.7v10.0h-48.7zM280.9 290.6h19.7v10.0h-19.7zM38.8 300.3h19.7v22.0h-19.7zM67.8 300.3h68.1v22.0h-68.1zM280.9 300.3h19.7v22.0h-19.7z"/>
<path fill="#a9d9aa" d="M135.6 -12.0h19.7v22.0h-19.7zM125.9 9.7h29.4v10.0h-29.4zM135.6 19.4h10.0v10.0h-10.0zM125.9 29.1h29.4v10.0h-29.4zM135.6 38.8h19.7v10.0h-19.7z"/>
<path fill="#eaba8a" d="M174.4 -12.0h10.0v22.0h-10.0zM164.7 9.7h39.0v10.0h-39.0zM164.7 19.4h39.0v10.0h-39.0zM174.4 29.1h77.8v10.0h-77.8zM184.1 38.8h68.1v10.0h-68.1zM174.4 48.4h68.1v10.0h-68.1zM174.4 58.1h48.7v10.0h-48.7zM164.7 67.8h39.0v10.0h-39.0zM155.0 77.5h39.0v10.0h-39.0zM116.2 87.2h39.0v10.0h-39.0zM96.9 96.9h58.4v10.0h-58.4zM96.9 106.6h29.4v10.0h-29.4zM87.2 116.2h39.0v10.0h-39.0zM213.1 135.6h10.0v10.0h-10.0zM203.4 145.3h19.7v10.0h-19.7zM174.4 155.0h29.4v10.0h-29.4zM232.5 155.0h10.0v10.0h-10.0zM203.4 164.7h10.0v10.0h-10.0zM125.9 193.8h10.0v10.0h-10.0zM125.9 203.4h10.0v10.0h-10.0zM125.9 213.1h10.0v10.0h-10.0zM116.2 222.8h10.0v10.0h-10.0zM300.3 222.8h22.0v10.0h-22.0zM290.6 232.5h31.7v10.0h-31.7zM290.6 242.2h31.7v10.0h-31.7zM87.2 251.9h10.0v10.0h-10.0zM280.9 251.9h41.4v10.0h-41.4zM87.2 261.6h19.7v10.0h-19.7zM290.6 261.6h10.0v10.0h-10.0zM87.2 271.2h19.7v10.0h-19.7z"/>
<path fill="#84bcc4" d="M184.1 -12.0h10.0v22.0h-10.0zM203.4 -12.0h10.0v22.0h-10.0zM271.2 -12.0h19.7v22.0h-19.7zM203.4 9.7h10.0v10.0h-10.0zM251.9 9.7h39.0v10.0h-39.0zM300.3 9.7h22.0v10.0h-22.0zM145.3 19.4h10.0v10.0h-10.0zM251.9 19.4h19.7v10.0h-19.7zM251.9 29.1h19.7v10.0h-19.7zM213.1 67.8h29.4v10.0h-29.4zM203.4 77.5h39.0v10.0h-39.0zM222.8 87.2h10.0v10.0h-10.0zM290.6 87.2h10.0v10.0h-10.0zM222.8 96.9h10.0v10.0h-10.0zM145.3 106.6h10.0v10.0h-10.0zM232.5 106.6h10.0v10.0h-10.0zM77.5 116.2h10.0v10.0h-10.0zM145.3 116.2h10.0v10.0h-10.0zM222.8 116.2h10.0v10.0h-10.0zM222.8 125.9h10.0v10.0h-10.0zM203.4 155.0h10.0v10.0h-10.0zM164.7 164.7h10.0v10.0h-10.0zM184.1 164.7h10.0v10.0h-10.0zM-12.0 174.4h41.4v10.0h-41.4zM77.5 174.4h10.0v10.0h-10.0zM155.0 174.4h19.7v10.0h-19.7zM38.8 184.1h10.0v10.0h-10.0zM67.8 184.1h10.0v10.0h-10.0zM145.3 184.1h10.0v10.0h-10.0zM58.1 193.8h10.0v10.0h-10.0zM135.6 193.8h10.0v10.0h-10.0zM135.6 203.4h19.7v10.0h-19.7zM145.3 213.1h10.0v10.0h-10.0zM125.9 222.8h29.4v10.0h-29.4zM174.4 222.8h10.0v10.0h-10.0zM135.6 232.5h39.0v10.0h-39.0zM164.7 242.2h19.7v10.0h-19.7zM193.8 242.2h10.0v10.0h-10.0zM193.8 261.6h19.7v10.0h-19.7zM87.2 280.9h10.0v10.0h-10.0zM145.3 280.9h10.0v10.0h-10.0zM67.8 290.6h10.0v10.0h-10.0zM58.1 300.3h10.0v22.0h-10.0z"/>
<path fill="#4a90c0" d="M290.6 9.7h10.0v10.0h-10.0zM271.2 19.4h19.7v10.0h-19.7zM271.2 29.1h10.0v10.0h-10.0zM232.5 58.1h10.0v10.0h-10.0zM203.4 67.8h10.0v10.0h-10.0zM232.5 87.2h10.0v10.0h-10.0zM232.5 96.9h10.0v10.0h-10.0zM174.4 174.4h10.0v10.0h-10.0zM29.1 184.1h10.0v10.0h-10.0zM155.0 184.1h19.7v10.0h-19.7zM242.2 184.1h10.0v10.0h-10.0zM38.8 193.8h19.7v10.0h-19.7zM155.0 193.8h19.7v10.0h-19.7zM48.4 203.4h10.0v10.0h-10.0zM155.0 203.4h10.0v10.0h-10.0zM135.6 213.1h10.0v10.0h-10.0zM155.0 213.1h19.7v10.0h-19.7zM155.0 222.8h19.7v10.0h-19.7zM174.4 232.5h10.0v10.0h-10.0zM145.3 242.2h10.0v10.0h-10.0zM203.4 242.2h10.0v10.0h-10.0zM193.8 251.9h19.7v10.0h-19.7zM145.3 290.6h10.0v10.0h-10.0zM145.3 300.3h10.0v22.0h-10.0z"/>
<path fill="#c2584a" d="M9.7 77.5h10.0v10.0h-10.0zM9.7 87.2h10.0v10.0h-10.0zM9.7 96.9h10.0v10.0h-10.0zM203.4 135.6h10.0v10.0h-10.0zM193.8 145.3h10.0v10.0h-10.0zM242.2 155.0h10.0v10.0h-10.0zM232.5 164.7h10.0v10.0h-10.0zM9.7 184.1h10.0v10.0h-10.0zM96.9 251.9h10.0v10.0h-10.0z"/>
<path fill="#e6b88e" d="M155.0 87.2h39.0v10.0h-39.0zM155.0 96.9h48.7v10.0h-48.7zM155.0 106.6h58.4v10.0h-58.4zM125.9 116.2h10.0v10.0h-10.0zM155.0 116.2h68.1v10.0h-68.1zM77.5 125.9h135.9v10.0h-135.9zM77.5 135.6h126.2v10.0h-126.2zM77.5 145.3h116.5v10.0h-116.5zM96.9 155.0h77.8v10.0h-77.8zM213.1 155.0h19.7v10.0h-19.7zM96.9 164.7h68.1v10.0h-68.1zM213.1 164.7h19.7v10.0h-19.7zM87.2 174.4h68.1v10.0h-68.1zM213.1 174.4h10.0v10.0h-10.0zM77.5 184.1h68.1v10.0h-68.1zM77.5 193.8h48.7v10.0h-48.7zM67.8 203.4h58.4v10.0h-58.4zM67.8 213.1h58.4v10.0h-58.4zM67.8 222.8h48.7v10.0h-48.7zM87.2 232.5h48.7v10.0h-48.7zM106.6 242.2h29.4v10.0h-29.4zM106.6 251.9h87.5v10.0h-87.5zM106.6 261.6h87.5v10.0h-87.5zM116.2 271.2h87.5v10.0h-87.5zM261.6 271.2h10.0v10.0h-10.0zM155.0 280.9h58.4v10.0h-58.4zM242.2 280.9h29.4v10.0h-29.4zM155.0 290.6h116.5v10.0h-116.5zM155.0 300.3h116.5v22.0h-116.5z"/>
<path fill="#e6b88e" d="M-12.0 116.2h80.1v10.0h-80.1zM-12.0 125.9h89.8v10.0h-89.8zM-12.0 135.6h89.8v10.0h-89.8zM-12.0 145.3h89.8v10.0h-89.8zM29.1 155.0h39.0v10.0h-39.0zM29.1 164.7h29.4v10.0h-29.4z"/>
</g>
<mask id="mS1" maskUnits="userSpaceOnUse" x="-20" y="-20" width="350" height="350"><path d="M-0.5 -0.5h10.7v10.7h-10.7zM212.6 -0.5h10.7v10.7h-10.7zM222.3 -0.5h10.7v10.7h-10.7zM232.0 -0.5h10.7v10.7h-10.7zM241.7 -0.5h10.7v10.7h-10.7zM251.4 -0.5h10.7v10.7h-10.7zM261.1 -0.5h10.7v10.7h-10.7zM212.6 9.2h10.7v10.7h-10.7zM222.3 9.2h10.7v10.7h-10.7zM232.0 9.2h10.7v10.7h-10.7zM241.7 9.2h10.7v10.7h-10.7zM202.9 18.9h10.7v10.7h-10.7zM212.6 18.9h10.7v10.7h-10.7zM222.3 18.9h10.7v10.7h-10.7zM232.0 18.9h10.7v10.7h-10.7zM241.7 18.9h10.7v10.7h-10.7zM-0.5 96.4h10.7v10.7h-10.7zM-0.5 106.1h10.7v10.7h-10.7zM18.9 183.6h10.7v10.7h-10.7zM86.7 241.7h10.7v10.7h-10.7zM96.4 241.7h10.7v10.7h-10.7z" fill="#fff" filter="url(#blurMask)"/></mask>
<rect x="0" y="0" width="310" height="310" fill="url(#patS)" mask="url(#mS1)" opacity="0.85"/>
<mask id="mT1" maskUnits="userSpaceOnUse" x="-20" y="-20" width="350" height="350"><path d="M9.2 77.0h10.7v10.7h-10.7zM9.2 86.7h10.7v10.7h-10.7zM9.2 96.4h10.7v10.7h-10.7zM202.9 135.1h10.7v10.7h-10.7zM193.2 144.8h10.7v10.7h-10.7zM241.7 154.5h10.7v10.7h-10.7zM232.0 164.2h10.7v10.7h-10.7zM9.2 183.6h10.7v10.7h-10.7zM96.4 251.4h10.7v10.7h-10.7z" fill="#fff" filter="url(#blurMask)"/></mask>
<rect x="0" y="0" width="310" height="310" fill="url(#patT)" mask="url(#mT1)" opacity="0.85"/>
<mask id="mP1" maskUnits="userSpaceOnUse" x="-20" y="-20" width="350" height="350"><path d="M173.9 -0.5h10.7v10.7h-10.7zM164.2 9.2h10.7v10.7h-10.7zM173.9 9.2h10.7v10.7h-10.7zM183.6 9.2h10.7v10.7h-10.7zM193.2 9.2h10.7v10.7h-10.7zM164.2 18.9h10.7v10.7h-10.7zM173.9 18.9h10.7v10.7h-10.7zM183.6 18.9h10.7v10.7h-10.7zM193.2 18.9h10.7v10.7h-10.7zM173.9 28.6h10.7v10.7h-10.7zM183.6 28.6h10.7v10.7h-10.7zM193.2 28.6h10.7v10.7h-10.7zM202.9 28.6h10.7v10.7h-10.7zM212.6 28.6h10.7v10.7h-10.7zM222.3 28.6h10.7v10.7h-10.7zM232.0 28.6h10.7v10.7h-10.7zM241.7 28.6h10.7v10.7h-10.7zM183.6 38.2h10.7v10.7h-10.7zM193.2 38.2h10.7v10.7h-10.7zM202.9 38.2h10.7v10.7h-10.7zM212.6 38.2h10.7v10.7h-10.7zM222.3 38.2h10.7v10.7h-10.7zM232.0 38.2h10.7v10.7h-10.7zM241.7 38.2h10.7v10.7h-10.7zM173.9 47.9h10.7v10.7h-10.7zM183.6 47.9h10.7v10.7h-10.7zM193.2 47.9h10.7v10.7h-10.7zM202.9 47.9h10.7v10.7h-10.7zM212.6 47.9h10.7v10.7h-10.7zM222.3 47.9h10.7v10.7h-10.7zM232.0 47.9h10.7v10.7h-10.7zM173.9 57.6h10.7v10.7h-10.7zM183.6 57.6h10.7v10.7h-10.7zM193.2 57.6h10.7v10.7h-10.7zM202.9 57.6h10.7v10.7h-10.7zM212.6 57.6h10.7v10.7h-10.7zM164.2 67.3h10.7v10.7h-10.7zM173.9 67.3h10.7v10.7h-10.7zM183.6 67.3h10.7v10.7h-10.7zM193.2 67.3h10.7v10.7h-10.7zM154.5 77.0h10.7v10.7h-10.7zM164.2 77.0h10.7v10.7h-10.7zM173.9 77.0h10.7v10.7h-10.7zM183.6 77.0h10.7v10.7h-10.7zM115.8 86.7h10.7v10.7h-10.7zM125.4 86.7h10.7v10.7h-10.7zM135.1 86.7h10.7v10.7h-10.7zM144.8 86.7h10.7v10.7h-10.7zM96.4 96.4h10.7v10.7h-10.7zM106.1 96.4h10.7v10.7h-10.7zM115.8 96.4h10.7v10.7h-10.7zM125.4 96.4h10.7v10.7h-10.7zM135.1 96.4h10.7v10.7h-10.7zM144.8 96.4h10.7v10.7h-10.7zM96.4 106.1h10.7v10.7h-10.7zM106.1 106.1h10.7v10.7h-10.7zM115.8 106.1h10.7v10.7h-10.7zM86.7 115.8h10.7v10.7h-10.7zM96.4 115.8h10.7v10.7h-10.7zM106.1 115.8h10.7v10.7h-10.7zM115.8 115.8h10.7v10.7h-10.7zM212.6 135.1h10.7v10.7h-10.7zM202.9 144.8h10.7v10.7h-10.7zM212.6 144.8h10.7v10.7h-10.7zM173.9 154.5h10.7v10.7h-10.7zM183.6 154.5h10.7v10.7h-10.7zM193.2 154.5h10.7v10.7h-10.7zM232.0 154.5h10.7v10.7h-10.7zM202.9 164.2h10.7v10.7h-10.7zM125.4 193.2h10.7v10.7h-10.7zM125.4 202.9h10.7v10.7h-10.7zM125.4 212.6h10.7v10.7h-10.7zM115.8 222.3h10.7v10.7h-10.7zM299.8 222.3h10.7v10.7h-10.7zM290.1 232.0h10.7v10.7h-10.7zM299.8 232.0h10.7v10.7h-10.7zM290.1 241.7h10.7v10.7h-10.7zM299.8 241.7h10.7v10.7h-10.7zM86.7 251.4h10.7v10.7h-10.7zM280.4 251.4h10.7v10.7h-10.7zM290.1 251.4h10.7v10.7h-10.7zM299.8 251.4h10.7v10.7h-10.7zM86.7 261.1h10.7v10.7h-10.7zM96.4 261.1h10.7v10.7h-10.7zM290.1 261.1h10.7v10.7h-10.7zM86.7 270.8h10.7v10.7h-10.7zM96.4 270.8h10.7v10.7h-10.7z" fill="#fff" filter="url(#blurMask)"/></mask>
<rect x="0" y="0" width="310" height="310" fill="url(#patP)" mask="url(#mP1)" opacity="0.85"/>
<mask id="mF1" maskUnits="userSpaceOnUse" x="-20" y="-20" width="350" height="350"><path d="M154.5 86.7h10.7v10.7h-10.7zM164.2 86.7h10.7v10.7h-10.7zM173.9 86.7h10.7v10.7h-10.7zM183.6 86.7h10.7v10.7h-10.7zM154.5 96.4h10.7v10.7h-10.7zM164.2 96.4h10.7v10.7h-10.7zM173.9 96.4h10.7v10.7h-10.7zM183.6 96.4h10.7v10.7h-10.7zM193.2 96.4h10.7v10.7h-10.7zM154.5 106.1h10.7v10.7h-10.7zM164.2 106.1h10.7v10.7h-10.7zM173.9 106.1h10.7v10.7h-10.7zM183.6 106.1h10.7v10.7h-10.7zM193.2 106.1h10.7v10.7h-10.7zM202.9 106.1h10.7v10.7h-10.7zM125.4 115.8h10.7v10.7h-10.7zM154.5 115.8h10.7v10.7h-10.7zM164.2 115.8h10.7v10.7h-10.7zM173.9 115.8h10.7v10.7h-10.7zM183.6 115.8h10.7v10.7h-10.7zM193.2 115.8h10.7v10.7h-10.7zM202.9 115.8h10.7v10.7h-10.7zM212.6 115.8h10.7v10.7h-10.7zM77.0 125.4h10.7v10.7h-10.7zM86.7 125.4h10.7v10.7h-10.7zM96.4 125.4h10.7v10.7h-10.7zM106.1 125.4h10.7v10.7h-10.7zM115.8 125.4h10.7v10.7h-10.7zM125.4 125.4h10.7v10.7h-10.7zM135.1 125.4h10.7v10.7h-10.7zM144.8 125.4h10.7v10.7h-10.7zM154.5 125.4h10.7v10.7h-10.7zM164.2 125.4h10.7v10.7h-10.7zM173.9 125.4h10.7v10.7h-10.7zM183.6 125.4h10.7v10.7h-10.7zM193.2 125.4h10.7v10.7h-10.7zM202.9 125.4h10.7v10.7h-10.7zM77.0 135.1h10.7v10.7h-10.7zM86.7 135.1h10.7v10.7h-10.7zM96.4 135.1h10.7v10.7h-10.7zM106.1 135.1h10.7v10.7h-10.7zM115.8 135.1h10.7v10.7h-10.7zM125.4 135.1h10.7v10.7h-10.7zM135.1 135.1h10.7v10.7h-10.7zM144.8 135.1h10.7v10.7h-10.7zM154.5 135.1h10.7v10.7h-10.7zM164.2 135.1h10.7v10.7h-10.7zM173.9 135.1h10.7v10.7h-10.7zM183.6 135.1h10.7v10.7h-10.7zM193.2 135.1h10.7v10.7h-10.7zM77.0 144.8h10.7v10.7h-10.7zM86.7 144.8h10.7v10.7h-10.7zM96.4 144.8h10.7v10.7h-10.7zM106.1 144.8h10.7v10.7h-10.7zM115.8 144.8h10.7v10.7h-10.7zM125.4 144.8h10.7v10.7h-10.7zM135.1 144.8h10.7v10.7h-10.7zM144.8 144.8h10.7v10.7h-10.7zM154.5 144.8h10.7v10.7h-10.7zM164.2 144.8h10.7v10.7h-10.7zM173.9 144.8h10.7v10.7h-10.7zM183.6 144.8h10.7v10.7h-10.7zM96.4 154.5h10.7v10.7h-10.7zM106.1 154.5h10.7v10.7h-10.7zM115.8 154.5h10.7v10.7h-10.7zM125.4 154.5h10.7v10.7h-10.7zM135.1 154.5h10.7v10.7h-10.7zM144.8 154.5h10.7v10.7h-10.7zM154.5 154.5h10.7v10.7h-10.7zM164.2 154.5h10.7v10.7h-10.7zM212.6 154.5h10.7v10.7h-10.7zM222.3 154.5h10.7v10.7h-10.7zM96.4 164.2h10.7v10.7h-10.7zM106.1 164.2h10.7v10.7h-10.7zM115.8 164.2h10.7v10.7h-10.7zM125.4 164.2h10.7v10.7h-10.7zM135.1 164.2h10.7v10.7h-10.7zM144.8 164.2h10.7v10.7h-10.7zM154.5 164.2h10.7v10.7h-10.7zM212.6 164.2h10.7v10.7h-10.7zM222.3 164.2h10.7v10.7h-10.7zM86.7 173.9h10.7v10.7h-10.7zM96.4 173.9h10.7v10.7h-10.7zM106.1 173.9h10.7v10.7h-10.7zM115.8 173.9h10.7v10.7h-10.7zM125.4 173.9h10.7v10.7h-10.7zM135.1 173.9h10.7v10.7h-10.7zM144.8 173.9h10.7v10.7h-10.7zM212.6 173.9h10.7v10.7h-10.7zM77.0 183.6h10.7v10.7h-10.7zM86.7 183.6h10.7v10.7h-10.7zM96.4 183.6h10.7v10.7h-10.7zM106.1 183.6h10.7v10.7h-10.7zM115.8 183.6h10.7v10.7h-10.7zM125.4 183.6h10.7v10.7h-10.7zM135.1 183.6h10.7v10.7h-10.7zM77.0 193.2h10.7v10.7h-10.7zM86.7 193.2h10.7v10.7h-10.7zM96.4 193.2h10.7v10.7h-10.7zM106.1 193.2h10.7v10.7h-10.7zM115.8 193.2h10.7v10.7h-10.7zM67.3 202.9h10.7v10.7h-10.7zM77.0 202.9h10.7v10.7h-10.7zM86.7 202.9h10.7v10.7h-10.7zM96.4 202.9h10.7v10.7h-10.7zM106.1 202.9h10.7v10.7h-10.7zM115.8 202.9h10.7v10.7h-10.7zM67.3 212.6h10.7v10.7h-10.7zM77.0 212.6h10.7v10.7h-10.7zM86.7 212.6h10.7v10.7h-10.7zM96.4 212.6h10.7v10.7h-10.7zM106.1 212.6h10.7v10.7h-10.7zM115.8 212.6h10.7v10.7h-10.7zM67.3 222.3h10.7v10.7h-10.7zM77.0 222.3h10.7v10.7h-10.7zM86.7 222.3h10.7v10.7h-10.7zM96.4 222.3h10.7v10.7h-10.7zM106.1 222.3h10.7v10.7h-10.7zM86.7 232.0h10.7v10.7h-10.7zM96.4 232.0h10.7v10.7h-10.7zM106.1 232.0h10.7v10.7h-10.7zM115.8 232.0h10.7v10.7h-10.7zM125.4 232.0h10.7v10.7h-10.7zM106.1 241.7h10.7v10.7h-10.7zM115.8 241.7h10.7v10.7h-10.7zM125.4 241.7h10.7v10.7h-10.7zM106.1 251.4h10.7v10.7h-10.7zM115.8 251.4h10.7v10.7h-10.7zM125.4 251.4h10.7v10.7h-10.7zM135.1 251.4h10.7v10.7h-10.7zM144.8 251.4h10.7v10.7h-10.7zM154.5 251.4h10.7v10.7h-10.7zM164.2 251.4h10.7v10.7h-10.7zM173.9 251.4h10.7v10.7h-10.7zM183.6 251.4h10.7v10.7h-10.7zM106.1 261.1h10.7v10.7h-10.7zM115.8 261.1h10.7v10.7h-10.7zM125.4 261.1h10.7v10.7h-10.7zM135.1 261.1h10.7v10.7h-10.7zM144.8 261.1h10.7v10.7h-10.7zM154.5 261.1h10.7v10.7h-10.7zM164.2 261.1h10.7v10.7h-10.7zM173.9 261.1h10.7v10.7h-10.7zM183.6 261.1h10.7v10.7h-10.7zM115.8 270.8h10.7v10.7h-10.7zM125.4 270.8h10.7v10.7h-10.7zM135.1 270.8h10.7v10.7h-10.7zM144.8 270.8h10.7v10.7h-10.7zM154.5 270.8h10.7v10.7h-10.7zM164.2 270.8h10.7v10.7h-10.7zM173.9 270.8h10.7v10.7h-10.7zM183.6 270.8h10.7v10.7h-10.7zM193.2 270.8h10.7v10.7h-10.7zM261.1 270.8h10.7v10.7h-10.7zM154.5 280.4h10.7v10.7h-10.7zM164.2 280.4h10.7v10.7h-10.7zM173.9 280.4h10.7v10.7h-10.7zM183.6 280.4h10.7v10.7h-10.7zM193.2 280.4h10.7v10.7h-10.7zM202.9 280.4h10.7v10.7h-10.7zM241.7 280.4h10.7v10.7h-10.7zM251.4 280.4h10.7v10.7h-10.7zM261.1 280.4h10.7v10.7h-10.7zM154.5 290.1h10.7v10.7h-10.7zM164.2 290.1h10.7v10.7h-10.7zM173.9 290.1h10.7v10.7h-10.7zM183.6 290.1h10.7v10.7h-10.7zM193.2 290.1h10.7v10.7h-10.7zM202.9 290.1h10.7v10.7h-10.7zM212.6 290.1h10.7v10.7h-10.7zM222.3 290.1h10.7v10.7h-10.7zM232.0 290.1h10.7v10.7h-10.7zM241.7 290.1h10.7v10.7h-10.7zM251.4 290.1h10.7v10.7h-10.7zM261.1 290.1h10.7v10.7h-10.7zM154.5 299.8h10.7v10.7h-10.7zM164.2 299.8h10.7v10.7h-10.7zM173.9 299.8h10.7v10.7h-10.7zM183.6 299.8h10.7v10.7h-10.7zM193.2 299.8h10.7v10.7h-10.7zM202.9 299.8h10.7v10.7h-10.7zM212.6 299.8h10.7v10.7h-10.7zM222.3 299.8h10.7v10.7h-10.7zM232.0 299.8h10.7v10.7h-10.7zM241.7 299.8h10.7v10.7h-10.7zM251.4 299.8h10.7v10.7h-10.7zM261.1 299.8h10.7v10.7h-10.7z" fill="#fff" filter="url(#blurMask)"/></mask>
<rect x="0" y="0" width="310" height="310" fill="url(#patF)" mask="url(#mF1)" opacity="0.9"/>
<mask id="mH1" maskUnits="userSpaceOnUse" x="-20" y="-20" width="350" height="350"><path d="M-0.5 115.8h10.7v10.7h-10.7zM9.2 115.8h10.7v10.7h-10.7zM18.9 115.8h10.7v10.7h-10.7zM28.6 115.8h10.7v10.7h-10.7zM38.2 115.8h10.7v10.7h-10.7zM47.9 115.8h10.7v10.7h-10.7zM57.6 115.8h10.7v10.7h-10.7zM-0.5 125.4h10.7v10.7h-10.7zM9.2 125.4h10.7v10.7h-10.7zM18.9 125.4h10.7v10.7h-10.7zM28.6 125.4h10.7v10.7h-10.7zM38.2 125.4h10.7v10.7h-10.7zM47.9 125.4h10.7v10.7h-10.7zM57.6 125.4h10.7v10.7h-10.7zM67.3 125.4h10.7v10.7h-10.7zM-0.5 135.1h10.7v10.7h-10.7zM9.2 135.1h10.7v10.7h-10.7zM18.9 135.1h10.7v10.7h-10.7zM28.6 135.1h10.7v10.7h-10.7zM38.2 135.1h10.7v10.7h-10.7zM47.9 135.1h10.7v10.7h-10.7zM57.6 135.1h10.7v10.7h-10.7zM67.3 135.1h10.7v10.7h-10.7zM-0.5 144.8h10.7v10.7h-10.7zM9.2 144.8h10.7v10.7h-10.7zM18.9 144.8h10.7v10.7h-10.7zM28.6 144.8h10.7v10.7h-10.7zM38.2 144.8h10.7v10.7h-10.7zM47.9 144.8h10.7v10.7h-10.7zM57.6 144.8h10.7v10.7h-10.7zM67.3 144.8h10.7v10.7h-10.7zM28.6 154.5h10.7v10.7h-10.7zM38.2 154.5h10.7v10.7h-10.7zM47.9 154.5h10.7v10.7h-10.7zM57.6 154.5h10.7v10.7h-10.7zM28.6 164.2h10.7v10.7h-10.7zM38.2 164.2h10.7v10.7h-10.7zM47.9 164.2h10.7v10.7h-10.7z" fill="#fff" filter="url(#blurMask)"/></mask>
<rect x="0" y="0" width="310" height="310" fill="url(#patH)" mask="url(#mH1)" opacity="0.9"/>
<circle cx="47.9" cy="149.2" r="20.00" fill="#fed894"/>
<circle cx="47.9" cy="149.2" r="19.57" fill="#f68c4e"/>
<circle cx="47.9" cy="149.2" r="19.13" fill="#d62f26"/>
<circle cx="47.9" cy="149.2" r="18.70" fill="#4690c1"/>
<circle cx="47.9" cy="149.2" r="18.27" fill="#a5d6ae"/>
<circle cx="47.9" cy="149.2" r="17.83" fill="#f2f8c4"/>
<circle cx="47.9" cy="149.2" r="17.40" fill="#fed894"/>
<circle cx="47.9" cy="149.2" r="16.97" fill="#f68c4e"/>
<circle cx="47.9" cy="149.2" r="16.53" fill="#d62f26"/>
<circle cx="47.9" cy="149.2" r="16.10" fill="#4690c1"/>
<circle cx="47.9" cy="149.2" r="15.67" fill="#a5d6ae"/>
<circle cx="47.9" cy="149.2" r="15.23" fill="#f2f8c4"/>
<circle cx="47.9" cy="149.2" r="14.80" fill="#fed894"/>
<circle cx="47.9" cy="149.2" r="14.37" fill="#f68c4e"/>
<circle cx="47.9" cy="149.2" r="13.93" fill="#d62f26"/>
<circle cx="47.9" cy="149.2" r="13.50" fill="#4690c1"/>
<circle cx="47.9" cy="149.2" r="13.07" fill="#a5d6ae"/>
<circle cx="47.9" cy="149.2" r="12.63" fill="#f2f8c4"/>
<circle cx="47.9" cy="149.2" r="12.20" fill="#fed894"/>
<circle cx="47.9" cy="149.2" r="11.77" fill="#f68c4e"/>
<circle cx="47.9" cy="149.2" r="11.33" fill="#d62f26"/>
<circle cx="47.9" cy="149.2" r="10.90" fill="#4690c1"/>
<circle cx="47.9" cy="149.2" r="10.47" fill="#a5d6ae"/>
<circle cx="47.9" cy="149.2" r="10.03" fill="#f2f8c4"/>
<circle cx="47.9" cy="149.2" r="9.60" fill="#fed894"/>
<circle cx="47.9" cy="149.2" r="9.17" fill="#f68c4e"/>
<circle cx="47.9" cy="149.2" r="8.73" fill="#d62f26"/>
<circle cx="47.9" cy="149.2" r="8.30" fill="#4690c1"/>
<circle cx="47.9" cy="149.2" r="7.87" fill="#a5d6ae"/>
<circle cx="47.9" cy="149.2" r="7.43" fill="#f2f8c4"/>
<circle cx="47.9" cy="149.2" r="7.00" fill="#fed894"/>
<circle cx="47.9" cy="149.2" r="6.57" fill="#f68c4e"/>
<circle cx="47.9" cy="149.2" r="6.13" fill="#d62f26"/>
<circle cx="47.9" cy="149.2" r="5.70" fill="#4690c1"/>
<circle cx="47.9" cy="149.2" r="5.27" fill="#a5d6ae"/>
<circle cx="47.9" cy="149.2" r="4.83" fill="#f2f8c4"/>
<circle cx="47.9" cy="149.2" r="4.40" fill="#fed894"/>
<circle cx="47.9" cy="149.2" r="3.97" fill="#f68c4e"/>
<circle cx="47.9" cy="149.2" r="3.53" fill="#d62f26"/>
<circle cx="47.9" cy="149.2" r="3.10" fill="#4690c1"/>
<circle cx="47.9" cy="149.2" r="2.67" fill="#a5d6ae"/>
<circle cx="47.9" cy="149.2" r="2.23" fill="#f2f8c4"/>
<circle cx="47.9" cy="149.2" r="1.80" fill="#fed894"/>
<circle cx="47.9" cy="149.2" r="1.37" fill="#f68c4e"/>
<circle cx="47.9" cy="149.2" r="0.93" fill="#d62f26"/>
<g fill="none" stroke-width="2.20" stroke-linejoin="round">
<path d="M146.4 138.5l3.3-.8 3.2-.8 3.2-.9 3.3-1 3.2-1 3.1-1.1 3.1-1.2 3-1.5 3-1.6 2.8-1.7 2.8-1.9 2.7-1.8 2.8-1.9 2.6-2 1.2-2.9-1.6-2.9-2.8-1.9-3.2-.6-3.4 .1-3.3 .2-3.4 .4-3.2 .6-3.3 .7-3.3 .8-3.2 1-3.1 1.2-3.3 .6-3.3 .4-3.4 .3" stroke="#d62f26"/>
<path d="M147.4 139.3l3.3-.8 3.4-.9 3.3-1 3.3-1 3.3-1.1 3.3-1.1 3.2-1.3 3.1-1.6 3-1.7 2.9-1.9 2.8-2 2.7-2 2.7-2.1 2.5-2.2 1.1-3-1.7-3-2.8-2-3.4-.6-3.5 0-3.4 .3-3.5 .4-3.4 .6-3.4 .8-3.4 .8-3.3 1.1-3.3 1.1-3.4 .7-3.4 .5-3.5 .4" stroke="#f68c4e"/>
<path d="M148.3 140.2l3.5-1 3.4-.9 3.5-1.1 3.4-1 3.4-1.1 3.4-1.3 3.3-1.4 3.2-1.6 3.1-1.8 2.9-2.1 2.8-2.1 2.6-2.3 2.7-2.2 2.4-2.4 1-3.2-1.7-3-3-2-3.5-.7-3.6 0-3.6 .3-3.5 .4-3.6 .7-3.5 .8-3.5 .9-3.4 1-3.4 1.2-3.5 .7-3.6 .6-3.6 .4" stroke="#fed894"/>
<path d="M149.2 141l3.6-1 3.6-1 3.6-1.1 3.5-1.1 3.5-1.2 3.5-1.3 3.4-1.5 3.3-1.7 3.2-1.9 2.9-2.2 2.8-2.4 2.6-2.4 2.6-2.4 2.3-2.5 1-3.4-1.9-3.1-3-2.1-3.7-.7-3.7 0-3.7 .3-3.7 .5-3.7 .6-3.6 .9-3.6 .9-3.5 1.1-3.6 1.2-3.6 .8-3.7 .6-3.7 .5" stroke="#f2f8c4"/>
<path d="M150.2 141.9l3.7-1.1 3.7-1.1 3.6-1.2 3.7-1.2 3.6-1.2 3.6-1.4 3.5-1.5 3.4-1.8 3.3-2.1 2.9-2.3 2.7-2.5 2.7-2.6 2.5-2.5 2.2-2.8 .9-3.5-1.9-3.2-3.2-2.2-3.7-.8-3.9 .1-3.8 .3-3.8 .5-3.8 .7-3.8 .8-3.7 1-3.7 1.2-3.6 1.2-3.8 .8-3.7 .7-3.9 .5" stroke="#a5d6ae"/>
<path d="M151.1 142.7l3.8-1.1 3.8-1.2 3.8-1.2 3.8-1.3 3.7-1.3 3.7-1.4 3.6-1.6 3.5-1.9 3.3-2.2 3-2.4 2.7-2.7 2.6-2.8 2.5-2.7 2.1-3 .8-3.6-2-3.4-3.2-2.2-3.9-.8-4 0-3.9 .4-4 .5-3.9 .7-3.9 .9-3.8 1-3.8 1.2-3.8 1.3-3.8 .9-3.9 .6-4 .6" stroke="#4690c1"/>
<path d="M152.1 143.6l3.9-1.2 3.9-1.3 3.9-1.3 3.8-1.3 3.9-1.4 3.8-1.5 3.7-1.7 3.6-1.9 3.4-2.3 3-2.6 2.7-2.8 2.6-3 2.4-2.9 2-3.1 .7-3.8-2-3.5-3.4-2.2-4-.9-4.1 0-4.1 .4-4 .5-4.1 .8-3.9 .9-4 1-3.9 1.3-3.9 1.3-4 .9-4 .7-4.1 .7" stroke="#d62f26"/>
<path d="M153 144.4l4-1.3 4-1.2 4-1.4 4-1.4 4-1.5 3.9-1.6 3.8-1.7 3.7-2 3.5-2.4 3-2.8 2.7-3 2.5-3.1 2.4-3.1 1.9-3.3 .6-3.9-2.1-3.6-3.5-2.3-4.1-.9-4.2 0-4.2 .4-4.2 .5-4.1 .8-4.1 1-4.1 1.1-4.1 1.2-4 1.4-4.1 .9-4.1 .8-4.2 .7" stroke="#f68c4e"/>
<path d="M154 145.3l4.1-1.4 4.1-1.3 4.1-1.5 4.1-1.4 4.1-1.6 4-1.6 3.9-1.8 3.8-2.1 3.5-2.5 3.1-2.9 2.7-3.2 2.5-3.3 2.3-3.3 1.8-3.4 .5-4.1-2.1-3.7-3.6-2.4-4.2-.9-4.4 0-4.3 .3-4.3 .6-4.3 .8-4.2 1.1-4.2 1.1-4.2 1.3-4.1 1.3-4.2 1.1-4.3 .8-4.3 .8" stroke="#fed894"/>
<path d="M154.9 146.1l4.2-1.4 4.3-1.4 4.2-1.5 4.2-1.5 4.1-1.6 4.2-1.8 4-1.9 3.9-2.1 3.6-2.6 3.1-3.1 2.7-3.3 2.5-3.5 2.2-3.5 1.7-3.6 .4-4.2-2.2-3.8-3.7-2.5-4.3-1-4.5 0-4.4 .4-4.5 .6-4.4 .9-4.3 1.1-4.3 1.1-4.3 1.3-4.3 1.4-4.3 1.1-4.4 .9-4.4 .8" stroke="#f2f8c4"/>
<path d="M155.8 147l4.4-1.5 4.3-1.5 4.3-1.6 4.4-1.6 4.2-1.6 4.3-1.8 4.1-2 4-2.2 3.7-2.7 3.1-3.2 2.7-3.5 2.4-3.7 2.2-3.6 1.6-3.9 .3-4.3-2.2-3.9-3.8-2.5-4.5-1.1-4.6 0-4.6 .4-4.5 .6-4.5 .9-4.5 1.1-4.4 1.2-4.4 1.4-4.4 1.4-4.5 1.1-4.4 1-4.6 .8" stroke="#a5d6ae"/>
<path d="M156.8 147.8l4.4-1.5 4.5-1.6 4.4-1.6 4.4-1.7 4.4-1.7 4.4-1.9 4.2-2 4.1-2.3 3.8-2.8 3.1-3.4 2.7-3.7 2.4-3.8 2.1-3.8 1.5-4 .2-4.5-2.3-4-3.9-2.6-4.6-1.1-4.7 0-4.7 .4-4.7 .6-4.6 1-4.6 1.1-4.5 1.3-4.6 1.3-4.5 1.5-4.5 1.2-4.6 1-4.7 .9" stroke="#4690c1"/>
<path d="M157.7 148.6l4.6-1.6 4.6-1.6 4.5-1.7 4.5-1.7 4.5-1.8 4.4-1.9 4.4-2.1 4.2-2.4 3.8-3 3.2-3.5 2.7-3.8 2.3-4 2.1-4 1.4-4.2 .1-4.6-2.3-4.1-4-2.7-4.7-1.1-4.9 0-4.8 .4-4.8 .7-4.8 .9-4.7 1.2-4.7 1.3-4.6 1.4-4.6 1.5-4.7 1.2-4.7 1.1-4.8 .9" stroke="#d62f26"/>
<path d="M158.7 149.5l4.6-1.7 4.7-1.7 4.7-1.7 4.6-1.8 4.6-1.9 4.5-2 4.5-2.2 4.3-2.4 3.9-3.1 3.2-3.6 2.6-4 2.4-4.2 2-4.2 1.3-4.4 .1-4.7-2.5-4.2-4.1-2.8-4.8-1.1-5-.1-4.9 .5-5 .7-4.8 1-4.9 1.2-4.8 1.3-4.7 1.5-4.8 1.5-4.8 1.3-4.8 1.1-4.9 1" stroke="#f68c4e"/>
<path d="M159.6 150.3l4.8-1.7 4.8-1.8 4.7-1.8 4.8-1.8 4.7-2 4.6-2 4.6-2.3 4.4-2.5 4-3.2 3.2-3.8 2.6-4.2 2.3-4.3 2-4.4 1.2-4.5 0-4.9-2.5-4.4-4.3-2.8-4.9-1.1-5.1-.1-5.1 .5-5 .7-5 1-4.9 1.3-5 1.3-4.8 1.5-4.9 1.6-4.9 1.3-5 1.2-5 1" stroke="#fed894"/>
<path d="M160.6 151.2l4.8-1.8 4.9-1.9 4.9-1.8 4.9-2 4.8-2 4.7-2.1 4.7-2.3 4.5-2.6 4.1-3.3 3.2-3.9 2.6-4.4 2.3-4.5 1.9-4.6 1.1-4.7-.1-5-2.6-4.5-4.3-2.8-5.1-1.3-5.2 0-5.2 .5-5.2 .7-5.1 1.1-5 1.3-5.1 1.4-5 1.5-5 1.5-5 1.4-5 1.3-5.2 1" stroke="#f2f8c4"/>
<path d="M161.5 152l5-1.8 5-1.9 5-2 4.9-2 5-2 4.8-2.3 4.8-2.3 4.6-2.8 4.1-3.3 3.3-4.1 2.6-4.5 2.3-4.7 1.8-4.7 1-4.9-.2-5.2-2.6-4.6-4.5-2.9-5.1-1.3-5.4 0-5.3 .4-5.3 .8-5.2 1.1-5.2 1.4-5.2 1.4-5.1 1.5-5.1 1.6-5.1 1.5-5.2 1.3-5.3 1.1" stroke="#a5d6ae"/>
<path d="M162.4 152.9l5.2-2 5.1-1.9 5-2 5.1-2.1 5-2.1 5-2.3 4.9-2.5 4.7-2.8 4.2-3.4 3.3-4.3 2.6-4.6 2.2-4.9 1.8-4.9 .9-5.1-.3-5.3-2.7-4.7-4.5-3-5.3-1.3-5.5-.1-5.4 .5-5.5 .8-5.3 1.1-5.3 1.4-5.3 1.5-5.2 1.6-5.3 1.6-5.2 1.5-5.3 1.4-5.4 1.1" stroke="#4690c1"/>
<path d="M163.4 153.7l5.2-2 5.2-2 5.2-2.1 5.2-2.1 5.1-2.2 5.1-2.4 5-2.5 4.8-2.9 4.3-3.5 3.3-4.4 2.6-4.9 2.2-5 1.7-5.1 .8-5.3-.4-5.4-2.8-4.8-4.6-3.1-5.4-1.3-5.6-.1-5.6 .5-5.5 .8-5.5 1.2-5.4 1.4-5.4 1.5-5.4 1.6-5.3 1.7-5.4 1.5-5.4 1.5-5.5 1.2" stroke="#d62f26"/>
<path d="M164.3 154.6l5.4-2.1 5.3-2.1 5.3-2.1 5.3-2.2 5.2-2.3 5.2-2.4 5.1-2.6 4.9-3 4.4-3.6 3.3-4.6 2.6-5 2.1-5.2 1.7-5.3 .7-5.4-.5-5.6-2.8-4.9-4.7-3.1-5.6-1.4-5.7-.1-5.7 .5-5.7 .8-5.5 1.2-5.6 1.5-5.5 1.5-5.5 1.7-5.4 1.7-5.5 1.6-5.6 1.5-5.6 1.2" stroke="#f68c4e"/>
<path d="M165.3 155.4l5.4-2.1 5.4-2.2 5.5-2.2 5.4-2.2 5.3-2.4 5.3-2.5 5.2-2.6 5-3.1 4.4-3.8 3.4-4.6 2.6-5.2 2.1-5.4 1.6-5.5 .7-5.6-.7-5.7-2.9-5-4.8-3.2-5.6-1.5-5.9-.1-5.8 .6-5.8 .8-5.7 1.3-5.7 1.5-5.6 1.6-5.6 1.6-5.6 1.8-5.6 1.6-5.7 1.5-5.7 1.3" stroke="#fed894"/>
<path d="M166.2 156.3l5.6-2.3 5.5-2.2 5.5-2.2 5.5-2.4 5.5-2.4 5.4-2.5 5.3-2.8 5.1-3.1 4.5-3.9 3.4-4.8 2.5-5.4 2.1-5.5 1.6-5.6 .6-5.9-.8-5.8-2.9-5.1-5-3.3-5.7-1.5-6-.1-5.9 .6-5.9 .9-5.9 1.2-5.8 1.6-5.7 1.6-5.7 1.7-5.7 1.8-5.8 1.7-5.7 1.5-5.9 1.4" stroke="#f2f8c4"/>
<path d="M167.2 157.1l5.6-2.3 5.7-2.3 5.6-2.3 5.6-2.4 5.6-2.5 5.5-2.6 5.4-2.8 5.2-3.2 4.6-4 3.4-5 2.5-5.5 2.1-5.7 1.5-5.8 .5-6-.9-6-3-5.2-5-3.4-5.9-1.5-6.1-.1-6.1 .6-6 .9-6 1.3-5.8 1.6-5.9 1.6-5.9 1.7-5.8 1.8-5.8 1.8-5.9 1.6-6 1.4" stroke="#a5d6ae"/>
<path d="M168.1 158l5.8-2.4 5.7-2.4 5.8-2.3 5.7-2.5 5.7-2.5 5.6-2.8 5.5-2.8 5.3-3.3 4.7-4.1 3.5-5.1 2.4-5.7 2.1-5.9 1.4-6 .4-6.2-1-6.1-3-5.4-5.2-3.3-6-1.6-6.2-.1-6.2 .6-6.1 .9-6.1 1.3-6 1.6-6 1.7-6 1.8-5.9 1.8-6 1.8-6 1.7-6.1 1.5" stroke="#4690c1"/>
</g>
<g fill="none" stroke-width="0.77" stroke-linejoin="round">
<path d="M158.4 175.1l-4.1 2.6-4 2.5-4.1 2.5-4.1 2.5-4 2.5-4.1 2.5-4.1 2.5-4 2.7-3.7 3-3.4 3.4-3 3.7-2.5 4.1-1.4 4.5 0 4.8 1.4 4.5 2.8 3.8 4.3 2.1 4.6 1.1 4.7 .8 4.8 .5 4.8 .3 4.8 .3 4.7 .3 4.8 .3 4.8 .3" stroke="#d62f26"/>
<path d="M158.4 174.7l-4.1 2.5-4.2 2.5-4.1 2.5-4.1 2.5-4.1 2.6-4.2 2.4-4.1 2.6-4 2.7-3.7 3.1-3.4 3.4-3.1 3.8-2.5 4.1-1.4 4.6-.1 4.8 1.5 4.6 2.8 3.9 4.3 2.1 4.8 1.1 4.7 .9 4.8 .4 4.9 .4 4.8 .3 4.8 .3 4.9 .3 4.8 .3" stroke="#f68c4e"/>
<path d="M158.4 174.2l-4.2 2.5-4.2 2.5-4.2 2.5-4.2 2.5-4.1 2.6-4.2 2.5-4.2 2.6-4 2.8-3.8 3.1-3.4 3.5-3.1 3.8-2.5 4.2-1.5 4.6 0 4.9 1.5 4.7 2.9 3.8 4.3 2.2 4.8 1.1 4.8 .9 4.9 .5 4.9 .3 4.8 .4 4.9 .3 4.9 .3 4.9 .3" stroke="#fed894"/>
<path d="M158.4 173.8l-4.2 2.5-4.3 2.4-4.3 2.5-4.2 2.6-4.2 2.5-4.3 2.5-4.2 2.6-4.1 2.9-3.7 3.2-3.5 3.5-3.1 3.9-2.5 4.2-1.5 4.7 0 4.9 1.5 4.8 2.9 3.9 4.4 2.2 4.8 1.2 4.9 .9 4.9 .5 4.9 .3 5 .4 4.9 .3 5 .3 4.9 .3" stroke="#f2f8c4"/>
<path d="M158.4 173.3l-4.3 2.5-4.3 2.5-4.3 2.5-4.3 2.5-4.3 2.5-4.4 2.6-4.2 2.6-4.1 2.9-3.8 3.3-3.5 3.6-3.1 3.8-2.5 4.3-1.5 4.8 0 5 1.5 4.8 3 4 4.4 2.2 4.8 1.2 5 .9 4.9 .5 5 .4 5 .4 5 .3 5 .3 5 .3" stroke="#a5d6ae"/>
<path d="M158.4 172.8l-4.4 2.5-4.4 2.5-4.3 2.5-4.4 2.5-4.4 2.5-4.3 2.6-4.3 2.7-4.1 2.9-3.8 3.3-3.5 3.7-3.2 3.9-2.5 4.4-1.5 4.8 0 5.1 1.5 4.8 3 4 4.5 2.3 4.9 1.2 4.9 1 5.1 .5 5 .4 5 .4 5.1 .3 5.1 .4 5 .3" stroke="#4690c1"/>
<path d="M158.4 172.4l-4.4 2.5-4.5 2.4-4.4 2.5-4.4 2.5-4.5 2.6-4.4 2.6-4.3 2.7-4.1 3-3.9 3.3-3.5 3.7-3.2 4-2.5 4.4-1.5 4.9 0 5.1 1.5 4.9 3 4.1 4.5 2.3 5 1.2 5 1 5.1 .6 5.1 .4 5.1 .4 5.1 .4 5.1 .3 5.1 .3" stroke="#d62f26"/>
<path d="M158.4 171.9l-4.5 2.5-4.5 2.4-4.5 2.5-4.5 2.5-4.5 2.6-4.4 2.6-4.4 2.8-4.2 3-3.8 3.4-3.6 3.8-3.1 4-2.6 4.5-1.5 4.9 0 5.2 1.5 4.9 3.1 4.1 4.5 2.4 5 1.3 5.1 .9 5.1 .6 5.2 .5 5.1 .4 5.2 .4 5.1 .3 5.2 .3" stroke="#f68c4e"/>
<path d="M158.4 171.5l-4.6 2.4-4.5 2.5-4.6 2.4-4.5 2.5-4.6 2.6-4.5 2.6-4.4 2.8-4.2 3.1-3.9 3.5-3.5 3.8-3.2 4.1-2.6 4.5-1.5 5 0 5.2 1.5 5 3.1 4.2 4.6 2.4 5 1.3 5.2 1 5.1 .6 5.2 .5 5.3 .4 5.2 .4 5.2 .3 5.2 .3" stroke="#fed894"/>
<path d="M158.4 171l-4.6 2.5-4.6 2.4-4.7 2.5-4.6 2.5-4.6 2.5-4.5 2.7-4.5 2.8-4.2 3.1-3.9 3.6-3.6 3.8-3.2 4.2-2.6 4.6-1.5 5 0 5.3 1.5 5 3.1 4.2 4.7 2.5 5.1 1.3 5.1 1 5.3 .7 5.2 .5 5.3 .4 5.3 .4 5.2 .3 5.3 .3" stroke="#f2f8c4"/>
<path d="M158.4 170.6l-4.7 2.4-4.7 2.4-4.7 2.5-4.6 2.5-4.7 2.5-4.6 2.7-4.5 2.9-4.2 3.2-4 3.6-3.6 3.9-3.2 4.2-2.6 4.6-1.5 5.1 0 5.3 1.5 5.1 3.2 4.3 4.6 2.5 5.2 1.3 5.2 1.1 5.3 .7 5.3 .4 5.3 .5 5.3 .4 5.4 .3 5.3 .3" stroke="#a5d6ae"/>
<path d="M158.4 170.1l-4.7 2.4-4.8 2.4-4.7 2.5-4.8 2.5-4.7 2.6-4.6 2.7-4.6 2.9-4.3 3.2-3.9 3.6-3.7 4-3.2 4.3-2.6 4.7-1.5 5.1-.1 5.4 1.6 5.1 3.2 4.3 4.7 2.6 5.2 1.4 5.3 1 5.3 .7 5.4 .5 5.4 .5 5.3 .4 5.4 .3 5.4 .4" stroke="#4690c1"/>
<path d="M158.4 169.6l-4.8 2.5-4.8 2.4-4.8 2.4-4.8 2.5-4.8 2.6-4.7 2.7-4.6 3-4.3 3.2-4 3.7-3.6 4-3.3 4.4-2.6 4.7-1.5 5.2-.1 5.4 1.6 5.2 3.2 4.4 4.8 2.6 5.2 1.4 5.4 1.1 5.4 .7 5.4 .5 5.4 .5 5.4 .4 5.5 .3 5.4 .4" stroke="#d62f26"/>
<path d="M158.4 169.2l-4.9 2.4-4.8 2.4-4.9 2.4-4.9 2.5-4.8 2.6-4.7 2.8-4.7 2.9-4.3 3.4-4 3.7-3.7 4.1-3.3 4.4-2.6 4.8-1.6 5.2 0 5.5 1.6 5.2 3.3 4.4 4.8 2.7 5.3 1.4 5.3 1.1 5.5 .8 5.4 .5 5.5 .5 5.5 .4 5.5 .4 5.5 .3" stroke="#f68c4e"/>
<path d="M158.4 168.7l-4.9 2.4-5 2.4-4.9 2.5-4.9 2.4-4.9 2.6-4.8 2.8-4.7 3-4.4 3.4-4 3.8-3.7 4.1-3.3 4.4-2.6 4.9-1.6 5.3 0 5.6 1.6 5.3 3.3 4.4 4.8 2.6 5.4 1.5 5.4 1.2 5.5 .7 5.5 .6 5.6 .5 5.5 .4 5.6 .4 5.5 .3" stroke="#fed894"/>
<path d="M158.4 168.3l-5 2.4-5 2.4-5 2.4-4.9 2.5-5 2.6-4.8 2.7-4.8 3.1-4.4 3.4-4 3.9-3.7 4.1-3.4 4.5-2.6 4.9-1.6 5.4 0 5.6 1.6 5.4 3.4 4.4 4.8 2.7 5.4 1.6 5.5 1.1 5.5 .8 5.6 .6 5.6 .5 5.6 .4 5.6 .4 5.6 .3" stroke="#f2f8c4"/>
<path d="M158.4 167.8l-5 2.4-5.1 2.4-5.1 2.4-5 2.5-5 2.6-4.9 2.8-4.7 3.1-4.5 3.4-4.1 3.9-3.7 4.3-3.3 4.5-2.7 5-1.6 5.4 0 5.7 1.6 5.4 3.4 4.5 4.9 2.7 5.4 1.6 5.6 1.2 5.6 .8 5.6 .6 5.6 .5 5.7 .4 5.6 .4 5.7 .3" stroke="#a5d6ae"/>
<path d="M158.4 167.4l-5.1 2.3-5.1 2.4-5.1 2.4-5.1 2.5-5.1 2.6-5 2.8-4.7 3.2-4.5 3.5-4.1 3.9-3.8 4.3-3.3 4.6-2.7 5-1.6 5.5 0 5.7 1.6 5.5 3.4 4.5 5 2.8 5.5 1.6 5.5 1.2 5.7 .8 5.7 .6 5.7 .6 5.7 .4 5.7 .4 5.7 .3" stroke="#4690c1"/>
<path d="M158.4 166.9l-5.2 2.4-5.2 2.3-5.1 2.4-5.2 2.5-5.1 2.6-5 2.9-4.8 3.1-4.6 3.6-4.1 4-3.8 4.3-3.3 4.7-2.7 5.1-1.6 5.5 0 5.8 1.6 5.5 3.5 4.6 4.9 2.8 5.6 1.6 5.6 1.3 5.7 .8 5.8 .6 5.7 .6 5.8 .5 5.7 .3 5.8 .4" stroke="#d62f26"/>
<path d="M158.4 166.4l-5.2 2.4-5.3 2.4-5.2 2.3-5.2 2.5-5.2 2.6-5.1 2.9-4.8 3.2-4.6 3.6-4.1 4.1-3.8 4.4-3.4 4.7-2.7 5.1-1.6 5.6 0 5.8 1.6 5.6 3.5 4.6 5 2.9 5.6 1.7 5.7 1.2 5.7 .9 5.8 .6 5.8 .6 5.9 .5 5.8 .3 5.8 .4" stroke="#f68c4e"/>
<path d="M158.4 166l-5.3 2.3-5.3 2.4-5.3 2.4-5.3 2.4-5.2 2.7-5.1 2.9-4.9 3.2-4.6 3.7-4.2 4.1-3.8 4.4-3.4 4.8-2.7 5.2-1.6 5.6 0 5.9 1.7 5.6 3.4 4.7 5.1 2.9 5.6 1.7 5.8 1.3 5.8 .8 5.8 .7 5.9 .6 5.8 .5 5.9 .4 5.9 .3" stroke="#fed894"/>
<path d="M158.4 165.5l-5.4 2.4-5.3 2.3-5.4 2.4-5.3 2.4-5.3 2.7-5.2 2.9-4.9 3.3-4.6 3.7-4.2 4.1-3.9 4.5-3.4 4.9-2.7 5.2-1.6 5.7 0 5.9 1.7 5.7 3.5 4.8 5.1 2.9 5.7 1.7 5.7 1.3 5.9 .9 5.9 .7 5.9 .6 5.9 .5 6 .4 5.9 .3" stroke="#f2f8c4"/>
<path d="M158.4 165.1l-5.4 2.3-5.4 2.3-5.5 2.4-5.4 2.5-5.3 2.6-5.2 2.9-5 3.4-4.7 3.7-4.2 4.2-3.8 4.6-3.5 4.9-2.7 5.3-1.6 5.7-.1 6 1.8 5.7 3.5 4.8 5.2 3 5.7 1.7 5.8 1.3 5.9 1 6 .7 5.9 .6 6 .5 6 .4 6 .3" stroke="#a5d6ae"/>
<path d="M158.4 164.6l-5.5 2.3-5.5 2.4-5.4 2.3-5.5 2.5-5.4 2.6-5.3 3-5 3.3-4.7 3.8-4.2 4.3-3.9 4.6-3.5 5-2.7 5.3-1.6 5.8-.1 6.1 1.8 5.7 3.6 4.9 5.1 3 5.8 1.7 5.9 1.4 6 .9 6 .8 6 .6 6 .5 6.1 .4 6 .3" stroke="#4690c1"/>
<path d="M158.4 164.1l-5.5 2.4-5.6 2.3-5.5 2.3-5.5 2.5-5.5 2.6-5.3 3-5.1 3.4-4.7 3.9-4.3 4.3-3.9 4.6-3.4 5-2.8 5.5-1.7 5.8 0 6.1 1.8 5.8 3.6 4.9 5.2 3.1 5.8 1.8 6 1.3 6 1 6 .8 6.1 .6 6.1 .5 6.1 .4 6.1 .4" stroke="#d62f26"/>
<path d="M158.4 163.7l-5.6 2.3-5.6 2.3-5.6 2.4-5.6 2.4-5.5 2.7-5.4 3-5.1 3.4-4.8 3.9-4.2 4.4-4 4.7-3.4 5-2.8 5.5-1.7 5.9 0 6.2 1.8 5.8 3.6 5 5.3 3.1 5.8 1.8 6 1.4 6.1 1 6.1 .7 6.1 .7 6.2 .5 6.1 .4 6.2 .4" stroke="#f68c4e"/>
<path d="M158.4 163.2l-5.7 2.3-5.6 2.3-5.7 2.4-5.6 2.4-5.6 2.7-5.4 3-5.2 3.5-4.8 3.9-4.3 4.5-3.9 4.7-3.5 5.1-2.8 5.5-1.7 6 0 6.2 1.8 6 3.7 4.9 5.3 3.2 5.9 1.8 6 1.4 6.1 1.1 6.2 .7 6.2 .7 6.2 .5 6.2 .4 6.2 .4" stroke="#fed894"/>
<path d="M158.4 162.8l-5.7 2.3-5.8 2.3-5.7 2.3-5.7 2.4-5.6 2.7-5.5 3.1-5.2 3.5-4.8 3.9-4.3 4.5-4 4.9-3.5 5.1-2.8 5.6-1.7 6 0 6.3 1.8 6 3.7 5 5.3 3.2 6 1.8 6.1 1.5 6.2 1 6.2 .8 6.2 .7 6.3 .5 6.2 .4 6.3 .4" stroke="#f2f8c4"/>
<path d="M158.4 162.3l-5.8 2.3-5.8 2.3-5.8 2.3-5.7 2.5-5.7 2.6-5.5 3.1-5.3 3.5-4.8 4.1-4.4 4.5-4 4.9-3.5 5.2-2.8 5.6-1.7 6.1 0 6.3 1.8 6.1 3.7 5 5.4 3.3 6 1.9 6.2 1.4 6.2 1.1 6.3 .8 6.3 .7 6.3 .5 6.3 .5 6.3 .3" stroke="#a5d6ae"/>
<path d="M158.4 161.9l-5.9 2.2-5.8 2.3-5.9 2.3-5.8 2.5-5.7 2.7-5.6 3.1-5.3 3.5-4.9 4.1-4.3 4.6-4 4.9-3.6 5.3-2.8 5.7-1.7 6.1 0 6.4 1.8 6.1 3.8 5.1 5.4 3.3 6 1.9 6.2 1.5 6.3 1.1 6.3 .8 6.4 .7 6.4 .5 6.3 .5 6.4 .3" stroke="#4690c1"/>
<path d="M158.4 161.4l-5.9 2.3-5.9 2.2-5.9 2.4-5.9 2.4-5.8 2.7-5.7 3.1-5.3 3.6-4.9 4.1-4.4 4.7-4 5-3.6 5.3-2.8 5.7-1.7 6.2 0 6.4 1.8 6.2 3.8 5.1 5.5 3.3 6.1 2 6.2 1.5 6.4 1.1 6.3 .9 6.4 .7 6.4 .5 6.5 .5 6.4 .3" stroke="#d62f26"/>
<path d="M158.4 160.9l-6 2.3-6 2.3-5.9 2.3-6 2.4-5.8 2.7-5.7 3.1-5.4 3.7-4.9 4.2-4.4 4.7-4.1 5-3.6 5.4-2.8 5.8-1.7 6.2 0 6.5 1.8 6.2 3.9 5.2 5.4 3.3 6.2 2 6.3 1.6 6.4 1.1 6.4 .9 6.5 .7 6.4 .6 6.5 .4 6.5 .4" stroke="#f68c4e"/>
<path d="M158.4 160.5l-6 2.2-6.1 2.3-6 2.3-6 2.4-5.9 2.7-5.8 3.2-5.4 3.7-4.9 4.2-4.5 4.7-4.1 5.1-3.6 5.5-2.8 5.8-1.7 6.3-.1 6.6 1.9 6.2 3.9 5.2 5.5 3.4 6.2 2.1 6.4 1.5 6.4 1.2 6.5 .8 6.5 .8 6.5 .6 6.6 .4 6.5 .4" stroke="#fed894"/>
<path d="M158.4 160l-6.1 2.3-6.1 2.2-6.1 2.3-6.1 2.4-5.9 2.7-5.8 3.2-5.5 3.7-5 4.3-4.4 4.8-4.1 5.2-3.6 5.4-2.9 6-1.7 6.3-.1 6.6 1.9 6.3 3.9 5.3 5.6 3.4 6.2 2.1 6.5 1.6 6.4 1.1 6.6 .9 6.5 .8 6.6 .6 6.6 .4 6.6 .4" stroke="#f2f8c4"/>
<path d="M158.4 159.6l-6.2 2.2-6.1 2.2-6.2 2.3-6.1 2.5-6 2.7-5.9 3.2-5.5 3.7-5 4.3-4.5 4.9-4.1 5.2-3.6 5.5-2.9 6-1.7 6.4-.1 6.7 1.9 6.3 4 5.3 5.6 3.5 6.3 2.1 6.4 1.6 6.6 1.2 6.6 .9 6.6 .8 6.6 .6 6.7 .4 6.6 .4" stroke="#a5d6ae"/>
<path d="M158.4 159.1l-6.2 2.2-6.2 2.3-6.3 2.3-6.1 2.4-6.1 2.7-5.9 3.2-5.6 3.8-5 4.4-4.5 4.9-4.2 5.2-3.6 5.6-2.9 6.1-1.8 6.4 0 6.7 1.9 6.4 4 5.4 5.7 3.5 6.3 2.1 6.5 1.7 6.6 1.2 6.6 .9 6.7 .8 6.7 .6 6.7 .4 6.7 .4" stroke="#4690c1"/>
<path d="M158.4 158.7l-6.3 2.2-6.3 2.2-6.2 2.3-6.3 2.4-6.1 2.7-6 3.3-5.6 3.8-5 4.4-4.6 5-4.1 5.3-3.7 5.6-2.9 6.1-1.8 6.5 0 6.8 1.9 6.4 4 5.4 5.7 3.6 6.4 2.2 6.6 1.6 6.6 1.2 6.7 1 6.7 .8 6.8 .6 6.7 .5 6.8 .3" stroke="#d62f26"/>
<path d="M158.4 158.2l-6.3 2.2-6.4 2.2-6.3 2.3-6.3 2.4-6.2 2.7-6 3.3-5.6 3.9-5.2 4.4-4.5 5-4.2 5.4-3.7 5.7-2.9 6.1-1.8 6.6 0 6.8 1.9 6.5 4.1 5.5 5.7 3.6 6.4 2.2 6.7 1.7 6.7 1.2 6.7 1 6.8 .8 6.8 .6 6.8 .5 6.8 .4" stroke="#f68c4e"/>
<path d="M158.4 157.7l-6.4 2.2-6.4 2.3-6.4 2.2-6.4 2.4-6.3 2.7-6 3.3-5.6 3.9-5.2 4.5-4.6 5.1-4.2 5.4-3.7 5.8-2.9 6.2-1.8 6.6 0 6.9 1.9 6.6 4.1 5.5 5.8 3.6 6.5 2.2 6.6 1.7 6.8 1.3 6.8 1 6.8 .8 6.9 .6 6.8 .5 6.9 .4" stroke="#fed894"/>
<path d="M158.4 157.3l-6.5 2.2-6.4 2.2-6.5 2.2-6.4 2.4-6.4 2.8-6 3.3-5.7 3.9-5.2 4.6-4.6 5.1-4.3 5.5-3.7 5.8-2.9 6.2-1.8 6.7 0 6.9 2 6.7 4.1 5.5 5.8 3.7 6.5 2.2 6.7 1.7 6.8 1.3 6.9 1.1 6.8 .8 7 .6 6.9 .5 6.9 .4" stroke="#f2f8c4"/>
<path d="M158.4 156.8l-6.5 2.2-6.6 2.2-6.5 2.3-6.5 2.4-6.4 2.7-6.1 3.3-5.7 4-5.3 4.6-4.6 5.2-4.2 5.5-3.8 5.9-2.9 6.3-1.8 6.7 0 7 2 6.7 4.1 5.6 5.8 3.7 6.6 2.3 6.8 1.7 6.8 1.3 6.9 1 7 .9 6.9 .6 7 .5 7 .4" stroke="#a5d6ae"/>
<path d="M158.4 156.4l-6.6 2.1-6.6 2.2-6.6 2.3-6.5 2.4-6.5 2.7-6.1 3.4-5.8 4-5.3 4.6-4.6 5.3-4.3 5.5-3.7 6-3 6.3-1.8 6.8 0 7 2 6.8 4.1 5.6 5.9 3.8 6.6 2.3 6.9 1.7 6.9 1.4 6.9 1 7 .9 7 .6 7.1 .5 7 .4" stroke="#4690c1"/>
<path d="M158.4 155.9l-6.7 2.2-6.6 2.2-6.7 2.2-6.6 2.4-6.5 2.7-6.2 3.4-5.8 4.1-5.3 4.7-4.7 5.3-4.3 5.6-3.7 6-3 6.4-1.8 6.8 0 7.1 2 6.8 4.2 5.7 5.9 3.8 6.7 2.3 6.8 1.8 7 1.4 7 1 7 .9 7.1 .6 7.1 .5 7.1 .4" stroke="#d62f26"/>
<path d="M158.4 155.4l-6.7 2.2-6.7 2.2-6.7 2.2-6.7 2.4-6.6 2.8-6.3 3.4-5.8 4-5.3 4.8-4.7 5.3-4.3 5.7-3.8 6-3 6.5-1.8 6.9-.1 7.2 2.1 6.8 4.2 5.7 6 3.9 6.7 2.3 6.9 1.8 7 1.4 7.1 1.1 7.1 .9 7.1 .7 7.2 .4 7.1 .4" stroke="#f68c4e"/>
<path d="M158.4 155l-6.8 2.2-6.8 2.1-6.7 2.2-6.8 2.4-6.6 2.8-6.3 3.4-5.9 4.1-5.4 4.8-4.7 5.4-4.3 5.7-3.8 6.1-3 6.6-1.8 6.9-.1 7.2 2.1 6.9 4.2 5.8 6 3.9 6.8 2.4 7 1.8 7 1.4 7.2 1.1 7.1 .9 7.2 .7 7.2 .5 7.2 .4" stroke="#fed894"/>
<path d="M158.4 154.5l-6.8 2.2-6.9 2.1-6.8 2.2-6.8 2.4-6.7 2.8-6.4 3.4-5.9 4.2-5.4 4.8-4.7 5.5-4.4 5.8-3.8 6.1-3 6.6-1.8 7-.1 7.3 2.1 6.9 4.3 5.8 6 4 6.8 2.4 7.1 1.8 7.1 1.5 7.1 1.1 7.3 .9 7.2 .7 7.2 .5 7.3 .4" stroke="#f2f8c4"/>
<path d="M158.4 154.1l-6.9 2.1-6.9 2.2-6.9 2.2-6.8 2.3-6.8 2.8-6.4 3.5-6 4.2-5.4 4.9-4.8 5.5-4.4 5.8-3.8 6.2-3 6.7-1.9 7 0 7.3 2.1 7 4.3 5.9 6.1 4 6.9 2.4 7 1.9 7.2 1.4 7.2 1.2 7.3 .9 7.3 .7 7.3 .5 7.3 .4" stroke="#a5d6ae"/>
<path d="M158.4 153.6l-7 2.2-6.9 2.1-7 2.2-6.9 2.4-6.8 2.7-6.5 3.5-6 4.3-5.4 4.9-4.8 5.6-4.4 5.8-3.9 6.3-3 6.7-1.9 7.1 0 7.4 2.1 7 4.4 5.9 6.1 4 6.9 2.5 7.1 1.9 7.2 1.5 7.3 1.2 7.3 .9 7.4 .7 7.3 .5 7.4 .4" stroke="#4690c1"/>
<path d="M158.4 153.2l-7 2.1-7 2.1-7.1 2.2-6.9 2.4-6.9 2.8-6.5 3.5-6.1 4.2-5.5 5-4.8 5.6-4.4 6-3.9 6.3-3 6.7-1.9 7.2 0 7.4 2.1 7.1 4.4 6 6.2 4 6.9 2.6 7.2 1.9 7.3 1.5 7.3 1.1 7.4 1 7.4 .7 7.4 .5 7.4 .4" stroke="#d62f26"/>
<path d="M158.4 152.7l-7.1 2.1-7.1 2.1-7 2.2-7.1 2.4-6.9 2.8-6.6 3.5-6.1 4.3-5.5 5.1-4.8 5.6-4.5 6-3.9 6.4-3 6.8-1.9 7.2 0 7.5 2.1 7.1 4.4 6 6.2 4.1 7 2.6 7.3 1.9 7.3 1.5 7.4 1.2 7.4 1 7.5 .7 7.4 .5 7.5 .4" stroke="#f68c4e"/>
<path d="M158.4 152.2l-7.1 2.2-7.2 2.1-7.1 2.1-7.1 2.4-7 2.8-6.6 3.6-6.2 4.3-5.5 5.1-4.9 5.7-4.4 6.1-3.9 6.4-3.1 6.8-1.9 7.3 0 7.5 2.1 7.3 4.5 6 6.2 4.1 7.1 2.6 7.2 2 7.4 1.5 7.5 1.2 7.4 1 7.5 .7 7.6 .5 7.5 .5" stroke="#fed894"/>
<path d="M158.4 151.8l-7.2 2.1-7.2 2.1-7.2 2.2-7.2 2.3-7 2.8-6.7 3.6-6.2 4.4-5.6 5.1-4.8 5.8-4.5 6.1-3.9 6.5-3.1 6.9-1.9 7.3 0 7.6 2.1 7.3 4.5 6 6.3 4.2 7.1 2.6 7.3 2 7.4 1.6 7.5 1.2 7.6 1 7.5 .7 7.6 .5 7.6 .5" stroke="#f2f8c4"/>
<path d="M158.4 151.3l-7.3 2.1-7.2 2.1-7.3 2.2-7.2 2.3-7.1 2.8-6.7 3.6-6.3 4.5-5.6 5.1-4.9 5.9-4.5 6.1-3.9 6.6-3.1 6.9-1.9 7.4 0 7.7 2.1 7.3 4.5 6.1 6.4 4.2 7.1 2.7 7.4 2 7.5 1.5 7.5 1.3 7.6 1 7.6 .7 7.7 .6 7.6 .4" stroke="#a5d6ae"/>
<path d="M158.4 150.9l-7.3 2.1-7.4 2-7.3 2.2-7.3 2.4-7.1 2.8-6.8 3.6-6.3 4.4-5.6 5.3-4.9 5.8-4.6 6.3-3.9 6.5-3.1 7.1-1.9 7.4-.1 7.7 2.2 7.4 4.6 6.1 6.3 4.3 7.2 2.7 7.5 2 7.5 1.6 7.6 1.3 7.6 1 7.7 .7 7.7 .6 7.7 .4" stroke="#4690c1"/>
<path d="M158.4 150.4l-7.4 2.1-7.4 2.1-7.4 2.1-7.3 2.4-7.2 2.8-6.8 3.6-6.4 4.5-5.6 5.3-5 5.9-4.5 6.3-4 6.6-3.1 7.1-1.9 7.5-.1 7.8 2.2 7.4 4.6 6.2 6.4 4.3 7.3 2.7 7.4 2.1 7.6 1.6 7.7 1.3 7.7 1 7.7 .7 7.8 .6 7.7 .4" stroke="#d62f26"/>
<path d="M158.4 149.9l-7.5 2.1-7.4 2.1-7.5 2.1-7.3 2.4-7.3 2.8-6.9 3.7-6.4 4.5-5.7 5.3-4.9 6-4.6 6.3-4 6.7-3.1 7.2-1.9 7.5-.1 7.8 2.2 7.5 4.7 6.2 6.4 4.4 7.3 2.7 7.5 2.1 7.7 1.6 7.7 1.3 7.7 1.1 7.8 .8 7.8 .5 7.8 .4" stroke="#f68c4e"/>
<path d="M158.4 149.5l-7.5 2.1-7.5 2-7.5 2.2-7.5 2.3-7.3 2.8-7 3.7-6.4 4.6-5.7 5.3-5 6.1-4.6 6.4-4 6.7-3.1 7.2-1.9 7.6-.1 7.9 2.2 7.5 4.7 6.3 6.5 4.4 7.3 2.8 7.6 2 7.7 1.7 7.7 1.3 7.8 1.1 7.9 .8 7.8 .5 7.9 .4" stroke="#fed894"/>
<path d="M158.4 149l-7.6 2.1-7.6 2-7.5 2.2-7.5 2.3-7.4 2.8-7 3.8-6.5 4.6-5.7 5.4-5 6.1-4.6 6.4-4.1 6.8-3.1 7.3-2 7.6 0 7.9 2.2 7.6 4.7 6.4 6.5 4.4 7.4 2.8 7.7 2.1 7.7 1.7 7.8 1.3 7.9 1.1 7.9 .8 7.9 .5 7.9 .5" stroke="#f2f8c4"/>
<path d="M158.4 148.6l-7.6 2-7.7 2.1-7.6 2.1-7.6 2.3-7.4 2.9-7.1 3.7-6.4 4.6-5.8 5.5-5.1 6.2-4.6 6.4-4.1 6.9-3.1 7.3-2 7.7 0 8 2.2 7.6 4.8 6.4 6.5 4.5 7.5 2.8 7.7 2.1 7.7 1.8 7.9 1.3 7.9 1.1 8 .8 7.9 .5 8 .5" stroke="#a5d6ae"/>
<path d="M158.4 148.1l-7.7 2.1-7.7 2-7.7 2.1-7.6 2.4-7.5 2.8-7.1 3.7-6.5 4.7-5.9 5.5-5 6.2-4.7 6.6-4 6.9-3.2 7.3-2 7.8 0 8 2.3 7.7 4.7 6.5 6.6 4.5 7.5 2.8 7.7 2.2 7.9 1.7 7.9 1.4 7.9 1.1 8.1 .8 8 .6 8 .4" stroke="#4690c1"/>
<path d="M158.4 147.7l-7.8 2-7.7 2-7.8 2.1-7.7 2.4-7.5 2.8-7.2 3.8-6.5 4.7-5.9 5.6-5.1 6.2-4.7 6.6-4 7-3.2 7.4-2 7.8 0 8.1 2.3 7.7 4.7 6.5 6.7 4.6 7.5 2.8 7.8 2.2 7.9 1.8 8 1.4 8 1.1 8 .8 8.1 .6 8.1 .4" stroke="#d62f26"/>
<path d="M158.4 147.2l-7.8 2-7.8 2-7.9 2.2-7.7 2.3-7.6 2.8-7.2 3.8-6.6 4.8-5.9 5.6-5.1 6.3-4.7 6.6-4.1 7.1-3.2 7.4-2 7.9 0 8.2 2.3 7.7 4.8 6.6 6.7 4.6 7.5 2.9 7.9 2.2 7.9 1.8 8 1.4 8.1 1.1 8.1 .8 8.2 .6 8.1 .4" stroke="#f68c4e"/>
<path d="M158.4 146.7l-7.9 2.1-7.9 2-7.8 2.1-7.9 2.3-7.6 2.9-7.3 3.8-6.6 4.8-5.9 5.6-5.2 6.4-4.7 6.7-4.1 7-3.2 7.6-2 7.9 0 8.2 2.3 7.9 4.8 6.5 6.7 4.7 7.7 2.9 7.9 2.2 8 1.8 8 1.5 8.2 1.1 8.1 .8 8.2 .6 8.2 .4" stroke="#fed894"/>
<path d="M158.4 146.3l-7.9 2-8 2-7.9 2.1-7.9 2.3-7.7 2.9-7.3 3.8-6.7 4.8-6 5.7-5.1 6.5-4.8 6.7-4.1 7.1-3.2 7.6-2 8 0 8.3 2.3 7.9 4.8 6.6 6.8 4.6 7.7 3 7.9 2.3 8.1 1.8 8.1 1.4 8.2 1.2 8.2 .8 8.3 .6 8.2 .5" stroke="#f2f8c4"/>
<path d="M158.4 145.8l-8 2-8 2-8 2.1-8 2.3-7.7 2.9-7.4 3.9-6.7 4.8-6 5.8-5.2 6.4-4.7 6.8-4.2 7.2-3.2 7.7-2 8-.1 8.3 2.4 8 4.9 6.6 6.8 4.7 7.7 3 8 2.3 8.1 1.9 8.2 1.4 8.2 1.2 8.3 .8 8.3 .6 8.3 .5" stroke="#a5d6ae"/>
<path d="M158.4 145.4l-8.1 2-8 2-8.1 2-8 2.4-7.8 2.8-7.4 3.9-6.8 4.9-6 5.8-5.2 6.5-4.8 6.9-4.2 7.2-3.2 7.7-2 8.1-.1 8.4 2.4 8 4.9 6.7 6.9 4.7 7.7 3.1 8.1 2.3 8.1 1.8 8.3 1.5 8.3 1.2 8.3 .8 8.3 .6 8.4 .5" stroke="#4690c1"/>
<path d="M158.4 144.9l-8.1 2-8.2 2-8.1 2.1-8 2.3-7.9 2.8-7.5 4-6.8 4.9-6.1 5.8-5.2 6.6-4.8 6.9-4.2 7.3-3.2 7.8-2 8.1-.1 8.4 2.4 8.1 5 6.7 6.8 4.8 7.9 3.1 8.1 2.3 8.2 1.9 8.3 1.5 8.3 1.2 8.4 .8 8.4 .6 8.4 .5" stroke="#d62f26"/>
<path d="M158.4 144.5l-8.2 1.9-8.2 2-8.2 2.1-8.1 2.3-7.9 2.9-7.5 3.9-6.9 5-6.1 5.9-5.2 6.6-4.9 6.9-4.1 7.4-3.3 7.8-2 8.2-.1 8.5 2.4 8.1 5 6.8 6.9 4.8 7.9 3.1 8.1 2.4 8.3 1.9 8.3 1.5 8.4 1.2 8.5 .8 8.4 .7 8.5 .4" stroke="#f68c4e"/>
<path d="M158.4 144l-8.3 2-8.2 1.9-8.3 2.1-8.1 2.3-8 2.9-7.6 3.9-6.9 5-6.1 6-5.3 6.7-4.8 7-4.2 7.4-3.3 7.9-2.1 8.2 0 8.5 2.4 8.2 5 6.8 7 4.9 7.9 3.1 8.2 2.4 8.3 1.9 8.4 1.6 8.5 1.2 8.5 .9 8.5 .6 8.5 .4" stroke="#fed894"/>
<path d="M158.4 143.5l-8.3 2-8.3 2-8.3 2-8.3 2.3-8 2.9-7.7 4-6.9 5-6.1 6-5.3 6.7-4.9 7.1-4.2 7.5-3.3 7.9-2.1 8.3 0 8.6 2.4 8.2 5.1 6.9 7 4.9 7.9 3.2 8.3 2.4 8.3 1.9 8.5 1.6 8.5 1.2 8.6 .9 8.5 .6 8.6 .5" stroke="#f2f8c4"/>
<path d="M158.4 143.1l-8.4 1.9-8.4 2-8.3 2-8.3 2.3-8.1 2.9-7.7 4-7 5.1-6.2 6-5.3 6.8-4.9 7.1-4.2 7.6-3.3 7.9-2.1 8.4 0 8.7 2.4 8.2 5.1 6.9 7 5 8.1 3.2 8.3 2.4 8.4 2 8.5 1.5 8.5 1.3 8.6 .9 8.7 .6 8.6 .5" stroke="#a5d6ae"/>
<path d="M158.4 142.6l-8.4 2-8.5 1.9-8.4 2-8.4 2.4-8.2 2.8-7.7 4.1-7 5.1-6.2 6.1-5.3 6.8-4.9 7.2-4.3 7.6-3.3 8-2.1 8.4 0 8.7 2.4 8.3 5.1 7 7.1 5 8.1 3.2 8.3 2.5 8.5 1.9 8.6 1.6 8.6 1.3 8.6 .9 8.7 .6 8.7 .5" stroke="#4690c1"/>
<path d="M158.4 142.2l-8.5 1.9-8.5 1.9-8.5 2.1-8.4 2.3-8.3 2.9-7.7 4-7.1 5.2-6.2 6.1-5.4 6.9-4.9 7.2-4.3 7.6-3.3 8.1-2.1 8.5 0 8.8 2.4 8.3 5.2 7 7.1 5.1 8.1 3.2 8.4 2.5 8.5 2 8.6 1.6 8.7 1.3 8.7 .9 8.8 .6 8.7 .5" stroke="#d62f26"/>
<path d="M158.4 141.7l-8.6 1.9-8.5 2-8.6 2-8.5 2.3-8.3 2.9-7.8 4.1-7.1 5.2-6.2 6.1-5.4 7-5 7.2-4.3 7.7-3.3 8.2-2.1 8.5 0 8.8 2.4 8.4 5.2 7.1 7.2 5.1 8.1 3.3 8.5 2.4 8.6 2.1 8.6 1.6 8.7 1.3 8.8 .9 8.8 .6 8.8 .5" stroke="#f68c4e"/>
<path d="M158.4 141.2l-8.6 2-8.7 1.9-8.6 2-8.5 2.3-8.4 2.9-7.8 4.1-7.2 5.2-6.3 6.2-5.4 7-5 7.4-4.3 7.7-3.3 8.2-2.1 8.6-.1 8.9 2.5 8.5 5.3 7.1 7.1 5.1 8.3 3.3 8.5 2.5 8.6 2.1 8.7 1.6 8.8 1.3 8.8 .9 8.8 .6 8.9 .5" stroke="#fed894"/>
<path d="M158.4 140.8l-8.7 1.9-8.7 1.9-8.6 2-8.6 2.3-8.5 2.9-7.9 4.1-7.2 5.3-6.3 6.3-5.4 7-5 7.4-4.4 7.8-3.3 8.3-2.1 8.6-.1 8.9 2.5 8.6 5.3 7.1 7.2 5.2 8.3 3.3 8.5 2.5 8.7 2.1 8.8 1.7 8.8 1.3 8.9 .9 8.9 .7 8.9 .4" stroke="#f2f8c4"/>
<path d="M158.4 140.3l-8.7 1.9-8.8 1.9-8.7 2-8.7 2.3-8.5 3-7.9 4.1-7.3 5.3-6.3 6.3-5.5 7.1-5 7.5-4.3 7.8-3.4 8.3-2.1 8.7-.1 9 2.5 8.6 5.3 7.2 7.3 5.2 8.3 3.3 8.6 2.6 8.7 2.1 8.9 1.7 8.8 1.3 9 .9 8.9 .7 9 .5" stroke="#a5d6ae"/>
<path d="M158.4 139.9l-8.8 1.9-8.8 1.9-8.8 2-8.7 2.2-8.6 3-8 4.1-7.3 5.4-6.4 6.3-5.4 7.2-5.1 7.5-4.3 7.9-3.4 8.4-2.1 8.7-.1 9 2.5 8.7 5.4 7.2 7.3 5.3 8.3 3.4 8.7 2.5 8.8 2.2 8.8 1.7 9 1.3 9 .9 9 .7 9 .5" stroke="#4690c1"/>
<path d="M158.4 139.4l-8.9 1.9-8.8 1.9-8.9 2-8.8 2.3-8.6 2.9-8 4.2-7.4 5.4-6.4 6.4-5.5 7.2-5 7.5-4.4 8-3.4 8.4-2.1 8.8-.1 9.1 2.6 8.7 5.3 7.3 7.4 5.3 8.4 3.4 8.7 2.6 8.8 2.1 8.9 1.7 9 1.4 9.1 .9 9 .7 9.1 .5" stroke="#d62f26"/>
<path d="M158.4 139l-8.9 1.8-9 1.9-8.9 2-8.8 2.3-8.7 2.9-8.1 4.2-7.3 5.4-6.5 6.5-5.5 7.3-5.1 7.6-4.4 8-3.4 8.5-2.2 8.8 0 9.2 2.6 8.7 5.3 7.3 7.4 5.4 8.5 3.4 8.7 2.6 8.9 2.2 9 1.7 9.1 1.4 9 .9 9.2 .7 9.1 .5" stroke="#f68c4e"/>
<path d="M158.4 138.5l-9 1.9-9 1.8-9 2-8.9 2.3-8.7 2.9-8.1 4.3-7.4 5.4-6.5 6.5-5.6 7.3-5.1 7.7-4.4 8.1-3.4 8.5-2.2 8.9 0 9.2 2.6 8.8 5.4 7.4 7.4 5.3 8.5 3.5 8.8 2.7 9 2.2 9 1.7 9.1 1.4 9.1 1 9.2 .6 9.2 .5" stroke="#fed894"/>
<path d="M158.4 138l-9.1 1.9-9 1.9-9 1.9-9 2.3-8.8 3-8.2 4.2-7.4 5.5-6.6 6.5-5.5 7.4-5.2 7.7-4.4 8.2-3.4 8.5-2.2 9 0 9.3 2.6 8.8 5.4 7.4 7.5 5.4 8.5 3.6 8.9 2.6 9 2.2 9.1 1.8 9.1 1.4 9.2 1 9.3 .6 9.2 .5" stroke="#f2f8c4"/>
<path d="M158.4 137.6l-9.1 1.8-9.1 1.9-9.1 2-9.1 2.2-8.8 3-8.2 4.2-7.5 5.6-6.6 6.6-5.6 7.4-5.1 7.8-4.5 8.1-3.4 8.7-2.2 9 0 9.3 2.6 8.9 5.5 7.5 7.5 5.4 8.6 3.6 8.9 2.7 9 2.2 9.2 1.8 9.2 1.4 9.2 1 9.3 .6 9.3 .6" stroke="#a5d6ae"/>
<path d="M158.4 137.1l-9.2 1.9-9.2 1.8-9.1 2-9.1 2.2-8.9 3-8.3 4.3-7.5 5.6-6.6 6.6-5.6 7.5-5.2 7.8-4.5 8.2-3.4 8.7-2.2 9.1 0 9.4 2.6 8.9 5.5 7.5 7.5 5.5 8.7 3.6 8.9 2.7 9.1 2.3 9.2 1.8 9.3 1.4 9.3 1 9.4 .7 9.3 .5" stroke="#4690c1"/>
</g>
<g fill="none" stroke-width="1.06" stroke-linejoin="round">
<path d="M145.8 248l5.6 2.9 6 1.6 6.3 .3 6.1 1.5 5.7 2.5 5.6 2.8 5.4 3.2 4.3 4.5 4.8 3.9 5.9 2.3 5.7 2.6 3.7 4.8 1.4 6.1 4.7 3.1 6.1-1.2 6-2.2 5.6-2.6 5.6-3 5.5-2.9 5.7-2.6 6.1-1.6 6.2-.7 6 1.5 2.8 5.4 .9 6.2 .4 6.2 .2 6.3 .2 6.3 .2 6.3" stroke="#d62f26"/>
<path d="M145.5 248.5l5.6 2.9 6 1.6 6.2 .3 6.1 1.5 5.7 2.6 5.6 2.8 5.4 3.2 4.3 4.5 4.9 3.9 5.8 2.3 5.7 2.6 3.8 4.7 1.4 6.1 4.8 3.1 6.1-1.2 5.9-2.1 5.7-2.5 5.5-3 5.6-2.9 5.7-2.5 6.1-1.6 6.2-.7 6 1.5 2.9 5.3 .9 6.2 .5 6.2 .2 6.3 .1 6.3 .2 6.2" stroke="#f68c4e"/>
<path d="M145.2 249l5.5 2.8 6 1.7 6.3 .4 6 1.5 5.8 2.6 5.5 2.9 5.5 3.1 4.3 4.5 4.8 3.9 5.9 2.3 5.7 2.6 3.8 4.7 1.4 6 4.8 3.1 6.1-1.1 5.9-2.1 5.8-2.5 5.5-2.9 5.6-2.8 5.7-2.5 6-1.6 6.3-.6 6 1.4 2.9 5.3 1 6 .5 6.3 .2 6.2 .2 6.3 .2 6.3" stroke="#fed894"/>
<path d="M144.8 249.4l5.6 2.9 6 1.7 6.2 .5 6.1 1.5 5.7 2.6 5.6 2.9 5.4 3.2 4.3 4.4 4.9 3.8 5.8 2.4 5.7 2.5 3.8 4.8 1.6 5.9 4.8 3.1 6.1-1.1 5.9-2 5.7-2.4 5.6-2.9 5.5-2.8 5.8-2.4 6-1.6 6.3-.6 6 1.4 2.9 5.2 1.1 6 .6 6.2 .2 6.3 .2 6.3 .1 6.3" stroke="#f2f8c4"/>
<path d="M144.5 249.9l5.6 2.9 6 1.7 6.2 .5 6 1.6 5.7 2.6 5.6 2.9 5.4 3.2 4.3 4.4 4.9 3.8 5.9 2.3 5.7 2.6 3.8 4.7 1.6 5.9 4.8 3.1 6.1-1.1 5.9-1.9 5.8-2.4 5.5-2.8 5.6-2.7 5.7-2.5 6.1-1.5 6.3-.6 6 1.4 3 5.1 1.1 6 .6 6.2 .2 6.3 .2 6.2 .2 6.3" stroke="#a5d6ae"/>
<path d="M144.2 250.4l5.6 2.9 5.9 1.7 6.2 .6 6 1.6 5.7 2.6 5.6 2.9 5.4 3.2 4.4 4.4 4.9 3.8 5.8 2.3 5.7 2.6 3.9 4.7 1.6 5.8 4.9 3.1 6.1-1 5.9-1.9 5.7-2.3 5.6-2.8 5.6-2.7 5.7-2.4 6.1-1.5 6.2-.6 6.1 1.4 3 5.1 1.2 5.9 .7 6.1 .2 6.3 .2 6.3 .2 6.3" stroke="#4690c1"/>
<path d="M143.9 250.8l5.5 3 6 1.8 6.2 .6 6 1.6 5.7 2.6 5.5 2.9 5.4 3.2 4.4 4.4 4.9 3.8 5.8 2.3 5.8 2.6 3.9 4.6 1.7 5.8 4.8 3.1 6.1-1 5.9-1.8 5.8-2.3 5.6-2.7 5.5-2.6 5.8-2.4 6.1-1.5 6.2-.6 6.1 1.4 3 5 1.4 5.9 .6 6.1 .3 6.3 .1 6.3 .2 6.2" stroke="#d62f26"/>
<path d="M143.6 251.3l5.5 3 6 1.8 6.1 .6 6 1.7 5.7 2.6 5.5 2.9 5.5 3.2 4.4 4.4 4.9 3.7 5.8 2.4 5.7 2.6 3.9 4.6 1.8 5.7 4.9 3.1 6.1-.9 5.9-1.8 5.7-2.2 5.6-2.7 5.6-2.6 5.8-2.3 6.1-1.5 6.2-.6 6.1 1.4 3.1 5 1.4 5.7 .7 6.2 .2 6.2 .2 6.3 .2 6.3" stroke="#f68c4e"/>
<path d="M143.3 251.8l5.5 2.9 5.9 1.9 6.1 .7 6 1.7 5.7 2.6 5.6 3 5.4 3.1 4.4 4.4 4.9 3.7 5.8 2.4 5.8 2.6 3.9 4.5 1.8 5.8 4.9 3 6.1-.9 5.9-1.7 5.8-2.2 5.6-2.6 5.6-2.6 5.8-2.2 6.1-1.5 6.2-.6 6.1 1.4 3.1 4.9 1.5 5.7 .7 6.1 .3 6.3 .1 6.3 .2 6.3" stroke="#fed894"/>
<path d="M143 252.3l5.5 2.9 5.9 1.9 6.1 .7 5.9 1.8 5.7 2.7 5.6 2.9 5.4 3.1 4.4 4.4 5 3.7 5.8 2.4 5.7 2.5 4 4.6 1.9 5.7 4.9 3 6-.8 6-1.7 5.7-2.1 5.6-2.6 5.7-2.5 5.8-2.2 6-1.5 6.3-.6 6 1.4 3.2 4.8 1.6 5.7 .8 6.1 .2 6.3 .2 6.2 .2 6.3" stroke="#f2f8c4"/>
<path d="M142.6 252.7l5.6 3 5.8 1.9 6.1 .8 6 1.8 5.6 2.7 5.6 2.9 5.4 3.2 4.5 4.2 4.9 3.8 5.8 2.3 5.7 2.6 4 4.6 2 5.6 4.9 3 6.1-.8 5.9-1.6 5.8-2.1 5.6-2.5 5.6-2.5 5.8-2.2 6.1-1.4 6.3-.5 6 1.3 3.3 4.8 1.6 5.6 .8 6 .3 6.3 .2 6.3 .2 6.3" stroke="#a5d6ae"/>
<path d="M142.3 253.2l5.5 3 5.9 1.9 6.1 .9 5.9 1.8 5.7 2.7 5.5 2.9 5.4 3.2 4.5 4.2 5 3.7 5.8 2.4 5.7 2.6 4 4.5 2 5.6 4.9 3 6.1-.7 6-1.6 5.7-2 5.7-2.5 5.6-2.4 5.8-2.2 6.1-1.4 6.3-.5 6 1.3 3.3 4.7 1.7 5.6 .8 6 .3 6.3 .2 6.3 .2 6.2" stroke="#4690c1"/>
<path d="M142 253.7l5.5 3 5.9 2 6 .8 5.9 1.9 5.7 2.7 5.5 2.9 5.5 3.2 4.5 4.2 4.9 3.7 5.8 2.4 5.7 2.6 4.1 4.5 2.1 5.5 4.9 3 6.1-.7 5.9-1.5 5.8-2 5.6-2.4 5.7-2.4 5.8-2.1 6.1-1.4 6.2-.5 6.1 1.3 3.3 4.6 1.8 5.5 .9 6.1 .3 6.2 .2 6.3 .2 6.3" stroke="#d62f26"/>
<path d="M141.7 254.1l5.5 3.1 5.8 2 6.1 .9 5.9 1.9 5.6 2.7 5.6 2.9 5.4 3.2 4.5 4.2 5 3.7 5.8 2.4 5.7 2.6 4.1 4.4 2.1 5.5 4.9 3 6.1-.6 6-1.5 5.7-1.9 5.7-2.4 5.7-2.3 5.8-2.1 6.1-1.4 6.2-.5 6.1 1.3 3.4 4.6 1.8 5.4 .9 6 .3 6.3 .2 6.3 .2 6.3" stroke="#f68c4e"/>
<path d="M141.4 254.6l5.5 3.1 5.8 2 6 1 5.9 1.9 5.6 2.7 5.6 3 5.4 3.1 4.5 4.2 5 3.7 5.8 2.4 5.7 2.6 4.1 4.4 2.2 5.4 5 3 6.1-.6 5.9-1.4 5.8-1.9 5.7-2.3 5.6-2.3 5.9-2 6.1-1.4 6.2-.5 6.1 1.3 3.4 4.5 1.9 5.4 1 6 .3 6.3 .2 6.2 .2 6.3" stroke="#fed894"/>
<path d="M141.1 255.1l5.4 3 5.9 2.1 6 1 5.8 2 5.7 2.7 5.5 3 5.4 3.1 4.6 4.2 5 3.6 5.8 2.4 5.7 2.7 4.1 4.3 2.3 5.4 4.9 3 6.1-.5 5.9-1.4 5.8-1.8 5.7-2.3 5.7-2.2 5.8-2 6.1-1.4 6.3-.5 6.1 1.2 3.5 4.6 1.9 5.3 1 5.9 .4 6.3 .2 6.3 .2 6.3" stroke="#f2f8c4"/>
<path d="M140.8 255.6l5.4 3 5.8 2.1 6 1.1 5.9 2 5.6 2.7 5.5 3 5.4 3.1 4.6 4.2 5 3.6 5.8 2.4 5.7 2.6 4.2 4.4 2.3 5.3 5 3 6.1-.5 5.9-1.3 5.8-1.8 5.7-2.2 5.7-2.2 5.8-2 6.1-1.3 6.3-.5 6.1 1.2 3.5 4.5 2 5.3 1.1 5.9 .3 6.3 .2 6.3 .2 6.2" stroke="#a5d6ae"/>
<path d="M140.4 256l5.5 3.1 5.8 2.1 6 1.2 5.8 2 5.6 2.7 5.5 3 5.5 3.2 4.6 4.1 5 3.6 5.8 2.4 5.7 2.6 4.1 4.4 2.4 5.2 5 3 6.1-.4 5.9-1.3 5.9-1.7 5.7-2.2 5.7-2.1 5.8-2 6.1-1.3 6.3-.5 6.1 1.2 3.5 4.4 2.1 5.2 1.1 6 .4 6.2 .2 6.3 .2 6.3" stroke="#4690c1"/>
<path d="M140.1 256.5l5.5 3.1 5.8 2.1 5.9 1.2 5.8 2.1 5.6 2.7 5.6 3 5.4 3.2 4.6 4.1 5 3.5 5.8 2.5 5.7 2.6 4.2 4.3 2.5 5.2 5 3 6-.4 6-1.2 5.8-1.7 5.7-2.1 5.7-2.1 5.9-1.9 6.1-1.3 6.2-.4 6.1 1.1 3.7 4.4 2.1 5.1 1.2 5.9 .3 6.3 .2 6.3 .2 6.3" stroke="#d62f26"/>
<path d="M139.8 257l5.5 3.1 5.7 2.2 6 1.2 5.8 2 5.6 2.8 5.5 3 5.4 3.2 4.6 4 5.1 3.6 5.8 2.5 5.7 2.6 4.2 4.3 2.5 5.1 5 3 6.1-.3 5.9-1.2 5.9-1.6 5.7-2.1 5.7-2 5.9-1.9 6.1-1.3 6.2-.4 6.1 1.1 3.7 4.3 2.2 5.1 1.2 5.9 .4 6.3 .2 6.2 .2 6.3" stroke="#f68c4e"/>
<path d="M139.5 257.4l5.4 3.2 5.8 2.2 5.9 1.2 5.8 2.1 5.6 2.9 5.5 3 5.4 3.1 4.7 4 5 3.6 5.8 2.4 5.7 2.7 4.3 4.2 2.5 5.2 5.1 2.9 6-.3 6-1.1 5.8-1.6 5.7-2 5.8-2 5.9-1.8 6.1-1.3 6.2-.4 6.1 1.1 3.7 4.2 2.3 5.1 1.3 5.9 .3 6.2 .2 6.3 .2 6.3" stroke="#fed894"/>
<path d="M139.2 257.9l5.4 3.1 5.7 2.3 5.9 1.3 5.8 2.1 5.6 2.9 5.5 3 5.5 3.1 4.6 4 5.1 3.6 5.8 2.4 5.7 2.7 4.2 4.2 2.7 5.1 5 2.9 6.1-.3 5.9-1 5.9-1.5 5.7-2 5.8-2 5.8-1.8 6.2-1.1 6.2-.5 6.1 1.1 3.8 4.2 2.3 4.9 1.3 5.9 .4 6.3 .2 6.3 .2 6.2" stroke="#f2f8c4"/>
<path d="M138.9 258.4l5.4 3.1 5.7 2.3 5.9 1.4 5.8 2.1 5.5 2.9 5.5 3 5.5 3.1 4.7 4 5 3.5 5.8 2.5 5.7 2.7 4.3 4.1 2.7 5.1 5.1 2.9 6-.2 6-1 5.8-1.5 5.8-1.9 5.7-1.9 5.9-1.8 6.1-1.1 6.3-.5 6.1 1.1 3.8 4.1 2.5 4.9 1.3 5.9 .3 6.2 .3 6.3 .2 6.3" stroke="#a5d6ae"/>
<path d="M138.6 258.9l5.4 3.1 5.7 2.3 5.8 1.4 5.8 2.2 5.5 2.9 5.5 3 5.5 3.1 4.7 4 5.1 3.5 5.8 2.5 5.6 2.6 4.4 4.2 2.7 5 5.1 2.9 6.1-.2 5.9-.9 5.9-1.4 5.7-1.9 5.8-1.9 5.9-1.7 6.1-1.1 6.3-.5 6.1 1.1 3.8 4.1 2.6 4.8 1.3 5.8 .4 6.3 .2 6.3 .2 6.3" stroke="#4690c1"/>
<path d="M138.2 259.3l5.4 3.2 5.7 2.3 5.9 1.5 5.7 2.2 5.6 2.9 5.5 3 5.4 3.1 4.7 4 5.1 3.5 5.8 2.5 5.7 2.6 4.4 4.2 2.8 4.9 5.1 2.9 6-.1 6-.9 5.8-1.4 5.8-1.8 5.8-1.8 5.9-1.7 6.1-1.1 6.3-.5 6.1 1.1 3.9 4 2.6 4.8 1.4 5.8 .3 6.3 .3 6.2 .2 6.3" stroke="#d62f26"/>
<path d="M137.9 259.8l5.4 3.2 5.7 2.3 5.8 1.6 5.8 2.2 5.5 2.9 5.5 3 5.4 3.2 4.8 3.9 5.1 3.5 5.8 2.4 5.6 2.7 4.4 4.1 2.9 4.9 5.1 2.9 6.1-.1 5.9-.8 5.9-1.3 5.8-1.8 5.8-1.8 5.9-1.6 6.1-1.1 6.2-.5 6.2 1.1 3.9 3.9 2.7 4.8 1.4 5.8 .4 6.2 .2 6.3 .2 6.3" stroke="#f68c4e"/>
<path d="M137.6 260.3l5.4 3.2 5.7 2.4 5.8 1.5 5.7 2.3 5.5 2.9 5.5 3.1 5.5 3.1 4.7 3.9 5.2 3.4 5.7 2.5 5.7 2.7 4.4 4.1 2.9 4.8 5.2 2.9 6 0 6-.8 5.8-1.3 5.8-1.7 5.8-1.7 5.9-1.6 6.2-1.1 6.2-.4 6.1 1 4 3.9 2.8 4.6 1.5 5.8 .4 6.3 .2 6.3 .2 6.2" stroke="#fed894"/>
<path d="M137.3 260.7l5.4 3.3 5.6 2.4 5.8 1.6 5.7 2.3 5.5 2.9 5.5 3.1 5.5 3.1 4.8 3.9 5.1 3.4 5.8 2.5 5.6 2.7 4.5 4 3 4.8 5.1 2.9 6 0 6-.7 5.9-1.2 5.8-1.7 5.8-1.7 5.9-1.6 6.2-1 6.2-.4 6.1 1 4.1 3.8 2.8 4.6 1.5 5.8 .4 6.2 .2 6.3 .3 6.3" stroke="#f2f8c4"/>
<path d="M137 261.2l5.4 3.2 5.6 2.5 5.8 1.7 5.7 2.3 5.5 2.9 5.4 3.1 5.5 3.1 4.8 3.9 5.2 3.4 5.7 2.5 5.7 2.7 4.4 4 3.1 4.7 5.2 2.9 6 .1 6-.7 5.8-1.2 5.9-1.6 5.8-1.6 5.9-1.6 6.1-1 6.3-.4 6.1 1 4.1 3.8 2.9 4.5 1.6 5.7 .4 6.3 .2 6.3 .2 6.3" stroke="#a5d6ae"/>
<path d="M136.7 261.7l5.3 3.2 5.6 2.5 5.8 1.7 5.7 2.4 5.5 2.9 5.5 3.1 5.4 3.1 4.8 3.8 5.2 3.5 5.8 2.5 5.6 2.7 4.5 3.9 3.1 4.7 5.2 2.9 6 .1 6-.6 5.9-1.1 5.8-1.6 5.8-1.6 6-1.5 6.1-1 6.3-.4 6.1 1 4.2 3.7 2.9 4.5 1.6 5.7 .4 6.3 .3 6.2 .2 6.3" stroke="#4690c1"/>
<path d="M136.4 262.2l5.3 3.2 5.6 2.5 5.8 1.8 5.6 2.4 5.5 3 5.5 3 5.4 3.1 4.9 3.8 5.2 3.4 5.7 2.5 5.7 2.7 4.5 4 3.2 4.6 5.1 2.9 6.1 .2 5.9-.6 6-1.1 5.8-1.5 5.8-1.5 6-1.5 6.1-1 6.3-.4 6.1 1 4.2 3.6 3 4.5 1.7 5.7 .4 6.2 .2 6.3 .2 6.3" stroke="#d62f26"/>
<path d="M136 262.6l5.4 3.3 5.6 2.5 5.7 1.8 5.6 2.5 5.5 3 5.5 3 5.5 3.1 4.8 3.8 5.2 3.4 5.7 2.5 5.7 2.7 4.6 4 3.2 4.5 5.2 2.9 6 .2 6-.5 5.9-1 5.8-1.5 5.9-1.5 6-1.4 6.1-1 6.3-.4 6.1 1 4.2 3.6 3.1 4.3 1.7 5.7 .4 6.3 .3 6.3 .2 6.2" stroke="#f68c4e"/>
<path d="M135.7 263.1l5.4 3.3 5.5 2.6 5.7 1.8 5.7 2.5 5.5 3 5.4 3.1 5.5 3.1 4.9 3.7 5.2 3.4 5.7 2.5 5.7 2.7 4.5 3.9 3.3 4.6 5.2 2.8 6.1 .3 5.9-.5 6-1 5.8-1.4 5.9-1.5 5.9-1.3 6.2-1 6.2-.4 6.2 1 4.3 3.5 3.1 4.3 1.8 5.7 .4 6.2 .2 6.3 .3 6.3" stroke="#fed894"/>
<path d="M135.4 263.6l5.3 3.3 5.6 2.6 5.7 1.9 5.6 2.5 5.5 3 5.4 3.1 5.5 3.1 4.9 3.7 5.2 3.3 5.7 2.6 5.7 2.7 4.6 3.9 3.4 4.5 5.2 2.8 6 .3 6-.4 5.9-.9 5.9-1.4 5.8-1.4 6-1.4 6.2-.9 6.2-.4 6.2 1 4.3 3.4 3.2 4.3 1.8 5.6 .4 6.3 .3 6.3 .2 6.3" stroke="#f2f8c4"/>
<path d="M135.1 264l5.3 3.3 5.6 2.7 5.6 1.9 5.6 2.6 5.5 3 5.5 3.1 5.4 3.1 4.9 3.7 5.3 3.3 5.7 2.6 5.6 2.7 4.7 3.8 3.4 4.5 5.2 2.8 6 .4 6-.4 6-.9 5.8-1.3 5.9-1.4 6-1.3 6.2-.9 6.2-.4 6.2 1 4.3 3.4 3.3 4.2 1.9 5.6 .4 6.3 .2 6.2 .3 6.3" stroke="#a5d6ae"/>
<path d="M134.8 264.5l5.3 3.3 5.5 2.7 5.7 2 5.6 2.6 5.4 3 5.5 3.1 5.4 3.1 5 3.7 5.2 3.3 5.7 2.5 5.7 2.8 4.6 3.8 3.5 4.4 5.3 2.8 6 .4 6-.3 5.9-.8 5.9-1.3 5.9-1.3 6-1.3 6.1-.9 6.3-.3 6.1 .9 4.5 3.3 3.3 4.2 1.9 5.6 .5 6.2 .2 6.3 .2 6.3" stroke="#4690c1"/>
<path d="M134.5 265l5.3 3.3 5.5 2.7 5.6 2.1 5.6 2.6 5.5 3 5.4 3.1 5.5 3.1 4.9 3.7 5.3 3.3 5.7 2.5 5.6 2.7 4.7 3.8 3.6 4.4 5.2 2.8 6 .5 6-.3 6-.8 5.9-1.2 5.9-1.3 6-1.2 6.1-.9 6.3-.3 6.1 .9 4.5 3.3 3.4 4 2 5.6 .4 6.3 .3 6.3 .2 6.2" stroke="#d62f26"/>
<path d="M134.2 265.5l5.2 3.3 5.6 2.7 5.6 2.1 5.5 2.6 5.5 3.1 5.4 3.1 5.5 3.1 5 3.7 5.2 3.2 5.7 2.6 5.7 2.7 4.7 3.8 3.6 4.3 5.3 2.8 6 .5 6-.2 5.9-.7 5.9-1.2 5.9-1.2 6-1.2 6.2-.9 6.3-.3 6.1 .9 4.5 3.2 3.5 4 2 5.6 .5 6.2 .2 6.3 .3 6.3" stroke="#f68c4e"/>
<path d="M133.8 265.9l5.3 3.4 5.5 2.7 5.6 2.2 5.6 2.6 5.4 3.1 5.4 3.2 5.5 3 5 3.6 5.3 3.3 5.7 2.6 5.6 2.7 4.8 3.8 3.6 4.2 5.3 2.8 6 .5 6-.1 6-.7 5.9-1.1 5.9-1.2 6-1.1 6.2-.9 6.3-.3 6.1 .9 4.6 3.1 3.6 4 2 5.5 .4 6.3 .3 6.3 .2 6.3" stroke="#fed894"/>
<path d="M133.5 266.4l5.3 3.4 5.5 2.8 5.6 2.2 5.5 2.6 5.4 3.1 5.5 3.2 5.4 3.1 5 3.5 5.3 3.3 5.7 2.6 5.7 2.7 4.7 3.7 3.8 4.2 5.3 2.8 6 .6 6-.1 5.9-.6 6-1.1 5.9-1.1 6-1.2 6.2-.8 6.2-.3 6.2 .9 4.6 3.1 3.7 3.9 2 5.5 .5 6.3 .2 6.2 .3 6.3" stroke="#f2f8c4"/>
<path d="M133.2 266.9l5.3 3.4 5.4 2.8 5.6 2.2 5.5 2.7 5.4 3.2 5.5 3.1 5.4 3.1 5.1 3.5 5.3 3.3 5.7 2.5 5.6 2.8 4.8 3.7 3.8 4.1 5.3 2.8 6 .6 6 0 6-.6 5.9-1 6-1.1 6-1.1 6.2-.8 6.2-.3 6.2 .9 4.6 3 3.8 3.9 2.1 5.5 .4 6.2 .3 6.3 .2 6.3" stroke="#a5d6ae"/>
<path d="M132.9 267.3l5.3 3.4 5.4 2.9 5.6 2.3 5.5 2.7 5.4 3.2 5.4 3.1 5.5 3.1 5 3.5 5.3 3.2 5.7 2.6 5.7 2.8 4.8 3.6 3.8 4.1 5.4 2.8 6 .7 6 0 5.9-.5 6-1 5.9-1 6.1-1.1 6.1-.7 6.3-.4 6.2 .9 4.7 3 3.8 3.7 2.1 5.5 .5 6.3 .2 6.3 .3 6.2" stroke="#4690c1"/>
<path d="M132.6 267.8l5.2 3.4 5.5 2.9 5.5 2.3 5.5 2.8 5.4 3.2 5.4 3.1 5.5 3.1 5.1 3.5 5.3 3.2 5.7 2.6 5.6 2.8 4.9 3.6 3.9 4 5.3 2.8 6 .7 6 .1 6-.5 5.9-.9 6-1 6.1-1 6.1-.7 6.3-.4 6.2 .8 4.7 3 3.9 3.7 2.2 5.5 .4 6.2 .3 6.3 .2 6.3" stroke="#d62f26"/>
<path d="M132.3 268.3l5.2 3.4 5.4 2.9 5.6 2.4 5.4 2.8 5.4 3.2 5.4 3.1 5.5 3.1 5.1 3.5 5.3 3.2 5.7 2.6 5.7 2.7 4.8 3.6 4 4 5.4 2.8 5.9 .8 6 .1 6-.4 6-.9 6-.9 6-1 6.2-.7 6.3-.3 6.2 .7 4.8 2.9 3.9 3.7 2.2 5.5 .5 6.2 .3 6.3 .2 6.3" stroke="#f68c4e"/>
<path d="M132 268.8l5.2 3.4 5.4 2.9 5.5 2.5 5.5 2.8 5.3 3.2 5.5 3.1 5.4 3.1 5.1 3.5 5.4 3.2 5.7 2.6 5.6 2.7 4.9 3.6 4 4 5.4 2.7 6 .8 6 .2 6-.4 6-.8 6-.9 6-.9 6.2-.7 6.3-.3 6.1 .7 4.9 2.9 4 3.6 2.3 5.4 .4 6.3 .3 6.2 .3 6.3" stroke="#fed894"/>
<path d="M131.6 269.2l5.3 3.5 5.4 3 5.4 2.4 5.5 2.9 5.4 3.2 5.4 3.2 5.4 3 5.2 3.5 5.3 3.1 5.7 2.6 5.7 2.8 4.9 3.6 4.1 3.9 5.4 2.7 5.9 .9 6 .2 6.1-.3 5.9-.8 6-.9 6.1-.9 6.2-.6 6.3-.3 6.1 .7 4.9 2.8 4.1 3.6 2.3 5.4 .5 6.2 .3 6.3 .2 6.3" stroke="#f2f8c4"/>
<path d="M131.3 269.7l5.2 3.5 5.4 3 5.5 2.5 5.4 2.9 5.4 3.2 5.4 3.2 5.5 3.1 5.1 3.4 5.4 3.1 5.7 2.6 5.6 2.8 4.9 3.5 4.2 3.9 5.4 2.7 6 .9 6 .3 6-.3 6-.7 6-.8 6.1-.9 6.2-.6 6.2-.3 6.2 .7 5 2.7 4.1 3.5 2.4 5.4 .5 6.3 .2 6.3 .3 6.2" stroke="#a5d6ae"/>
<path d="M131 270.2l5.2 3.4 5.4 3.1 5.4 2.6 5.5 2.9 5.3 3.2 5.4 3.2 5.5 3.1 5.2 3.3 5.3 3.2 5.7 2.6 5.6 2.8 5 3.5 4.2 3.8 5.5 2.7 5.9 1 6 .3 6.1-.2 6-.7 6-.8 6.1-.8 6.2-.6 6.2-.3 6.2 .7 5 2.7 4.2 3.4 2.4 5.4 .5 6.2 .3 6.3 .2 6.3" stroke="#4690c1"/>
<path d="M130.7 270.6l5.2 3.5 5.3 3.1 5.5 2.6 5.4 3 5.3 3.2 5.4 3.2 5.5 3.1 5.2 3.3 5.4 3.1 5.7 2.7 5.6 2.8 5 3.4 4.3 3.8 5.4 2.7 6 1 6 .4 6-.2 6-.6 6-.7 6.1-.8 6.2-.6 6.3-.3 6.2 .7 5 2.6 4.3 3.4 2.5 5.4 .5 6.2 .2 6.3 .3 6.3" stroke="#d62f26"/>
<path d="M130.4 271.1l5.2 3.5 5.3 3.1 5.4 2.7 5.4 3 5.4 3.2 5.4 3.2 5.4 3.1 5.2 3.3 5.4 3.1 5.7 2.7 5.6 2.8 5.1 3.4 4.3 3.7 5.4 2.7 6 1.1 6 .4 6.1-.2 6-.5 6-.7 6.1-.7 6.2-.6 6.3-.3 6.2 .7 5.1 2.6 4.3 3.3 2.5 5.3 .5 6.3 .3 6.2 .3 6.3" stroke="#f68c4e"/>
<path d="M130.1 271.6l5.2 3.5 5.3 3.1 5.4 2.8 5.4 3 5.3 3.2 5.4 3.2 5.5 3.1 5.2 3.3 5.4 3.1 5.7 2.7 5.6 2.7 5 3.5 4.4 3.6 5.5 2.7 6 1.1 6 .5 6-.1 6-.5 6.1-.6 6.1-.7 6.2-.6 6.3-.3 6.2 .7 5.1 2.5 4.4 3.3 2.6 5.3 .5 6.2 .3 6.3 .2 6.3" stroke="#fed894"/>
<path d="M129.8 272.1l5.1 3.5 5.3 3.1 5.4 2.8 5.4 3.1 5.3 3.3 5.4 3.2 5.5 3 5.2 3.3 5.4 3.1 5.7 2.6 5.6 2.8 5.1 3.4 4.5 3.6 5.4 2.7 6 1.2 6 .5 6.1-.1 6-.4 6.1-.6 6.1-.7 6.2-.5 6.3-.2 6.2 .6 5.1 2.4 4.5 3.2 2.6 5.3 .5 6.3 .3 6.3 .3 6.2" stroke="#f2f8c4"/>
<path d="M129.4 272.5l5.2 3.6 5.3 3.2 5.4 2.8 5.3 3.1 5.3 3.3 5.4 3.2 5.5 3 5.3 3.3 5.4 3 5.7 2.7 5.6 2.8 5.1 3.4 4.5 3.5 5.5 2.7 5.9 1.2 6.1 .6 6 0 6.1-.4 6-.5 6.2-.7 6.2-.5 6.2-.2 6.3 .6 5.2 2.4 4.5 3.1 2.7 5.3 .5 6.3 .3 6.2 .2 6.3" stroke="#a5d6ae"/>
<path d="M129.1 273l5.2 3.6 5.3 3.2 5.3 2.8 5.4 3.2 5.2 3.3 5.4 3.2 5.5 3.1 5.3 3.2 5.4 3 5.7 2.7 5.6 2.8 5.1 3.3 4.6 3.5 5.5 2.7 6 1.3 6 .6 6.1 0 6-.3 6.1-.5 6.1-.6 6.3-.5 6.2-.2 6.2 .6 5.3 2.3 4.6 3.1 2.7 5.3 .5 6.2 .3 6.3 .3 6.3" stroke="#4690c1"/>
<path d="M128.8 273.5l5.2 3.5 5.2 3.3 5.4 2.9 5.3 3.1 5.3 3.4 5.4 3.2 5.4 3.1 5.3 3.2 5.5 3 5.7 2.7 5.6 2.8 5.1 3.3 4.7 3.4 5.5 2.7 5.9 1.3 6.1 .7 6 .1 6.1-.3 6.1-.4 6.1-.6 6.3-.5 6.2-.2 6.2 .6 5.4 2.2 4.7 3.1 2.7 5.2 .5 6.3 .3 6.2 .3 6.3" stroke="#d62f26"/>
<path d="M128.5 273.9l5.1 3.6 5.3 3.3 5.3 3 5.3 3.1 5.3 3.4 5.4 3.2 5.5 3.1 5.3 3.2 5.4 3 5.7 2.7 5.6 2.8 5.2 3.2 4.7 3.4 5.5 2.7 6 1.3 6 .8 6.1 .1 6.1-.2 6.1-.4 6.1-.5 6.2-.5 6.3-.2 6.2 .6 5.4 2.2 4.8 3 2.7 5.2 .5 6.2 .3 6.3 .3 6.3" stroke="#f68c4e"/>
<path d="M128.2 274.4l5.1 3.6 5.2 3.3 5.3 3 5.3 3.2 5.3 3.4 5.4 3.2 5.5 3.1 5.3 3.2 5.5 2.9 5.6 2.7 5.7 2.9 5.2 3.2 4.7 3.4 5.6 2.6 5.9 1.4 6 .8 6.1 .2 6.1-.2 6.1-.4 6.2-.4 6.2-.5 6.3-.2 6.2 .6 5.4 2.1 4.9 2.9 2.8 5.2 .5 6.3 .3 6.3 .3 6.2" stroke="#fed894"/>
<path d="M127.9 274.9l5.1 3.6 5.2 3.3 5.3 3.1 5.3 3.2 5.2 3.4 5.4 3.3 5.5 3 5.4 3.1 5.4 3 5.7 2.7 5.6 2.8 5.2 3.3 4.9 3.3 5.5 2.6 6 1.4 6 .9 6.1 .2 6.1-.1 6.1-.3 6.2-.5 6.2-.4 6.3-.2 6.2 .6 5.5 2.1 4.9 2.8 2.8 5.2 .6 6.3 .3 6.2 .2 6.3" stroke="#f2f8c4"/>
<path d="M127.6 275.4l5.1 3.6 5.2 3.4 5.2 3.1 5.3 3.2 5.3 3.4 5.3 3.3 5.5 3 5.4 3.1 5.5 3 5.6 2.7 5.6 2.8 5.3 3.2 4.9 3.3 5.6 2.6 5.9 1.5 6 .9 6.1 .3 6.2-.1 6.1-.3 6.2-.4 6.2-.4 6.3-.2 6.2 .6 5.5 2 5 2.8 2.9 5.2 .5 6.2 .3 6.3 .3 6.3" stroke="#a5d6ae"/>
<path d="M127.2 275.8l5.2 3.7 5.1 3.4 5.3 3.1 5.2 3.3 5.3 3.4 5.3 3.3 5.5 3 5.4 3.1 5.5 3 5.7 2.7 5.6 2.8 5.3 3.2 4.9 3.2 5.6 2.6 6 1.5 6 1 6.1 .3 6.1 0 6.2-.2 6.1-.4 6.3-.4 6.2-.1 6.3 .5 5.5 1.9 5.1 2.8 2.9 5.1 .6 6.3 .3 6.2 .3 6.3" stroke="#4690c1"/>
<path d="M126.9 276.3l5.1 3.6 5.2 3.5 5.2 3.2 5.3 3.3 5.2 3.4 5.4 3.3 5.5 3 5.4 3.1 5.5 2.9 5.6 2.8 5.6 2.8 5.3 3.1 5.1 3.2 5.6 2.6 5.9 1.6 6 1 6.2 .4 6.1 0 6.1-.2 6.2-.3 6.3-.4 6.2-.1 6.3 .5 5.6 1.9 5.1 2.7 3 5.1 .5 6.2 .3 6.3 .3 6.3" stroke="#d62f26"/>
<path d="M126.6 276.8l5.1 3.6 5.2 3.5 5.2 3.3 5.2 3.3 5.2 3.5 5.4 3.2 5.5 3.1 5.4 3 5.5 2.9 5.7 2.7 5.6 2.9 5.3 3.1 5.1 3.1 5.6 2.6 5.9 1.6 6.1 1.1 6.1 .4 6.1 .1 6.2-.1 6.2-.3 6.2-.4 6.3-.1 6.2 .5 5.7 1.8 5.2 2.6 3 5.1 .6 6.3 .3 6.3 .3 6.2" stroke="#f68c4e"/>
<path d="M126.3 277.2l5.1 3.7 5.1 3.5 5.2 3.3 5.2 3.4 5.3 3.5 5.3 3.2 5.5 3.1 5.5 3 5.5 2.9 5.6 2.7 5.6 2.9 5.4 3 5.1 3.1 5.7 2.6 5.9 1.7 6 1.1 6.2 .5 6.1 .1 6.2-.1 6.2-.2 6.2-.3 6.3-.2 6.2 .5 5.7 1.8 5.3 2.5 3.1 5.1 .5 6.3 .3 6.2 .3 6.3" stroke="#fed894"/>
<path d="M126 277.7l5.1 3.7 5.1 3.5 5.2 3.4 5.2 3.4 5.2 3.5 5.3 3.3 5.5 3 5.5 3 5.5 2.8 5.7 2.8 5.6 2.8 5.4 3.1 5.2 3 5.6 2.6 5.9 1.7 6.1 1.2 6.1 .5 6.2 .2 6.2 0 6.2-.3 6.2-.2 6.3-.2 6.2 .5 5.8 1.7 5.3 2.5 3.1 5.1 .6 6.2 .3 6.3 .3 6.3" stroke="#f2f8c4"/>
<path d="M125.7 278.2l5 3.7 5.2 3.5 5.1 3.4 5.2 3.5 5.2 3.5 5.3 3.3 5.5 3 5.5 3 5.6 2.8 5.6 2.8 5.6 2.8 5.4 3.1 5.3 2.9 5.7 2.6 5.9 1.8 6 1.2 6.2 .6 6.1 .2 6.2 0 6.2-.2 6.3-.2 6.3-.2 6.2 .5 5.8 1.6 5.4 2.5 3.2 5 .5 6.3 .4 6.2 .2 6.3" stroke="#a5d6ae"/>
<path d="M125.4 278.7l5 3.7 5.1 3.6 5.2 3.4 5.1 3.5 5.2 3.5 5.4 3.3 5.5 3 5.5 3 5.5 2.8 5.7 2.8 5.6 2.8 5.4 3 5.3 2.9 5.7 2.6 5.9 1.8 6.1 1.3 6.1 .6 6.2 .3 6.2 .1 6.2-.2 6.3-.2 6.3-.2 6.2 .5 5.8 1.6 5.5 2.4 3.2 5 .6 6.2 .3 6.3 .3 6.3" stroke="#4690c1"/>
<path d="M125 279.1l5.1 3.8 5.1 3.6 5.1 3.5 5.2 3.5 5.1 3.5 5.4 3.3 5.5 3 5.5 2.9 5.6 2.9 5.6 2.7 5.6 2.9 5.5 3 5.4 2.8 5.7 2.6 5.9 1.9 6 1.3 6.2 .7 6.2 .3 6.2 .1 6.2-.1 6.3-.2 6.2-.2 6.3 .5 5.9 1.5 5.5 2.3 3.3 5 .6 6.3 .3 6.3 .3 6.2" stroke="#d62f26"/>
<path d="M124.7 279.6l5.1 3.7 5 3.7 5.1 3.5 5.2 3.6 5.2 3.5 5.3 3.3 5.5 3 5.5 2.9 5.7 2.8 5.6 2.8 5.6 2.9 5.5 2.9 5.4 2.8 5.7 2.6 5.9 1.9 6.1 1.4 6.1 .7 6.2 .4 6.3 .2 6.2-.1 6.3-.2 6.2-.1 6.3 .4 5.9 1.4 5.6 2.3 3.3 5 .6 6.3 .3 6.2 .3 6.3" stroke="#f68c4e"/>
<path d="M124.4 280.1l5 3.7 5.1 3.7 5.1 3.6 5.1 3.6 5.2 3.5 5.3 3.3 5.5 3.1 5.6 2.8 5.6 2.8 5.6 2.8 5.6 2.9 5.5 2.9 5.5 2.8 5.7 2.5 5.9 2 6.1 1.4 6.2 .8 6.2 .4 6.2 .2 6.3 0 6.2-.2 6.3-.1 6.3 .4 6 1.4 5.6 2.2 3.4 5 .6 6.2 .3 6.3 .3 6.3" stroke="#fed894"/>
<path d="M124.1 280.5l5 3.8 5.1 3.7 5 3.7 5.2 3.6 5.1 3.5 5.3 3.4 5.5 3 5.6 2.8 5.7 2.8 5.6 2.8 5.6 2.9 5.5 2.8 5.6 2.8 5.7 2.5 5.9 2 6.1 1.5 6.1 .8 6.3 .5 6.2 .2 6.3 0 6.2-.1 6.3-.1 6.3 .3 6 1.4 5.7 2.2 3.4 4.9 .6 6.3 .3 6.2 .3 6.3" stroke="#f2f8c4"/>
<path d="M123.8 281l5 3.8 5 3.7 5.1 3.7 5.1 3.7 5.1 3.5 5.4 3.4 5.5 3 5.6 2.8 5.6 2.8 5.6 2.8 5.6 2.8 5.6 2.9 5.6 2.7 5.7 2.5 5.9 2.1 6.1 1.5 6.2 .9 6.2 .5 6.3 .3 6.2 0 6.3-.1 6.3-.1 6.2 .3 6.1 1.4 5.9 2.1 3.4 4.9 .6 6.2 .3 6.3 .3 6.3" stroke="#a5d6ae"/>
<path d="M123.5 281.5l5 3.8 5 3.8 5 3.7 5.1 3.7 5.2 3.6 5.3 3.3 5.5 3 5.6 2.8 5.7 2.7 5.6 2.8 5.5 2.9 5.6 2.9 5.7 2.6 5.8 2.5 5.9 2.1 6 1.6 6.2 .9 6.3 .6 6.2 .3 6.3 .1 6.3-.1 6.3-.1 6.2 .3 6.2 1.3 5.9 2 3.4 5 .6 6.2 .4 6.3 .3 6.2" stroke="#4690c1"/>
</g><path d="M0.0,127.0 L9.3,115.4 L21.0,112.6 L46.7,115.4 L65.4,121.2 L77.1,128.2" fill="none" stroke="#000" stroke-width="1.55" stroke-linejoin="round" stroke-linecap="round"/>
<path d="M109.8,129.4 L121.5,131.7 L130.8,127.0 L140.2,125.9 L149.5,124.7 L155.3,117.7 L154.2,107.2" fill="none" stroke="#000" stroke-width="1.55" stroke-linejoin="round" stroke-linecap="round"/>
<path d="M198.0,78.1 L218.4,70.2 L229.7,66.8 L236.5,72.4 L243.3,78.1 L241.0,90.5 L234.2,101.8 L230.8,117.7 L220.6,135.8 L202.5,144.8" fill="none" stroke="#000" stroke-width="1.55" stroke-linejoin="round" stroke-linecap="round"/>
<path d="M126.7,204.8 L140.3,207.0 L138.0,227.4" fill="none" stroke="#000" stroke-width="1.55" stroke-linejoin="round" stroke-linecap="round"/>
<path d="M133.5,241.0 L129.0,252.3 L135.8,254.6 L155.0,252.3" fill="none" stroke="#000" stroke-width="1.55" stroke-linejoin="round" stroke-linecap="round"/>
<path d="M155.0,250.0 L166.3,248.0" fill="none" stroke="#000" stroke-width="1.55" stroke-linejoin="round" stroke-linecap="round"/>
<path d="M184.4,235.3 L195.7,238.7 L196.9,252.3 L192.3,265.9 L198.0,268.2 L209.3,272.7 L213.8,285.1 L229.7,281.7 L252.3,270.4 L263.6,268.2 L272.7,272.7 L274.9,281.7 L273.8,290.8 L277.2,312.0" fill="none" stroke="#000" stroke-width="1.55" stroke-linejoin="round" stroke-linecap="round"/>
<line x1="265.9" y1="133.5" x2="248.3" y2="97.4" stroke="#000" stroke-width="1.3"/><path d="M245.5,91.6 L250.7,96.3 L246.0,98.6Z" fill="#000"/>
<text x="265.8" y="145.0" font-size="10.4" font-weight="bold" text-anchor="middle" fill="#000" textLength="31.8" lengthAdjust="spacingAndGlyphs">State 2</text>
</g></g>
<clipPath id="mclip2"><rect x="0" y="0" width="310" height="310"/></clipPath>
<g transform="translate(11.0,684.7)"><g clip-path="url(#mclip2)">
<g filter="url(#blurBase)">
<path fill="#d2ebb0" d="M-12.0 -12.0h41.4v22.0h-41.4zM174.4 -12.0h39.0v22.0h-39.0zM261.6 -12.0h60.7v22.0h-60.7zM-12.0 9.7h31.7v10.0h-31.7zM174.4 9.7h29.4v10.0h-29.4zM271.2 9.7h51.0v10.0h-51.0zM-12.0 19.4h41.4v10.0h-41.4zM164.7 19.4h19.7v10.0h-19.7zM193.8 19.4h10.0v10.0h-10.0zM271.2 19.4h51.0v10.0h-51.0zM-12.0 29.1h41.4v10.0h-41.4zM155.0 29.1h19.7v10.0h-19.7zM261.6 29.1h60.7v10.0h-60.7zM-12.0 38.8h51.0v10.0h-51.0zM164.7 38.8h29.4v10.0h-29.4zM290.6 38.8h31.7v10.0h-31.7zM-12.0 48.4h60.7v10.0h-60.7zM155.0 48.4h29.4v10.0h-29.4zM290.6 48.4h31.7v10.0h-31.7zM9.7 58.1h58.4v10.0h-58.4zM155.0 58.1h19.7v10.0h-19.7zM290.6 58.1h31.7v10.0h-31.7zM9.7 67.8h97.2v10.0h-97.2zM290.6 67.8h31.7v10.0h-31.7zM19.4 77.5h97.2v10.0h-97.2zM135.6 77.5h10.0v10.0h-10.0zM300.3 77.5h22.0v10.0h-22.0zM19.4 87.2h106.9v10.0h-106.9zM271.2 87.2h51.0v10.0h-51.0zM9.7 96.9h106.9v10.0h-106.9zM251.9 96.9h70.4v10.0h-70.4zM9.7 106.6h87.5v10.0h-87.5zM242.2 106.6h80.1v10.0h-80.1zM242.2 116.2h80.1v10.0h-80.1zM232.5 125.9h89.8v10.0h-89.8zM251.9 135.6h10.0v10.0h-10.0zM271.2 135.6h10.0v10.0h-10.0zM9.7 155.0h19.7v10.0h-19.7zM271.2 155.0h19.7v10.0h-19.7zM9.7 164.7h29.4v10.0h-29.4zM261.6 164.7h29.4v10.0h-29.4zM-12.0 174.4h60.7v10.0h-60.7zM261.6 174.4h39.0v10.0h-39.0zM-12.0 184.1h60.7v10.0h-60.7zM261.6 184.1h60.7v10.0h-60.7zM-12.0 193.8h70.4v10.0h-70.4zM67.8 193.8h10.0v10.0h-10.0zM271.2 193.8h51.0v10.0h-51.0zM-12.0 203.4h89.8v10.0h-89.8zM271.2 203.4h51.0v10.0h-51.0zM-12.0 213.1h31.7v10.0h-31.7zM29.1 213.1h39.0v10.0h-39.0zM280.9 213.1h41.4v10.0h-41.4zM-12.0 222.8h80.1v10.0h-80.1zM280.9 222.8h19.7v10.0h-19.7zM-12.0 232.5h22.0v10.0h-22.0zM19.4 232.5h58.4v10.0h-58.4zM280.9 232.5h10.0v10.0h-10.0zM19.4 242.2h77.8v10.0h-77.8zM280.9 242.2h10.0v10.0h-10.0zM19.4 251.9h77.8v10.0h-77.8zM280.9 251.9h10.0v10.0h-10.0zM-12.0 261.6h22.0v10.0h-22.0zM19.4 261.6h68.1v10.0h-68.1zM280.9 261.6h10.0v10.0h-10.0zM-12.0 271.2h51.0v10.0h-51.0zM48.4 271.2h39.0v10.0h-39.0zM-12.0 280.9h22.0v10.0h-22.0zM19.4 280.9h39.0v10.0h-39.0zM67.8 280.9h10.0v10.0h-10.0zM9.7 290.6h48.7v10.0h-48.7zM67.8 290.6h10.0v10.0h-10.0zM-12.0 300.3h80.1v22.0h-80.1zM125.9 300.3h19.7v22.0h-19.7zM300.3 300.3h22.0v22.0h-22.0z"/>
<path fill="#fbf1b6" d="M29.1 -12.0h10.0v22.0h-10.0zM67.8 -12.0h10.0v22.0h-10.0zM145.3 -12.0h10.0v22.0h-10.0zM19.4 9.7h10.0v10.0h-10.0zM145.3 9.7h10.0v10.0h-10.0zM29.1 19.4h19.7v10.0h-19.7zM29.1 29.1h39.0v10.0h-39.0zM38.8 38.8h39.0v10.0h-39.0zM145.3 38.8h19.7v10.0h-19.7zM48.4 48.4h39.0v10.0h-39.0zM106.6 48.4h19.7v10.0h-19.7zM135.6 48.4h19.7v10.0h-19.7zM67.8 58.1h68.1v10.0h-68.1zM106.6 67.8h10.0v10.0h-10.0zM116.2 77.5h19.7v10.0h-19.7zM145.3 77.5h10.0v10.0h-10.0zM125.9 87.2h10.0v10.0h-10.0zM116.2 96.9h10.0v10.0h-10.0zM96.9 106.6h19.7v10.0h-19.7zM19.4 213.1h10.0v10.0h-10.0zM87.2 261.6h10.0v10.0h-10.0zM38.8 271.2h10.0v10.0h-10.0zM87.2 271.2h19.7v10.0h-19.7zM58.1 280.9h10.0v10.0h-10.0zM58.1 290.6h10.0v10.0h-10.0zM106.6 290.6h19.7v10.0h-19.7zM116.2 300.3h10.0v22.0h-10.0z"/>
<path fill="#f9c98a" d="M38.8 -12.0h29.4v22.0h-29.4zM77.5 -12.0h10.0v22.0h-10.0zM116.2 -12.0h10.0v22.0h-10.0zM135.6 -12.0h10.0v22.0h-10.0zM155.0 -12.0h19.7v22.0h-19.7zM29.1 9.7h48.7v10.0h-48.7zM106.6 9.7h10.0v10.0h-10.0zM135.6 9.7h10.0v10.0h-10.0zM164.7 9.7h10.0v10.0h-10.0zM48.4 19.4h39.0v10.0h-39.0zM96.9 19.4h19.7v10.0h-19.7zM145.3 19.4h19.7v10.0h-19.7zM67.8 29.1h48.7v10.0h-48.7zM135.6 29.1h19.7v10.0h-19.7zM77.5 38.8h68.1v10.0h-68.1zM87.2 48.4h19.7v10.0h-19.7zM125.9 48.4h10.0v10.0h-10.0zM251.9 48.4h10.0v10.0h-10.0zM251.9 58.1h19.7v10.0h-19.7zM242.2 67.8h29.4v10.0h-29.4zM232.5 77.5h29.4v10.0h-29.4zM96.9 155.0h10.0v10.0h-10.0zM290.6 155.0h31.7v10.0h-31.7zM77.5 164.7h19.7v10.0h-19.7zM300.3 164.7h22.0v10.0h-22.0zM87.2 174.4h10.0v10.0h-10.0zM155.0 174.4h10.0v10.0h-10.0zM300.3 174.4h22.0v10.0h-22.0zM155.0 184.1h19.7v10.0h-19.7zM145.3 193.8h29.4v10.0h-29.4zM145.3 203.4h39.0v10.0h-39.0zM145.3 213.1h39.0v10.0h-39.0zM145.3 222.8h48.7v10.0h-48.7zM145.3 232.5h39.0v10.0h-39.0zM145.3 242.2h10.0v10.0h-10.0zM77.5 280.9h39.0v10.0h-39.0zM77.5 290.6h29.4v10.0h-29.4zM67.8 300.3h10.0v22.0h-10.0zM87.2 300.3h29.4v22.0h-29.4z"/>
<path fill="#f39a58" d="M87.2 -12.0h29.4v22.0h-29.4zM125.9 -12.0h10.0v22.0h-10.0zM213.1 -12.0h10.0v22.0h-10.0zM77.5 9.7h29.4v10.0h-29.4zM116.2 9.7h19.7v10.0h-19.7zM155.0 9.7h10.0v10.0h-10.0zM203.4 9.7h10.0v10.0h-10.0zM87.2 19.4h10.0v10.0h-10.0zM116.2 19.4h29.4v10.0h-29.4zM184.1 19.4h10.0v10.0h-10.0zM116.2 29.1h19.7v10.0h-19.7zM174.4 29.1h10.0v10.0h-10.0zM261.6 48.4h10.0v10.0h-10.0zM242.2 58.1h10.0v10.0h-10.0zM222.8 77.5h10.0v10.0h-10.0zM261.6 77.5h10.0v10.0h-10.0zM232.5 87.2h19.7v10.0h-19.7zM96.9 164.7h10.0v10.0h-10.0zM290.6 164.7h10.0v10.0h-10.0zM77.5 174.4h10.0v10.0h-10.0zM96.9 174.4h10.0v10.0h-10.0zM164.7 174.4h10.0v10.0h-10.0zM77.5 300.3h10.0v22.0h-10.0z"/>
<path fill="#d8412f" d="M222.8 -12.0h19.7v22.0h-19.7zM213.1 9.7h10.0v10.0h-10.0zM261.6 38.8h19.7v10.0h-19.7zM242.2 48.4h10.0v10.0h-10.0zM271.2 48.4h10.0v10.0h-10.0zM222.8 58.1h10.0v10.0h-10.0zM271.2 58.1h10.0v10.0h-10.0zM213.1 67.8h10.0v10.0h-10.0zM271.2 67.8h10.0v10.0h-10.0zM203.4 77.5h10.0v10.0h-10.0zM280.9 77.5h10.0v10.0h-10.0zM251.9 87.2h10.0v10.0h-10.0zM232.5 96.9h10.0v10.0h-10.0zM222.8 106.6h19.7v10.0h-19.7zM222.8 116.2h19.7v10.0h-19.7zM222.8 125.9h10.0v10.0h-10.0zM251.9 145.3h19.7v10.0h-19.7zM67.8 155.0h29.4v10.0h-29.4zM203.4 155.0h19.7v10.0h-19.7zM58.1 164.7h19.7v10.0h-19.7zM174.4 164.7h48.7v10.0h-48.7zM58.1 174.4h19.7v10.0h-19.7zM184.1 174.4h39.0v10.0h-39.0zM58.1 184.1h29.4v10.0h-29.4zM193.8 184.1h29.4v10.0h-29.4zM203.4 193.8h10.0v10.0h-10.0zM203.4 203.4h10.0v10.0h-10.0zM203.4 213.1h10.0v10.0h-10.0zM242.2 213.1h10.0v10.0h-10.0zM203.4 222.8h10.0v10.0h-10.0zM184.1 232.5h29.4v10.0h-29.4zM193.8 242.2h19.7v10.0h-19.7zM193.8 251.9h19.7v10.0h-19.7zM193.8 261.6h19.7v10.0h-19.7zM203.4 271.2h10.0v10.0h-10.0zM135.6 280.9h19.7v10.0h-19.7zM135.6 290.6h19.7v10.0h-19.7z"/>
<path fill="#c2584a" d="M242.2 -12.0h10.0v22.0h-10.0zM222.8 9.7h29.4v10.0h-29.4zM213.1 19.4h29.4v10.0h-29.4zM203.4 29.1h10.0v10.0h-10.0zM222.8 29.1h10.0v10.0h-10.0zM145.3 67.8h10.0v10.0h-10.0zM290.6 135.6h10.0v10.0h-10.0zM242.2 145.3h10.0v10.0h-10.0zM290.6 145.3h10.0v10.0h-10.0zM232.5 155.0h10.0v10.0h-10.0zM222.8 164.7h10.0v10.0h-10.0zM242.2 164.7h10.0v10.0h-10.0zM222.8 174.4h29.4v10.0h-29.4zM213.1 251.9h10.0v10.0h-10.0zM213.1 261.6h10.0v10.0h-10.0zM290.6 280.9h10.0v10.0h-10.0z"/>
<path fill="#84bcc4" d="M251.9 -12.0h10.0v22.0h-10.0zM261.6 9.7h10.0v10.0h-10.0zM251.9 19.4h19.7v10.0h-19.7zM251.9 29.1h10.0v10.0h-10.0zM280.9 38.8h10.0v10.0h-10.0zM280.9 48.4h10.0v10.0h-10.0zM280.9 58.1h10.0v10.0h-10.0zM125.9 67.8h10.0v10.0h-10.0zM280.9 67.8h10.0v10.0h-10.0zM-12.0 77.5h22.0v10.0h-22.0zM290.6 77.5h10.0v10.0h-10.0zM-12.0 87.2h22.0v10.0h-22.0zM261.6 87.2h10.0v10.0h-10.0zM-12.0 96.9h22.0v10.0h-22.0zM242.2 96.9h10.0v10.0h-10.0zM164.7 106.6h39.0v10.0h-39.0zM164.7 116.2h39.0v10.0h-39.0zM135.6 125.9h10.0v10.0h-10.0zM164.7 125.9h39.0v10.0h-39.0zM261.6 135.6h10.0v10.0h-10.0zM271.2 145.3h10.0v10.0h-10.0zM300.3 145.3h22.0v10.0h-22.0zM-12.0 155.0h22.0v10.0h-22.0zM261.6 155.0h10.0v10.0h-10.0zM-12.0 164.7h22.0v10.0h-22.0zM251.9 164.7h10.0v10.0h-10.0zM48.4 174.4h10.0v10.0h-10.0zM251.9 174.4h10.0v10.0h-10.0zM232.5 184.1h29.4v10.0h-29.4zM58.1 193.8h10.0v10.0h-10.0zM232.5 193.8h39.0v10.0h-39.0zM232.5 203.4h39.0v10.0h-39.0zM222.8 213.1h19.7v10.0h-19.7zM251.9 213.1h29.4v10.0h-29.4zM222.8 222.8h58.4v10.0h-58.4zM9.7 232.5h10.0v10.0h-10.0zM222.8 232.5h58.4v10.0h-58.4zM-12.0 242.2h31.7v10.0h-31.7zM222.8 242.2h58.4v10.0h-58.4zM-12.0 251.9h31.7v10.0h-31.7zM96.9 251.9h10.0v10.0h-10.0zM222.8 251.9h58.4v10.0h-58.4zM9.7 261.6h10.0v10.0h-10.0zM222.8 261.6h58.4v10.0h-58.4zM213.1 271.2h39.0v10.0h-39.0zM9.7 280.9h10.0v10.0h-10.0zM-12.0 290.6h22.0v10.0h-22.0zM145.3 300.3h10.0v22.0h-10.0z"/>
<path fill="#6f93b3" d="M251.9 9.7h10.0v10.0h-10.0zM242.2 19.4h10.0v10.0h-10.0zM222.8 184.1h10.0v10.0h-10.0zM213.1 193.8h10.0v10.0h-10.0zM213.1 203.4h10.0v10.0h-10.0zM213.1 213.1h10.0v10.0h-10.0z"/>
<path fill="#eaba8a" d="M203.4 19.4h10.0v10.0h-10.0zM184.1 29.1h19.7v10.0h-19.7zM213.1 29.1h10.0v10.0h-10.0zM232.5 29.1h19.7v10.0h-19.7zM193.8 38.8h68.1v10.0h-68.1zM184.1 48.4h58.4v10.0h-58.4zM135.6 58.1h19.7v10.0h-19.7zM174.4 58.1h48.7v10.0h-48.7zM116.2 67.8h10.0v10.0h-10.0zM135.6 67.8h10.0v10.0h-10.0zM155.0 67.8h58.4v10.0h-58.4zM155.0 77.5h48.7v10.0h-48.7zM135.6 87.2h48.7v10.0h-48.7zM125.9 96.9h29.4v10.0h-29.4zM116.2 106.6h19.7v10.0h-19.7zM87.2 116.2h39.0v10.0h-39.0zM106.6 125.9h19.7v10.0h-19.7zM193.8 135.6h58.4v10.0h-58.4zM280.9 135.6h10.0v10.0h-10.0zM300.3 135.6h22.0v10.0h-22.0zM184.1 145.3h58.4v10.0h-58.4zM280.9 145.3h10.0v10.0h-10.0zM174.4 155.0h29.4v10.0h-29.4zM222.8 155.0h10.0v10.0h-10.0zM242.2 155.0h19.7v10.0h-19.7zM164.7 164.7h10.0v10.0h-10.0zM232.5 164.7h10.0v10.0h-10.0zM135.6 193.8h10.0v10.0h-10.0zM300.3 222.8h22.0v10.0h-22.0zM290.6 232.5h31.7v10.0h-31.7zM290.6 242.2h31.7v10.0h-31.7zM290.6 251.9h31.7v10.0h-31.7zM290.6 261.6h31.7v10.0h-31.7zM280.9 271.2h41.4v10.0h-41.4zM280.9 280.9h10.0v10.0h-10.0zM300.3 280.9h22.0v10.0h-22.0zM280.9 290.6h41.4v10.0h-41.4zM271.2 300.3h29.4v22.0h-29.4z"/>
<path fill="#a9d9aa" d="M-12.0 58.1h22.0v10.0h-22.0zM-12.0 67.8h22.0v10.0h-22.0zM9.7 77.5h10.0v10.0h-10.0zM9.7 87.2h10.0v10.0h-10.0zM-12.0 106.6h22.0v10.0h-22.0z"/>
<path fill="#e4653f" d="M232.5 58.1h10.0v10.0h-10.0zM222.8 67.8h19.7v10.0h-19.7zM213.1 77.5h10.0v10.0h-10.0zM271.2 77.5h10.0v10.0h-10.0zM213.1 87.2h19.7v10.0h-19.7zM222.8 96.9h10.0v10.0h-10.0zM174.4 174.4h10.0v10.0h-10.0zM174.4 184.1h19.7v10.0h-19.7zM174.4 193.8h29.4v10.0h-29.4zM184.1 203.4h19.7v10.0h-19.7zM184.1 213.1h19.7v10.0h-19.7zM193.8 222.8h10.0v10.0h-10.0z"/>
<path fill="#e6b88e" d="M184.1 87.2h29.4v10.0h-29.4zM155.0 96.9h68.1v10.0h-68.1zM135.6 106.6h29.4v10.0h-29.4zM203.4 106.6h19.7v10.0h-19.7zM125.9 116.2h39.0v10.0h-39.0zM203.4 116.2h19.7v10.0h-19.7zM87.2 125.9h19.7v10.0h-19.7zM125.9 125.9h10.0v10.0h-10.0zM145.3 125.9h19.7v10.0h-19.7zM203.4 125.9h19.7v10.0h-19.7zM87.2 135.6h106.9v10.0h-106.9zM87.2 145.3h97.2v10.0h-97.2zM106.6 155.0h68.1v10.0h-68.1zM106.6 164.7h58.4v10.0h-58.4zM106.6 174.4h48.7v10.0h-48.7zM87.2 184.1h68.1v10.0h-68.1zM77.5 193.8h58.4v10.0h-58.4zM77.5 203.4h68.1v10.0h-68.1zM67.8 213.1h77.8v10.0h-77.8zM67.8 222.8h77.8v10.0h-77.8zM77.5 232.5h68.1v10.0h-68.1zM96.9 242.2h48.7v10.0h-48.7zM155.0 242.2h39.0v10.0h-39.0zM106.6 251.9h87.5v10.0h-87.5zM96.9 261.6h97.2v10.0h-97.2zM106.6 271.2h97.2v10.0h-97.2zM251.9 271.2h29.4v10.0h-29.4zM116.2 280.9h19.7v10.0h-19.7zM155.0 280.9h126.2v10.0h-126.2zM155.0 290.6h126.2v10.0h-126.2zM155.0 300.3h116.5v22.0h-116.5z"/>
<path fill="#e6b88e" d="M-12.0 116.2h99.5v10.0h-99.5zM-12.0 125.9h99.5v10.0h-99.5zM-12.0 135.6h99.5v10.0h-99.5zM-12.0 145.3h99.5v10.0h-99.5zM29.1 155.0h39.0v10.0h-39.0zM38.8 164.7h19.7v10.0h-19.7z"/>
<path fill="#4a90c0" d="M48.4 184.1h10.0v10.0h-10.0zM222.8 193.8h10.0v10.0h-10.0zM222.8 203.4h10.0v10.0h-10.0zM213.1 222.8h10.0v10.0h-10.0zM213.1 232.5h10.0v10.0h-10.0zM213.1 242.2h10.0v10.0h-10.0zM125.9 290.6h10.0v10.0h-10.0z"/>
</g>
<mask id="mS2" maskUnits="userSpaceOnUse" x="-20" y="-20" width="350" height="350"><path d="M251.4 9.2h10.7v10.7h-10.7zM241.7 18.9h10.7v10.7h-10.7zM222.3 183.6h10.7v10.7h-10.7zM212.6 193.2h10.7v10.7h-10.7zM212.6 202.9h10.7v10.7h-10.7zM212.6 212.6h10.7v10.7h-10.7z" fill="#fff" filter="url(#blurMask)"/></mask>
<rect x="0" y="0" width="310" height="310" fill="url(#patS)" mask="url(#mS2)" opacity="0.85"/>
<mask id="mT2" maskUnits="userSpaceOnUse" x="-20" y="-20" width="350" height="350"><path d="M241.7 -0.5h10.7v10.7h-10.7zM222.3 9.2h10.7v10.7h-10.7zM232.0 9.2h10.7v10.7h-10.7zM241.7 9.2h10.7v10.7h-10.7zM212.6 18.9h10.7v10.7h-10.7zM222.3 18.9h10.7v10.7h-10.7zM232.0 18.9h10.7v10.7h-10.7zM202.9 28.6h10.7v10.7h-10.7zM222.3 28.6h10.7v10.7h-10.7zM144.8 67.3h10.7v10.7h-10.7zM290.1 135.1h10.7v10.7h-10.7zM241.7 144.8h10.7v10.7h-10.7zM290.1 144.8h10.7v10.7h-10.7zM232.0 154.5h10.7v10.7h-10.7zM222.3 164.2h10.7v10.7h-10.7zM241.7 164.2h10.7v10.7h-10.7zM222.3 173.9h10.7v10.7h-10.7zM232.0 173.9h10.7v10.7h-10.7zM241.7 173.9h10.7v10.7h-10.7zM212.6 251.4h10.7v10.7h-10.7zM212.6 261.1h10.7v10.7h-10.7zM290.1 280.4h10.7v10.7h-10.7z" fill="#fff" filter="url(#blurMask)"/></mask>
<rect x="0" y="0" width="310" height="310" fill="url(#patT)" mask="url(#mT2)" opacity="0.85"/>
<mask id="mP2" maskUnits="userSpaceOnUse" x="-20" y="-20" width="350" height="350"><path d="M202.9 18.9h10.7v10.7h-10.7zM183.6 28.6h10.7v10.7h-10.7zM193.2 28.6h10.7v10.7h-10.7zM212.6 28.6h10.7v10.7h-10.7zM232.0 28.6h10.7v10.7h-10.7zM241.7 28.6h10.7v10.7h-10.7zM193.2 38.2h10.7v10.7h-10.7zM202.9 38.2h10.7v10.7h-10.7zM212.6 38.2h10.7v10.7h-10.7zM222.3 38.2h10.7v10.7h-10.7zM232.0 38.2h10.7v10.7h-10.7zM241.7 38.2h10.7v10.7h-10.7zM251.4 38.2h10.7v10.7h-10.7zM183.6 47.9h10.7v10.7h-10.7zM193.2 47.9h10.7v10.7h-10.7zM202.9 47.9h10.7v10.7h-10.7zM212.6 47.9h10.7v10.7h-10.7zM222.3 47.9h10.7v10.7h-10.7zM232.0 47.9h10.7v10.7h-10.7zM135.1 57.6h10.7v10.7h-10.7zM144.8 57.6h10.7v10.7h-10.7zM173.9 57.6h10.7v10.7h-10.7zM183.6 57.6h10.7v10.7h-10.7zM193.2 57.6h10.7v10.7h-10.7zM202.9 57.6h10.7v10.7h-10.7zM212.6 57.6h10.7v10.7h-10.7zM115.8 67.3h10.7v10.7h-10.7zM135.1 67.3h10.7v10.7h-10.7zM154.5 67.3h10.7v10.7h-10.7zM164.2 67.3h10.7v10.7h-10.7zM173.9 67.3h10.7v10.7h-10.7zM183.6 67.3h10.7v10.7h-10.7zM193.2 67.3h10.7v10.7h-10.7zM202.9 67.3h10.7v10.7h-10.7zM154.5 77.0h10.7v10.7h-10.7zM164.2 77.0h10.7v10.7h-10.7zM173.9 77.0h10.7v10.7h-10.7zM183.6 77.0h10.7v10.7h-10.7zM193.2 77.0h10.7v10.7h-10.7zM135.1 86.7h10.7v10.7h-10.7zM144.8 86.7h10.7v10.7h-10.7zM154.5 86.7h10.7v10.7h-10.7zM164.2 86.7h10.7v10.7h-10.7zM173.9 86.7h10.7v10.7h-10.7zM125.4 96.4h10.7v10.7h-10.7zM135.1 96.4h10.7v10.7h-10.7zM144.8 96.4h10.7v10.7h-10.7zM115.8 106.1h10.7v10.7h-10.7zM125.4 106.1h10.7v10.7h-10.7zM86.7 115.8h10.7v10.7h-10.7zM96.4 115.8h10.7v10.7h-10.7zM106.1 115.8h10.7v10.7h-10.7zM115.8 115.8h10.7v10.7h-10.7zM106.1 125.4h10.7v10.7h-10.7zM115.8 125.4h10.7v10.7h-10.7zM193.2 135.1h10.7v10.7h-10.7zM202.9 135.1h10.7v10.7h-10.7zM212.6 135.1h10.7v10.7h-10.7zM222.3 135.1h10.7v10.7h-10.7zM232.0 135.1h10.7v10.7h-10.7zM241.7 135.1h10.7v10.7h-10.7zM280.4 135.1h10.7v10.7h-10.7zM299.8 135.1h10.7v10.7h-10.7zM183.6 144.8h10.7v10.7h-10.7zM193.2 144.8h10.7v10.7h-10.7zM202.9 144.8h10.7v10.7h-10.7zM212.6 144.8h10.7v10.7h-10.7zM222.3 144.8h10.7v10.7h-10.7zM232.0 144.8h10.7v10.7h-10.7zM280.4 144.8h10.7v10.7h-10.7zM173.9 154.5h10.7v10.7h-10.7zM183.6 154.5h10.7v10.7h-10.7zM193.2 154.5h10.7v10.7h-10.7zM222.3 154.5h10.7v10.7h-10.7zM241.7 154.5h10.7v10.7h-10.7zM251.4 154.5h10.7v10.7h-10.7zM164.2 164.2h10.7v10.7h-10.7zM232.0 164.2h10.7v10.7h-10.7zM135.1 193.2h10.7v10.7h-10.7zM299.8 222.3h10.7v10.7h-10.7zM290.1 232.0h10.7v10.7h-10.7zM299.8 232.0h10.7v10.7h-10.7zM290.1 241.7h10.7v10.7h-10.7zM299.8 241.7h10.7v10.7h-10.7zM290.1 251.4h10.7v10.7h-10.7zM299.8 251.4h10.7v10.7h-10.7zM290.1 261.1h10.7v10.7h-10.7zM299.8 261.1h10.7v10.7h-10.7zM280.4 270.8h10.7v10.7h-10.7zM290.1 270.8h10.7v10.7h-10.7zM299.8 270.8h10.7v10.7h-10.7zM280.4 280.4h10.7v10.7h-10.7zM299.8 280.4h10.7v10.7h-10.7zM280.4 290.1h10.7v10.7h-10.7zM290.1 290.1h10.7v10.7h-10.7zM299.8 290.1h10.7v10.7h-10.7zM270.8 299.8h10.7v10.7h-10.7zM280.4 299.8h10.7v10.7h-10.7zM290.1 299.8h10.7v10.7h-10.7z" fill="#fff" filter="url(#blurMask)"/></mask>
<rect x="0" y="0" width="310" height="310" fill="url(#patP)" mask="url(#mP2)" opacity="0.85"/>
<mask id="mF2" maskUnits="userSpaceOnUse" x="-20" y="-20" width="350" height="350"><path d="M183.6 86.7h10.7v10.7h-10.7zM193.2 86.7h10.7v10.7h-10.7zM202.9 86.7h10.7v10.7h-10.7zM154.5 96.4h10.7v10.7h-10.7zM164.2 96.4h10.7v10.7h-10.7zM173.9 96.4h10.7v10.7h-10.7zM183.6 96.4h10.7v10.7h-10.7zM193.2 96.4h10.7v10.7h-10.7zM202.9 96.4h10.7v10.7h-10.7zM212.6 96.4h10.7v10.7h-10.7zM135.1 106.1h10.7v10.7h-10.7zM144.8 106.1h10.7v10.7h-10.7zM154.5 106.1h10.7v10.7h-10.7zM202.9 106.1h10.7v10.7h-10.7zM212.6 106.1h10.7v10.7h-10.7zM125.4 115.8h10.7v10.7h-10.7zM135.1 115.8h10.7v10.7h-10.7zM144.8 115.8h10.7v10.7h-10.7zM154.5 115.8h10.7v10.7h-10.7zM202.9 115.8h10.7v10.7h-10.7zM212.6 115.8h10.7v10.7h-10.7zM86.7 125.4h10.7v10.7h-10.7zM96.4 125.4h10.7v10.7h-10.7zM125.4 125.4h10.7v10.7h-10.7zM144.8 125.4h10.7v10.7h-10.7zM154.5 125.4h10.7v10.7h-10.7zM202.9 125.4h10.7v10.7h-10.7zM212.6 125.4h10.7v10.7h-10.7zM86.7 135.1h10.7v10.7h-10.7zM96.4 135.1h10.7v10.7h-10.7zM106.1 135.1h10.7v10.7h-10.7zM115.8 135.1h10.7v10.7h-10.7zM125.4 135.1h10.7v10.7h-10.7zM135.1 135.1h10.7v10.7h-10.7zM144.8 135.1h10.7v10.7h-10.7zM154.5 135.1h10.7v10.7h-10.7zM164.2 135.1h10.7v10.7h-10.7zM173.9 135.1h10.7v10.7h-10.7zM183.6 135.1h10.7v10.7h-10.7zM86.7 144.8h10.7v10.7h-10.7zM96.4 144.8h10.7v10.7h-10.7zM106.1 144.8h10.7v10.7h-10.7zM115.8 144.8h10.7v10.7h-10.7zM125.4 144.8h10.7v10.7h-10.7zM135.1 144.8h10.7v10.7h-10.7zM144.8 144.8h10.7v10.7h-10.7zM154.5 144.8h10.7v10.7h-10.7zM164.2 144.8h10.7v10.7h-10.7zM173.9 144.8h10.7v10.7h-10.7zM106.1 154.5h10.7v10.7h-10.7zM115.8 154.5h10.7v10.7h-10.7zM125.4 154.5h10.7v10.7h-10.7zM135.1 154.5h10.7v10.7h-10.7zM144.8 154.5h10.7v10.7h-10.7zM154.5 154.5h10.7v10.7h-10.7zM164.2 154.5h10.7v10.7h-10.7zM106.1 164.2h10.7v10.7h-10.7zM115.8 164.2h10.7v10.7h-10.7zM125.4 164.2h10.7v10.7h-10.7zM135.1 164.2h10.7v10.7h-10.7zM144.8 164.2h10.7v10.7h-10.7zM154.5 164.2h10.7v10.7h-10.7zM106.1 173.9h10.7v10.7h-10.7zM115.8 173.9h10.7v10.7h-10.7zM125.4 173.9h10.7v10.7h-10.7zM135.1 173.9h10.7v10.7h-10.7zM144.8 173.9h10.7v10.7h-10.7zM86.7 183.6h10.7v10.7h-10.7zM96.4 183.6h10.7v10.7h-10.7zM106.1 183.6h10.7v10.7h-10.7zM115.8 183.6h10.7v10.7h-10.7zM125.4 183.6h10.7v10.7h-10.7zM135.1 183.6h10.7v10.7h-10.7zM144.8 183.6h10.7v10.7h-10.7zM77.0 193.2h10.7v10.7h-10.7zM86.7 193.2h10.7v10.7h-10.7zM96.4 193.2h10.7v10.7h-10.7zM106.1 193.2h10.7v10.7h-10.7zM115.8 193.2h10.7v10.7h-10.7zM125.4 193.2h10.7v10.7h-10.7zM77.0 202.9h10.7v10.7h-10.7zM86.7 202.9h10.7v10.7h-10.7zM96.4 202.9h10.7v10.7h-10.7zM106.1 202.9h10.7v10.7h-10.7zM115.8 202.9h10.7v10.7h-10.7zM125.4 202.9h10.7v10.7h-10.7zM135.1 202.9h10.7v10.7h-10.7zM67.3 212.6h10.7v10.7h-10.7zM77.0 212.6h10.7v10.7h-10.7zM86.7 212.6h10.7v10.7h-10.7zM96.4 212.6h10.7v10.7h-10.7zM106.1 212.6h10.7v10.7h-10.7zM115.8 212.6h10.7v10.7h-10.7zM125.4 212.6h10.7v10.7h-10.7zM135.1 212.6h10.7v10.7h-10.7zM67.3 222.3h10.7v10.7h-10.7zM77.0 222.3h10.7v10.7h-10.7zM86.7 222.3h10.7v10.7h-10.7zM96.4 222.3h10.7v10.7h-10.7zM106.1 222.3h10.7v10.7h-10.7zM115.8 222.3h10.7v10.7h-10.7zM125.4 222.3h10.7v10.7h-10.7zM135.1 222.3h10.7v10.7h-10.7zM77.0 232.0h10.7v10.7h-10.7zM86.7 232.0h10.7v10.7h-10.7zM96.4 232.0h10.7v10.7h-10.7zM106.1 232.0h10.7v10.7h-10.7zM115.8 232.0h10.7v10.7h-10.7zM125.4 232.0h10.7v10.7h-10.7zM135.1 232.0h10.7v10.7h-10.7zM96.4 241.7h10.7v10.7h-10.7zM106.1 241.7h10.7v10.7h-10.7zM115.8 241.7h10.7v10.7h-10.7zM125.4 241.7h10.7v10.7h-10.7zM135.1 241.7h10.7v10.7h-10.7zM154.5 241.7h10.7v10.7h-10.7zM164.2 241.7h10.7v10.7h-10.7zM173.9 241.7h10.7v10.7h-10.7zM183.6 241.7h10.7v10.7h-10.7zM106.1 251.4h10.7v10.7h-10.7zM115.8 251.4h10.7v10.7h-10.7zM125.4 251.4h10.7v10.7h-10.7zM135.1 251.4h10.7v10.7h-10.7zM144.8 251.4h10.7v10.7h-10.7zM154.5 251.4h10.7v10.7h-10.7zM164.2 251.4h10.7v10.7h-10.7zM173.9 251.4h10.7v10.7h-10.7zM183.6 251.4h10.7v10.7h-10.7zM96.4 261.1h10.7v10.7h-10.7zM106.1 261.1h10.7v10.7h-10.7zM115.8 261.1h10.7v10.7h-10.7zM125.4 261.1h10.7v10.7h-10.7zM135.1 261.1h10.7v10.7h-10.7zM144.8 261.1h10.7v10.7h-10.7zM154.5 261.1h10.7v10.7h-10.7zM164.2 261.1h10.7v10.7h-10.7zM173.9 261.1h10.7v10.7h-10.7zM183.6 261.1h10.7v10.7h-10.7zM106.1 270.8h10.7v10.7h-10.7zM115.8 270.8h10.7v10.7h-10.7zM125.4 270.8h10.7v10.7h-10.7zM135.1 270.8h10.7v10.7h-10.7zM144.8 270.8h10.7v10.7h-10.7zM154.5 270.8h10.7v10.7h-10.7zM164.2 270.8h10.7v10.7h-10.7zM173.9 270.8h10.7v10.7h-10.7zM183.6 270.8h10.7v10.7h-10.7zM193.2 270.8h10.7v10.7h-10.7zM251.4 270.8h10.7v10.7h-10.7zM261.1 270.8h10.7v10.7h-10.7zM270.8 270.8h10.7v10.7h-10.7zM115.8 280.4h10.7v10.7h-10.7zM125.4 280.4h10.7v10.7h-10.7zM154.5 280.4h10.7v10.7h-10.7zM164.2 280.4h10.7v10.7h-10.7zM173.9 280.4h10.7v10.7h-10.7zM183.6 280.4h10.7v10.7h-10.7zM193.2 280.4h10.7v10.7h-10.7zM202.9 280.4h10.7v10.7h-10.7zM212.6 280.4h10.7v10.7h-10.7zM222.3 280.4h10.7v10.7h-10.7zM232.0 280.4h10.7v10.7h-10.7zM241.7 280.4h10.7v10.7h-10.7zM251.4 280.4h10.7v10.7h-10.7zM261.1 280.4h10.7v10.7h-10.7zM270.8 280.4h10.7v10.7h-10.7zM154.5 290.1h10.7v10.7h-10.7zM164.2 290.1h10.7v10.7h-10.7zM173.9 290.1h10.7v10.7h-10.7zM183.6 290.1h10.7v10.7h-10.7zM193.2 290.1h10.7v10.7h-10.7zM202.9 290.1h10.7v10.7h-10.7zM212.6 290.1h10.7v10.7h-10.7zM222.3 290.1h10.7v10.7h-10.7zM232.0 290.1h10.7v10.7h-10.7zM241.7 290.1h10.7v10.7h-10.7zM251.4 290.1h10.7v10.7h-10.7zM261.1 290.1h10.7v10.7h-10.7zM270.8 290.1h10.7v10.7h-10.7zM154.5 299.8h10.7v10.7h-10.7zM164.2 299.8h10.7v10.7h-10.7zM173.9 299.8h10.7v10.7h-10.7zM183.6 299.8h10.7v10.7h-10.7zM193.2 299.8h10.7v10.7h-10.7zM202.9 299.8h10.7v10.7h-10.7zM212.6 299.8h10.7v10.7h-10.7zM222.3 299.8h10.7v10.7h-10.7zM232.0 299.8h10.7v10.7h-10.7zM241.7 299.8h10.7v10.7h-10.7zM251.4 299.8h10.7v10.7h-10.7zM261.1 299.8h10.7v10.7h-10.7z" fill="#fff" filter="url(#blurMask)"/></mask>
<rect x="0" y="0" width="310" height="310" fill="url(#patF)" mask="url(#mF2)" opacity="0.9"/>
<mask id="mH2" maskUnits="userSpaceOnUse" x="-20" y="-20" width="350" height="350"><path d="M-0.5 115.8h10.7v10.7h-10.7zM9.2 115.8h10.7v10.7h-10.7zM18.9 115.8h10.7v10.7h-10.7zM28.6 115.8h10.7v10.7h-10.7zM38.2 115.8h10.7v10.7h-10.7zM47.9 115.8h10.7v10.7h-10.7zM57.6 115.8h10.7v10.7h-10.7zM67.3 115.8h10.7v10.7h-10.7zM77.0 115.8h10.7v10.7h-10.7zM-0.5 125.4h10.7v10.7h-10.7zM9.2 125.4h10.7v10.7h-10.7zM18.9 125.4h10.7v10.7h-10.7zM28.6 125.4h10.7v10.7h-10.7zM38.2 125.4h10.7v10.7h-10.7zM47.9 125.4h10.7v10.7h-10.7zM57.6 125.4h10.7v10.7h-10.7zM67.3 125.4h10.7v10.7h-10.7zM77.0 125.4h10.7v10.7h-10.7zM-0.5 135.1h10.7v10.7h-10.7zM9.2 135.1h10.7v10.7h-10.7zM18.9 135.1h10.7v10.7h-10.7zM28.6 135.1h10.7v10.7h-10.7zM38.2 135.1h10.7v10.7h-10.7zM47.9 135.1h10.7v10.7h-10.7zM57.6 135.1h10.7v10.7h-10.7zM67.3 135.1h10.7v10.7h-10.7zM77.0 135.1h10.7v10.7h-10.7zM-0.5 144.8h10.7v10.7h-10.7zM9.2 144.8h10.7v10.7h-10.7zM18.9 144.8h10.7v10.7h-10.7zM28.6 144.8h10.7v10.7h-10.7zM38.2 144.8h10.7v10.7h-10.7zM47.9 144.8h10.7v10.7h-10.7zM57.6 144.8h10.7v10.7h-10.7zM67.3 144.8h10.7v10.7h-10.7zM77.0 144.8h10.7v10.7h-10.7zM28.6 154.5h10.7v10.7h-10.7zM38.2 154.5h10.7v10.7h-10.7zM47.9 154.5h10.7v10.7h-10.7zM57.6 154.5h10.7v10.7h-10.7zM38.2 164.2h10.7v10.7h-10.7zM47.9 164.2h10.7v10.7h-10.7z" fill="#fff" filter="url(#blurMask)"/></mask>
<rect x="0" y="0" width="310" height="310" fill="url(#patH)" mask="url(#mH2)" opacity="0.9"/>
<circle cx="46.4" cy="147.4" r="13.00" fill="#d62f26"/>
<circle cx="46.4" cy="147.4" r="12.34" fill="#4690c1"/>
<circle cx="46.4" cy="147.4" r="11.68" fill="#a5d6ae"/>
<circle cx="46.4" cy="147.4" r="11.03" fill="#f2f8c4"/>
<circle cx="46.4" cy="147.4" r="10.37" fill="#fed894"/>
<circle cx="46.4" cy="147.4" r="9.71" fill="#f68c4e"/>
<circle cx="46.4" cy="147.4" r="9.05" fill="#d62f26"/>
<circle cx="46.4" cy="147.4" r="8.39" fill="#4690c1"/>
<circle cx="46.4" cy="147.4" r="7.74" fill="#a5d6ae"/>
<circle cx="46.4" cy="147.4" r="7.08" fill="#f2f8c4"/>
<circle cx="46.4" cy="147.4" r="6.42" fill="#fed894"/>
<circle cx="46.4" cy="147.4" r="5.76" fill="#f68c4e"/>
<circle cx="46.4" cy="147.4" r="5.11" fill="#d62f26"/>
<circle cx="46.4" cy="147.4" r="4.45" fill="#4690c1"/>
<circle cx="46.4" cy="147.4" r="3.79" fill="#a5d6ae"/>
<circle cx="46.4" cy="147.4" r="3.13" fill="#f2f8c4"/>
<circle cx="46.4" cy="147.4" r="2.47" fill="#fed894"/>
<circle cx="46.4" cy="147.4" r="1.82" fill="#f68c4e"/>
<circle cx="46.4" cy="147.4" r="1.16" fill="#d62f26"/>
<g fill="none" stroke-width="0.88" stroke-linejoin="round">
<path d="M158.4 177.7l-4.5 .8-4.6 .8-4.6 .8-4.5 .9-4.5 1-4.5 1-4.5 1.4-4.3 1.8-4 2.1-3.9 2.6-3.7 2.8-3.4 3.1-3 3.5-2.2 4.1-.7 4.5 1.1 4.5 2.3 4 3.5 3 4.2 1.9 4.4 1.4 4.5 1.1 4.6 .4 4.7 .1 4.6 .3 4.6 .5 4.6 .4 4.6 .5 4.6 .5 4.6 .5" stroke="#d62f26"/>
<path d="M158.4 177.2l-4.6 .8-4.6 .8-4.6 .8-4.6 .9-4.6 .9-4.6 1.1-4.5 1.3-4.3 1.9-4.1 2.2-3.9 2.6-3.7 2.9-3.4 3.2-3.1 3.5-2.1 4.2-.7 4.6 1 4.5 2.4 4 3.5 3.1 4.2 2 4.4 1.4 4.6 1.1 4.7 .5 4.6 .2 4.7 .3 4.7 .5 4.6 .5 4.7 .5 4.6 .5 4.7 .5" stroke="#f68c4e"/>
<path d="M158.4 176.7l-4.7 .8-4.6 .8-4.7 .8-4.7 .8-4.6 1-4.7 1-4.5 1.4-4.4 1.9-4.1 2.2-3.9 2.7-3.7 3-3.5 3.2-3 3.6-2.2 4.2-.7 4.7 1 4.6 2.4 4.1 3.5 3.1 4.3 2.1 4.5 1.4 4.6 1.1 4.7 .5 4.7 .3 4.7 .3 4.7 .6 4.8 .5 4.7 .5 4.7 .6 4.7 .5" stroke="#fed894"/>
<path d="M158.4 176.2l-4.7 .8-4.8 .7-4.7 .8-4.7 .9-4.7 .9-4.7 1.1-4.6 1.4-4.4 1.9-4.2 2.3-3.9 2.7-3.7 3-3.5 3.3-3.1 3.7-2.1 4.3-.7 4.7 1 4.7 2.3 4.1 3.6 3.2 4.3 2.1 4.5 1.5 4.7 1.2 4.7 .5 4.8 .3 4.8 .4 4.7 .6 4.8 .6 4.8 .5 4.7 .5 4.8 .6" stroke="#f2f8c4"/>
<path d="M158.4 175.7l-4.8 .8-4.8 .7-4.8 .8-4.8 .8-4.7 1-4.8 1-4.6 1.4-4.5 2-4.2 2.4-4 2.7-3.7 3.1-3.5 3.4-3 3.7-2.2 4.3-.7 4.8 1 4.8 2.4 4.2 3.6 3.2 4.3 2.2 4.6 1.5 4.7 1.2 4.8 .6 4.8 .3 4.8 .5 4.8 .6 4.8 .6 4.8 .6 4.9 .5 4.8 .6" stroke="#a5d6ae"/>
<path d="M158.4 175.2l-4.8 .7-4.9 .8-4.9 .8-4.8 .8-4.8 .9-4.8 1.1-4.7 1.4-4.5 2-4.3 2.4-4 2.8-3.7 3.2-3.5 3.4-3.1 3.8-2.2 4.4-.7 4.8 1 4.8 2.4 4.3 3.6 3.3 4.4 2.2 4.6 1.6 4.7 1.3 4.9 .6 4.9 .3 4.9 .5 4.8 .7 4.9 .7 4.8 .5 4.9 .6 4.9 .6" stroke="#4690c1"/>
<path d="M158.4 174.7l-4.9 .7-4.9 .8-4.9 .7-4.9 .8-4.9 .9-4.9 1.1-4.7 1.4-4.6 2.1-4.3 2.5-4 2.9-3.7 3.2-3.5 3.5-3.1 3.8-2.2 4.5-.7 4.9 .9 4.8 2.4 4.3 3.7 3.4 4.3 2.3 4.7 1.6 4.8 1.3 4.9 .7 5 .4 4.9 .5 4.9 .7 4.9 .7 4.9 .6 5 .6 4.9 .6" stroke="#d62f26"/>
<path d="M158.4 174.2l-5 .7-4.9 .7-5 .8-5 .8-4.9 .9-4.9 1-4.9 1.5-4.5 2.1-4.3 2.5-4.1 3-3.8 3.2-3.5 3.6-3.1 3.9-2.2 4.5-.7 5 1 4.9 2.4 4.4 3.6 3.4 4.4 2.3 4.8 1.7 4.8 1.3 5 .7 5 .5 4.9 .5 5 .8 4.9 .7 5 .7 5 .6 5 .6" stroke="#f68c4e"/>
<path d="M158.4 173.7l-5 .7-5.1 .7-5 .7-5 .8-5 .9-5 1.1-4.9 1.5-4.6 2.1-4.3 2.6-4.1 3-3.8 3.3-3.5 3.6-3.1 4-2.2 4.6-.8 5 1 5 2.4 4.4 3.7 3.5 4.4 2.4 4.8 1.7 4.9 1.4 5 .7 5 .5 5.1 .6 4.9 .8 5.1 .8 5 .7 5.1 .6 5 .6" stroke="#fed894"/>
<path d="M158.4 173.2l-5.1 .7-5.1 .7-5.1 .7-5 .8-5.1 .9-5 1-5 1.5-4.6 2.2-4.4 2.6-4.1 3.1-3.8 3.4-3.6 3.7-3.1 4-2.2 4.7-.7 5 .9 5.1 2.4 4.5 3.7 3.5 4.5 2.4 4.8 1.8 5 1.4 5 .8 5.1 .5 5.1 .7 5 .8 5.1 .8 5.1 .7 5.1 .7 5.1 .6" stroke="#f2f8c4"/>
<path d="M158.4 172.6l-5.1 .8-5.2 .7-5.1 .7-5.2 .7-5.1 .9-5.1 1.1-5 1.5-4.7 2.2-4.4 2.7-4.1 3.1-3.9 3.5-3.5 3.7-3.2 4.1-2.2 4.7-.7 5.2 1 5 2.4 4.6 3.7 3.6 4.5 2.5 4.9 1.8 5 1.4 5.1 .9 5.1 .5 5.1 .7 5.1 .9 5.1 .9 5.2 .7 5.1 .6 5.2 .7" stroke="#a5d6ae"/>
<path d="M158.4 172.1l-5.2 .8-5.2 .6-5.2 .7-5.2 .8-5.2 .9-5.2 1-5 1.5-4.7 2.3-4.5 2.7-4.1 3.2-3.9 3.6-3.6 3.8-3.1 4.2-2.2 4.7-.8 5.2 1 5.1 2.4 4.7 3.8 3.6 4.5 2.6 4.9 1.8 5 1.5 5.2 .8 5.2 .6 5.2 .8 5.1 .9 5.2 .9 5.2 .8 5.2 .6 5.2 .7" stroke="#4690c1"/>
<path d="M158.4 171.6l-5.3 .7-5.2 .7-5.3 .7-5.3 .8-5.2 .8-5.2 1.1-5.1 1.5-4.8 2.3-4.5 2.8-4.2 3.2-3.8 3.6-3.6 3.9-3.2 4.3-2.2 4.8-.7 5.2 .9 5.2 2.5 4.7 3.7 3.7 4.6 2.6 4.9 1.9 5.1 1.5 5.2 .9 5.3 .7 5.2 .7 5.2 1 5.2 1 5.3 .7 5.2 .7 5.3 .7" stroke="#d62f26"/>
<path d="M158.4 171.1l-5.3 .7-5.3 .7-5.4 .7-5.3 .7-5.3 .8-5.3 1.1-5.1 1.5-4.8 2.4-4.6 2.8-4.2 3.4-3.8 3.6-3.7 3.9-3.1 4.4-2.3 4.8-.7 5.3 1 5.3 2.4 4.7 3.8 3.8 4.6 2.7 5 1.9 5.1 1.6 5.3 .9 5.3 .7 5.2 .8 5.3 1 5.2 1 5.3 .8 5.4 .7 5.3 .7" stroke="#f68c4e"/>
<path d="M158.4 170.6l-5.4 .7-5.4 .7-5.4 .6-5.3 .8-5.4 .8-5.3 1.1-5.2 1.5-4.9 2.4-4.6 2.9-4.2 3.4-3.9 3.7-3.6 4-3.2 4.4-2.2 4.9-.8 5.3 1 5.4 2.4 4.8 3.8 3.8 4.7 2.7 5 2 5.2 1.6 5.3 1 5.3 .7 5.4 .9 5.2 1 5.4 1.1 5.3 .8 5.4 .7 5.4 .7" stroke="#fed894"/>
<path d="M158.4 170.1l-5.4 .7-5.5 .6-5.4 .7-5.5 .7-5.4 .8-5.4 1.1-5.2 1.6-5 2.4-4.5 3-4.3 3.4-3.9 3.8-3.6 4-3.2 4.5-2.3 4.9-.7 5.5 .9 5.3 2.5 4.9 3.8 3.9 4.7 2.8 5 2 5.3 1.6 5.3 1.1 5.4 .7 5.4 .9 5.3 1.2 5.4 1 5.4 .8 5.5 .8 5.4 .7" stroke="#f2f8c4"/>
<path d="M158.4 169.6l-5.5 .7-5.5 .6-5.5 .6-5.5 .8-5.5 .8-5.4 1-5.4 1.6-4.9 2.5-4.6 3-4.3 3.5-3.9 3.8-3.7 4.2-3.2 4.5-2.2 5-.8 5.5 .9 5.4 2.5 5 3.9 3.9 4.7 2.8 5.1 2.1 5.3 1.7 5.4 1 5.4 .8 5.4 1 5.4 1.2 5.4 1 5.5 .9 5.5 .8 5.5 .7" stroke="#a5d6ae"/>
<path d="M158.4 169.1l-5.6 .7-5.5 .6-5.6 .6-5.5 .7-5.6 .8-5.5 1.1-5.4 1.6-5 2.5-4.6 3.1-4.3 3.5-4 3.9-3.6 4.2-3.2 4.6-2.3 5.1-.8 5.5 1 5.5 2.4 5 3.9 4 4.7 2.9 5.2 2.1 5.3 1.7 5.5 1.1 5.5 .8 5.5 1 5.4 1.3 5.5 1.1 5.5 .9 5.5 .8 5.6 .7" stroke="#4690c1"/>
<path d="M158.4 168.6l-5.6 .7-5.6 .6-5.7 .6-5.6 .7-5.6 .8-5.5 1-5.5 1.6-5 2.6-4.7 3.1-4.3 3.6-4 4-3.7 4.3-3.2 4.6-2.3 5.1-.7 5.6 .9 5.6 2.5 5 3.9 4.1 4.7 2.9 5.2 2.2 5.4 1.8 5.5 1.1 5.6 .9 5.5 1 5.5 1.3 5.5 1.1 5.6 .9 5.6 .8 5.6 .8" stroke="#d62f26"/>
<path d="M158.4 168.1l-5.7 .6-5.7 .6-5.6 .6-5.7 .7-5.7 .8-5.6 1.1-5.5 1.6-5.1 2.6-4.7 3.2-4.3 3.6-4 4.1-3.7 4.3-3.3 4.7-2.2 5.2-.8 5.6 .9 5.7 2.5 5.1 3.9 4.1 4.8 3 5.3 2.2 5.4 1.8 5.6 1.2 5.6 .9 5.5 1.1 5.6 1.3 5.5 1.2 5.7 .9 5.6 .8 5.7 .8" stroke="#f68c4e"/>
<path d="M158.4 167.6l-5.7 .6-5.8 .6-5.7 .6-5.8 .7-5.7 .8-5.7 1-5.5 1.7-5.1 2.6-4.8 3.2-4.4 3.8-4 4.1-3.7 4.3-3.2 4.8-2.3 5.3-.8 5.7 1 5.6 2.5 5.2 3.9 4.2 4.8 3.1 5.3 2.2 5.5 1.8 5.6 1.2 5.7 1 5.6 1.1 5.5 1.4 5.7 1.2 5.7 1 5.7 .8 5.7 .8" stroke="#fed894"/>
<path d="M158.4 167.1l-5.8 .6-5.8 .6-5.8 .6-5.8 .6-5.8 .8-5.7 1.1-5.6 1.6-5.2 2.7-4.8 3.3-4.4 3.8-4 4.1-3.7 4.5-3.3 4.8-2.2 5.3-.8 5.8 .9 5.7 2.5 5.3 3.9 4.2 4.9 3.1 5.3 2.3 5.6 1.9 5.6 1.2 5.7 1 5.7 1.2 5.6 1.4 5.7 1.3 5.7 .9 5.8 .9 5.8 .8" stroke="#f2f8c4"/>
<path d="M158.4 166.6l-5.9 .6-5.8 .5-5.9 .6-5.8 .7-5.9 .7-5.8 1.1-5.6 1.7-5.2 2.7-4.9 3.3-4.4 3.9-4 4.2-3.8 4.5-3.2 4.9-2.3 5.4-.8 5.8 .9 5.8 2.5 5.3 4 4.3 4.9 3.2 5.4 2.3 5.5 1.9 5.8 1.3 5.7 1 5.7 1.2 5.7 1.5 5.7 1.3 5.8 1 5.9 .9 5.8 .8" stroke="#a5d6ae"/>
<path d="M158.4 166.1l-5.9 .6-5.9 .5-6 .6-5.9 .6-5.9 .8-5.8 1-5.7 1.7-5.3 2.8-4.9 3.4-4.4 3.9-4 4.3-3.8 4.6-3.3 4.9-2.3 5.4-.8 5.9 .9 5.9 2.6 5.3 4 4.4 4.9 3.2 5.4 2.4 5.6 2 5.8 1.3 5.8 1 5.8 1.3 5.7 1.5 5.8 1.4 5.8 1 5.9 .9 5.9 .8" stroke="#4690c1"/>
<path d="M158.4 165.6l-6 .6-6 .5-5.9 .6-6 .6-6 .7-5.9 1.1-5.8 1.7-5.2 2.8-4.9 3.4-4.5 4-4.1 4.4-3.7 4.6-3.3 5-2.3 5.5-.8 6 .9 5.9 2.5 5.4 4 4.4 5 3.3 5.5 2.4 5.6 2 5.8 1.4 5.9 1.1 5.8 1.3 5.8 1.5 5.8 1.4 5.9 1 6 1 5.9 .8" stroke="#d62f26"/>
<path d="M158.4 165.1l-6 .6-6.1 .5-6 .5-6 .6-6.1 .8-5.9 1-5.9 1.7-5.3 2.9-4.9 3.5-4.5 4-4.1 4.4-3.8 4.7-3.3 5.1-2.3 5.6-.8 6 .9 6 2.5 5.4 4.1 4.5 5 3.3 5.5 2.5 5.7 2 5.9 1.4 5.9 1.2 5.9 1.3 5.8 1.6 5.8 1.4 6 1.1 6 .9 6 .9" stroke="#f68c4e"/>
<path d="M158.4 164.6l-6.1 .5-6.1 .5-6.1 .6-6.1 .6-6.1 .7-6 1.1-5.9 1.7-5.3 2.9-5 3.6-4.5 4-4.1 4.5-3.8 4.8-3.3 5.1-2.4 5.6-.7 6.1 .8 6 2.6 5.6 4 4.5 5.1 3.4 5.5 2.5 5.8 2.1 5.9 1.4 6 1.2 5.9 1.4 5.8 1.6 6 1.5 6 1.1 6 .9 6.1 .9" stroke="#fed894"/>
<path d="M158.4 164.1l-6.1 .5-6.2 .5-6.2 .5-6.1 .6-6.2 .8-6.1 1-5.9 1.8-5.4 2.9-5 3.6-4.5 4.2-4.2 4.5-3.8 4.8-3.3 5.2-2.3 5.7-.8 6.1 .9 6.1 2.5 5.6 4.1 4.6 5.1 3.5 5.6 2.5 5.8 2.1 5.9 1.5 6.1 1.2 5.9 1.4 5.9 1.7 6 1.5 6.1 1.1 6.1 1 6.1 .9" stroke="#f2f8c4"/>
<path d="M158.4 163.6l-6.2 .5-6.2 .5-6.2 .5-6.3 .6-6.2 .7-6.1 1.1-6 1.7-5.4 3-5.1 3.7-4.6 4.2-4.1 4.6-3.8 4.9-3.4 5.2-2.3 5.8-.8 6.1 .9 6.2 2.5 5.7 4.2 4.6 5.1 3.5 5.6 2.6 5.8 2.1 6.1 1.6 6 1.2 6.1 1.5 5.9 1.7 6 1.6 6.2 1.1 6.1 1 6.2 .9" stroke="#a5d6ae"/>
<path d="M158.4 163.1l-6.3 .5-6.2 .5-6.3 .5-6.3 .5-6.2 .8-6.3 1-6 1.8-5.5 3-5.1 3.7-4.6 4.3-4.1 4.6-3.9 5-3.3 5.3-2.3 5.8-.8 6.3 .8 6.2 2.6 5.7 4.1 4.7 5.1 3.6 5.7 2.6 5.9 2.2 6.1 1.5 6.1 1.3 6.1 1.6 6 1.7 6.1 1.6 6.1 1.2 6.3 1 6.2 .9" stroke="#4690c1"/>
<path d="M158.4 162.6l-6.3 .5-6.4 .4-6.3 .5-6.3 .6-6.3 .7-6.3 1-6.1 1.8-5.5 3.1-5.2 3.8-4.6 4.3-4.2 4.7-3.8 5-3.4 5.4-2.3 5.9-.8 6.3 .8 6.3 2.6 5.7 4.2 4.8 5.1 3.6 5.8 2.7 5.9 2.2 6.1 1.6 6.2 1.4 6.1 1.5 6.1 1.8 6.1 1.7 6.2 1.2 6.3 1 6.3 1" stroke="#d62f26"/>
<path d="M158.4 162.1l-6.4 .5-6.4 .4-6.4 .5-6.4 .5-6.3 .7-6.4 1.1-6.1 1.8-5.6 3.1-5.2 3.8-4.6 4.4-4.2 4.8-3.9 5.1-3.3 5.4-2.4 6-.8 6.3 .9 6.3 2.6 5.9 4.1 4.8 5.2 3.7 5.8 2.7 6 2.3 6.2 1.6 6.2 1.4 6.2 1.6 6 1.9 6.2 1.6 6.3 1.2 6.4 1.1 6.3 1" stroke="#f68c4e"/>
<path d="M158.4 161.6l-6.4 .5-6.5 .4-6.5 .5-6.4 .5-6.4 .7-6.4 1-6.2 1.9-5.7 3.1-5.1 3.9-4.7 4.4-4.2 4.9-3.9 5.1-3.4 5.5-2.3 6-.8 6.4 .8 6.4 2.6 5.9 4.2 4.9 5.2 3.7 5.8 2.8 6.1 2.3 6.2 1.7 6.3 1.4 6.2 1.6 6.1 2 6.3 1.7 6.3 1.2 6.4 1 6.4 1.1" stroke="#fed894"/>
<path d="M158.4 161.1l-6.5 .4-6.5 .5-6.5 .4-6.5 .5-6.5 .7-6.5 1.1-6.3 1.8-5.6 3.2-5.2 3.9-4.7 4.5-4.2 5-3.9 5.2-3.4 5.5-2.4 6.1-.8 6.4 .8 6.5 2.6 6 4.2 4.9 5.3 3.8 5.9 2.8 6.1 2.3 6.2 1.8 6.4 1.4 6.2 1.7 6.2 2 6.3 1.7 6.4 1.3 6.4 1 6.5 1.1" stroke="#f2f8c4"/>
<path d="M158.4 160.6l-6.6 .4-6.5 .4-6.6 .5-6.6 .5-6.5 .7-6.5 1-6.4 1.9-5.7 3.2-5.2 4-4.7 4.5-4.3 5-3.9 5.3-3.4 5.6-2.3 6.1-.9 6.6 .9 6.5 2.6 6 4.2 5 5.3 3.8 5.9 2.9 6.1 2.4 6.4 1.7 6.4 1.5 6.3 1.8 6.2 2 6.3 1.7 6.5 1.3 6.5 1.1 6.5 1.1" stroke="#a5d6ae"/>
<path d="M158.4 160.1l-6.6 .4-6.7 .4-6.6 .4-6.6 .6-6.6 .6-6.6 1.1-6.4 1.8-5.7 3.3-5.3 4-4.7 4.7-4.3 5-3.9 5.3-3.4 5.7-2.4 6.2-.8 6.6 .8 6.6 2.6 6 4.3 5.1 5.3 3.9 5.9 2.9 6.2 2.4 6.4 1.8 6.4 1.5 6.4 1.8 6.3 2.1 6.4 1.8 6.5 1.3 6.5 1.1 6.6 1.1" stroke="#4690c1"/>
<path d="M158.4 159.6l-6.7 .4-6.7 .4-6.7 .4-6.7 .5-6.6 .7-6.7 1-6.4 1.9-5.8 3.3-5.3 4.1-4.8 4.7-4.2 5.1-4 5.4-3.4 5.7-2.4 6.3-.8 6.6 .8 6.6 2.6 6.2 4.3 5.1 5.4 4 6 2.9 6.2 2.5 6.4 1.8 6.5 1.6 6.4 1.8 6.4 2.1 6.4 1.8 6.6 1.4 6.6 1.1 6.6 1.1" stroke="#d62f26"/>
<path d="M158.4 159.1l-6.7 .4-6.8 .4-6.7 .4-6.8 .5-6.7 .6-6.7 1.1-6.5 1.8-5.8 3.4-5.4 4.2-4.8 4.7-4.3 5.2-3.9 5.4-3.5 5.8-2.3 6.3-.9 6.7 .8 6.7 2.7 6.2 4.3 5.2 5.4 4 6 3 6.3 2.5 6.5 1.9 6.5 1.6 6.5 1.8 6.3 2.2 6.5 1.9 6.6 1.3 6.7 1.2 6.7 1.1" stroke="#f68c4e"/>
<path d="M158.4 158.6l-6.8 .4-6.8 .3-6.8 .4-6.8 .5-6.8 .6-6.8 1.1-6.5 1.9-5.9 3.5-5.4 4.1-4.8 4.8-4.3 5.2-4 5.6-3.4 5.8-2.4 6.4-.8 6.8 .8 6.7 2.6 6.3 4.3 5.2 5.5 4.1 6 3 6.4 2.5 6.5 1.9 6.6 1.7 6.5 1.9 6.4 2.2 6.6 1.9 6.6 1.4 6.8 1.2 6.7 1.1" stroke="#fed894"/>
<path d="M158.4 158.1l-6.9 .4-6.8 .3-6.9 .4-6.9 .5-6.8 .6-6.8 1-6.6 2-5.9 3.5-5.5 4.2-4.8 4.8-4.3 5.3-4 5.6-3.5 5.9-2.4 6.5-.8 6.8 .8 6.8 2.6 6.3 4.4 5.3 5.5 4.1 6.1 3.1 6.4 2.6 6.5 1.9 6.7 1.7 6.5 2 6.5 2.2 6.6 2 6.7 1.4 6.8 1.1 6.8 1.2" stroke="#f2f8c4"/>
<path d="M158.4 157.6l-6.9 .3-7 .4-6.9 .4-6.9 .4-6.9 .6-6.9 1.1-6.6 1.9-6 3.6-5.4 4.2-4.9 4.9-4.4 5.4-4 5.6-3.4 6-2.4 6.5-.9 6.9 .8 6.9 2.7 6.3 4.4 5.4 5.4 4.2 6.2 3.1 6.4 2.6 6.7 2 6.7 1.7 6.6 2 6.5 2.3 6.6 2 6.8 1.4 6.9 1.2 6.8 1.2" stroke="#a5d6ae"/>
<path d="M158.4 157.1l-7 .3-7 .4-7 .3-6.9 .5-7 .6-6.9 1-6.7 2-6 3.6-5.5 4.3-4.9 4.9-4.4 5.5-4 5.7-3.5 6-2.4 6.6-.8 6.9 .8 7 2.6 6.4 4.4 5.4 5.5 4.2 6.2 3.2 6.5 2.6 6.7 2.1 6.7 1.7 6.7 2.1 6.6 2.3 6.7 2.1 6.8 1.4 6.9 1.2 6.9 1.2" stroke="#4690c1"/>
<path d="M158.4 156.6l-7 .3-7.1 .3-7 .4-7.1 .4-7 .6-7 1.1-6.8 1.9-6 3.7-5.5 4.3-4.9 5.1-4.4 5.5-4 5.7-3.5 6.1-2.4 6.6-.9 7 .8 7 2.7 6.5 4.4 5.5 5.5 4.3 6.3 3.2 6.5 2.7 6.7 2 6.8 1.9 6.7 2 6.7 2.4 6.7 2.1 6.9 1.5 6.9 1.2 7 1.2" stroke="#d62f26"/>
<path d="M158.4 156.1l-7.1 .3-7.1 .3-7.1 .3-7.1 .5-7.1 .6-7 1-6.9 2-6 3.7-5.6 4.4-4.9 5.1-4.4 5.5-4.1 5.9-3.5 6.1-2.4 6.7-.9 7.1 .8 7 2.7 6.6 4.4 5.5 5.6 4.3 6.3 3.3 6.6 2.7 6.8 2.1 6.8 1.9 6.8 2.1 6.6 2.4 6.8 2.1 7 1.5 7 1.3 7 1.2" stroke="#f68c4e"/>
<path d="M158.4 155.6l-7.2 .3-7.1 .3-7.2 .3-7.2 .4-7.1 .6-7.1 1.1-6.9 2-6.1 3.7-5.6 4.4-5 5.2-4.4 5.6-4 5.9-3.6 6.2-2.4 6.8-.8 7.1 .7 7.1 2.7 6.6 4.5 5.6 5.6 4.4 6.4 3.3 6.6 2.8 6.8 2.1 6.9 1.9 6.8 2.2 6.7 2.4 6.9 2.2 7 1.5 7 1.3 7.1 1.2" stroke="#fed894"/>
<path d="M158.4 155l-7.2 .4-7.2 .3-7.3 .3-7.2 .4-7.2 .6-7.2 1-6.9 2-6.1 3.8-5.7 4.5-5 5.2-4.4 5.7-4.1 5.9-3.5 6.3-2.4 6.8-.9 7.2 .8 7.2 2.7 6.6 4.4 5.7 5.7 4.5 6.4 3.3 6.7 2.8 6.8 2.2 7 1.9 6.9 2.2 6.7 2.5 6.9 2.2 7.1 1.6 7.1 1.3 7.1 1.2" stroke="#f2f8c4"/>
<path d="M158.4 154.5l-7.3 .4-7.3 .2-7.2 .3-7.3 .4-7.3 .6-7.2 1-7 2.1-6.2 3.8-5.7 4.5-5 5.3-4.4 5.8-4.1 6-3.6 6.3-2.4 6.9-.9 7.2 .8 7.3 2.7 6.7 4.5 5.7 5.7 4.5 6.4 3.4 6.7 2.8 7 2.3 7 1.9 6.9 2.3 6.8 2.6 6.9 2.2 7.1 1.5 7.2 1.4 7.2 1.2" stroke="#a5d6ae"/>
<path d="M158.4 154l-7.3 .3-7.4 .3-7.3 .3-7.4 .4-7.3 .5-7.3 1.1-7 2-6.3 3.9-5.7 4.6-5 5.3-4.5 5.8-4.1 6.1-3.5 6.4-2.4 7-.9 7.2 .7 7.3 2.7 6.8 4.6 5.8 5.7 4.6 6.5 3.4 6.7 2.9 7 2.2 7.1 2.1 6.9 2.2 6.9 2.7 7 2.2 7.1 1.6 7.3 1.3 7.2 1.3" stroke="#4690c1"/>
<path d="M158.4 153.5l-7.4 .3-7.4 .3-7.4 .3-7.4 .3-7.4 .6-7.3 1-7.1 2.1-6.3 3.9-5.7 4.7-5.1 5.3-4.5 5.9-4.1 6.2-3.6 6.4-2.4 7-.9 7.4 .8 7.3 2.7 6.9 4.5 5.8 5.8 4.6 6.5 3.5 6.8 2.9 7 2.3 7.1 2.1 7.1 2.3 6.9 2.7 7 2.3 7.2 1.6 7.3 1.3 7.3 1.3" stroke="#d62f26"/>
<path d="M158.4 153l-7.5 .3-7.4 .2-7.5 .3-7.4 .4-7.5 .5-7.4 1.1-7.1 2.1-6.4 3.9-5.7 4.7-5.1 5.5-4.5 5.9-4.2 6.2-3.5 6.5-2.5 7.1-.8 7.4 .7 7.4 2.7 6.9 4.6 5.9 5.8 4.7 6.5 3.5 6.9 3 7.1 2.3 7.1 2.1 7.1 2.4 6.9 2.7 7.1 2.3 7.3 1.6 7.4 1.4 7.3 1.3" stroke="#f68c4e"/>
<path d="M158.4 152.5l-7.5 .3-7.5 .2-7.6 .3-7.5 .3-7.5 .6-7.4 1-7.3 2.1-6.3 4-5.8 4.8-5.1 5.5-4.6 6-4.1 6.2-3.6 6.7-2.4 7-.9 7.5 .7 7.5 2.7 7 4.6 5.9 5.9 4.7 6.6 3.6 6.9 3 7.1 2.4 7.2 2.1 7.1 2.4 7 2.8 7.2 2.4 7.3 1.6 7.4 1.4 7.4 1.3" stroke="#fed894"/>
<path d="M158.4 152l-7.6 .3-7.6 .2-7.5 .2-7.6 .4-7.6 .5-7.5 1.1-7.3 2.1-6.4 4-5.8 4.8-5.1 5.6-4.6 6-4.1 6.4-3.6 6.7-2.5 7.1-.9 7.5 .7 7.6 2.8 7 4.6 6 5.8 4.8 6.7 3.6 7 3 7.1 2.4 7.3 2.2 7.2 2.5 7 2.8 7.2 2.4 7.4 1.7 7.4 1.4 7.5 1.3" stroke="#f2f8c4"/>
<path d="M158.4 151.5l-7.6 .3-7.7 .2-7.6 .2-7.7 .3-7.6 .6-7.5 1-7.4 2.1-6.4 4.1-5.9 4.9-5.2 5.6-4.5 6.1-4.2 6.4-3.6 6.8-2.5 7.2-.8 7.6 .7 7.5 2.7 7.1 4.7 6.1 5.8 4.8 6.7 3.7 7 3.1 7.3 2.4 7.3 2.2 7.2 2.5 7.1 2.9 7.2 2.4 7.5 1.8 7.5 1.4 7.5 1.3" stroke="#a5d6ae"/>
<path d="M158.4 151l-7.7 .3-7.7 .1-7.7 .3-7.7 .3-7.7 .5-7.6 1-7.4 2.2-6.5 4.1-5.9 4.9-5.2 5.7-4.5 6.2-4.2 6.5-3.7 6.8-2.4 7.2-.9 7.7 .7 7.6 2.8 7.2 4.6 6.1 5.9 4.9 6.8 3.7 7 3.1 7.3 2.5 7.4 2.3 7.2 2.5 7.2 2.9 7.3 2.5 7.5 1.7 7.5 1.5 7.6 1.3" stroke="#4690c1"/>
</g>
<g filter="url(#soft)"><path d="M58.8,189.2 L60.5,186.3 L62.9,182.2 L65.6,177.6 L67.9,173.4 L69.5,169.6 L70.9,165.8 L72.4,162.5 L74.7,159.8 L78.1,158.0 L82.2,156.8 L86.5,156.2 L90.5,156.4 L94.5,157.5 L98.6,159.3 L102.0,161.7 L104.1,164.4 L104.4,167.6 L103.5,171.5 L101.8,175.2 L99.6,177.9 L96.8,179.2 L93.2,179.5 L89.4,179.6 L86.0,180.2 L83.1,181.7 L80.5,183.6 L77.8,185.5 L74.7,187.0 L70.7,187.9 L66.1,188.5 L61.8,188.9 L58.8,189.2Z" fill="#d8412f" /></g><g filter="url(#soft2)"><path d="M69.3,182.2 L70.2,180.6 L71.5,178.3 L73.0,175.8 L74.3,173.5 L75.2,171.4 L75.9,169.3 L76.7,167.4 L78.0,166.0 L79.8,165.0 L82.1,164.3 L84.5,164.0 L86.7,164.1 L88.9,164.7 L91.1,165.7 L93.0,167.0 L94.2,168.5 L94.4,170.3 L93.9,172.4 L92.9,174.5 L91.7,176.0 L90.1,176.6 L88.2,176.8 L86.1,176.9 L84.2,177.2 L82.6,178.0 L81.2,179.1 L79.7,180.1 L78.0,180.9 L75.8,181.5 L73.2,181.8 L70.9,182.0 L69.3,182.2Z" fill="#f6b478" /></g>
<g filter="url(#soft)"><path d="M215.0,72.4 L219.7,69.9 L226.4,66.3 L234.0,62.1 L241.2,57.9 L248.3,53.1 L255.6,47.6 L262.5,42.8 L267.9,39.8 L271.7,39.3 L274.4,40.5 L276.0,42.7 L277.0,45.3 L276.7,48.3 L275.3,52.0 L273.7,56.1 L272.9,60.2 L273.4,64.4 L274.7,68.9 L275.9,73.2 L276.1,76.9 L274.9,79.9 L272.9,82.4 L270.4,84.4 L267.9,86.0 L265.3,86.9 L262.5,87.1 L259.7,87.4 L257.0,88.2 L254.6,90.0 L252.3,92.2 L250.1,94.7 L248.0,97.3 L246.2,99.9 L244.5,102.6 L242.9,105.6 L241.2,109.1 L239.4,113.3 L237.6,118.0 L235.8,122.8 L234.0,127.2 L232.4,130.9 L231.0,134.3 L229.4,137.4 L227.2,140.3 L223.8,143.9 L219.5,147.9 L215.5,150.4 L212.7,149.3 L211.8,143.2 L212.1,133.2 L212.7,122.3 L212.7,113.1 L211.6,106.4 L210.0,100.7 L208.6,95.5 L208.2,90.5 L209.2,85.2 L211.3,80.0 L213.5,75.6 L215.0,72.4Z" fill="#dc4a30" /></g><g filter="url(#soft2)"><path d="M244.4,58.8 L248.4,56.4 L254.1,52.7 L260.1,49.6 L264.7,48.9 L267.7,51.7 L269.7,56.8 L270.9,62.7 L271.5,67.9 L271.4,72.3 L270.5,76.6 L269.0,80.5 L267.0,83.7 L264.2,86.3 L260.8,88.3 L257.0,89.5 L253.4,89.6 L249.6,88.4 L245.5,86.0 L242.0,82.9 L239.9,79.2 L239.8,74.3 L241.3,68.4 L243.1,62.7 L244.4,58.8Z" fill="#f6b27a" /><path d="M251.2,63.4 L253.4,62.0 L256.6,59.9 L259.9,58.2 L262.5,57.9 L264.1,59.8 L265.4,63.1 L266.0,66.9 L266.1,70.1 L265.3,72.9 L263.8,75.6 L262.0,77.8 L260.2,79.2 L258.5,79.7 L256.6,79.5 L254.8,78.6 L253.4,76.9 L252.5,74.0 L251.9,70.0 L251.5,66.1 L251.2,63.4Z" fill="#f9dca0" /></g>
<g fill="none" stroke-width="2.53" stroke-linejoin="round">
<path d="M80 135.3l6.5-.2 6.4-.2 6.5-.3 6.4-.7 6.4-.9 6.4-1.2 6.3-1.5 6.1-1.9 6.1-2.3 6-2.4 6-2.5 6-2.5 5.9-2.5 6-2.5 6-2.3 6.1-2.1 6.3-1.5 6.3-.6 6.4 .4 5.9 2.4 3 5.3-2.6 5.8-5 4-5.7 3.1-5.8 2.9-5.8 2.7-5.9 2.8-5.8 2.9-5.7 3-5.6 3.2-5.5 3.5-5.4 3.6-5.1 4-4.8 4.3-4.6 4.5-4.2 5-3.6 5.4-3 5.7-3 5.7" stroke="#4690c1"/>
<path d="M80 134.7l6.6-.1 6.6-.3 6.6-.4 6.5-.8 6.4-1.2 6.5-1.3 6.3-1.7 6.2-2 6.2-2.4 6.1-2.5 6.1-2.6 6.1-2.5 6.1-2.5 6.1-2.4 6.2-2.1 6.2-1.9 6.3-1.4 6.5-.3 6.3 .8 5.7 2.7 2.8 5.5-2.6 6-5 4.2-5.7 3.2-5.9 3-6 2.8-5.9 2.8-5.9 3-5.9 3-5.7 3.3-5.6 3.5-5.4 3.8-5.2 4-5 4.4-4.6 4.7-4.2 5.1-3.5 5.5-3.1 5.9-2.9 5.9" stroke="#a5d6ae"/>
<path d="M80 134.2l6.7-.2 6.7-.2 6.7-.6 6.6-1 6.5-1.3 6.5-1.5 6.4-1.9 6.3-2.2 6.3-2.5 6.1-2.6 6.2-2.6 6.3-2.5 6.2-2.5 6.3-2.3 6.3-2 6.4-1.7 6.4-1.1 6.5 0 6.3 1.1 5.4 3.1 2.7 5.7-2.5 6.1-5.1 4.3-5.8 3.4-6 3-6 2.9-6.1 2.9-6 3-6 3.1-5.8 3.3-5.7 3.6-5.5 3.9-5.3 4.1-5 4.5-4.6 4.9-4.2 5.2-3.5 5.7-3.1 6-2.9 6" stroke="#f2f8c4"/>
<path d="M80 133.7l6.8-.2 6.9-.3 6.8-.7 6.6-1.1 6.7-1.5 6.5-1.7 6.5-2 6.3-2.4 6.3-2.6 6.3-2.7 6.3-2.7 6.4-2.5 6.3-2.5 6.4-2.2 6.5-1.9 6.5-1.5 6.6-.9 6.5 .3 6.2 1.6 5.3 3.3 2.6 5.9-2.6 6.2-5.1 4.5-5.8 3.5-6.1 3.2-6.2 2.9-6.1 3-6.2 3.1-6.1 3.1-5.9 3.4-5.8 3.7-5.6 3.9-5.3 4.3-5.1 4.6-4.6 5-4.2 5.3-3.6 5.9-3 6.1-2.9 6.2" stroke="#fed894"/>
<path d="M80 133.2l7-.3 6.9-.3 6.9-.7 6.8-1.4 6.7-1.6 6.6-1.9 6.5-2.2 6.4-2.5 6.4-2.8 6.4-2.7 6.4-2.8 6.5-2.5 6.5-2.5 6.5-2.1 6.7-1.8 6.6-1.3 6.7-.6 6.6 .6 6.1 1.9 5.1 3.7 2.4 6.1-2.6 6.3-5.1 4.7-5.9 3.6-6.2 3.2-6.2 3.1-6.3 3-6.2 3.1-6.2 3.2-6.1 3.5-5.8 3.7-5.7 4-5.5 4.4-5.1 4.7-4.7 5.1-4.2 5.6-3.5 5.9-3 6.3-2.9 6.3" stroke="#f68c4e"/>
<path d="M80 132.7l7.1-.3 7.1-.4 7-.8 6.8-1.5 6.8-1.8 6.7-2.1 6.5-2.3 6.5-2.7 6.5-2.9 6.5-2.9 6.5-2.8 6.6-2.6 6.6-2.4 6.7-2 6.8-1.7 6.8-1.1 6.8-.3 6.6 .9 6.1 2.2 4.9 4 2.2 6.3-2.6 6.5-5.1 4.8-6 3.8-6.2 3.3-6.4 3.1-6.3 3.1-6.4 3.2-6.3 3.2-6.2 3.5-5.9 3.9-5.8 4.1-5.5 4.4-5.2 4.9-4.7 5.2-4.2 5.7-3.6 6.1-3 6.4-2.8 6.4" stroke="#d62f26"/>
<path d="M80 132.1l7.2-.3 7.2-.4 7.1-.9 7-1.6 6.8-2 6.7-2.2 6.7-2.6 6.5-2.9 6.6-2.9 6.5-3 6.6-2.9 6.8-2.6 6.8-2.3 6.8-2.1 6.9-1.4 7-1 6.9-.1 6.6 1.2 6 2.6 4.8 4.4 2 6.5-2.6 6.6-5 5-6.1 3.8-6.4 3.4-6.4 3.3-6.5 3.1-6.4 3.3-6.5 3.2-6.3 3.6-6 3.9-5.9 4.2-5.5 4.6-5.3 4.9-4.8 5.4-4.2 5.8-3.5 6.3-3 6.5-2.9 6.6" stroke="#4690c1"/>
<path d="M80 131.6l7.3-.3 7.3-.5 7.3-1 7-1.8 6.9-2.1 6.8-2.4 6.7-2.8 6.6-3 6.6-3.1 6.7-3 6.7-3 6.9-2.6 6.9-2.3 7-2 7.1-1.3 7-.7 7.1 .1 6.7 1.5 5.9 3 4.6 4.7 1.9 6.6-2.7 6.7-5 5.2-6.2 4-6.4 3.5-6.6 3.3-6.5 3.2-6.6 3.3-6.6 3.3-6.3 3.6-6.2 4-5.9 4.3-5.7 4.7-5.3 5-4.8 5.6-4.2 5.9-3.5 6.4-3 6.7-2.9 6.7" stroke="#a5d6ae"/>
<path d="M80 131.1l7.5-.3 7.4-.6 7.3-1.1 7.1-1.9 7-2.3 6.9-2.6 6.8-2.9 6.6-3.2 6.7-3.2 6.8-3.2 6.8-3 7-2.6 7-2.3 7.2-1.9 7.2-1.2 7.2-.5 7.1 .3 6.8 1.9 5.9 3.3 4.4 5 1.7 6.8-2.7 6.9-5 5.4-6.2 4.1-6.6 3.5-6.6 3.4-6.7 3.4-6.7 3.3-6.6 3.3-6.5 3.7-6.3 4.1-6 4.4-5.7 4.7-5.4 5.2-4.8 5.6-4.2 6.2-3.6 6.5-2.9 6.8-2.9 6.9" stroke="#f2f8c4"/>
<path d="M80 130.6l7.6-.4 7.5-.6 7.5-1.2 7.2-2 7-2.6 7-2.7 6.8-3.1 6.7-3.3 6.8-3.4 6.8-3.2 7-3.1 7.1-2.6 7.2-2.3 7.3-1.8 7.3-1.1 7.4-.3 7.2 .6 6.8 2.1 5.8 3.7 4.2 5.4 1.6 7-2.7 7-5 5.5-6.3 4.2-6.6 3.7-6.8 3.5-6.7 3.4-6.8 3.3-6.8 3.4-6.6 3.7-6.4 4.2-6.1 4.5-5.8 4.9-5.4 5.2-4.9 5.8-4.2 6.3-3.5 6.7-3 6.9-2.8 7" stroke="#fed894"/>
<path d="M80 130.1l7.7-.4 7.7-.6 7.5-1.4 7.3-2.2 7.1-2.7 7-2.9 6.9-3.2 6.8-3.5 6.9-3.5 6.9-3.3 7.1-3.1 7.2-2.7 7.3-2.3 7.5-1.7 7.5-.9 7.5-.2 7.3 .9 6.9 2.4 5.7 4 4 5.7 1.4 7.2-2.7 7.2-5 5.7-6.3 4.3-6.8 3.7-6.8 3.6-6.9 3.5-6.9 3.4-6.9 3.4-6.7 3.8-6.4 4.2-6.2 4.6-5.9 5-5.5 5.4-4.9 5.9-4.2 6.4-3.5 6.8-3 7.1-2.8 7.2" stroke="#f68c4e"/>
<path d="M80 129.5l7.8-.4 7.8-.6 7.7-1.4 7.4-2.4 7.1-2.9 7.1-3.1 7-3.4 6.8-3.7 6.9-3.6 7.1-3.4 7.1-3.1 7.4-2.8 7.5-2.2 7.5-1.6 7.7-.8 7.6 0 7.5 1.1 6.9 2.7 5.7 4.5 3.8 6 1.2 7.4-2.6 7.2-5.1 5.9-6.4 4.4-6.8 3.9-6.9 3.6-7 3.6-7 3.5-7.1 3.4-6.8 3.9-6.5 4.3-6.3 4.7-6 5-5.5 5.5-5 6.1-4.2 6.5-3.5 7-2.9 7.2-2.8 7.3" stroke="#d62f26"/>
<path d="M80 129l7.9-.4 8-.7 7.7-1.5 7.5-2.6 7.2-3 7.2-3.3 7-3.6 6.9-3.8 7-3.7 7.2-3.5 7.2-3.2 7.5-2.8 7.6-2.2 7.7-1.5 7.9-.7 7.7 .2 7.6 1.4 6.9 3 5.6 4.8 3.7 6.3 1.1 7.6-2.7 7.4-5.1 6-6.5 4.6-6.9 3.9-7 3.8-7.1 3.6-7.1 3.5-7.1 3.5-7 3.9-6.6 4.4-6.4 4.8-6 5.2-5.6 5.5-5 6.2-4.2 6.8-3.5 7.1-3 7.3-2.7 7.5" stroke="#4690c1"/>
<path d="M80 128.5l8.1-.5 8-.7 7.9-1.6 7.5-2.7 7.4-3.2 7.2-3.4 7-3.8 7-4 7.1-3.8 7.2-3.6 7.4-3.3 7.6-2.8 7.7-2.1 7.9-1.5 8-.6 7.9 .5 7.7 1.5 7 3.4 5.5 5.1 3.5 6.7 .9 7.8-2.7 7.5-5.1 6.2-6.5 4.7-7 4-7.1 3.8-7.2 3.7-7.3 3.6-7.2 3.5-7.1 4-6.7 4.4-6.4 4.9-6.1 5.3-5.8 5.7-4.9 6.3-4.2 6.9-3.6 7.2-2.9 7.5-2.7 7.6" stroke="#a5d6ae"/>
<path d="M80 128l8.2-.5 8.1-.8 8-1.7 7.7-2.8 7.4-3.4 7.3-3.6 7.1-4 7-4.1 7.2-4 7.3-3.7 7.5-3.3 7.7-2.8 7.9-2.1 8-1.4 8.1-.4 8.1 .6 7.8 1.8 7 3.6 5.5 5.5 3.3 7 .7 8-2.7 7.7-5.1 6.3-6.6 4.8-7.1 4.2-7.2 3.8-7.3 3.8-7.3 3.6-7.4 3.6-7.1 4-6.9 4.6-6.5 4.9-6.2 5.4-5.8 5.8-5 6.5-4.2 7-3.5 7.4-2.9 7.6-2.7 7.8" stroke="#f2f8c4"/>
<path d="M80 127.5l8.3-.6 8.3-.8 8.1-1.8 7.7-3 7.5-3.5 7.3-3.8 7.2-4.2 7.1-4.3 7.2-4 7.5-3.8 7.5-3.4 7.9-2.8 8-2.1 8.2-1.3 8.3-.3 8.1 .8 8 2.1 7 3.9 5.5 5.9 3.1 7.3 .5 8.1-2.7 7.8-5.1 6.6-6.6 4.9-7.2 4.2-7.3 4-7.4 3.8-7.5 3.7-7.5 3.6-7.2 4.1-7 4.6-6.6 5.1-6.2 5.4-5.9 6-5 6.6-4.2 7.1-3.5 7.6-2.9 7.8-2.8 7.8" stroke="#fed894"/>
<path d="M80 127l8.4-.6 8.4-.9 8.2-1.9 7.8-3.1 7.6-3.7 7.4-4 7.2-4.3 7.2-4.5 7.3-4.2 7.5-3.8 7.7-3.5 8-2.9 8.2-2 8.3-1.2 8.4-.2 8.3 1 8 2.3 7.2 4.3 5.3 6.2 2.9 7.7 .4 8.3-2.7 7.9-5.1 6.7-6.7 5.1-7.3 4.3-7.4 4-7.5 3.9-7.5 3.8-7.7 3.6-7.3 4.2-7 4.6-6.7 5.2-6.4 5.6-5.9 6-5.1 6.7-4.1 7.4-3.6 7.6-2.9 8-2.7 8" stroke="#f68c4e"/>
<path d="M80 126.4l8.6-.5 8.5-.9 8.3-2 7.9-3.3 7.6-4 7.5-4.1 7.3-4.5 7.2-4.6 7.4-4.3 7.6-3.9 7.8-3.6 8.1-2.9 8.3-2 8.5-1.1 8.5-.1 8.5 1.2 8.1 2.6 7.2 4.5 5.3 6.6 2.7 8 .3 8.5-2.8 8.1-5 6.9-6.9 5.1-7.3 4.4-7.5 4.2-7.6 3.9-7.7 3.8-7.7 3.7-7.5 4.2-7.1 4.8-6.8 5.2-6.4 5.7-6 6.2-5.1 6.8-4.2 7.5-3.5 7.8-2.9 8.1-2.7 8.1" stroke="#d62f26"/>
</g>
<g fill="none" stroke-width="1.83" stroke-linejoin="round">
<path d="M127.6 252.7l5.9 .3 5.9 .2 5.8 0 5.9-.5 5.7-1.2 5.6-1.9 5.4-2.3 5.3-2.4 5.4-2.5 5.4-2.3 5.6-1.7 4.9 2 1 5.7-.6 5.8-1.5 5.6-2.3 5.5-1.7 5.6 2 5 5.6 1.5 5.9 .8 5.6 1.6 2.8 4.9 1 5.7 5.4 1.1 5.6-1.8 5.4-2.4 5.1-2.9 4.8-3.4 4.8-3.3 5.1-2.9 5.6-1.7 5.9-.6 5.8 .1 5.8 1.1 5.1 2.8 1.8 5.4 0 5.9 .3 5.9 .5 5.8 .4 5.9 .3 5.8 .4 5.9 .3 5.9" stroke="#d62f26"/>
<path d="M126.9 254l5.8 .3 5.9 .3 5.9 0 5.8-.5 5.8-1.2 5.5-2 5.4-2.2 5.4-2.5 5.3-2.4 5.4-2.3 5.6-1.7 5 1.9 1 5.7-.6 5.9-1.6 5.6-2.3 5.4-1.6 5.6 2 5 5.6 1.6 5.8 .8 5.6 1.5 2.8 4.9 1 5.8 5.5 1.1 5.6-1.8 5.3-2.4 5.1-2.9 4.8-3.4 4.9-3.4 5.1-2.9 5.6-1.6 5.8-.7 5.9 .2 5.8 1.1 5 2.8 1.9 5.4 0 5.9 .2 5.8 .5 5.9 .4 5.8 .4 5.9 .3 5.9 .4 5.8" stroke="#f68c4e"/>
<path d="M126.1 255.4l5.9 .3 5.8 .3 5.9 0 5.9-.5 5.7-1.3 5.6-1.9 5.4-2.3 5.3-2.4 5.3-2.5 5.5-2.3 5.6-1.7 4.9 2 1 5.7-.6 5.8-1.6 5.7-2.2 5.4-1.7 5.6 2 5 5.6 1.5 5.9 .8 5.6 1.6 2.8 4.9 1 5.7 5.4 1.1 5.6-1.8 5.4-2.4 5.1-2.9 4.8-3.4 4.8-3.3 5.1-2.9 5.6-1.7 5.9-.6 5.8 .2 5.8 1 5 2.8 1.9 5.4 0 5.9 .3 5.9 .5 5.8 .4 5.9 .3 5.9 .4 5.8 .3 5.9" stroke="#fed894"/>
<path d="M125.3 256.8l5.9 .2 5.9 .3 5.9 0 5.8-.5 5.7-1.2 5.6-1.9 5.4-2.3 5.4-2.4 5.3-2.5 5.4-2.3 5.6-1.7 5 1.9 1 5.7-.6 5.9-1.6 5.6-2.3 5.5-1.7 5.6 2.1 5 5.6 1.5 5.8 .8 5.6 1.6 2.8 4.8 1 5.8 5.5 1.1 5.5-1.8 5.4-2.4 5.1-2.9 4.8-3.4 4.9-3.3 5.1-2.9 5.6-1.7 5.8-.6 5.9 .1 5.7 1.1 5.1 2.8 1.8 5.4 .1 5.9 .2 5.9 .5 5.8 .4 5.9 .4 5.8 .3 5.9 .3 5.9" stroke="#f2f8c4"/>
<path d="M124.6 258.1l5.9 .3 5.8 .3 5.9 0 5.9-.5 5.7-1.2 5.5-2 5.5-2.2 5.3-2.5 5.3-2.5 5.4-2.3 5.7-1.6 4.9 1.9 1 5.7-.6 5.9-1.6 5.6-2.2 5.4-1.7 5.6 2 5 5.6 1.6 5.8 .8 5.7 1.5 2.7 4.9 1.1 5.8 5.4 1.1 5.6-1.9 5.4-2.3 5.1-3 4.8-3.3 4.8-3.4 5.1-2.9 5.6-1.6 5.8-.7 5.9 .2 5.8 1.1 5 2.8 1.9 5.4 0 5.8 .3 5.9 .4 5.9 .4 5.8 .4 5.9 .3 5.9 .4 5.8" stroke="#a5d6ae"/>
<path d="M123.8 259.5l5.9 .3 5.9 .3 5.8 0 5.9-.5 5.7-1.3 5.6-1.9 5.4-2.3 5.3-2.4 5.4-2.5 5.4-2.3 5.6-1.7 4.9 2 1.1 5.7-.7 5.8-1.5 5.7-2.3 5.4-1.7 5.6 2 5 5.7 1.5 5.8 .8 5.6 1.6 2.8 4.9 1 5.7 5.4 1.1 5.6-1.8 5.4-2.4 5.1-2.9 4.8-3.4 4.8-3.3 5.1-2.9 5.7-1.7 5.8-.6 5.9 .2 5.7 1 5.1 2.8 1.8 5.4 0 5.9 .3 5.9 .5 5.8 .4 5.9 .3 5.9 .4 5.8 .3 5.9" stroke="#4690c1"/>
<path d="M123.1 260.9l5.8 .2 5.9 .3 5.9 0 5.8-.5 5.8-1.2 5.5-1.9 5.4-2.3 5.4-2.5 5.3-2.4 5.4-2.3 5.6-1.7 5 1.9 1 5.7-.6 5.9-1.6 5.6-2.2 5.4-1.7 5.7 2 5 5.6 1.5 5.8 .8 5.7 1.5 2.7 4.9 1 5.8 5.5 1.1 5.6-1.8 5.3-2.4 5.1-2.9 4.8-3.4 4.9-3.4 5.1-2.8 5.6-1.7 5.8-.6 5.9 .1 5.8 1.1 5 2.8 1.9 5.4 0 5.9 .2 5.8 .5 5.9 .4 5.9 .4 5.8 .3 5.9 .4 5.9" stroke="#d62f26"/>
<path d="M122.3 262.2l5.9 .3 5.9 .3 5.8 0 5.9-.5 5.7-1.2 5.6-2 5.4-2.3 5.3-2.4 5.4-2.5 5.4-2.3 5.6-1.6 4.9 1.9 1 5.7-.6 5.8-1.5 5.7-2.3 5.4-1.7 5.6 2 5 5.6 1.6 5.9 .8 5.6 1.5 2.8 4.9 1 5.8 5.4 1 5.6-1.8 5.4-2.3 5.1-3 4.8-3.3 4.8-3.4 5.1-2.9 5.6-1.7 5.9-.6 5.8 .2 5.8 1.1 5.1 2.8 1.8 5.4 0 5.8 .3 5.9 .5 5.9 .4 5.8 .3 5.9 .4 5.9 .3 5.8" stroke="#f68c4e"/>
<path d="M121.6 263.6l5.8 .3 5.9 .3 5.9-.1 5.8-.4 5.8-1.3 5.5-1.9 5.4-2.3 5.4-2.4 5.3-2.5 5.4-2.3 5.6-1.7 5 2 1 5.7-.6 5.8-1.6 5.7-2.3 5.4-1.6 5.6 2 5 5.6 1.5 5.8 .8 5.6 1.6 2.8 4.9 1 5.7 5.5 1.1 5.6-1.8 5.3-2.4 5.1-2.9 4.8-3.4 4.9-3.3 5.1-2.9 5.6-1.7 5.8-.6 5.9 .2 5.8 1 5 2.8 1.9 5.4 0 5.9 .2 5.9 .5 5.8 .4 5.9 .4 5.9 .3 5.8 .4 5.9" stroke="#fed894"/>
<path d="M120.8 265l5.9 .2 5.8 .3 5.9 0 5.9-.5 5.7-1.2 5.5-1.9 5.5-2.3 5.3-2.5 5.3-2.4 5.4-2.3 5.7-1.7 4.9 1.9 1 5.7-.6 5.9-1.6 5.6-2.2 5.4-1.7 5.7 2 4.9 5.6 1.6 5.9 .8 5.6 1.5 2.8 4.9 1 5.8 5.4 1.1 5.6-1.8 5.4-2.4 5.1-2.9 4.8-3.4 4.8-3.4 5.1-2.8 5.6-1.7 5.9-.7 5.8 .2 5.8 1.1 5 2.8 1.9 5.4 0 5.9 .3 5.8 .5 5.9 .4 5.9 .3 5.8 .4 5.9 .3 5.9" stroke="#f2f8c4"/>
<path d="M120 266.3l5.9 .3 5.9 .3 5.9 0 5.8-.5 5.7-1.3 5.6-1.9 5.4-2.3 5.4-2.4 5.3-2.5 5.4-2.3 5.6-1.6 4.9 1.9 1.1 5.7-.6 5.8-1.6 5.7-2.3 5.4-1.7 5.6 2 5 5.7 1.6 5.8 .8 5.6 1.5 2.8 4.9 1 5.8 5.5 1 5.5-1.8 5.4-2.3 5.1-3 4.8-3.4 4.8-3.3 5.2-2.9 5.6-1.7 5.8-.6 5.9 .2 5.7 1 5.1 2.8 1.8 5.5 .1 5.8 .2 5.9 .5 5.9 .4 5.8 .4 5.9 .3 5.9 .3 5.8" stroke="#a5d6ae"/>
<path d="M119.3 267.7l5.9 .3 5.8 .2 5.9 0 5.9-.5 5.7-1.2 5.5-1.9 5.4-2.3 5.4-2.4 5.3-2.5 5.4-2.3 5.7-1.7 4.9 2 1 5.7-.6 5.8-1.6 5.6-2.2 5.5-1.7 5.6 2 5 5.6 1.5 5.8 .8 5.7 1.6 2.7 4.9 1 5.7 5.5 1.1 5.6-1.8 5.4-2.4 5-2.9 4.9-3.4 4.8-3.3 5.1-2.9 5.6-1.7 5.8-.6 5.9 .1 5.8 1.1 5 2.8 1.9 5.4 0 5.9 .2 5.9 .5 5.8 .4 5.9 .4 5.8 .3 5.9 .4 5.9" stroke="#4690c1"/>
<path d="M118.5 269l5.9 .3 5.9 .3 5.8 0 5.9-.5 5.7-1.2 5.6-2 5.4-2.2 5.3-2.5 5.4-2.4 5.4-2.3 5.6-1.7 4.9 1.9 1.1 5.7-.7 5.9-1.5 5.6-2.3 5.4-1.7 5.6 2 5 5.7 1.6 5.8 .8 5.6 1.5 2.8 4.9 1 5.8 5.4 1.1 5.6-1.8 5.4-2.4 5.1-2.9 4.8-3.4 4.8-3.4 5.1-2.9 5.7-1.6 5.8-.7 5.9 .2 5.7 1.1 5.1 2.8 1.8 5.4 0 5.9 .3 5.8 .5 5.9 .4 5.8 .3 5.9 .4 5.9 .3 5.8" stroke="#d62f26"/>
<path d="M117.8 270.4l5.8 .3 5.9 .3 5.9 0 5.8-.5 5.8-1.3 5.5-1.9 5.4-2.3 5.4-2.4 5.3-2.5 5.4-2.3 5.6-1.7 5 2 1 5.7-.6 5.8-1.6 5.7-2.2 5.4-1.7 5.6 2 5 5.6 1.5 5.8 .8 5.7 1.6 2.7 4.9 1 5.7 5.5 1.1 5.6-1.8 5.3-2.4 5.1-2.9 4.8-3.4 4.9-3.3 5.1-2.9 5.6-1.7 5.8-.6 5.9 .2 5.8 1 5 2.8 1.9 5.4 0 5.9 .2 5.9 .5 5.8 .4 5.9 .4 5.9 .3 5.8 .4 5.9" stroke="#f68c4e"/>
<path d="M117 271.8l5.9 .2 5.9 .3 5.8 0 5.9-.5 5.7-1.2 5.6-1.9 5.4-2.3 5.3-2.4 5.4-2.5 5.4-2.3 5.6-1.7 4.9 1.9 1 5.7-.6 5.9-1.5 5.6-2.3 5.5-1.7 5.6 2 5 5.6 1.5 5.9 .8 5.6 1.6 2.8 4.8 1 5.8 5.4 1.1 5.6-1.8 5.4-2.4 5.1-2.9 4.8-3.4 4.8-3.3 5.1-2.9 5.6-1.7 5.9-.6 5.8 .1 5.8 1.1 5 2.8 1.9 5.4 0 5.9 .3 5.9 .5 5.8 .4 5.9 .3 5.8 .4 5.9 .3 5.9" stroke="#fed894"/>
<path d="M116.3 273.1l5.8 .3 5.9 .3 5.9 0 5.8-.5 5.8-1.2 5.5-2 5.4-2.2 5.4-2.5 5.3-2.5 5.4-2.3 5.6-1.6 5 1.9 1 5.7-.6 5.9-1.6 5.6-2.3 5.4-1.6 5.6 2 5 5.6 1.6 5.8 .8 5.6 1.5 2.8 4.9 1 5.8 5.5 1.1 5.6-1.9 5.3-2.3 5.1-3 4.8-3.3 4.9-3.4 5.1-2.9 5.6-1.6 5.8-.7 5.9 .2 5.8 1.1 5 2.8 1.9 5.4 0 5.8 .2 5.9 .5 5.9 .4 5.8 .4 5.9 .3 5.9 .4 5.8" stroke="#f2f8c4"/>
<path d="M115.5 274.5l5.9 .3 5.8 .3 5.9 0 5.9-.5 5.7-1.3 5.5-1.9 5.5-2.3 5.3-2.4 5.3-2.5 5.4-2.3 5.7-1.7 4.9 2 1 5.7-.6 5.8-1.6 5.7-2.2 5.4-1.7 5.6 2 5 5.6 1.5 5.8 .8 5.7 1.6 2.8 4.9 1 5.7 5.4 1.1 5.6-1.8 5.4-2.4 5.1-2.9 4.8-3.4 4.8-3.3 5.1-2.9 5.6-1.7 5.9-.6 5.8 .2 5.8 1 5 2.8 1.9 5.4 0 5.9 .3 5.9 .5 5.8 .4 5.9 .3 5.9 .4 5.8 .3 5.9" stroke="#a5d6ae"/>
<path d="M114.7 275.9l5.9 .2 5.9 .3 5.9 0 5.8-.5 5.7-1.2 5.6-1.9 5.4-2.3 5.4-2.5 5.3-2.4 5.4-2.3 5.6-1.7 4.9 1.9 1.1 5.7-.7 5.9-1.5 5.6-2.3 5.4-1.7 5.7 2 5 5.7 1.5 5.8 .8 5.6 1.5 2.8 4.9 1 5.8 5.5 1.1 5.5-1.8 5.4-2.4 5.1-2.9 4.8-3.4 4.8-3.4 5.2-2.8 5.6-1.7 5.8-.6 5.9 .1 5.7 1.1 5.1 2.8 1.8 5.4 .1 5.9 .2 5.8 .5 5.9 .4 5.9 .4 5.8 .3 5.9 .3 5.9" stroke="#4690c1"/>
<path d="M114 277.2l5.9 .3 5.8 .3 5.9 0 5.9-.5 5.7-1.2 5.5-2 5.4-2.3 5.4-2.4 5.3-2.5 5.4-2.3 5.7-1.6 4.9 1.9 1 5.7-.6 5.8-1.6 5.7-2.2 5.4-1.7 5.6 2 5 5.6 1.6 5.8 .8 5.7 1.5 2.7 4.9 1 5.8 5.5 1 5.6-1.8 5.4-2.3 5-3 4.9-3.3 4.8-3.4 5.1-2.9 5.6-1.7 5.8-.6 5.9 .2 5.8 1.1 5 2.8 1.9 5.4 0 5.8 .2 5.9 .5 5.9 .4 5.8 .4 5.9 .3 5.9 .4 5.8" stroke="#d62f26"/>
<path d="M113.2 278.6l5.9 .3 5.9 .3 5.8-.1 5.9-.4 5.7-1.3 5.6-1.9 5.4-2.3 5.3-2.4 5.4-2.5 5.4-2.3 5.6-1.7 4.9 2 1 5.7-.6 5.8-1.5 5.7-2.3 5.4-1.7 5.6 2 5 5.7 1.5 5.8 .8 5.6 1.6 2.8 4.9 1 5.7 5.4 1.1 5.6-1.8 5.4-2.4 5.1-2.9 4.8-3.4 4.8-3.3 5.1-2.9 5.6-1.7 5.9-.6 5.9 .2 5.7 1 5.1 2.8 1.8 5.4 0 5.9 .3 5.9 .5 5.8 .4 5.9 .3 5.9 .4 5.8 .3 5.9" stroke="#f68c4e"/>
<path d="M112.5 280l5.8 .2 5.9 .3 5.9 0 5.8-.5 5.8-1.2 5.5-1.9 5.4-2.3 5.4-2.5 5.3-2.4 5.4-2.3 5.6-1.7 5 1.9 1 5.7-.6 5.9-1.6 5.6-2.2 5.4-1.7 5.7 2 4.9 5.6 1.6 5.8 .8 5.7 1.5 2.7 4.9 1 5.8 5.5 1.1 5.6-1.8 5.3-2.4 5.1-2.9 4.8-3.4 4.9-3.4 5.1-2.8 5.6-1.7 5.8-.7 5.9 .2 5.8 1.1 5 2.8 1.9 5.4 0 5.9 .2 5.8 .5 5.9 .4 5.9 .4 5.8 .3 5.9 .4 5.9" stroke="#fed894"/>
<path d="M111.7 281.3l5.9 .3 5.9 .3 5.8 0 5.9-.5 5.7-1.3 5.6-1.9 5.4-2.3 5.3-2.4 5.4-2.5 5.4-2.3 5.6-1.6 4.9 1.9 1 5.7-.6 5.8-1.5 5.7-2.3 5.4-1.7 5.6 2 5 5.6 1.6 5.9 .8 5.6 1.5 2.8 4.9 1 5.8 5.4 1 5.6-1.8 5.4-2.3 5.1-3 4.8-3.4 4.8-3.3 5.1-2.9 5.6-1.7 5.9-.6 5.8 .2 5.8 1 5 2.8 1.9 5.5 0 5.8 .3 5.9 .5 5.9 .4 5.8 .3 5.9 .4 5.9 .3 5.8" stroke="#f2f8c4"/>
<path d="M111 282.7l5.8 .3 5.9 .2 5.9 0 5.8-.5 5.8-1.2 5.5-1.9 5.4-2.3 5.4-2.4 5.3-2.5 5.4-2.3 5.6-1.7 5 2 1 5.7-.6 5.8-1.6 5.6-2.3 5.5-1.6 5.6 2 5 5.6 1.5 5.8 .8 5.6 1.6 2.8 4.9 1 5.7 5.5 1.1 5.6-1.8 5.3-2.4 5.1-2.9 4.8-3.4 4.9-3.3 5.1-2.9 5.6-1.7 5.8-.6 5.9 .1 5.7 1.1 5.1 2.8 1.9 5.4 0 5.9 .2 5.9 .5 5.8 .4 5.9 .4 5.8 .3 5.9 .4 5.9" stroke="#a5d6ae"/>
<path d="M110.2 284l5.9 .3 5.8 .3 5.9 0 5.9-.5 5.7-1.2 5.5-2 5.5-2.2 5.3-2.5 5.3-2.4 5.4-2.3 5.7-1.7 4.9 1.9 1 5.7-.6 5.9-1.6 5.6-2.2 5.4-1.7 5.6 2 5 5.6 1.6 5.8 .8 5.7 1.5 2.8 4.9 1 5.8 5.4 1.1 5.6-1.8 5.4-2.4 5.1-2.9 4.8-3.4 4.8-3.4 5.1-2.9 5.6-1.6 5.9-.7 5.8 .2 5.8 1.1 5 2.8 1.9 5.4 0 5.9 .3 5.8 .4 5.9 .5 5.8 .3 5.9 .4 5.9 .3 5.8" stroke="#4690c1"/>
<path d="M109.4 285.4l5.9 .3 5.9 .3 5.9 0 5.8-.5 5.7-1.3 5.6-1.9 5.4-2.3 5.3-2.4 5.4-2.5 5.4-2.3 5.6-1.7 4.9 2 1.1 5.7-.7 5.8-1.5 5.7-2.3 5.4-1.7 5.6 2 5 5.7 1.5 5.8 .8 5.6 1.6 2.8 4.9 1 5.7 5.5 1.1 5.5-1.8 5.4-2.4 5.1-2.9 4.8-3.4 4.8-3.3 5.2-2.9 5.6-1.7 5.8-.6 5.9 .2 5.7 1 5.1 2.8 1.8 5.4 .1 5.9 .2 5.9 .5 5.8 .4 5.9 .4 5.9 .3 5.8 .3 5.9" stroke="#d62f26"/>
<path d="M108.7 286.8l5.9 .2 5.8 .3 5.9 0 5.8-.5 5.8-1.2 5.5-1.9 5.4-2.3 5.4-2.4 5.3-2.5 5.4-2.3 5.7-1.7 4.9 1.9 1 5.7-.6 5.9-1.6 5.6-2.2 5.5-1.7 5.6 2 5 5.6 1.5 5.8 .8 5.7 1.6 2.7 4.8 1 5.8 5.5 1.1 5.6-1.8 5.4-2.4 5-2.9 4.9-3.4 4.8-3.3 5.1-2.9 5.6-1.7 5.8-.6 5.9 .1 5.8 1.1 5 2.8 1.9 5.4 0 5.9 .2 5.9 .5 5.8 .4 5.9 .4 5.8 .3 5.9 .4 5.9" stroke="#f68c4e"/>
<path d="M107.9 288.1l5.9 .3 5.9 .3 5.8 0 5.9-.5 5.7-1.2 5.6-2 5.4-2.2 5.3-2.5 5.4-2.5 5.4-2.3 5.6-1.6 4.9 1.9 1 5.7-.6 5.9-1.5 5.6-2.3 5.4-1.7 5.6 2 5 5.7 1.6 5.8 .8 5.6 1.5 2.8 4.9 1 5.8 5.4 1.1 5.6-1.9 5.4-2.3 5.1-3 4.8-3.3 4.8-3.4 5.1-2.9 5.6-1.6 5.9-.7 5.9 .2 5.7 1.1 5.1 2.8 1.8 5.4 0 5.8 .3 5.9 .5 5.9 .4 5.8 .3 5.9 .4 5.9 .3 5.8" stroke="#fed894"/>
<path d="M107.2 289.5l5.8 .3 5.9 .3 5.9 0 5.8-.5 5.8-1.3 5.5-1.9 5.4-2.3 5.4-2.4 5.3-2.5 5.4-2.3 5.6-1.7 5 2 1 5.7-.6 5.8-1.6 5.7-2.3 5.4-1.6 5.6 2 5 5.6 1.5 5.8 .8 5.7 1.6 2.7 4.9 1 5.7 5.5 1.1 5.6-1.8 5.3-2.4 5.1-2.9 4.8-3.4 4.9-3.3 5.1-2.9 5.6-1.7 5.8-.6 5.9 .2 5.8 1 5 2.8 1.9 5.4 0 5.9 .2 5.9 .5 5.8 .4 5.9 .4 5.9 .3 5.8 .4 5.9" stroke="#f2f8c4"/>
<path d="M106.4 290.9l5.9 .2 5.8 .3 5.9 0 5.9-.5 5.7-1.2 5.6-1.9 5.4-2.3 5.3-2.5 5.4-2.4 5.4-2.3 5.6-1.7 4.9 1.9 1 5.7-.6 5.9-1.5 5.6-2.3 5.4-1.7 5.7 2 5 5.6 1.5 5.9 .8 5.6 1.5 2.8 4.9 1 5.8 5.4 1.1 5.6-1.8 5.4-2.4 5.1-2.9 4.8-3.4 4.8-3.4 5.1-2.8 5.6-1.7 5.9-.6 5.8 .1 5.8 1.1 5 2.8 1.9 5.4 0 5.9 .3 5.8 .5 5.9 .4 5.9 .3 5.8 .4 5.9 .3 5.9" stroke="#a5d6ae"/>
<path d="M105.7 292.2l5.8 .3 5.9 .3 5.9 0 5.8-.5 5.8-1.2 5.5-2 5.4-2.3 5.4-2.4 5.3-2.5 5.4-2.3 5.6-1.6 5 1.9 1 5.7-.6 5.8-1.6 5.7-2.3 5.4-1.7 5.6 2.1 5 5.6 1.6 5.8 .8 5.6 1.5 2.8 4.9 1 5.8 5.5 1 5.5-1.8 5.4-2.3 5.1-3 4.8-3.3 4.9-3.4 5.1-2.9 5.6-1.7 5.8-.6 5.9 .2 5.7 1.1 5.1 2.8 1.8 5.4 .1 5.8 .2 5.9 .5 5.9 .4 5.8 .4 5.9 .3 5.9 .4 5.8" stroke="#4690c1"/>
<path d="M104.9 293.6l5.9 .3 5.8 .3 5.9-.1 5.9-.4 5.7-1.3 5.5-1.9 5.5-2.3 5.3-2.4 5.3-2.5 5.4-2.3 5.7-1.7 4.9 2 1 5.7-.6 5.8-1.6 5.7-2.2 5.4-1.7 5.6 2 5 5.6 1.5 5.8 .8 5.7 1.6 2.8 4.9 1 5.7 5.4 1.1 5.6-1.8 5.4-2.4 5.1-2.9 4.8-3.4 4.8-3.3 5.1-2.9 5.6-1.7 5.9-.6 5.8 .2 5.8 1 5 2.8 1.9 5.4 0 5.9 .3 5.9 .4 5.8 .4 5.9 .4 5.9 .3 5.8 .4 5.9" stroke="#d62f26"/>
<path d="M104.1 295l5.9 .2 5.9 .3 5.9 0 5.8-.5 5.7-1.2 5.6-1.9 5.4-2.3 5.3-2.5 5.4-2.4 5.4-2.3 5.6-1.7 4.9 1.9 1.1 5.7-.7 5.9-1.5 5.6-2.3 5.4-1.7 5.7 2 4.9 5.7 1.6 5.8 .8 5.6 1.5 2.8 4.9 1 5.8 5.4 1.1 5.6-1.8 5.4-2.4 5.1-2.9 4.8-3.4 4.8-3.4 5.2-2.8 5.6-1.7 5.8-.7 5.9 .2 5.7 1.1 5.1 2.8 1.8 5.4 .1 5.9 .2 5.8 .5 5.9 .4 5.9 .4 5.8 .3 5.9 .3 5.9" stroke="#f68c4e"/>
<path d="M103.4 296.3l5.8 .3 5.9 .3 5.9 0 5.8-.5 5.8-1.3 5.5-1.9 5.4-2.3 5.4-2.4 5.3-2.5 5.4-2.3 5.6-1.6 5 1.9 1 5.7-.6 5.8-1.6 5.7-2.2 5.4-1.7 5.6 2 5 5.6 1.6 5.8 .8 5.7 1.5 2.7 4.9 1 5.8 5.5 1 5.6-1.8 5.4-2.3 5-3 4.8-3.4 4.9-3.3 5.1-2.9 5.6-1.7 5.8-.6 5.9 .2 5.8 1 5 2.8 1.9 5.5 0 5.8 .2 5.9 .5 5.9 .4 5.8 .4 5.9 .3 5.9 .4 5.8" stroke="#fed894"/>
</g><path d="M0.0,124.5 L6.8,113.4 L27.2,110.1 L67.9,114.6 L83.7,122.5 L87.1,119.1 L90.5,120.2 L101.8,127.0 L124.5,132.7" fill="none" stroke="#000" stroke-width="1.55" stroke-linejoin="round" stroke-linecap="round"/>
<path d="M215.0,71.6 L229.7,65.9 L238.7,63.7 L241.0,58.0" fill="none" stroke="#000" stroke-width="1.55" stroke-linejoin="round" stroke-linecap="round"/>
<path d="M270.4,39.9 L277.2,45.6 L276.1,54.6 L272.7,60.3 L274.9,68.2 L276.1,77.2 L270.4,86.3 L259.1,87.4 L252.3,93.1 L245.5,99.9 L238.7,118.0 L233.1,131.5 L227.4,139.5" fill="none" stroke="#000" stroke-width="1.55" stroke-linejoin="round" stroke-linecap="round"/>
<path d="M142.6,194.9 L149.4,200.6 L147.1,214.1 L141.4,225.5 L138.0,236.8 L135.8,250.3 L130.1,254.9 L144.8,252.6 L155.0,251.5" fill="none" stroke="#000" stroke-width="1.55" stroke-linejoin="round" stroke-linecap="round"/>
<path d="M155.0,251.5 L186.7,236.8 L196.9,237.9 L196.9,252.6 L191.2,270.7 L209.3,275.2 L213.8,286.6 L229.7,282.0 L252.3,268.5 L277.2,270.7 L278.3,277.5" fill="none" stroke="#000" stroke-width="1.55" stroke-linejoin="round" stroke-linecap="round"/>
<line x1="286.3" y1="109.0" x2="280.4" y2="66.7" stroke="#000" stroke-width="1.3"/><path d="M279.5,60.3 L283.0,66.4 L277.8,67.1Z" fill="#000"/>
<text x="287.3" y="118.6" font-size="10.4" font-weight="bold" text-anchor="middle" fill="#000" textLength="31.8" lengthAdjust="spacingAndGlyphs">State 3</text>
</g></g>
<rect x="318" y="11.0" width="3.5" height="310" fill="#fdfdc4"/>
<rect x="318" y="348.0" width="3.5" height="310" fill="#fdfdc4"/>
<rect x="318" y="684.7" width="3.5" height="310" fill="#fdfdc4"/>
<rect x="10.00" y="9.00" width="101.00" height="2.2" fill="#000"/>
<rect x="111.00" y="9.00" width="35.00" height="2.2" fill="#fff" stroke="#6a6a6a" stroke-width="0.6"/>
<rect x="146.00" y="9.00" width="177.40" height="2.2" fill="#000"/>
<rect x="10.00" y="321.40" width="17.00" height="2.2" fill="#000"/>
<rect x="27.00" y="321.40" width="204.00" height="2.2" fill="#fff" stroke="#6a6a6a" stroke-width="0.6"/>
<rect x="231.00" y="321.40" width="92.40" height="2.2" fill="#000"/>
<rect x="9.00" y="10.00" width="2.2" height="129.40" fill="#000"/>
<rect x="9.00" y="139.40" width="2.2" height="184.00" fill="#fff" stroke="#6a6a6a" stroke-width="0.6"/>
<rect x="321.40" y="10.00" width="2.2" height="27.50" fill="#000"/>
<rect x="321.40" y="37.50" width="2.2" height="284.90" fill="#fff" stroke="#6a6a6a" stroke-width="0.6"/>
<rect x="321.40" y="230.50" width="2.2" height="1.4" fill="#000"/>
<text x="110.50" y="7.20" font-size="9.4" text-anchor="middle" font-weight="bold" fill="#111" textLength="29.5" lengthAdjust="spacingAndGlyphs" >75.0°S</text>
<text x="7.40" y="139.20" font-size="9.4" text-anchor="middle" font-weight="bold" fill="#111" textLength="37.5" lengthAdjust="spacingAndGlyphs" transform="rotate(-90 7.40 139.20)" >133.5°W</text>
<text x="325.00" y="37.00" font-size="9.4" text-anchor="middle" font-weight="bold" fill="#111" textLength="37.5" lengthAdjust="spacingAndGlyphs" transform="rotate(90 325.00 37.00)" >134.0°W</text>
<text x="325.00" y="233.00" font-size="9.4" text-anchor="middle" font-weight="bold" fill="#111" textLength="37.5" lengthAdjust="spacingAndGlyphs" transform="rotate(90 325.00 233.00)" >134.5°W</text>
<text x="19.80" y="26.20" font-size="10.8" text-anchor="start" font-weight="bold" fill="#111" textLength="11.8" lengthAdjust="spacingAndGlyphs" >(a)</text>
<rect x="10.00" y="346.00" width="101.00" height="2.2" fill="#000"/>
<rect x="111.00" y="346.00" width="35.00" height="2.2" fill="#fff" stroke="#6a6a6a" stroke-width="0.6"/>
<rect x="146.00" y="346.00" width="177.40" height="2.2" fill="#000"/>
<rect x="10.00" y="658.40" width="17.00" height="2.2" fill="#000"/>
<rect x="27.00" y="658.40" width="204.00" height="2.2" fill="#fff" stroke="#6a6a6a" stroke-width="0.6"/>
<rect x="231.00" y="658.40" width="92.40" height="2.2" fill="#000"/>
<rect x="9.00" y="347.00" width="2.2" height="129.40" fill="#000"/>
<rect x="9.00" y="476.40" width="2.2" height="184.00" fill="#fff" stroke="#6a6a6a" stroke-width="0.6"/>
<rect x="321.40" y="347.00" width="2.2" height="27.50" fill="#000"/>
<rect x="321.40" y="374.50" width="2.2" height="284.90" fill="#fff" stroke="#6a6a6a" stroke-width="0.6"/>
<rect x="321.40" y="567.50" width="2.2" height="1.4" fill="#000"/>
<text x="110.50" y="344.20" font-size="9.4" text-anchor="middle" font-weight="bold" fill="#111" textLength="29.5" lengthAdjust="spacingAndGlyphs" >75.0°S</text>
<text x="7.40" y="476.20" font-size="9.4" text-anchor="middle" font-weight="bold" fill="#111" textLength="37.5" lengthAdjust="spacingAndGlyphs" transform="rotate(-90 7.40 476.20)" >133.5°W</text>
<text x="325.00" y="374.00" font-size="9.4" text-anchor="middle" font-weight="bold" fill="#111" textLength="37.5" lengthAdjust="spacingAndGlyphs" transform="rotate(90 325.00 374.00)" >134.0°W</text>
<text x="325.00" y="570.00" font-size="9.4" text-anchor="middle" font-weight="bold" fill="#111" textLength="37.5" lengthAdjust="spacingAndGlyphs" transform="rotate(90 325.00 570.00)" >134.5°W</text>
<text x="19.80" y="363.20" font-size="10.8" text-anchor="start" font-weight="bold" fill="#111" textLength="11.8" lengthAdjust="spacingAndGlyphs" >(c)</text>
<rect x="10.00" y="682.70" width="101.00" height="2.2" fill="#000"/>
<rect x="111.00" y="682.70" width="35.00" height="2.2" fill="#fff" stroke="#6a6a6a" stroke-width="0.6"/>
<rect x="146.00" y="682.70" width="177.40" height="2.2" fill="#000"/>
<rect x="10.00" y="995.10" width="17.00" height="2.2" fill="#000"/>
<rect x="27.00" y="995.10" width="204.00" height="2.2" fill="#fff" stroke="#6a6a6a" stroke-width="0.6"/>
<rect x="231.00" y="995.10" width="92.40" height="2.2" fill="#000"/>
<rect x="9.00" y="683.70" width="2.2" height="129.40" fill="#000"/>
<rect x="9.00" y="813.10" width="2.2" height="184.00" fill="#fff" stroke="#6a6a6a" stroke-width="0.6"/>
<rect x="321.40" y="683.70" width="2.2" height="27.50" fill="#000"/>
<rect x="321.40" y="711.20" width="2.2" height="284.90" fill="#fff" stroke="#6a6a6a" stroke-width="0.6"/>
<rect x="321.40" y="904.20" width="2.2" height="1.4" fill="#000"/>
<text x="110.50" y="680.90" font-size="9.4" text-anchor="middle" font-weight="bold" fill="#111" textLength="29.5" lengthAdjust="spacingAndGlyphs" >75.0°S</text>
<text x="7.40" y="812.90" font-size="9.4" text-anchor="middle" font-weight="bold" fill="#111" textLength="37.5" lengthAdjust="spacingAndGlyphs" transform="rotate(-90 7.40 812.90)" >133.5°W</text>
<text x="325.00" y="710.70" font-size="9.4" text-anchor="middle" font-weight="bold" fill="#111" textLength="37.5" lengthAdjust="spacingAndGlyphs" transform="rotate(90 325.00 710.70)" >134.0°W</text>
<text x="325.00" y="906.70" font-size="9.4" text-anchor="middle" font-weight="bold" fill="#111" textLength="37.5" lengthAdjust="spacingAndGlyphs" transform="rotate(90 325.00 906.70)" >134.5°W</text>
<text x="19.80" y="699.90" font-size="10.8" text-anchor="start" font-weight="bold" fill="#111" textLength="11.8" lengthAdjust="spacingAndGlyphs" >(e)</text>
<rect x="46.2" y="30.6" width="25" height="5" fill="#000"/>
<rect x="71.2" y="30.6" width="24.1" height="5" fill="#fff" stroke="#333" stroke-width="0.6"/>
<text x="46.80" y="26.20" font-size="10.6" text-anchor="middle" font-weight="bold" fill="#111" >0</text>
<text x="71.60" y="26.20" font-size="10.6" text-anchor="middle" font-weight="bold" fill="#111" textLength="12.2" lengthAdjust="spacingAndGlyphs" >2.5</text>
<text x="104.30" y="26.20" font-size="10.6" text-anchor="middle" font-weight="bold" fill="#111" textLength="23" lengthAdjust="spacingAndGlyphs" >5 km</text>
<rect x="254.3" y="10.5" width="67.3" height="35.5" fill="#fff" stroke="#444" stroke-width="0.7"/>
<rect x="271.1" y="21" width="33.9" height="5.6" fill="url(#spec)"/>
<text x="271.50" y="36.80" font-size="11" text-anchor="middle" font-weight="bold" fill="#111" textLength="23" lengthAdjust="spacingAndGlyphs" >-180°</text>
<text x="308.30" y="36.80" font-size="11" text-anchor="middle" font-weight="bold" fill="#111" textLength="19.5" lengthAdjust="spacingAndGlyphs" >180°</text>
<rect x="34.5" y="54.4" width="94.2" height="28" fill="#fff" stroke="#333" stroke-width="0.8"/>
<text x="38.6" y="67.4" font-size="11.6" font-weight="bold" fill="#111" textLength="85" lengthAdjust="spacingAndGlyphs">SSH<tspan font-size="9" dy="3">max</tspan><tspan dy="-3">= -24.0 cm</tspan></text>
<text x="38.6" y="79.6" font-size="11.6" font-weight="bold" fill="#111" textLength="73" lengthAdjust="spacingAndGlyphs">ΔSSH = -6.7 cm</text>
<rect x="34.5" y="391.4" width="94.2" height="28" fill="#fff" stroke="#333" stroke-width="0.8"/>
<text x="38.6" y="404.4" font-size="11.6" font-weight="bold" fill="#111" textLength="85" lengthAdjust="spacingAndGlyphs">SSH<tspan font-size="9" dy="3">max</tspan><tspan dy="-3">= -24.0 cm</tspan></text>
<text x="38.6" y="416.6" font-size="11.6" font-weight="bold" fill="#111" textLength="78.8" lengthAdjust="spacingAndGlyphs">ΔSSH = -22.8 cm</text>
<rect x="34.5" y="728.1" width="94.2" height="28" fill="#fff" stroke="#333" stroke-width="0.8"/>
<text x="38.6" y="741.1" font-size="11.6" font-weight="bold" fill="#111" textLength="85" lengthAdjust="spacingAndGlyphs">SSH<tspan font-size="9" dy="3">max</tspan><tspan dy="-3">= -29.9 cm</tspan></text>
<text x="38.6" y="753.3000000000001" font-size="11.6" font-weight="bold" fill="#111" textLength="75.4" lengthAdjust="spacingAndGlyphs">ΔSSH = 16.1 cm</text>
<rect x="371.2" y="9.4" width="307.2" height="313.0" fill="#fff"/>
<line x1="405.50" y1="9.4" x2="405.50" y2="322.4" stroke="#d4d4d4" stroke-width="0.7" stroke-dasharray="1.5,1"/>
<line x1="453.50" y1="9.4" x2="453.50" y2="322.4" stroke="#d4d4d4" stroke-width="0.7" stroke-dasharray="1.5,1"/>
<line x1="501.50" y1="9.4" x2="501.50" y2="322.4" stroke="#d4d4d4" stroke-width="0.7" stroke-dasharray="1.5,1"/>
<line x1="549.50" y1="9.4" x2="549.50" y2="322.4" stroke="#d4d4d4" stroke-width="0.7" stroke-dasharray="1.5,1"/>
<line x1="597.50" y1="9.4" x2="597.50" y2="322.4" stroke="#d4d4d4" stroke-width="0.7" stroke-dasharray="1.5,1"/>
<line x1="645.50" y1="9.4" x2="645.50" y2="322.4" stroke="#d4d4d4" stroke-width="0.7" stroke-dasharray="1.5,1"/>
<line x1="371.2" y1="34.50" x2="678.4" y2="34.50" stroke="#d4d4d4" stroke-width="0.7" stroke-dasharray="1.5,1"/>
<line x1="371.2" y1="83.20" x2="678.4" y2="83.20" stroke="#d4d4d4" stroke-width="0.7" stroke-dasharray="1.5,1"/>
<line x1="371.2" y1="131.90" x2="678.4" y2="131.90" stroke="#d4d4d4" stroke-width="0.7" stroke-dasharray="1.5,1"/>
<line x1="371.2" y1="180.60" x2="678.4" y2="180.60" stroke="#d4d4d4" stroke-width="0.7" stroke-dasharray="1.5,1"/>
<line x1="371.2" y1="229.30" x2="678.4" y2="229.30" stroke="#d4d4d4" stroke-width="0.7" stroke-dasharray="1.5,1"/>
<line x1="371.2" y1="278.00" x2="678.4" y2="278.00" stroke="#d4d4d4" stroke-width="0.7" stroke-dasharray="1.5,1"/>
<line x1="371.2" y1="9.4" x2="678.4" y2="9.4" stroke="#b8b8b8" stroke-width="1"/>
<line x1="678.4" y1="9.4" x2="678.4" y2="322.4" stroke="#b8b8b8" stroke-width="1"/>
<line x1="371.2" y1="322.4" x2="678.4" y2="322.4" stroke="#a8a8a8" stroke-width="1"/>
<line x1="371.2" y1="9.4" x2="371.2" y2="322.4" stroke="#dcdcdc" stroke-width="1.8"/>
<path d="M384.80,219.50 L385.21,214.82 L385.63,201.69 L386.04,182.73 L386.46,161.67 L386.87,142.71 L387.29,129.58 L387.70,124.90 L388.23,129.64 L388.76,142.92 L389.29,162.10 L389.81,183.40 L390.34,202.58 L390.87,215.86 L391.40,220.60 L391.87,216.51 L392.34,205.05 L392.81,188.49 L393.29,170.11 L393.76,153.55 L394.23,142.09 L394.70,138.00 L395.23,141.76 L395.76,152.31 L396.29,167.54 L396.81,184.46 L397.34,199.69 L397.87,210.24 L398.40,214.00 L398.84,210.94 L399.29,202.38 L399.73,190.01 L400.17,176.29 L400.61,163.92 L401.06,155.36 L401.50,152.30 L402.09,154.91 L402.67,162.22 L403.26,172.79 L403.84,184.51 L404.43,195.08 L405.01,202.39 L405.60,205.00 L405.97,203.06 L406.34,197.62 L406.71,189.76 L407.09,181.04 L407.46,173.18 L407.83,167.74 L408.20,165.80 L408.80,167.27 L409.40,171.37 L410.00,177.31 L410.60,183.89 L411.20,189.83 L411.80,193.93 L412.40,195.40 L412.71,194.29 L413.03,191.18 L413.34,186.69 L413.66,181.71 L413.97,177.22 L414.29,174.11 L414.60,173.00 L415.13,173.62 L415.66,175.35 L416.19,177.86 L416.71,180.64 L417.24,183.15 L417.77,184.88 L418.30,185.50 L418.64,184.82 L418.99,182.90 L419.33,180.14 L419.67,177.06 L420.01,174.30 L420.36,172.38 L420.70,171.70 L421.03,172.93 L421.36,176.37 L421.69,181.34 L422.01,186.86 L422.34,191.83 L422.67,195.27 L423.00,196.50 L423.61,194.95 L424.23,190.61 L424.84,184.33 L425.46,177.37 L426.07,171.09 L426.69,166.75 L427.30,165.20 L427.69,167.07 L428.07,172.32 L428.46,179.89 L428.84,188.31 L429.23,195.88 L429.61,201.13 L430.00,203.00 L430.64,200.72 L431.29,194.34 L431.93,185.12 L432.57,174.88 L433.21,165.66 L433.86,159.28 L434.50,157.00 L434.91,159.77 L435.33,167.54 L435.74,178.77 L436.16,191.23 L436.57,202.46 L436.99,210.23 L437.40,213.00 L437.96,209.80 L438.51,200.82 L439.07,187.85 L439.63,173.45 L440.19,160.48 L440.74,151.50 L441.30,148.30 L441.77,151.77 L442.24,161.50 L442.71,175.55 L443.19,191.15 L443.66,205.20 L444.13,214.93 L444.60,218.40 L445.16,214.53 L445.71,203.68 L446.27,188.00 L446.83,170.60 L447.39,154.92 L447.94,144.07 L448.50,140.20 L449.04,144.24 L449.59,155.54 L450.13,171.88 L450.67,190.02 L451.21,206.36 L451.76,217.66 L452.30,221.70 L452.73,217.23 L453.16,204.72 L453.59,186.64 L454.01,166.56 L454.44,148.48 L454.87,135.97 L455.30,131.50 L455.87,136.13 L456.44,149.10 L457.01,167.85 L457.59,188.65 L458.16,207.40 L458.73,220.37 L459.30,225.00 L459.70,219.99 L460.10,205.95 L460.50,185.66 L460.90,163.14 L461.30,142.85 L461.70,128.81 L462.10,123.80 L462.73,128.86 L463.36,143.04 L463.99,163.53 L464.61,186.27 L465.24,206.76 L465.87,220.94 L466.50,226.00 L466.87,220.72 L467.24,205.93 L467.61,184.56 L467.99,160.84 L468.36,139.47 L468.73,124.68 L469.10,119.40 L469.67,124.73 L470.24,139.68 L470.81,161.27 L471.39,185.23 L471.96,206.82 L472.53,221.77 L473.10,227.10 L473.50,221.68 L473.90,206.50 L474.30,184.57 L474.70,160.23 L475.10,138.30 L475.50,123.12 L475.90,117.70 L476.50,123.17 L477.10,138.50 L477.70,160.66 L478.30,185.24 L478.90,207.40 L479.50,222.73 L480.10,228.20 L480.50,222.89 L480.90,208.02 L481.30,186.53 L481.70,162.67 L482.10,141.18 L482.50,126.31 L482.90,121.00 L483.53,126.20 L484.16,140.77 L484.79,161.82 L485.41,185.18 L486.04,206.23 L486.67,220.80 L487.30,226.00 L487.70,221.23 L488.10,207.87 L488.50,188.56 L488.90,167.14 L489.30,147.83 L489.70,134.47 L490.10,129.70 L490.76,134.10 L491.41,146.44 L492.07,164.26 L492.73,184.04 L493.39,201.86 L494.04,214.20 L494.70,218.60 L495.10,214.83 L495.50,204.25 L495.90,188.98 L496.30,172.02 L496.70,156.75 L497.10,146.17 L497.50,142.40 L498.14,145.86 L498.79,155.56 L499.43,169.57 L500.07,185.13 L500.71,199.14 L501.36,208.84 L502.00,212.30 L502.34,209.71 L502.69,202.45 L503.03,191.97 L503.37,180.33 L503.71,169.85 L504.06,162.59 L504.40,160.00 L504.73,161.25 L505.06,164.74 L505.39,169.80 L505.71,175.40 L506.04,180.46 L506.37,183.95 L506.70,185.20 L506.79,185.08 L506.87,184.75 L506.96,184.27 L507.04,183.73 L507.13,183.25 L507.21,182.92 L507.30,182.80 L507.59,183.62 L507.87,185.93 L508.16,189.25 L508.44,192.95 L508.73,196.27 L509.01,198.58 L509.30,199.40 L509.57,198.35 L509.84,195.39 L510.11,191.12 L510.39,186.38 L510.66,182.11 L510.93,179.15 L511.20,178.10 L511.43,178.69 L511.66,180.34 L511.89,182.73 L512.11,185.37 L512.34,187.76 L512.57,189.41 L512.80,190.00 L513.09,189.08 L513.37,186.50 L513.66,182.77 L513.94,178.63 L514.23,174.90 L514.51,172.32 L514.80,171.40 L515.43,172.88 L516.06,177.03 L516.69,183.02 L517.31,189.68 L517.94,195.67 L518.57,199.82 L519.20,201.30 L519.63,199.22 L520.06,193.39 L520.49,184.97 L520.91,175.63 L521.34,167.21 L521.77,161.38 L522.20,159.30 L522.67,162.04 L523.14,169.73 L523.61,180.84 L524.09,193.16 L524.56,204.27 L525.03,211.96 L525.50,214.70 L526.06,211.25 L526.61,201.58 L527.17,187.60 L527.73,172.10 L528.29,158.12 L528.84,148.45 L529.40,145.00 L529.87,148.93 L530.34,159.93 L530.81,175.83 L531.29,193.47 L531.76,209.37 L532.23,220.37 L532.70,224.30 L533.26,219.72 L533.81,206.91 L534.37,188.38 L534.93,167.82 L535.49,149.29 L536.04,136.48 L536.60,131.90 L537.07,136.78 L537.54,150.44 L538.01,170.19 L538.49,192.11 L538.96,211.86 L539.43,225.52 L539.90,230.40 L540.47,225.07 L541.04,210.12 L541.61,188.53 L542.19,164.57 L542.76,142.98 L543.33,128.03 L543.90,122.70 L544.37,128.09 L544.84,143.18 L545.31,164.99 L545.79,189.21 L546.26,211.02 L546.73,226.11 L547.20,231.50 L547.76,225.87 L548.31,210.08 L548.87,187.26 L549.43,161.94 L549.99,139.12 L550.54,123.33 L551.10,117.70 L551.57,123.26 L552.04,138.84 L552.51,161.36 L552.99,186.34 L553.46,208.86 L553.93,224.44 L554.40,230.00 L554.96,224.44 L555.51,208.86 L556.07,186.34 L556.63,161.36 L557.19,138.84 L557.74,123.26 L558.30,117.70 L558.77,122.96 L559.24,137.69 L559.71,158.98 L560.19,182.62 L560.66,203.91 L561.13,218.64 L561.60,223.90 L562.13,218.82 L562.66,204.60 L563.19,184.05 L563.71,161.25 L564.24,140.70 L564.77,126.48 L565.30,121.40 L565.77,126.15 L566.24,139.45 L566.71,158.68 L567.19,180.02 L567.66,199.25 L568.13,212.55 L568.60,217.30 L569.13,212.91 L569.66,200.60 L570.19,182.82 L570.71,163.08 L571.24,145.30 L571.77,132.99 L572.30,128.60 L572.83,132.67 L573.36,144.06 L573.89,160.52 L574.41,178.78 L574.94,195.24 L575.47,206.63 L576.00,210.70 L576.47,207.18 L576.94,197.32 L577.41,183.06 L577.89,167.24 L578.36,152.98 L578.83,143.12 L579.30,139.60 L579.90,142.85 L580.50,151.95 L581.10,165.10 L581.70,179.70 L582.30,192.85 L582.90,201.95 L583.50,205.20 L583.90,202.55 L584.30,195.11 L584.70,184.36 L585.10,172.44 L585.50,161.69 L585.90,154.25 L586.30,151.60 L586.93,153.99 L587.56,160.67 L588.19,170.34 L588.81,181.06 L589.44,190.73 L590.07,197.41 L590.70,199.80 L591.09,198.06 L591.47,193.19 L591.86,186.16 L592.24,178.34 L592.63,171.31 L593.01,166.44 L593.40,164.70 L594.01,166.17 L594.63,170.27 L595.24,176.21 L595.86,182.79 L596.47,188.73 L597.09,192.83 L597.70,194.30 L598.01,193.46 L598.33,191.12 L598.64,187.73 L598.96,183.97 L599.27,180.58 L599.59,178.24 L599.90,177.40 L600.13,177.68 L600.36,178.45 L600.59,179.58 L600.81,180.82 L601.04,181.95 L601.27,182.72 L601.50,183.00 L601.77,182.58 L602.04,181.42 L602.31,179.73 L602.59,177.87 L602.86,176.18 L603.13,175.02 L603.40,174.60 L603.84,175.51 L604.29,178.06 L604.73,181.75 L605.17,185.85 L605.61,189.54 L606.06,192.09 L606.50,193.00 L606.97,191.69 L607.44,188.01 L607.91,182.70 L608.39,176.80 L608.86,171.49 L609.33,167.81 L609.80,166.50 L610.51,168.37 L611.23,173.60 L611.94,181.16 L612.66,189.54 L613.37,197.10 L614.09,202.33 L614.80,204.20 L615.21,202.03 L615.63,195.95 L616.04,187.17 L616.46,177.43 L616.87,168.65 L617.29,162.57 L617.70,160.40 L618.31,163.00 L618.93,170.28 L619.54,180.81 L620.16,192.49 L620.77,203.02 L621.39,210.30 L622.00,212.90 L622.41,210.03 L622.83,201.98 L623.24,190.35 L623.66,177.45 L624.07,165.82 L624.49,157.77 L624.90,154.90 L625.53,158.06 L626.16,166.93 L626.79,179.74 L627.41,193.96 L628.04,206.77 L628.67,215.64 L629.30,218.80 L629.73,215.38 L630.16,205.81 L630.59,191.98 L631.01,176.62 L631.44,162.79 L631.87,153.22 L632.30,149.80 L632.90,153.47 L633.50,163.75 L634.10,178.61 L634.70,195.09 L635.30,209.95 L635.90,220.23 L636.50,223.90 L636.94,219.97 L637.39,208.97 L637.83,193.07 L638.27,175.43 L638.71,159.53 L639.16,148.53 L639.60,144.60 L640.19,148.60 L640.77,159.81 L641.36,176.01 L641.94,193.99 L642.53,210.19 L643.11,221.40 L643.70,225.40 L644.17,221.10 L644.64,209.04 L645.11,191.62 L645.59,172.28 L646.06,154.86 L646.53,142.80 L647.00,138.50 L647.50,142.73 L648.00,154.60 L648.50,171.74 L649.00,190.76 L649.50,207.90 L650.00,219.77 L650.50,224.00 L651.00,219.44 L651.50,206.66 L652.00,188.20 L652.50,167.70 L653.00,149.24 L653.50,136.46 L654.00,131.90 L654.50,136.36 L655.00,148.86 L655.50,166.93 L656.00,186.97 L656.50,205.04 L657.00,217.54 L657.50,222.00 L658.03,217.43 L658.56,204.62 L659.09,186.12 L659.61,165.58 L660.14,147.08 L660.67,134.27 L661.20,129.70 L661.67,134.26 L662.14,147.02 L662.61,165.46 L663.09,185.94 L663.56,204.38 L664.03,217.14 L664.50,221.70 L665.07,217.20 L665.64,204.59 L666.21,186.36 L666.79,166.14 L667.36,147.91 L667.93,135.30 L668.50,130.80 L668.50,130.80" fill="none" stroke="#3f8ac6" stroke-width="0.85" stroke-opacity="0.9" stroke-linejoin="round"/>
<line x1="384.79" y1="180.60" x2="668.53" y2="180.60" stroke="#5a6a72" stroke-width="1"/>
<rect x="434.36" y="116.80" width="13.71" height="116.88" fill="#9c9c9c" fill-opacity="0.45" stroke="#8c8c8c" stroke-width="0.8"/>
<line x1="441.21" y1="116.80" x2="441.21" y2="233.68" stroke="#6a6a6a" stroke-width="0.8"/>
<text x="437.79" y="126.00" font-size="10.5" text-anchor="middle" font-weight="bold" fill="#111" >1</text>
<text x="444.64" y="126.00" font-size="10.5" text-anchor="middle" font-weight="bold" fill="#111" >2</text>
<circle cx="437.95" cy="203.88" r="1.9" fill="#d62020"/>
<circle cx="444.81" cy="213.81" r="1.9" fill="#d62020"/>
<rect x="653.78" y="116.80" width="13.71" height="116.88" fill="#9c9c9c" fill-opacity="0.45" stroke="#8c8c8c" stroke-width="0.8"/>
<line x1="660.64" y1="116.80" x2="660.64" y2="233.68" stroke="#6a6a6a" stroke-width="0.8"/>
<text x="657.21" y="126.00" font-size="10.5" text-anchor="middle" font-weight="bold" fill="#111" >3</text>
<text x="664.07" y="126.00" font-size="10.5" text-anchor="middle" font-weight="bold" fill="#111" >4</text>
<circle cx="657.38" cy="221.51" r="1.9" fill="#d62020"/>
<circle cx="664.23" cy="223.53" r="1.9" fill="#d62020"/>
<clipPath id="clip98"><rect x="407.2" y="33.9" width="71.0" height="59.5"/></clipPath>
<rect x="407.2" y="33.9" width="71.0" height="59.5" fill="#f1f1f1" stroke="#9a9a9a" stroke-width="0.8"/>
<line x1="407.2" y1="33.9" x2="478.2" y2="33.9" stroke="#555" stroke-width="1"/>
<line x1="412.60" y1="33.9" x2="412.60" y2="93.4" stroke="#8a8a8a" stroke-width="0.6" stroke-dasharray="1.6,1.2"/>
<line x1="428.68" y1="33.9" x2="428.68" y2="93.4" stroke="#8a8a8a" stroke-width="0.6" stroke-dasharray="1.6,1.2"/>
<line x1="444.76" y1="33.9" x2="444.76" y2="93.4" stroke="#8a8a8a" stroke-width="0.6" stroke-dasharray="1.6,1.2"/>
<line x1="460.84" y1="33.9" x2="460.84" y2="93.4" stroke="#8a8a8a" stroke-width="0.6" stroke-dasharray="1.6,1.2"/>
<line x1="476.92" y1="33.9" x2="476.92" y2="93.4" stroke="#8a8a8a" stroke-width="0.6" stroke-dasharray="1.6,1.2"/>
<line x1="407.2" y1="41.80" x2="478.2" y2="41.80" stroke="#8a8a8a" stroke-width="0.6" stroke-dasharray="1.6,1.2"/>
<line x1="407.2" y1="54.10" x2="478.2" y2="54.10" stroke="#8a8a8a" stroke-width="0.6" stroke-dasharray="1.6,1.2"/>
<line x1="407.2" y1="78.70" x2="478.2" y2="78.70" stroke="#8a8a8a" stroke-width="0.6" stroke-dasharray="1.6,1.2"/>
<line x1="407.2" y1="91.00" x2="478.2" y2="91.00" stroke="#8a8a8a" stroke-width="0.6" stroke-dasharray="1.6,1.2"/>
<line x1="409.92" y1="66.40" x2="473.44" y2="66.40" stroke="#a8a8a8" stroke-width="1.5"/>
<path d="M410.05,54.25 L410.25,54.24 L410.49,54.21 L410.78,54.15 L411.10,54.10 L411.45,54.06 L411.83,54.04 L412.22,54.06 L412.64,54.14 L413.06,54.28 L413.48,54.49 L413.93,54.78 L414.40,55.12 L414.90,55.51 L415.41,55.94 L415.94,56.42 L416.48,56.95 L417.02,57.52 L417.55,58.13 L418.08,58.78 L418.60,59.46 L419.11,60.20 L419.62,61.00 L420.13,61.86 L420.64,62.76 L421.15,63.69 L421.66,64.66 L422.17,65.64 L422.68,66.63 L423.19,67.63 L423.70,68.61 L424.21,69.63 L424.72,70.72 L425.23,71.85 L425.74,72.99 L426.25,74.14 L426.77,75.26 L427.28,76.34 L427.79,77.35 L428.30,78.28 L428.81,79.09 L429.34,79.81 L429.87,80.45 L430.42,81.03 L430.97,81.55 L431.52,82.01 L432.05,82.42 L432.57,82.79 L433.05,83.12 L433.50,83.41 L433.91,83.67 L434.26,83.89 L434.56,84.06 L434.82,84.18 L435.05,84.26 L435.26,84.30 L435.46,84.30 L435.67,84.28 L435.90,84.23 L436.16,84.15 L436.45,84.06 L436.79,83.94 L437.15,83.79 L437.53,83.59 L437.92,83.37 L438.33,83.13 L438.74,82.86 L439.14,82.58 L439.54,82.29 L439.92,82.00 L440.28,81.70 L440.62,81.42 L440.92,81.14 L441.21,80.87 L441.48,80.59 L441.76,80.30 L442.04,79.97 L442.35,79.60 L442.68,79.19 L443.05,78.71 L443.47,78.16 L443.94,77.52 L444.45,76.81 L444.99,76.03 L445.56,75.19 L446.16,74.32 L446.76,73.43 L447.38,72.53 L448.00,71.64 L448.62,70.77 L449.24,69.94 L449.84,69.13 L450.45,68.31 L451.06,67.49 L451.68,66.67 L452.31,65.86 L452.94,65.06 L453.59,64.27 L454.25,63.51 L454.92,62.77 L455.61,62.07 L456.32,61.40 L457.02,60.78 L457.73,60.17 L458.46,59.60 L459.20,59.04 L459.95,58.48 L460.73,57.93 L461.54,57.37 L462.38,56.80 L463.25,56.22 L464.21,55.58 L465.29,54.91 L466.44,54.20 L467.63,53.48 L468.82,52.77 L469.97,52.10 L471.05,51.47 L472.01,50.91 L472.82,50.43 L473.44,50.07" fill="none" stroke="#4b55e8" stroke-width="0.9" clip-path="url(#clip98)"/>
<circle cx="443.66" cy="78.16" r="1.9" fill="#d62020"/>
<text x="410.40" y="44.70" font-size="10.5" text-anchor="start" font-weight="bold" fill="#111" >1</text>
<text x="405.20" y="44.80" font-size="8.4" text-anchor="end" font-weight="normal" fill="#111" textLength="7.9" lengthAdjust="spacingAndGlyphs" >50</text>
<text x="405.20" y="57.10" font-size="8.4" text-anchor="end" font-weight="normal" fill="#111" textLength="7.9" lengthAdjust="spacingAndGlyphs" >25</text>
<text x="405.20" y="69.40" font-size="8.4" text-anchor="end" font-weight="normal" fill="#111" textLength="4.0" lengthAdjust="spacingAndGlyphs" >0</text>
<text x="405.20" y="81.70" font-size="8.4" text-anchor="end" font-weight="normal" fill="#111" textLength="11.8" lengthAdjust="spacingAndGlyphs" >-25</text>
<text x="405.20" y="94.00" font-size="8.4" text-anchor="end" font-weight="normal" fill="#111" textLength="11.8" lengthAdjust="spacingAndGlyphs" >-50</text>
<text x="412.60" y="100.80" font-size="8.4" text-anchor="middle" font-weight="normal" fill="#111" textLength="8.0" lengthAdjust="spacingAndGlyphs" >06</text>
<text x="428.68" y="100.80" font-size="8.4" text-anchor="middle" font-weight="normal" fill="#111" textLength="8.0" lengthAdjust="spacingAndGlyphs" >12</text>
<text x="444.76" y="100.80" font-size="8.4" text-anchor="middle" font-weight="normal" fill="#111" textLength="8.0" lengthAdjust="spacingAndGlyphs" >18</text>
<text x="460.84" y="100.80" font-size="8.4" text-anchor="middle" font-weight="normal" fill="#111" textLength="8.0" lengthAdjust="spacingAndGlyphs" >00</text>
<text x="476.92" y="100.80" font-size="8.4" text-anchor="middle" font-weight="normal" fill="#111" textLength="8.0" lengthAdjust="spacingAndGlyphs" >06</text>
<text x="442.70" y="108.40" font-size="8.4" text-anchor="middle" font-weight="normal" fill="#111" textLength="61" lengthAdjust="spacingAndGlyphs" >Time of Day (hour)</text>
<text x="442.70" y="32.30" font-size="8.0" text-anchor="middle" font-weight="normal" fill="#111" textLength="70" lengthAdjust="spacingAndGlyphs" >2021-02-19 17:35:20</text>
<clipPath id="clip126"><rect x="533.1" y="33.9" width="71.0" height="59.5"/></clipPath>
<rect x="533.1" y="33.9" width="71.0" height="59.5" fill="#f1f1f1" stroke="#9a9a9a" stroke-width="0.8"/>
<line x1="533.1" y1="33.9" x2="604.1" y2="33.9" stroke="#555" stroke-width="1"/>
<line x1="538.50" y1="33.9" x2="538.50" y2="93.4" stroke="#8a8a8a" stroke-width="0.6" stroke-dasharray="1.6,1.2"/>
<line x1="554.58" y1="33.9" x2="554.58" y2="93.4" stroke="#8a8a8a" stroke-width="0.6" stroke-dasharray="1.6,1.2"/>
<line x1="570.66" y1="33.9" x2="570.66" y2="93.4" stroke="#8a8a8a" stroke-width="0.6" stroke-dasharray="1.6,1.2"/>
<line x1="586.74" y1="33.9" x2="586.74" y2="93.4" stroke="#8a8a8a" stroke-width="0.6" stroke-dasharray="1.6,1.2"/>
<line x1="602.82" y1="33.9" x2="602.82" y2="93.4" stroke="#8a8a8a" stroke-width="0.6" stroke-dasharray="1.6,1.2"/>
<line x1="533.1" y1="41.80" x2="604.1" y2="41.80" stroke="#8a8a8a" stroke-width="0.6" stroke-dasharray="1.6,1.2"/>
<line x1="533.1" y1="54.10" x2="604.1" y2="54.10" stroke="#8a8a8a" stroke-width="0.6" stroke-dasharray="1.6,1.2"/>
<line x1="533.1" y1="78.70" x2="604.1" y2="78.70" stroke="#8a8a8a" stroke-width="0.6" stroke-dasharray="1.6,1.2"/>
<line x1="533.1" y1="91.00" x2="604.1" y2="91.00" stroke="#8a8a8a" stroke-width="0.6" stroke-dasharray="1.6,1.2"/>
<line x1="535.82" y1="66.40" x2="599.34" y2="66.40" stroke="#a8a8a8" stroke-width="1.5"/>
<path d="M536.20,42.44 L536.63,42.87 L537.20,43.39 L537.86,43.98 L538.61,44.65 L539.41,45.40 L540.26,46.23 L541.12,47.14 L541.98,48.13 L542.81,49.20 L543.59,50.36 L544.35,51.63 L545.13,53.04 L545.91,54.56 L546.70,56.16 L547.49,57.84 L548.27,59.55 L549.04,61.29 L549.80,63.02 L550.54,64.74 L551.26,66.40 L551.94,68.08 L552.60,69.85 L553.24,71.66 L553.87,73.50 L554.49,75.31 L555.10,77.08 L555.71,78.77 L556.34,80.34 L556.98,81.77 L557.64,83.03 L558.32,84.13 L559.03,85.12 L559.76,86.00 L560.50,86.79 L561.24,87.47 L561.97,88.06 L562.69,88.55 L563.38,88.96 L564.04,89.28 L564.66,89.52 L565.23,89.65 L565.77,89.65 L566.28,89.54 L566.76,89.32 L567.23,89.04 L567.68,88.69 L568.13,88.30 L568.58,87.89 L569.04,87.47 L569.51,87.06 L569.97,86.69 L570.41,86.32 L570.84,85.95 L571.26,85.56 L571.69,85.13 L572.13,84.63 L572.59,84.06 L573.09,83.40 L573.63,82.62 L574.22,81.70 L574.88,80.63 L575.59,79.40 L576.36,78.05 L577.15,76.61 L577.97,75.08 L578.79,73.52 L579.61,71.93 L580.42,70.36 L581.19,68.81 L581.92,67.33 L582.61,65.87 L583.29,64.37 L583.96,62.85 L584.61,61.32 L585.25,59.80 L585.88,58.31 L586.49,56.86 L587.10,55.47 L587.69,54.15 L588.27,52.92 L588.83,51.77 L589.36,50.66 L589.87,49.61 L590.37,48.62 L590.87,47.67 L591.35,46.78 L591.84,45.95 L592.34,45.16 L592.86,44.44 L593.39,43.77 L593.96,43.16 L594.59,42.62 L595.24,42.14 L595.91,41.72 L596.57,41.35 L597.21,41.03 L597.80,40.74 L598.33,40.49 L598.78,40.27 L599.12,40.08" fill="none" stroke="#4b55e8" stroke-width="0.9" clip-path="url(#clip126)"/>
<circle cx="569.56" cy="87.06" r="1.9" fill="#d62020"/>
<text x="536.30" y="44.70" font-size="10.5" text-anchor="start" font-weight="bold" fill="#111" >3</text>
<text x="531.10" y="44.80" font-size="8.4" text-anchor="end" font-weight="normal" fill="#111" textLength="7.9" lengthAdjust="spacingAndGlyphs" >50</text>
<text x="531.10" y="57.10" font-size="8.4" text-anchor="end" font-weight="normal" fill="#111" textLength="7.9" lengthAdjust="spacingAndGlyphs" >25</text>
<text x="531.10" y="69.40" font-size="8.4" text-anchor="end" font-weight="normal" fill="#111" textLength="4.0" lengthAdjust="spacingAndGlyphs" >0</text>
<text x="531.10" y="81.70" font-size="8.4" text-anchor="end" font-weight="normal" fill="#111" textLength="11.8" lengthAdjust="spacingAndGlyphs" >-25</text>
<text x="531.10" y="94.00" font-size="8.4" text-anchor="end" font-weight="normal" fill="#111" textLength="11.8" lengthAdjust="spacingAndGlyphs" >-50</text>
<text x="538.50" y="100.80" font-size="8.4" text-anchor="middle" font-weight="normal" fill="#111" textLength="8.0" lengthAdjust="spacingAndGlyphs" >06</text>
<text x="554.58" y="100.80" font-size="8.4" text-anchor="middle" font-weight="normal" fill="#111" textLength="8.0" lengthAdjust="spacingAndGlyphs" >12</text>
<text x="570.66" y="100.80" font-size="8.4" text-anchor="middle" font-weight="normal" fill="#111" textLength="8.0" lengthAdjust="spacingAndGlyphs" >18</text>
<text x="586.74" y="100.80" font-size="8.4" text-anchor="middle" font-weight="normal" fill="#111" textLength="8.0" lengthAdjust="spacingAndGlyphs" >00</text>
<text x="602.82" y="100.80" font-size="8.4" text-anchor="middle" font-weight="normal" fill="#111" textLength="8.0" lengthAdjust="spacingAndGlyphs" >06</text>
<text x="568.60" y="108.40" font-size="8.4" text-anchor="middle" font-weight="normal" fill="#111" textLength="61" lengthAdjust="spacingAndGlyphs" >Time of Day (hour)</text>
<text x="568.60" y="32.30" font-size="8.0" text-anchor="middle" font-weight="normal" fill="#111" textLength="70" lengthAdjust="spacingAndGlyphs" >2021-03-23 17:35:20</text>
<clipPath id="clip154"><rect x="477.5" y="241.8" width="71.0" height="59.5"/></clipPath>
<rect x="477.5" y="241.8" width="71.0" height="59.5" fill="#f1f1f1" stroke="#9a9a9a" stroke-width="0.8"/>
<line x1="477.5" y1="241.8" x2="548.5" y2="241.8" stroke="#555" stroke-width="1"/>
<line x1="482.90" y1="241.8" x2="482.90" y2="301.3" stroke="#8a8a8a" stroke-width="0.6" stroke-dasharray="1.6,1.2"/>
<line x1="498.98" y1="241.8" x2="498.98" y2="301.3" stroke="#8a8a8a" stroke-width="0.6" stroke-dasharray="1.6,1.2"/>
<line x1="515.06" y1="241.8" x2="515.06" y2="301.3" stroke="#8a8a8a" stroke-width="0.6" stroke-dasharray="1.6,1.2"/>
<line x1="531.14" y1="241.8" x2="531.14" y2="301.3" stroke="#8a8a8a" stroke-width="0.6" stroke-dasharray="1.6,1.2"/>
<line x1="547.22" y1="241.8" x2="547.22" y2="301.3" stroke="#8a8a8a" stroke-width="0.6" stroke-dasharray="1.6,1.2"/>
<line x1="477.5" y1="249.70" x2="548.5" y2="249.70" stroke="#8a8a8a" stroke-width="0.6" stroke-dasharray="1.6,1.2"/>
<line x1="477.5" y1="262.00" x2="548.5" y2="262.00" stroke="#8a8a8a" stroke-width="0.6" stroke-dasharray="1.6,1.2"/>
<line x1="477.5" y1="286.60" x2="548.5" y2="286.60" stroke="#8a8a8a" stroke-width="0.6" stroke-dasharray="1.6,1.2"/>
<line x1="477.5" y1="298.90" x2="548.5" y2="298.90" stroke="#8a8a8a" stroke-width="0.6" stroke-dasharray="1.6,1.2"/>
<line x1="480.22" y1="274.30" x2="543.74" y2="274.30" stroke="#a8a8a8" stroke-width="1.5"/>
<path d="M480.60,257.82 L480.81,257.85 L481.08,257.84 L481.38,257.83 L481.73,257.82 L482.11,257.83 L482.53,257.88 L482.97,257.98 L483.44,258.14 L483.92,258.40 L484.43,258.75 L484.97,259.21 L485.56,259.75 L486.19,260.36 L486.86,261.05 L487.54,261.78 L488.22,262.57 L488.90,263.40 L489.57,264.26 L490.21,265.14 L490.81,266.03 L491.36,266.95 L491.89,267.91 L492.39,268.91 L492.88,269.94 L493.37,271.00 L493.85,272.09 L494.34,273.21 L494.84,274.35 L495.37,275.52 L495.92,276.71 L496.52,277.97 L497.14,279.34 L497.79,280.78 L498.45,282.25 L499.12,283.73 L499.78,285.18 L500.44,286.56 L501.09,287.85 L501.71,289.00 L502.30,289.99 L502.86,290.85 L503.38,291.61 L503.88,292.29 L504.37,292.88 L504.85,293.39 L505.33,293.81 L505.81,294.15 L506.32,294.40 L506.84,294.57 L507.40,294.67 L507.99,294.66 L508.61,294.55 L509.25,294.33 L509.91,294.03 L510.58,293.65 L511.25,293.21 L511.91,292.72 L512.56,292.19 L513.18,291.64 L513.77,291.08 L514.34,290.48 L514.88,289.82 L515.40,289.11 L515.91,288.36 L516.41,287.57 L516.91,286.75 L517.40,285.92 L517.89,285.06 L518.39,284.21 L518.89,283.35 L519.39,282.49 L519.87,281.62 L520.34,280.72 L520.81,279.81 L521.28,278.89 L521.76,277.95 L522.27,276.99 L522.80,276.03 L523.37,275.05 L523.98,274.05 L524.66,273.02 L525.40,271.93 L526.18,270.80 L527.00,269.66 L527.83,268.51 L528.66,267.37 L529.48,266.28 L530.26,265.23 L531.00,264.26 L531.68,263.38 L532.28,262.59 L532.84,261.86 L533.35,261.20 L533.83,260.59 L534.29,260.03 L534.75,259.49 L535.21,258.97 L535.69,258.46 L536.21,257.95 L536.77,257.42 L537.40,256.88 L538.10,256.33 L538.85,255.78 L539.62,255.24 L540.40,254.72 L541.14,254.22 L541.84,253.77 L542.46,253.37 L542.99,253.02 L543.39,252.75" fill="none" stroke="#4b55e8" stroke-width="0.9" clip-path="url(#clip154)"/>
<circle cx="513.96" cy="291.08" r="1.9" fill="#d62020"/>
<text x="480.70" y="252.60" font-size="10.5" text-anchor="start" font-weight="bold" fill="#111" >2</text>
<text x="475.50" y="252.70" font-size="8.4" text-anchor="end" font-weight="normal" fill="#111" textLength="7.9" lengthAdjust="spacingAndGlyphs" >50</text>
<text x="475.50" y="265.00" font-size="8.4" text-anchor="end" font-weight="normal" fill="#111" textLength="7.9" lengthAdjust="spacingAndGlyphs" >25</text>
<text x="475.50" y="277.30" font-size="8.4" text-anchor="end" font-weight="normal" fill="#111" textLength="4.0" lengthAdjust="spacingAndGlyphs" >0</text>
<text x="475.50" y="289.60" font-size="8.4" text-anchor="end" font-weight="normal" fill="#111" textLength="11.8" lengthAdjust="spacingAndGlyphs" >-25</text>
<text x="475.50" y="301.90" font-size="8.4" text-anchor="end" font-weight="normal" fill="#111" textLength="11.8" lengthAdjust="spacingAndGlyphs" >-50</text>
<text x="482.90" y="308.70" font-size="8.4" text-anchor="middle" font-weight="normal" fill="#111" textLength="8.0" lengthAdjust="spacingAndGlyphs" >06</text>
<text x="498.98" y="308.70" font-size="8.4" text-anchor="middle" font-weight="normal" fill="#111" textLength="8.0" lengthAdjust="spacingAndGlyphs" >12</text>
<text x="515.06" y="308.70" font-size="8.4" text-anchor="middle" font-weight="normal" fill="#111" textLength="8.0" lengthAdjust="spacingAndGlyphs" >18</text>
<text x="531.14" y="308.70" font-size="8.4" text-anchor="middle" font-weight="normal" fill="#111" textLength="8.0" lengthAdjust="spacingAndGlyphs" >00</text>
<text x="547.22" y="308.70" font-size="8.4" text-anchor="middle" font-weight="normal" fill="#111" textLength="8.0" lengthAdjust="spacingAndGlyphs" >06</text>
<text x="513.00" y="316.30" font-size="8.4" text-anchor="middle" font-weight="normal" fill="#111" textLength="61" lengthAdjust="spacingAndGlyphs" >Time of Day (hour)</text>
<text x="513.00" y="240.20" font-size="8.0" text-anchor="middle" font-weight="normal" fill="#111" textLength="70" lengthAdjust="spacingAndGlyphs" >2021-02-20 17:35:20</text>
<clipPath id="clip182"><rect x="595.5" y="241.8" width="71.0" height="59.5"/></clipPath>
<rect x="595.5" y="241.8" width="71.0" height="59.5" fill="#f1f1f1" stroke="#9a9a9a" stroke-width="0.8"/>
<line x1="595.5" y1="241.8" x2="666.5" y2="241.8" stroke="#555" stroke-width="1"/>
<line x1="600.90" y1="241.8" x2="600.90" y2="301.3" stroke="#8a8a8a" stroke-width="0.6" stroke-dasharray="1.6,1.2"/>
<line x1="616.98" y1="241.8" x2="616.98" y2="301.3" stroke="#8a8a8a" stroke-width="0.6" stroke-dasharray="1.6,1.2"/>
<line x1="633.06" y1="241.8" x2="633.06" y2="301.3" stroke="#8a8a8a" stroke-width="0.6" stroke-dasharray="1.6,1.2"/>
<line x1="649.14" y1="241.8" x2="649.14" y2="301.3" stroke="#8a8a8a" stroke-width="0.6" stroke-dasharray="1.6,1.2"/>
<line x1="665.22" y1="241.8" x2="665.22" y2="301.3" stroke="#8a8a8a" stroke-width="0.6" stroke-dasharray="1.6,1.2"/>
<line x1="595.5" y1="249.70" x2="666.5" y2="249.70" stroke="#8a8a8a" stroke-width="0.6" stroke-dasharray="1.6,1.2"/>
<line x1="595.5" y1="262.00" x2="666.5" y2="262.00" stroke="#8a8a8a" stroke-width="0.6" stroke-dasharray="1.6,1.2"/>
<line x1="595.5" y1="286.60" x2="666.5" y2="286.60" stroke="#8a8a8a" stroke-width="0.6" stroke-dasharray="1.6,1.2"/>
<line x1="595.5" y1="298.90" x2="666.5" y2="298.90" stroke="#8a8a8a" stroke-width="0.6" stroke-dasharray="1.6,1.2"/>
<line x1="598.22" y1="274.30" x2="661.74" y2="274.30" stroke="#a8a8a8" stroke-width="1.5"/>
<path d="M598.33,247.83 L598.65,248.00 L599.07,248.19 L599.56,248.40 L600.12,248.64 L600.71,248.92 L601.33,249.24 L601.97,249.62 L602.59,250.07 L603.19,250.58 L603.74,251.18 L604.27,251.85 L604.79,252.60 L605.30,253.42 L605.82,254.30 L606.33,255.24 L606.84,256.23 L607.35,257.26 L607.86,258.34 L608.37,259.44 L608.89,260.57 L609.40,261.76 L609.89,263.03 L610.39,264.36 L610.88,265.74 L611.38,267.15 L611.88,268.57 L612.39,269.99 L612.92,271.38 L613.47,272.75 L614.03,274.05 L614.62,275.34 L615.24,276.62 L615.87,277.90 L616.51,279.17 L617.17,280.42 L617.83,281.64 L618.49,282.83 L619.16,283.98 L619.82,285.07 L620.46,286.11 L621.11,287.10 L621.78,288.08 L622.44,289.02 L623.11,289.92 L623.78,290.79 L624.44,291.59 L625.08,292.34 L625.71,293.03 L626.32,293.64 L626.90,294.18 L627.45,294.62 L627.97,294.98 L628.48,295.26 L628.97,295.48 L629.45,295.63 L629.91,295.75 L630.37,295.82 L630.82,295.88 L631.27,295.91 L631.72,295.95 L632.16,295.98 L632.59,296.01 L633.00,296.03 L633.40,296.02 L633.80,295.98 L634.21,295.89 L634.62,295.74 L635.04,295.53 L635.47,295.24 L635.93,294.87 L636.40,294.41 L636.87,293.89 L637.34,293.31 L637.83,292.66 L638.33,291.95 L638.84,291.18 L639.36,290.34 L639.91,289.45 L640.48,288.50 L641.07,287.49 L641.70,286.39 L642.37,285.19 L643.07,283.90 L643.79,282.55 L644.52,281.15 L645.26,279.72 L645.99,278.28 L646.71,276.84 L647.40,275.43 L648.07,274.05 L648.69,272.70 L649.29,271.35 L649.86,269.98 L650.42,268.62 L650.97,267.26 L651.52,265.90 L652.09,264.55 L652.68,263.21 L653.30,261.88 L653.96,260.57 L654.70,259.23 L655.52,257.81 L656.40,256.36 L657.31,254.90 L658.22,253.48 L659.10,252.13 L659.92,250.88 L660.65,249.76 L661.27,248.82 L661.74,248.08" fill="none" stroke="#4b55e8" stroke-width="0.9" clip-path="url(#clip182)"/>
<circle cx="631.96" cy="295.98" r="1.9" fill="#d62020"/>
<text x="598.70" y="252.60" font-size="10.5" text-anchor="start" font-weight="bold" fill="#111" >4</text>
<text x="593.50" y="252.70" font-size="8.4" text-anchor="end" font-weight="normal" fill="#111" textLength="7.9" lengthAdjust="spacingAndGlyphs" >50</text>
<text x="593.50" y="265.00" font-size="8.4" text-anchor="end" font-weight="normal" fill="#111" textLength="7.9" lengthAdjust="spacingAndGlyphs" >25</text>
<text x="593.50" y="277.30" font-size="8.4" text-anchor="end" font-weight="normal" fill="#111" textLength="4.0" lengthAdjust="spacingAndGlyphs" >0</text>
<text x="593.50" y="289.60" font-size="8.4" text-anchor="end" font-weight="normal" fill="#111" textLength="11.8" lengthAdjust="spacingAndGlyphs" >-25</text>
<text x="593.50" y="301.90" font-size="8.4" text-anchor="end" font-weight="normal" fill="#111" textLength="11.8" lengthAdjust="spacingAndGlyphs" >-50</text>
<text x="600.90" y="308.70" font-size="8.4" text-anchor="middle" font-weight="normal" fill="#111" textLength="8.0" lengthAdjust="spacingAndGlyphs" >06</text>
<text x="616.98" y="308.70" font-size="8.4" text-anchor="middle" font-weight="normal" fill="#111" textLength="8.0" lengthAdjust="spacingAndGlyphs" >12</text>
<text x="633.06" y="308.70" font-size="8.4" text-anchor="middle" font-weight="normal" fill="#111" textLength="8.0" lengthAdjust="spacingAndGlyphs" >18</text>
<text x="649.14" y="308.70" font-size="8.4" text-anchor="middle" font-weight="normal" fill="#111" textLength="8.0" lengthAdjust="spacingAndGlyphs" >00</text>
<text x="665.22" y="308.70" font-size="8.4" text-anchor="middle" font-weight="normal" fill="#111" textLength="8.0" lengthAdjust="spacingAndGlyphs" >06</text>
<text x="631.00" y="316.30" font-size="8.4" text-anchor="middle" font-weight="normal" fill="#111" textLength="61" lengthAdjust="spacingAndGlyphs" >Time of Day (hour)</text>
<text x="631.00" y="240.20" font-size="8.0" text-anchor="middle" font-weight="normal" fill="#111" textLength="70" lengthAdjust="spacingAndGlyphs" >2021-03-24 17:35:20</text>
<text x="369.00" y="38.70" font-size="11.8" text-anchor="end" font-weight="normal" fill="#1a1a1a" textLength="16.0" lengthAdjust="spacingAndGlyphs" >150</text>
<line x1="368.7" y1="34.50" x2="371.2" y2="34.50" stroke="#999" stroke-width="0.8"/>
<text x="369.00" y="87.40" font-size="11.8" text-anchor="end" font-weight="normal" fill="#1a1a1a" textLength="16.0" lengthAdjust="spacingAndGlyphs" >100</text>
<line x1="368.7" y1="83.20" x2="371.2" y2="83.20" stroke="#999" stroke-width="0.8"/>
<text x="369.00" y="136.10" font-size="11.8" text-anchor="end" font-weight="normal" fill="#1a1a1a" textLength="10.6" lengthAdjust="spacingAndGlyphs" >50</text>
<line x1="368.7" y1="131.90" x2="371.2" y2="131.90" stroke="#999" stroke-width="0.8"/>
<text x="369.00" y="184.80" font-size="11.8" text-anchor="end" font-weight="normal" fill="#1a1a1a" textLength="5.3" lengthAdjust="spacingAndGlyphs" >0</text>
<line x1="368.7" y1="180.60" x2="371.2" y2="180.60" stroke="#999" stroke-width="0.8"/>
<text x="369.00" y="233.50" font-size="11.8" text-anchor="end" font-weight="normal" fill="#1a1a1a" textLength="16.0" lengthAdjust="spacingAndGlyphs" >-50</text>
<line x1="368.7" y1="229.30" x2="371.2" y2="229.30" stroke="#999" stroke-width="0.8"/>
<text x="369.00" y="282.20" font-size="11.8" text-anchor="end" font-weight="normal" fill="#1a1a1a" textLength="20.5" lengthAdjust="spacingAndGlyphs" >-100</text>
<line x1="368.7" y1="278.00" x2="371.2" y2="278.00" stroke="#999" stroke-width="0.8"/>
<text x="405.50" y="332.80" font-size="10.3" text-anchor="middle" font-weight="normal" fill="#1a1a1a" textLength="24.7" lengthAdjust="spacingAndGlyphs" >02/15</text>
<text x="453.50" y="332.80" font-size="10.3" text-anchor="middle" font-weight="normal" fill="#1a1a1a" textLength="24.7" lengthAdjust="spacingAndGlyphs" >02/22</text>
<text x="501.50" y="332.80" font-size="10.3" text-anchor="middle" font-weight="normal" fill="#1a1a1a" textLength="24.7" lengthAdjust="spacingAndGlyphs" >03/01</text>
<text x="549.50" y="332.80" font-size="10.3" text-anchor="middle" font-weight="normal" fill="#1a1a1a" textLength="24.7" lengthAdjust="spacingAndGlyphs" >03/08</text>
<text x="597.50" y="332.80" font-size="10.3" text-anchor="middle" font-weight="normal" fill="#1a1a1a" textLength="24.7" lengthAdjust="spacingAndGlyphs" >03/15</text>
<text x="645.50" y="332.80" font-size="10.3" text-anchor="middle" font-weight="normal" fill="#1a1a1a" textLength="24.7" lengthAdjust="spacingAndGlyphs" >03/22</text>
<text x="354.80" y="165.90" font-size="11.5" text-anchor="middle" font-weight="normal" fill="#1a1a1a" textLength="43" lengthAdjust="spacingAndGlyphs" transform="rotate(-90 354.80 165.90)" >SSH (cm)</text>
<text x="383.00" y="27.00" font-size="10.5" text-anchor="start" font-weight="bold" fill="#111" textLength="12.4" lengthAdjust="spacingAndGlyphs" >(b)</text>
<rect x="371.2" y="346.4" width="307.2" height="313.0" fill="#fff"/>
<line x1="394.50" y1="346.4" x2="394.50" y2="659.4" stroke="#d4d4d4" stroke-width="0.7" stroke-dasharray="1.5,1"/>
<line x1="430.50" y1="346.4" x2="430.50" y2="659.4" stroke="#d4d4d4" stroke-width="0.7" stroke-dasharray="1.5,1"/>
<line x1="466.50" y1="346.4" x2="466.50" y2="659.4" stroke="#d4d4d4" stroke-width="0.7" stroke-dasharray="1.5,1"/>
<line x1="502.50" y1="346.4" x2="502.50" y2="659.4" stroke="#d4d4d4" stroke-width="0.7" stroke-dasharray="1.5,1"/>
<line x1="538.50" y1="346.4" x2="538.50" y2="659.4" stroke="#d4d4d4" stroke-width="0.7" stroke-dasharray="1.5,1"/>
<line x1="574.50" y1="346.4" x2="574.50" y2="659.4" stroke="#d4d4d4" stroke-width="0.7" stroke-dasharray="1.5,1"/>
<line x1="610.50" y1="346.4" x2="610.50" y2="659.4" stroke="#d4d4d4" stroke-width="0.7" stroke-dasharray="1.5,1"/>
<line x1="646.50" y1="346.4" x2="646.50" y2="659.4" stroke="#d4d4d4" stroke-width="0.7" stroke-dasharray="1.5,1"/>
<line x1="673.50" y1="346.4" x2="673.50" y2="659.4" stroke="#d4d4d4" stroke-width="0.7" stroke-dasharray="1.5,1"/>
<line x1="371.2" y1="371.50" x2="678.4" y2="371.50" stroke="#d4d4d4" stroke-width="0.7" stroke-dasharray="1.5,1"/>
<line x1="371.2" y1="420.20" x2="678.4" y2="420.20" stroke="#d4d4d4" stroke-width="0.7" stroke-dasharray="1.5,1"/>
<line x1="371.2" y1="468.90" x2="678.4" y2="468.90" stroke="#d4d4d4" stroke-width="0.7" stroke-dasharray="1.5,1"/>
<line x1="371.2" y1="517.60" x2="678.4" y2="517.60" stroke="#d4d4d4" stroke-width="0.7" stroke-dasharray="1.5,1"/>
<line x1="371.2" y1="566.30" x2="678.4" y2="566.30" stroke="#d4d4d4" stroke-width="0.7" stroke-dasharray="1.5,1"/>
<line x1="371.2" y1="615.00" x2="678.4" y2="615.00" stroke="#d4d4d4" stroke-width="0.7" stroke-dasharray="1.5,1"/>
<line x1="371.2" y1="346.4" x2="678.4" y2="346.4" stroke="#b8b8b8" stroke-width="1"/>
<line x1="678.4" y1="346.4" x2="678.4" y2="659.4" stroke="#b8b8b8" stroke-width="1"/>
<line x1="371.2" y1="659.4" x2="678.4" y2="659.4" stroke="#a8a8a8" stroke-width="1"/>
<line x1="371.2" y1="346.4" x2="371.2" y2="659.4" stroke="#dcdcdc" stroke-width="1.8"/>
<path d="M385.58,555.60 L386.10,551.83 L386.63,541.25 L387.15,525.98 L387.68,509.02 L388.20,493.75 L388.73,483.17 L389.25,479.40 L390.10,482.86 L390.94,492.56 L391.78,506.57 L392.63,522.13 L393.47,536.14 L394.32,545.84 L395.16,549.30 L395.61,546.71 L396.06,539.45 L396.51,528.97 L396.96,517.33 L397.41,506.85 L397.86,499.59 L398.31,497.00 L398.74,498.25 L399.17,501.74 L399.60,506.80 L400.03,512.40 L400.47,517.46 L400.90,520.95 L401.33,522.20 L401.44,522.08 L401.55,521.75 L401.67,521.27 L401.78,520.73 L401.89,520.25 L402.00,519.92 L402.12,519.80 L402.49,520.62 L402.87,522.93 L403.24,526.25 L403.62,529.95 L403.99,533.27 L404.37,535.58 L404.74,536.40 L405.10,535.35 L405.45,532.39 L405.81,528.12 L406.17,523.38 L406.52,519.11 L406.88,516.15 L407.23,515.10 L407.53,515.69 L407.83,517.34 L408.13,519.73 L408.43,522.37 L408.73,524.76 L409.03,526.41 L409.33,527.00 L409.71,526.08 L410.08,523.50 L410.46,519.77 L410.83,515.63 L411.21,511.90 L411.58,509.32 L411.96,508.40 L412.78,509.88 L413.61,514.03 L414.43,520.02 L415.26,526.68 L416.08,532.67 L416.91,536.82 L417.73,538.30 L418.30,536.22 L418.86,530.39 L419.42,521.97 L419.98,512.63 L420.55,504.21 L421.11,498.38 L421.67,496.30 L422.29,499.04 L422.91,506.73 L423.53,517.84 L424.15,530.16 L424.77,541.27 L425.38,548.96 L426.00,551.70 L426.73,548.25 L427.47,538.58 L428.20,524.60 L428.93,509.10 L429.66,495.12 L430.39,485.45 L431.12,482.00 L431.74,485.93 L432.36,496.93 L432.98,512.83 L433.60,530.47 L434.22,546.37 L434.83,557.37 L435.45,561.30 L436.18,556.72 L436.92,543.91 L437.65,525.38 L438.38,504.82 L439.11,486.29 L439.84,473.48 L440.57,468.90 L441.19,473.78 L441.81,487.44 L442.43,507.19 L443.05,529.11 L443.67,548.86 L444.28,562.52 L444.90,567.40 L445.65,562.07 L446.40,547.12 L447.15,525.53 L447.90,501.57 L448.65,479.98 L449.40,465.03 L450.15,459.70 L450.77,465.09 L451.39,480.18 L452.01,501.99 L452.63,526.21 L453.25,548.02 L453.87,563.11 L454.49,568.50 L455.22,562.87 L455.95,547.08 L456.68,524.26 L457.41,498.94 L458.14,476.12 L458.87,460.33 L459.60,454.70 L460.22,460.26 L460.84,475.84 L461.46,498.36 L462.08,523.34 L462.70,545.86 L463.32,561.44 L463.94,567.00 L464.67,561.44 L465.40,545.86 L466.13,523.34 L466.86,498.36 L467.59,475.84 L468.32,460.26 L469.05,454.70 L469.67,459.96 L470.29,474.69 L470.91,495.98 L471.53,519.62 L472.15,540.91 L472.77,555.64 L473.39,560.90 L474.08,555.82 L474.77,541.60 L475.47,521.05 L476.16,498.25 L476.85,477.70 L477.55,463.48 L478.24,458.40 L478.86,463.15 L479.48,476.45 L480.10,495.68 L480.72,517.02 L481.34,536.25 L481.95,549.55 L482.57,554.30 L483.27,549.91 L483.96,537.60 L484.65,519.82 L485.35,500.08 L486.04,482.30 L486.74,469.99 L487.43,465.60 L488.12,469.67 L488.82,481.06 L489.51,497.52 L490.20,515.78 L490.90,532.24 L491.59,543.63 L492.29,547.70 L492.90,544.18 L493.52,534.32 L494.14,520.06 L494.76,504.24 L495.38,489.98 L496.00,480.12 L496.62,476.60 L497.40,479.85 L498.19,488.95 L498.98,502.10 L499.77,516.70 L500.55,529.85 L501.34,538.95 L502.13,542.20 L502.65,539.55 L503.18,532.11 L503.70,521.36 L504.23,509.44 L504.75,498.69 L505.28,491.25 L505.80,488.60 L506.63,490.99 L507.45,497.67 L508.28,507.34 L509.11,518.06 L509.93,527.73 L510.76,534.41 L511.58,536.80 L512.09,535.06 L512.59,530.19 L513.10,523.16 L513.61,515.34 L514.11,508.31 L514.62,503.44 L515.12,501.70 L515.93,503.17 L516.74,507.27 L517.54,513.21 L518.35,519.79 L519.16,525.73 L519.96,529.83 L520.77,531.30 L521.18,530.46 L521.59,528.12 L522.01,524.73 L522.42,520.97 L522.83,517.58 L523.24,515.24 L523.66,514.40 L523.96,514.68 L524.26,515.45 L524.56,516.58 L524.86,517.82 L525.16,518.95 L525.46,519.72 L525.76,520.00 L526.11,519.58 L526.47,518.42 L526.82,516.73 L527.18,514.87 L527.54,513.18 L527.89,512.02 L528.25,511.60 L528.83,512.51 L529.41,515.06 L529.99,518.75 L530.57,522.85 L531.16,526.54 L531.74,529.09 L532.32,530.00 L532.94,528.69 L533.56,525.01 L534.17,519.70 L534.79,513.80 L535.41,508.49 L536.03,504.81 L536.65,503.50 L537.59,505.37 L538.52,510.60 L539.46,518.16 L540.40,526.54 L541.34,534.10 L542.27,539.33 L543.21,541.20 L543.76,539.03 L544.30,532.95 L544.84,524.17 L545.39,514.43 L545.93,505.65 L546.47,499.57 L547.02,497.40 L547.82,500.00 L548.63,507.28 L549.44,517.81 L550.24,529.49 L551.05,540.02 L551.86,547.30 L552.66,549.90 L553.21,547.03 L553.75,538.98 L554.29,527.35 L554.84,514.45 L555.38,502.82 L555.92,494.77 L556.47,491.90 L557.29,495.06 L558.12,503.93 L558.94,516.74 L559.77,530.96 L560.59,543.77 L561.42,552.64 L562.24,555.80 L562.81,552.38 L563.37,542.81 L563.93,528.98 L564.49,513.62 L565.06,499.79 L565.62,490.22 L566.18,486.80 L566.97,490.47 L567.76,500.75 L568.54,515.61 L569.33,532.09 L570.12,546.95 L570.91,557.23 L571.69,560.90 L572.28,556.97 L572.86,545.97 L573.44,530.07 L574.02,512.43 L574.60,496.53 L575.18,485.53 L575.76,481.60 L576.53,485.60 L577.30,496.81 L578.07,513.01 L578.84,530.99 L579.61,547.19 L580.38,558.40 L581.14,562.40 L581.76,558.10 L582.38,546.04 L583.00,528.62 L583.62,509.28 L584.24,491.86 L584.86,479.80 L585.48,475.50 L586.13,479.73 L586.79,491.60 L587.44,508.74 L588.10,527.76 L588.76,544.90 L589.41,556.77 L590.07,561.00 L590.73,556.44 L591.38,543.66 L592.04,525.20 L592.69,504.70 L593.35,486.24 L594.01,473.46 L594.66,468.90 L595.32,473.36 L595.98,485.86 L596.63,503.93 L597.29,523.97 L597.94,542.04 L598.60,554.54 L599.26,559.00 L599.95,554.43 L600.64,541.62 L601.34,523.12 L602.03,502.58 L602.73,484.08 L603.42,471.27 L604.11,466.70 L604.73,471.26 L605.35,484.02 L605.97,502.46 L606.59,522.94 L607.21,541.38 L607.83,554.14 L608.44,558.70 L609.19,554.20 L609.94,541.59 L610.69,523.36 L611.44,503.14 L612.19,484.91 L612.94,472.30 L613.69,467.80 L614.30,472.05 L614.90,483.97 L615.50,501.19 L616.10,520.31 L616.70,537.53 L617.30,549.45 L617.90,553.70 L618.54,549.61 L619.19,538.15 L619.83,521.59 L620.47,503.21 L621.11,486.65 L621.76,475.19 L622.40,471.10 L623.24,475.04 L624.09,486.09 L624.93,502.04 L625.77,519.76 L626.61,535.71 L627.46,546.76 L628.30,550.70 L628.77,547.16 L629.24,537.26 L629.71,522.94 L630.19,507.06 L630.66,492.74 L631.13,482.84 L631.60,479.30 L632.57,482.72 L633.54,492.31 L634.51,506.16 L635.49,521.54 L636.46,535.39 L637.43,544.98 L638.40,548.40 L638.81,545.68 L639.23,538.06 L639.64,527.06 L640.06,514.84 L640.47,503.84 L640.89,496.22 L641.30,493.50 L641.64,495.11 L641.99,499.62 L642.33,506.13 L642.67,513.37 L643.01,519.88 L643.36,524.39 L643.70,526.00 L643.94,525.41 L644.19,523.76 L644.43,521.37 L644.67,518.73 L644.91,516.34 L645.16,514.69 L645.40,514.10 L645.74,515.59 L646.09,519.77 L646.43,525.80 L646.77,532.50 L647.11,538.53 L647.46,542.71 L647.80,544.20 L648.19,542.60 L648.57,538.10 L648.96,531.60 L649.34,524.40 L649.73,517.90 L650.11,513.40 L650.50,511.80 L650.79,512.65 L651.07,515.02 L651.36,518.45 L651.64,522.25 L651.93,525.68 L652.21,528.05 L652.50,528.90 L652.84,527.41 L653.19,523.23 L653.53,517.20 L653.87,510.50 L654.21,504.47 L654.56,500.29 L654.90,498.80 L655.31,500.82 L655.73,506.46 L656.14,514.62 L656.56,523.68 L656.97,531.84 L657.39,537.48 L657.80,539.50 L658.06,539.03 L658.31,537.73 L658.57,535.85 L658.83,533.75 L659.09,531.87 L659.34,530.57 L659.60,530.10 L659.86,530.48 L660.11,531.55 L660.37,533.09 L660.63,534.81 L660.89,536.35 L661.14,537.42 L661.40,537.80 L661.87,535.20 L662.34,527.90 L662.81,517.35 L663.29,505.65 L663.76,495.10 L664.23,487.80 L664.70,485.20 L664.81,485.49 L664.93,486.31 L665.04,487.49 L665.16,488.81 L665.27,489.99 L665.39,490.81 L665.39,490.81" fill="none" stroke="#3f8ac6" stroke-width="0.85" stroke-opacity="0.9" stroke-linejoin="round"/>
<line x1="384.78" y1="517.60" x2="665.40" y2="517.60" stroke="#5a6a72" stroke-width="1"/>
<rect x="450.38" y="453.80" width="18.00" height="116.88" fill="#9c9c9c" fill-opacity="0.45" stroke="#8c8c8c" stroke-width="0.8"/>
<line x1="459.38" y1="453.80" x2="459.38" y2="570.68" stroke="#6a6a6a" stroke-width="0.8"/>
<text x="454.88" y="463.00" font-size="10.5" text-anchor="middle" font-weight="bold" fill="#111" >1</text>
<text x="463.88" y="463.00" font-size="10.5" text-anchor="middle" font-weight="bold" fill="#111" >2</text>
<circle cx="455.10" cy="559.45" r="1.9" fill="#d62020"/>
<circle cx="464.10" cy="561.95" r="1.9" fill="#d62020"/>
<rect x="594.38" y="453.80" width="18.00" height="116.88" fill="#9c9c9c" fill-opacity="0.45" stroke="#8c8c8c" stroke-width="0.8"/>
<line x1="603.38" y1="453.80" x2="603.38" y2="570.68" stroke="#6a6a6a" stroke-width="0.8"/>
<text x="598.88" y="463.00" font-size="10.5" text-anchor="middle" font-weight="bold" fill="#111" >3</text>
<text x="607.88" y="463.00" font-size="10.5" text-anchor="middle" font-weight="bold" fill="#111" >4</text>
<circle cx="599.10" cy="558.51" r="1.9" fill="#d62020"/>
<circle cx="608.10" cy="560.53" r="1.9" fill="#d62020"/>
<clipPath id="clip264"><rect x="407.2" y="370.9" width="71.0" height="59.5"/></clipPath>
<rect x="407.2" y="370.9" width="71.0" height="59.5" fill="#f1f1f1" stroke="#9a9a9a" stroke-width="0.8"/>
<line x1="407.2" y1="370.9" x2="478.2" y2="370.9" stroke="#555" stroke-width="1"/>
<line x1="412.60" y1="370.9" x2="412.60" y2="430.4" stroke="#8a8a8a" stroke-width="0.6" stroke-dasharray="1.6,1.2"/>
<line x1="428.68" y1="370.9" x2="428.68" y2="430.4" stroke="#8a8a8a" stroke-width="0.6" stroke-dasharray="1.6,1.2"/>
<line x1="444.76" y1="370.9" x2="444.76" y2="430.4" stroke="#8a8a8a" stroke-width="0.6" stroke-dasharray="1.6,1.2"/>
<line x1="460.84" y1="370.9" x2="460.84" y2="430.4" stroke="#8a8a8a" stroke-width="0.6" stroke-dasharray="1.6,1.2"/>
<line x1="476.92" y1="370.9" x2="476.92" y2="430.4" stroke="#8a8a8a" stroke-width="0.6" stroke-dasharray="1.6,1.2"/>
<line x1="407.2" y1="378.80" x2="478.2" y2="378.80" stroke="#8a8a8a" stroke-width="0.6" stroke-dasharray="1.6,1.2"/>
<line x1="407.2" y1="391.10" x2="478.2" y2="391.10" stroke="#8a8a8a" stroke-width="0.6" stroke-dasharray="1.6,1.2"/>
<line x1="407.2" y1="415.70" x2="478.2" y2="415.70" stroke="#8a8a8a" stroke-width="0.6" stroke-dasharray="1.6,1.2"/>
<line x1="407.2" y1="428.00" x2="478.2" y2="428.00" stroke="#8a8a8a" stroke-width="0.6" stroke-dasharray="1.6,1.2"/>
<line x1="409.92" y1="403.40" x2="473.44" y2="403.40" stroke="#a8a8a8" stroke-width="1.5"/>
<path d="M410.32,373.63 L410.66,374.11 L411.09,374.67 L411.60,375.32 L412.16,376.05 L412.78,376.87 L413.43,377.78 L414.09,378.78 L414.76,379.86 L415.41,381.03 L416.03,382.29 L416.64,383.68 L417.26,385.21 L417.88,386.86 L418.52,388.61 L419.15,390.43 L419.80,392.30 L420.44,394.19 L421.08,396.08 L421.72,397.95 L422.36,399.76 L422.99,401.58 L423.64,403.48 L424.29,405.42 L424.94,407.38 L425.59,409.32 L426.24,411.23 L426.87,413.07 L427.49,414.81 L428.10,416.44 L428.68,417.91 L429.25,419.26 L429.81,420.52 L430.36,421.69 L430.90,422.78 L431.43,423.78 L431.94,424.70 L432.43,425.54 L432.90,426.30 L433.35,426.99 L433.77,427.61 L434.15,428.14 L434.47,428.58 L434.76,428.93 L435.01,429.21 L435.26,429.41 L435.52,429.54 L435.79,429.61 L436.11,429.61 L436.47,429.57 L436.91,429.48 L437.41,429.33 L437.96,429.12 L438.55,428.85 L439.18,428.52 L439.83,428.13 L440.50,427.68 L441.19,427.17 L441.88,426.60 L442.56,425.97 L443.23,425.29 L443.90,424.54 L444.57,423.69 L445.26,422.78 L445.94,421.80 L446.64,420.77 L447.34,419.70 L448.04,418.61 L448.76,417.50 L449.48,416.40 L450.20,415.31 L450.94,414.21 L451.70,413.10 L452.47,411.97 L453.25,410.82 L454.04,409.66 L454.82,408.48 L455.59,407.29 L456.34,406.09 L457.08,404.87 L457.78,403.65 L458.47,402.40 L459.14,401.12 L459.80,399.82 L460.44,398.50 L461.08,397.18 L461.70,395.85 L462.30,394.53 L462.90,393.23 L463.48,391.95 L464.06,390.71 L464.62,389.47 L465.17,388.22 L465.70,386.97 L466.23,385.73 L466.74,384.51 L467.24,383.32 L467.74,382.17 L468.22,381.07 L468.69,380.02 L469.15,379.05 L469.61,378.12 L470.08,377.22 L470.56,376.35 L471.03,375.52 L471.48,374.75 L471.90,374.03 L472.29,373.39 L472.64,372.81 L472.93,372.32 L473.17,371.91" fill="none" stroke="#4b55e8" stroke-width="0.9" clip-path="url(#clip264)"/>
<circle cx="443.66" cy="424.54" r="1.9" fill="#d62020"/>
<text x="410.40" y="381.70" font-size="10.5" text-anchor="start" font-weight="bold" fill="#111" >1</text>
<text x="405.20" y="381.80" font-size="8.4" text-anchor="end" font-weight="normal" fill="#111" textLength="7.9" lengthAdjust="spacingAndGlyphs" >50</text>
<text x="405.20" y="394.10" font-size="8.4" text-anchor="end" font-weight="normal" fill="#111" textLength="7.9" lengthAdjust="spacingAndGlyphs" >25</text>
<text x="405.20" y="406.40" font-size="8.4" text-anchor="end" font-weight="normal" fill="#111" textLength="4.0" lengthAdjust="spacingAndGlyphs" >0</text>
<text x="405.20" y="418.70" font-size="8.4" text-anchor="end" font-weight="normal" fill="#111" textLength="11.8" lengthAdjust="spacingAndGlyphs" >-25</text>
<text x="405.20" y="431.00" font-size="8.4" text-anchor="end" font-weight="normal" fill="#111" textLength="11.8" lengthAdjust="spacingAndGlyphs" >-50</text>
<text x="412.60" y="437.80" font-size="8.4" text-anchor="middle" font-weight="normal" fill="#111" textLength="8.0" lengthAdjust="spacingAndGlyphs" >06</text>
<text x="428.68" y="437.80" font-size="8.4" text-anchor="middle" font-weight="normal" fill="#111" textLength="8.0" lengthAdjust="spacingAndGlyphs" >12</text>
<text x="444.76" y="437.80" font-size="8.4" text-anchor="middle" font-weight="normal" fill="#111" textLength="8.0" lengthAdjust="spacingAndGlyphs" >18</text>
<text x="460.84" y="437.80" font-size="8.4" text-anchor="middle" font-weight="normal" fill="#111" textLength="8.0" lengthAdjust="spacingAndGlyphs" >00</text>
<text x="476.92" y="437.80" font-size="8.4" text-anchor="middle" font-weight="normal" fill="#111" textLength="8.0" lengthAdjust="spacingAndGlyphs" >06</text>
<text x="442.70" y="445.40" font-size="8.4" text-anchor="middle" font-weight="normal" fill="#111" textLength="61" lengthAdjust="spacingAndGlyphs" >Time of Day (hour)</text>
<text x="442.70" y="369.30" font-size="8.0" text-anchor="middle" font-weight="normal" fill="#111" textLength="70" lengthAdjust="spacingAndGlyphs" >2021-03-07 17:35:20</text>
<clipPath id="clip292"><rect x="533.1" y="370.9" width="71.0" height="59.5"/></clipPath>
<rect x="533.1" y="370.9" width="71.0" height="59.5" fill="#f1f1f1" stroke="#9a9a9a" stroke-width="0.8"/>
<line x1="533.1" y1="370.9" x2="604.1" y2="370.9" stroke="#555" stroke-width="1"/>
<line x1="538.50" y1="370.9" x2="538.50" y2="430.4" stroke="#8a8a8a" stroke-width="0.6" stroke-dasharray="1.6,1.2"/>
<line x1="554.58" y1="370.9" x2="554.58" y2="430.4" stroke="#8a8a8a" stroke-width="0.6" stroke-dasharray="1.6,1.2"/>
<line x1="570.66" y1="370.9" x2="570.66" y2="430.4" stroke="#8a8a8a" stroke-width="0.6" stroke-dasharray="1.6,1.2"/>
<line x1="586.74" y1="370.9" x2="586.74" y2="430.4" stroke="#8a8a8a" stroke-width="0.6" stroke-dasharray="1.6,1.2"/>
<line x1="602.82" y1="370.9" x2="602.82" y2="430.4" stroke="#8a8a8a" stroke-width="0.6" stroke-dasharray="1.6,1.2"/>
<line x1="533.1" y1="378.80" x2="604.1" y2="378.80" stroke="#8a8a8a" stroke-width="0.6" stroke-dasharray="1.6,1.2"/>
<line x1="533.1" y1="391.10" x2="604.1" y2="391.10" stroke="#8a8a8a" stroke-width="0.6" stroke-dasharray="1.6,1.2"/>
<line x1="533.1" y1="415.70" x2="604.1" y2="415.70" stroke="#8a8a8a" stroke-width="0.6" stroke-dasharray="1.6,1.2"/>
<line x1="533.1" y1="428.00" x2="604.1" y2="428.00" stroke="#8a8a8a" stroke-width="0.6" stroke-dasharray="1.6,1.2"/>
<line x1="535.82" y1="403.40" x2="599.34" y2="403.40" stroke="#a8a8a8" stroke-width="1.5"/>
<path d="M536.20,379.44 L536.63,379.87 L537.20,380.39 L537.86,380.98 L538.61,381.65 L539.41,382.40 L540.26,383.23 L541.12,384.14 L541.98,385.13 L542.81,386.20 L543.59,387.36 L544.35,388.63 L545.13,390.04 L545.91,391.56 L546.70,393.16 L547.49,394.84 L548.27,396.55 L549.04,398.29 L549.80,400.02 L550.54,401.74 L551.26,403.40 L551.94,405.08 L552.60,406.85 L553.24,408.66 L553.87,410.50 L554.49,412.31 L555.10,414.08 L555.71,415.77 L556.34,417.34 L556.98,418.77 L557.64,420.03 L558.32,421.13 L559.03,422.12 L559.76,423.00 L560.50,423.79 L561.24,424.47 L561.97,425.06 L562.69,425.55 L563.38,425.96 L564.04,426.28 L564.66,426.52 L565.23,426.65 L565.77,426.65 L566.28,426.54 L566.76,426.32 L567.23,426.04 L567.68,425.69 L568.13,425.30 L568.58,424.89 L569.04,424.47 L569.51,424.06 L569.97,423.69 L570.41,423.32 L570.84,422.95 L571.26,422.56 L571.69,422.13 L572.13,421.63 L572.59,421.06 L573.09,420.40 L573.63,419.62 L574.22,418.70 L574.88,417.63 L575.59,416.40 L576.36,415.05 L577.15,413.61 L577.97,412.08 L578.79,410.52 L579.61,408.93 L580.42,407.36 L581.19,405.81 L581.92,404.33 L582.61,402.87 L583.29,401.37 L583.96,399.85 L584.61,398.32 L585.25,396.80 L585.88,395.31 L586.49,393.86 L587.10,392.47 L587.69,391.15 L588.27,389.92 L588.83,388.77 L589.36,387.66 L589.87,386.61 L590.37,385.62 L590.87,384.67 L591.35,383.78 L591.84,382.95 L592.34,382.16 L592.86,381.44 L593.39,380.77 L593.96,380.16 L594.59,379.62 L595.24,379.14 L595.91,378.72 L596.57,378.35 L597.21,378.03 L597.80,377.74 L598.33,377.49 L598.78,377.27 L599.12,377.08" fill="none" stroke="#4b55e8" stroke-width="0.9" clip-path="url(#clip292)"/>
<circle cx="569.56" cy="424.06" r="1.9" fill="#d62020"/>
<text x="536.30" y="381.70" font-size="10.5" text-anchor="start" font-weight="bold" fill="#111" >3</text>
<text x="531.10" y="381.80" font-size="8.4" text-anchor="end" font-weight="normal" fill="#111" textLength="7.9" lengthAdjust="spacingAndGlyphs" >50</text>
<text x="531.10" y="394.10" font-size="8.4" text-anchor="end" font-weight="normal" fill="#111" textLength="7.9" lengthAdjust="spacingAndGlyphs" >25</text>
<text x="531.10" y="406.40" font-size="8.4" text-anchor="end" font-weight="normal" fill="#111" textLength="4.0" lengthAdjust="spacingAndGlyphs" >0</text>
<text x="531.10" y="418.70" font-size="8.4" text-anchor="end" font-weight="normal" fill="#111" textLength="11.8" lengthAdjust="spacingAndGlyphs" >-25</text>
<text x="531.10" y="431.00" font-size="8.4" text-anchor="end" font-weight="normal" fill="#111" textLength="11.8" lengthAdjust="spacingAndGlyphs" >-50</text>
<text x="538.50" y="437.80" font-size="8.4" text-anchor="middle" font-weight="normal" fill="#111" textLength="8.0" lengthAdjust="spacingAndGlyphs" >06</text>
<text x="554.58" y="437.80" font-size="8.4" text-anchor="middle" font-weight="normal" fill="#111" textLength="8.0" lengthAdjust="spacingAndGlyphs" >12</text>
<text x="570.66" y="437.80" font-size="8.4" text-anchor="middle" font-weight="normal" fill="#111" textLength="8.0" lengthAdjust="spacingAndGlyphs" >18</text>
<text x="586.74" y="437.80" font-size="8.4" text-anchor="middle" font-weight="normal" fill="#111" textLength="8.0" lengthAdjust="spacingAndGlyphs" >00</text>
<text x="602.82" y="437.80" font-size="8.4" text-anchor="middle" font-weight="normal" fill="#111" textLength="8.0" lengthAdjust="spacingAndGlyphs" >06</text>
<text x="568.60" y="445.40" font-size="8.4" text-anchor="middle" font-weight="normal" fill="#111" textLength="61" lengthAdjust="spacingAndGlyphs" >Time of Day (hour)</text>
<text x="568.60" y="369.30" font-size="8.0" text-anchor="middle" font-weight="normal" fill="#111" textLength="70" lengthAdjust="spacingAndGlyphs" >2021-03-23 17:35:20</text>
<clipPath id="clip320"><rect x="477.5" y="578.8" width="71.0" height="59.5"/></clipPath>
<rect x="477.5" y="578.8" width="71.0" height="59.5" fill="#f1f1f1" stroke="#9a9a9a" stroke-width="0.8"/>
<line x1="477.5" y1="578.8" x2="548.5" y2="578.8" stroke="#555" stroke-width="1"/>
<line x1="482.90" y1="578.8" x2="482.90" y2="638.3" stroke="#8a8a8a" stroke-width="0.6" stroke-dasharray="1.6,1.2"/>
<line x1="498.98" y1="578.8" x2="498.98" y2="638.3" stroke="#8a8a8a" stroke-width="0.6" stroke-dasharray="1.6,1.2"/>
<line x1="515.06" y1="578.8" x2="515.06" y2="638.3" stroke="#8a8a8a" stroke-width="0.6" stroke-dasharray="1.6,1.2"/>
<line x1="531.14" y1="578.8" x2="531.14" y2="638.3" stroke="#8a8a8a" stroke-width="0.6" stroke-dasharray="1.6,1.2"/>
<line x1="547.22" y1="578.8" x2="547.22" y2="638.3" stroke="#8a8a8a" stroke-width="0.6" stroke-dasharray="1.6,1.2"/>
<line x1="477.5" y1="586.70" x2="548.5" y2="586.70" stroke="#8a8a8a" stroke-width="0.6" stroke-dasharray="1.6,1.2"/>
<line x1="477.5" y1="599.00" x2="548.5" y2="599.00" stroke="#8a8a8a" stroke-width="0.6" stroke-dasharray="1.6,1.2"/>
<line x1="477.5" y1="623.60" x2="548.5" y2="623.60" stroke="#8a8a8a" stroke-width="0.6" stroke-dasharray="1.6,1.2"/>
<line x1="477.5" y1="635.90" x2="548.5" y2="635.90" stroke="#8a8a8a" stroke-width="0.6" stroke-dasharray="1.6,1.2"/>
<line x1="480.22" y1="611.30" x2="543.74" y2="611.30" stroke="#a8a8a8" stroke-width="1.5"/>
<path d="M480.35,579.47 L480.58,579.49 L480.86,579.48 L481.18,579.45 L481.55,579.43 L481.95,579.42 L482.38,579.46 L482.82,579.55 L483.28,579.70 L483.73,579.95 L484.19,580.30 L484.64,580.75 L485.12,581.28 L485.62,581.88 L486.13,582.55 L486.65,583.28 L487.18,584.06 L487.71,584.90 L488.24,585.79 L488.76,586.72 L489.28,587.68 L489.80,588.71 L490.33,589.80 L490.86,590.95 L491.40,592.16 L491.93,593.41 L492.46,594.69 L492.98,596.00 L493.48,597.33 L493.97,598.66 L494.42,599.98 L494.86,601.33 L495.26,602.72 L495.65,604.14 L496.03,605.58 L496.39,607.03 L496.74,608.49 L497.09,609.94 L497.45,611.37 L497.81,612.78 L498.18,614.15 L498.55,615.52 L498.92,616.89 L499.29,618.27 L499.66,619.64 L500.04,620.99 L500.41,622.31 L500.78,623.59 L501.16,624.81 L501.54,625.96 L501.93,627.04 L502.32,628.06 L502.72,629.04 L503.12,629.98 L503.53,630.86 L503.94,631.69 L504.35,632.47 L504.75,633.18 L505.16,633.83 L505.56,634.41 L505.95,634.92 L506.34,635.34 L506.72,635.67 L507.10,635.93 L507.48,636.12 L507.86,636.26 L508.23,636.34 L508.60,636.39 L508.97,636.41 L509.34,636.40 L509.70,636.39 L510.05,636.37 L510.38,636.32 L510.71,636.24 L511.02,636.13 L511.34,635.99 L511.67,635.81 L512.01,635.58 L512.37,635.31 L512.76,634.99 L513.18,634.62 L513.64,634.19 L514.12,633.70 L514.62,633.16 L515.14,632.58 L515.68,631.95 L516.23,631.29 L516.80,630.59 L517.37,629.87 L517.96,629.13 L518.54,628.37 L519.15,627.57 L519.78,626.72 L520.44,625.82 L521.10,624.89 L521.78,623.94 L522.45,622.98 L523.11,622.03 L523.76,621.09 L524.38,620.19 L524.98,619.32 L525.54,618.51 L526.08,617.74 L526.60,617.01 L527.11,616.30 L527.61,615.59 L528.10,614.87 L528.58,614.12 L529.07,613.32 L529.56,612.47 L530.07,611.55 L530.58,610.54 L531.09,609.46 L531.60,608.32 L532.10,607.13 L532.61,605.92 L533.12,604.70 L533.63,603.48 L534.14,602.28 L534.65,601.11 L535.16,599.98 L535.68,598.89 L536.21,597.80 L536.76,596.72 L537.30,595.64 L537.84,594.59 L538.37,593.55 L538.88,592.53 L539.37,591.54 L539.83,590.58 L540.25,589.65 L540.65,588.73 L541.03,587.79 L541.39,586.86 L541.73,585.95 L542.04,585.07 L542.34,584.24 L542.60,583.49 L542.83,582.81 L543.03,582.24 L543.20,581.78" fill="none" stroke="#4b55e8" stroke-width="0.9" clip-path="url(#clip320)"/>
<circle cx="513.96" cy="633.70" r="1.9" fill="#d62020"/>
<text x="480.70" y="589.60" font-size="10.5" text-anchor="start" font-weight="bold" fill="#111" >2</text>
<text x="475.50" y="589.70" font-size="8.4" text-anchor="end" font-weight="normal" fill="#111" textLength="7.9" lengthAdjust="spacingAndGlyphs" >50</text>
<text x="475.50" y="602.00" font-size="8.4" text-anchor="end" font-weight="normal" fill="#111" textLength="7.9" lengthAdjust="spacingAndGlyphs" >25</text>
<text x="475.50" y="614.30" font-size="8.4" text-anchor="end" font-weight="normal" fill="#111" textLength="4.0" lengthAdjust="spacingAndGlyphs" >0</text>
<text x="475.50" y="626.60" font-size="8.4" text-anchor="end" font-weight="normal" fill="#111" textLength="11.8" lengthAdjust="spacingAndGlyphs" >-25</text>
<text x="475.50" y="638.90" font-size="8.4" text-anchor="end" font-weight="normal" fill="#111" textLength="11.8" lengthAdjust="spacingAndGlyphs" >-50</text>
<text x="482.90" y="645.70" font-size="8.4" text-anchor="middle" font-weight="normal" fill="#111" textLength="8.0" lengthAdjust="spacingAndGlyphs" >06</text>
<text x="498.98" y="645.70" font-size="8.4" text-anchor="middle" font-weight="normal" fill="#111" textLength="8.0" lengthAdjust="spacingAndGlyphs" >12</text>
<text x="515.06" y="645.70" font-size="8.4" text-anchor="middle" font-weight="normal" fill="#111" textLength="8.0" lengthAdjust="spacingAndGlyphs" >18</text>
<text x="531.14" y="645.70" font-size="8.4" text-anchor="middle" font-weight="normal" fill="#111" textLength="8.0" lengthAdjust="spacingAndGlyphs" >00</text>
<text x="547.22" y="645.70" font-size="8.4" text-anchor="middle" font-weight="normal" fill="#111" textLength="8.0" lengthAdjust="spacingAndGlyphs" >06</text>
<text x="513.00" y="653.30" font-size="8.4" text-anchor="middle" font-weight="normal" fill="#111" textLength="61" lengthAdjust="spacingAndGlyphs" >Time of Day (hour)</text>
<text x="513.00" y="577.20" font-size="8.0" text-anchor="middle" font-weight="normal" fill="#111" textLength="70" lengthAdjust="spacingAndGlyphs" >2021-03-08 17:35:20</text>
<clipPath id="clip348"><rect x="595.5" y="578.8" width="71.0" height="59.5"/></clipPath>
<rect x="595.5" y="578.8" width="71.0" height="59.5" fill="#f1f1f1" stroke="#9a9a9a" stroke-width="0.8"/>
<line x1="595.5" y1="578.8" x2="666.5" y2="578.8" stroke="#555" stroke-width="1"/>
<line x1="600.90" y1="578.8" x2="600.90" y2="638.3" stroke="#8a8a8a" stroke-width="0.6" stroke-dasharray="1.6,1.2"/>
<line x1="616.98" y1="578.8" x2="616.98" y2="638.3" stroke="#8a8a8a" stroke-width="0.6" stroke-dasharray="1.6,1.2"/>
<line x1="633.06" y1="578.8" x2="633.06" y2="638.3" stroke="#8a8a8a" stroke-width="0.6" stroke-dasharray="1.6,1.2"/>
<line x1="649.14" y1="578.8" x2="649.14" y2="638.3" stroke="#8a8a8a" stroke-width="0.6" stroke-dasharray="1.6,1.2"/>
<line x1="665.22" y1="578.8" x2="665.22" y2="638.3" stroke="#8a8a8a" stroke-width="0.6" stroke-dasharray="1.6,1.2"/>
<line x1="595.5" y1="586.70" x2="666.5" y2="586.70" stroke="#8a8a8a" stroke-width="0.6" stroke-dasharray="1.6,1.2"/>
<line x1="595.5" y1="599.00" x2="666.5" y2="599.00" stroke="#8a8a8a" stroke-width="0.6" stroke-dasharray="1.6,1.2"/>
<line x1="595.5" y1="623.60" x2="666.5" y2="623.60" stroke="#8a8a8a" stroke-width="0.6" stroke-dasharray="1.6,1.2"/>
<line x1="595.5" y1="635.90" x2="666.5" y2="635.90" stroke="#8a8a8a" stroke-width="0.6" stroke-dasharray="1.6,1.2"/>
<line x1="598.22" y1="611.30" x2="661.74" y2="611.30" stroke="#a8a8a8" stroke-width="1.5"/>
<path d="M598.33,584.83 L598.65,585.00 L599.07,585.19 L599.56,585.40 L600.12,585.64 L600.71,585.92 L601.33,586.24 L601.97,586.62 L602.59,587.07 L603.19,587.58 L603.74,588.18 L604.27,588.85 L604.79,589.60 L605.30,590.42 L605.82,591.30 L606.33,592.24 L606.84,593.23 L607.35,594.26 L607.86,595.34 L608.37,596.44 L608.89,597.57 L609.40,598.76 L609.89,600.03 L610.39,601.36 L610.88,602.74 L611.38,604.15 L611.88,605.57 L612.39,606.99 L612.92,608.38 L613.47,609.75 L614.03,611.05 L614.62,612.34 L615.24,613.62 L615.87,614.90 L616.51,616.17 L617.17,617.42 L617.83,618.64 L618.49,619.83 L619.16,620.98 L619.82,622.07 L620.46,623.11 L621.11,624.10 L621.78,625.08 L622.44,626.02 L623.11,626.92 L623.78,627.79 L624.44,628.59 L625.08,629.34 L625.71,630.03 L626.32,630.64 L626.90,631.18 L627.45,631.62 L627.97,631.98 L628.48,632.26 L628.97,632.48 L629.45,632.63 L629.91,632.75 L630.37,632.82 L630.82,632.88 L631.27,632.91 L631.72,632.95 L632.16,632.98 L632.59,633.01 L633.00,633.03 L633.40,633.02 L633.80,632.98 L634.21,632.89 L634.62,632.74 L635.04,632.53 L635.47,632.24 L635.93,631.87 L636.40,631.41 L636.87,630.89 L637.34,630.31 L637.83,629.66 L638.33,628.95 L638.84,628.18 L639.36,627.34 L639.91,626.45 L640.48,625.50 L641.07,624.49 L641.70,623.39 L642.37,622.19 L643.07,620.90 L643.79,619.55 L644.52,618.15 L645.26,616.72 L645.99,615.28 L646.71,613.84 L647.40,612.43 L648.07,611.05 L648.69,609.70 L649.29,608.35 L649.86,606.98 L650.42,605.62 L650.97,604.26 L651.52,602.90 L652.09,601.55 L652.68,600.21 L653.30,598.88 L653.96,597.57 L654.70,596.23 L655.52,594.81 L656.40,593.36 L657.31,591.90 L658.22,590.48 L659.10,589.13 L659.92,587.88 L660.65,586.76 L661.27,585.82 L661.74,585.08" fill="none" stroke="#4b55e8" stroke-width="0.9" clip-path="url(#clip348)"/>
<circle cx="631.96" cy="632.98" r="1.9" fill="#d62020"/>
<text x="598.70" y="589.60" font-size="10.5" text-anchor="start" font-weight="bold" fill="#111" >4</text>
<text x="593.50" y="589.70" font-size="8.4" text-anchor="end" font-weight="normal" fill="#111" textLength="7.9" lengthAdjust="spacingAndGlyphs" >50</text>
<text x="593.50" y="602.00" font-size="8.4" text-anchor="end" font-weight="normal" fill="#111" textLength="7.9" lengthAdjust="spacingAndGlyphs" >25</text>
<text x="593.50" y="614.30" font-size="8.4" text-anchor="end" font-weight="normal" fill="#111" textLength="4.0" lengthAdjust="spacingAndGlyphs" >0</text>
<text x="593.50" y="626.60" font-size="8.4" text-anchor="end" font-weight="normal" fill="#111" textLength="11.8" lengthAdjust="spacingAndGlyphs" >-25</text>
<text x="593.50" y="638.90" font-size="8.4" text-anchor="end" font-weight="normal" fill="#111" textLength="11.8" lengthAdjust="spacingAndGlyphs" >-50</text>
<text x="600.90" y="645.70" font-size="8.4" text-anchor="middle" font-weight="normal" fill="#111" textLength="8.0" lengthAdjust="spacingAndGlyphs" >06</text>
<text x="616.98" y="645.70" font-size="8.4" text-anchor="middle" font-weight="normal" fill="#111" textLength="8.0" lengthAdjust="spacingAndGlyphs" >12</text>
<text x="633.06" y="645.70" font-size="8.4" text-anchor="middle" font-weight="normal" fill="#111" textLength="8.0" lengthAdjust="spacingAndGlyphs" >18</text>
<text x="649.14" y="645.70" font-size="8.4" text-anchor="middle" font-weight="normal" fill="#111" textLength="8.0" lengthAdjust="spacingAndGlyphs" >00</text>
<text x="665.22" y="645.70" font-size="8.4" text-anchor="middle" font-weight="normal" fill="#111" textLength="8.0" lengthAdjust="spacingAndGlyphs" >06</text>
<text x="631.00" y="653.30" font-size="8.4" text-anchor="middle" font-weight="normal" fill="#111" textLength="61" lengthAdjust="spacingAndGlyphs" >Time of Day (hour)</text>
<text x="631.00" y="577.20" font-size="8.0" text-anchor="middle" font-weight="normal" fill="#111" textLength="70" lengthAdjust="spacingAndGlyphs" >2021-03-24 17:35:20</text>
<text x="369.00" y="375.70" font-size="11.8" text-anchor="end" font-weight="normal" fill="#1a1a1a" textLength="16.0" lengthAdjust="spacingAndGlyphs" >150</text>
<line x1="368.7" y1="371.50" x2="371.2" y2="371.50" stroke="#999" stroke-width="0.8"/>
<text x="369.00" y="424.40" font-size="11.8" text-anchor="end" font-weight="normal" fill="#1a1a1a" textLength="16.0" lengthAdjust="spacingAndGlyphs" >100</text>
<line x1="368.7" y1="420.20" x2="371.2" y2="420.20" stroke="#999" stroke-width="0.8"/>
<text x="369.00" y="473.10" font-size="11.8" text-anchor="end" font-weight="normal" fill="#1a1a1a" textLength="10.6" lengthAdjust="spacingAndGlyphs" >50</text>
<line x1="368.7" y1="468.90" x2="371.2" y2="468.90" stroke="#999" stroke-width="0.8"/>
<text x="369.00" y="521.80" font-size="11.8" text-anchor="end" font-weight="normal" fill="#1a1a1a" textLength="5.3" lengthAdjust="spacingAndGlyphs" >0</text>
<line x1="368.7" y1="517.60" x2="371.2" y2="517.60" stroke="#999" stroke-width="0.8"/>
<text x="369.00" y="570.50" font-size="11.8" text-anchor="end" font-weight="normal" fill="#1a1a1a" textLength="16.0" lengthAdjust="spacingAndGlyphs" >-50</text>
<line x1="368.7" y1="566.30" x2="371.2" y2="566.30" stroke="#999" stroke-width="0.8"/>
<text x="369.00" y="619.20" font-size="11.8" text-anchor="end" font-weight="normal" fill="#1a1a1a" textLength="20.5" lengthAdjust="spacingAndGlyphs" >-100</text>
<line x1="368.7" y1="615.00" x2="371.2" y2="615.00" stroke="#999" stroke-width="0.8"/>
<text x="394.50" y="669.80" font-size="10.3" text-anchor="middle" font-weight="normal" fill="#1a1a1a" textLength="24.7" lengthAdjust="spacingAndGlyphs" >03/01</text>
<text x="466.50" y="669.80" font-size="10.3" text-anchor="middle" font-weight="normal" fill="#1a1a1a" textLength="24.7" lengthAdjust="spacingAndGlyphs" >03/09</text>
<text x="538.50" y="669.80" font-size="10.3" text-anchor="middle" font-weight="normal" fill="#1a1a1a" textLength="24.7" lengthAdjust="spacingAndGlyphs" >03/17</text>
<text x="610.50" y="669.80" font-size="10.3" text-anchor="middle" font-weight="normal" fill="#1a1a1a" textLength="24.7" lengthAdjust="spacingAndGlyphs" >03/25</text>
<text x="673.50" y="669.80" font-size="10.3" text-anchor="middle" font-weight="normal" fill="#1a1a1a" textLength="24.7" lengthAdjust="spacingAndGlyphs" >04/01</text>
<text x="354.80" y="502.90" font-size="11.5" text-anchor="middle" font-weight="normal" fill="#1a1a1a" textLength="43" lengthAdjust="spacingAndGlyphs" transform="rotate(-90 354.80 502.90)" >SSH (cm)</text>
<text x="383.00" y="364.00" font-size="10.5" text-anchor="start" font-weight="bold" fill="#111" textLength="12.4" lengthAdjust="spacingAndGlyphs" >(d)</text>
<rect x="371.2" y="683.1" width="307.2" height="313.0" fill="#fff"/>
<line x1="394.50" y1="683.1" x2="394.50" y2="996.1" stroke="#d4d4d4" stroke-width="0.7" stroke-dasharray="1.5,1"/>
<line x1="430.50" y1="683.1" x2="430.50" y2="996.1" stroke="#d4d4d4" stroke-width="0.7" stroke-dasharray="1.5,1"/>
<line x1="466.50" y1="683.1" x2="466.50" y2="996.1" stroke="#d4d4d4" stroke-width="0.7" stroke-dasharray="1.5,1"/>
<line x1="502.50" y1="683.1" x2="502.50" y2="996.1" stroke="#d4d4d4" stroke-width="0.7" stroke-dasharray="1.5,1"/>
<line x1="538.50" y1="683.1" x2="538.50" y2="996.1" stroke="#d4d4d4" stroke-width="0.7" stroke-dasharray="1.5,1"/>
<line x1="574.50" y1="683.1" x2="574.50" y2="996.1" stroke="#d4d4d4" stroke-width="0.7" stroke-dasharray="1.5,1"/>
<line x1="610.50" y1="683.1" x2="610.50" y2="996.1" stroke="#d4d4d4" stroke-width="0.7" stroke-dasharray="1.5,1"/>
<line x1="646.50" y1="683.1" x2="646.50" y2="996.1" stroke="#d4d4d4" stroke-width="0.7" stroke-dasharray="1.5,1"/>
<line x1="371.2" y1="708.20" x2="678.4" y2="708.20" stroke="#d4d4d4" stroke-width="0.7" stroke-dasharray="1.5,1"/>
<line x1="371.2" y1="756.90" x2="678.4" y2="756.90" stroke="#d4d4d4" stroke-width="0.7" stroke-dasharray="1.5,1"/>
<line x1="371.2" y1="805.60" x2="678.4" y2="805.60" stroke="#d4d4d4" stroke-width="0.7" stroke-dasharray="1.5,1"/>
<line x1="371.2" y1="854.30" x2="678.4" y2="854.30" stroke="#d4d4d4" stroke-width="0.7" stroke-dasharray="1.5,1"/>
<line x1="371.2" y1="903.00" x2="678.4" y2="903.00" stroke="#d4d4d4" stroke-width="0.7" stroke-dasharray="1.5,1"/>
<line x1="371.2" y1="951.70" x2="678.4" y2="951.70" stroke="#d4d4d4" stroke-width="0.7" stroke-dasharray="1.5,1"/>
<line x1="371.2" y1="683.1" x2="678.4" y2="683.1" stroke="#b8b8b8" stroke-width="1"/>
<line x1="678.4" y1="683.1" x2="678.4" y2="996.1" stroke="#b8b8b8" stroke-width="1"/>
<line x1="371.2" y1="996.1" x2="678.4" y2="996.1" stroke="#a8a8a8" stroke-width="1"/>
<line x1="371.2" y1="683.1" x2="371.2" y2="996.1" stroke="#dcdcdc" stroke-width="1.8"/>
<path d="M385.33,893.20 L385.87,888.52 L386.42,875.39 L386.96,856.43 L387.51,835.37 L388.05,816.41 L388.59,803.28 L389.14,798.60 L389.83,803.34 L390.52,816.62 L391.22,835.80 L391.91,857.10 L392.61,876.28 L393.30,889.56 L393.99,894.30 L394.61,890.21 L395.23,878.75 L395.85,862.19 L396.47,843.81 L397.09,827.25 L397.71,815.79 L398.32,811.70 L399.02,815.46 L399.71,826.01 L400.41,841.24 L401.10,858.16 L401.79,873.39 L402.49,883.94 L403.18,887.70 L403.76,884.64 L404.34,876.08 L404.92,863.71 L405.51,849.99 L406.09,837.62 L406.67,829.06 L407.25,826.00 L408.02,828.61 L408.79,835.92 L409.56,846.49 L410.32,858.21 L411.09,868.78 L411.86,876.09 L412.63,878.70 L413.12,876.76 L413.61,871.32 L414.09,863.46 L414.58,854.74 L415.07,846.88 L415.56,841.44 L416.04,839.50 L416.83,840.97 L417.62,845.07 L418.41,851.01 L419.19,857.59 L419.98,863.53 L420.77,867.63 L421.56,869.10 L421.97,867.99 L422.38,864.88 L422.79,860.39 L423.21,855.41 L423.62,850.92 L424.03,847.81 L424.44,846.70 L425.14,847.32 L425.83,849.05 L426.53,851.56 L427.22,854.34 L427.91,856.85 L428.61,858.58 L429.30,859.20 L429.75,858.52 L430.20,856.60 L430.65,853.84 L431.10,850.76 L431.55,848.00 L432.00,846.08 L432.45,845.40 L432.88,846.63 L433.31,850.07 L433.74,855.04 L434.18,860.56 L434.61,865.53 L435.04,868.97 L435.47,870.20 L436.28,868.65 L437.08,864.31 L437.89,858.03 L438.69,851.07 L439.50,844.79 L440.31,840.45 L441.11,838.90 L441.62,840.77 L442.13,846.02 L442.63,853.59 L443.14,862.01 L443.64,869.58 L444.15,874.83 L444.66,876.70 L445.50,874.42 L446.34,868.04 L447.19,858.82 L448.03,848.58 L448.88,839.36 L449.72,832.98 L450.56,830.70 L451.11,833.47 L451.65,841.24 L452.19,852.47 L452.74,864.93 L453.28,876.16 L453.83,883.93 L454.37,886.70 L455.10,883.50 L455.83,874.52 L456.56,861.55 L457.29,847.15 L458.03,834.18 L458.76,825.20 L459.49,822.00 L460.11,825.47 L460.73,835.20 L461.34,849.25 L461.96,864.85 L462.58,878.90 L463.20,888.63 L463.82,892.10 L464.55,888.23 L465.28,877.38 L466.01,861.70 L466.74,844.30 L467.48,828.62 L468.21,817.77 L468.94,813.90 L469.65,817.94 L470.36,829.24 L471.08,845.58 L471.79,863.72 L472.50,880.06 L473.21,891.36 L473.93,895.40 L474.49,890.93 L475.05,878.42 L475.61,860.34 L476.18,840.26 L476.74,822.18 L477.30,809.67 L477.86,805.20 L478.61,809.83 L479.36,822.80 L480.11,841.55 L480.86,862.35 L481.61,881.10 L482.36,894.07 L483.11,898.70 L483.64,893.69 L484.16,879.65 L484.69,859.36 L485.21,836.84 L485.74,816.55 L486.26,802.51 L486.79,797.50 L487.61,802.56 L488.44,816.74 L489.26,837.23 L490.09,859.97 L490.91,880.46 L491.74,894.64 L492.56,899.70 L493.05,894.42 L493.54,879.63 L494.03,858.26 L494.51,834.54 L495.00,813.17 L495.49,798.38 L495.98,793.10 L496.73,798.43 L497.48,813.38 L498.23,834.97 L498.98,858.93 L499.73,880.52 L500.48,895.47 L501.23,900.80 L501.75,895.38 L502.28,880.20 L502.80,858.27 L503.33,833.93 L503.85,812.00 L504.38,796.82 L504.90,791.40 L505.69,796.87 L506.48,812.20 L507.26,834.36 L508.05,858.94 L508.84,881.10 L509.63,896.43 L510.41,901.90 L510.94,896.59 L511.46,881.72 L511.99,860.23 L512.51,836.37 L513.04,814.88 L513.56,800.01 L514.09,794.70 L514.91,799.90 L515.74,814.47 L516.56,835.52 L517.39,858.88 L518.21,879.93 L519.04,894.50 L519.86,899.70 L520.39,894.93 L520.91,881.57 L521.44,862.26 L521.96,840.84 L522.49,821.53 L523.01,808.17 L523.54,803.40 L524.40,807.80 L525.26,820.14 L526.13,837.96 L526.99,857.74 L527.85,875.56 L528.71,887.90 L529.58,892.30 L530.10,888.53 L530.63,877.95 L531.15,862.68 L531.68,845.72 L532.20,830.45 L532.73,819.87 L533.25,816.10 L534.10,819.56 L534.94,829.26 L535.78,843.27 L536.63,858.83 L537.47,872.84 L538.32,882.54 L539.16,886.00 L539.61,883.41 L540.06,876.15 L540.51,865.67 L540.96,854.03 L541.41,843.55 L541.86,836.29 L542.31,833.70 L542.74,834.95 L543.17,838.44 L543.60,843.50 L544.03,849.10 L544.47,854.16 L544.90,857.65 L545.33,858.90 L545.44,858.78 L545.55,858.45 L545.67,857.97 L545.78,857.43 L545.89,856.95 L546.00,856.62 L546.12,856.50 L546.49,857.32 L546.87,859.63 L547.24,862.95 L547.62,866.65 L547.99,869.97 L548.37,872.28 L548.74,873.10 L549.10,872.05 L549.45,869.09 L549.81,864.82 L550.17,860.08 L550.52,855.81 L550.88,852.85 L551.23,851.80 L551.53,852.39 L551.83,854.04 L552.13,856.43 L552.43,859.07 L552.73,861.46 L553.03,863.11 L553.33,863.70 L553.71,862.78 L554.08,860.20 L554.46,856.47 L554.83,852.33 L555.21,848.60 L555.58,846.02 L555.96,845.10 L556.78,846.58 L557.61,850.73 L558.43,856.72 L559.26,863.38 L560.08,869.37 L560.91,873.52 L561.73,875.00 L562.30,872.92 L562.86,867.09 L563.42,858.67 L563.98,849.33 L564.55,840.91 L565.11,835.08 L565.67,833.00 L566.29,835.74 L566.91,843.43 L567.53,854.54 L568.15,866.86 L568.77,877.97 L569.38,885.66 L570.00,888.40 L570.73,884.95 L571.47,875.28 L572.20,861.30 L572.93,845.80 L573.66,831.82 L574.39,822.15 L575.12,818.70 L575.74,822.63 L576.36,833.63 L576.98,849.53 L577.60,867.17 L578.22,883.07 L578.83,894.07 L579.45,898.00 L580.18,893.42 L580.92,880.61 L581.65,862.08 L582.38,841.52 L583.11,822.99 L583.84,810.18 L584.57,805.60 L585.19,810.48 L585.81,824.14 L586.43,843.89 L587.05,865.81 L587.67,885.56 L588.28,899.22 L588.90,904.10 L589.65,898.77 L590.40,883.82 L591.15,862.23 L591.90,838.27 L592.65,816.68 L593.40,801.73 L594.15,796.40 L594.77,801.79 L595.39,816.88 L596.01,838.69 L596.63,862.91 L597.25,884.72 L597.87,899.81 L598.49,905.20 L599.22,899.57 L599.95,883.78 L600.68,860.96 L601.41,835.64 L602.14,812.82 L602.87,797.03 L603.60,791.40 L604.22,796.96 L604.84,812.54 L605.46,835.06 L606.08,860.04 L606.70,882.56 L607.32,898.14 L607.94,903.70 L608.67,898.14 L609.40,882.56 L610.13,860.04 L610.86,835.06 L611.59,812.54 L612.32,796.96 L613.05,791.40 L613.67,796.66 L614.29,811.39 L614.91,832.68 L615.53,856.32 L616.15,877.61 L616.77,892.34 L617.39,897.60 L618.08,892.52 L618.77,878.30 L619.47,857.75 L620.16,834.95 L620.85,814.40 L621.55,800.18 L622.24,795.10 L622.86,799.85 L623.48,813.15 L624.10,832.38 L624.72,853.72 L625.34,872.95 L625.95,886.25 L626.57,891.00 L627.27,886.61 L627.96,874.30 L628.65,856.52 L629.35,836.78 L630.04,819.00 L630.74,806.69 L631.43,802.30 L632.12,806.37 L632.82,817.76 L633.51,834.22 L634.20,852.48 L634.90,868.94 L635.59,880.33 L636.29,884.40 L636.90,880.88 L637.52,871.02 L638.14,856.76 L638.76,840.94 L639.38,826.68 L640.00,816.82 L640.62,813.30 L641.40,816.55 L642.19,825.65 L642.98,838.80 L643.77,853.40 L644.55,866.55 L645.34,875.65 L646.13,878.90 L646.65,876.25 L647.18,868.81 L647.70,858.06 L648.23,846.14 L648.75,835.39 L649.28,827.95 L649.80,825.30 L650.63,827.69 L651.45,834.37 L652.28,844.04 L653.11,854.76 L653.93,864.43 L654.76,871.11 L655.58,873.50 L656.09,871.76 L656.59,866.89 L657.10,859.86 L657.61,852.04 L658.11,845.01 L658.62,840.14 L659.12,838.40 L659.93,839.87 L660.74,843.97 L661.54,849.91 L662.35,856.49 L663.16,862.43 L663.96,866.53 L663.96,866.53" fill="none" stroke="#3f8ac6" stroke-width="0.85" stroke-opacity="0.9" stroke-linejoin="round"/>
<line x1="385.32" y1="854.30" x2="664.50" y2="854.30" stroke="#5a6a72" stroke-width="1"/>
<rect x="450.38" y="790.50" width="18.00" height="116.88" fill="#9c9c9c" fill-opacity="0.45" stroke="#8c8c8c" stroke-width="0.8"/>
<line x1="459.38" y1="790.50" x2="459.38" y2="907.38" stroke="#6a6a6a" stroke-width="0.8"/>
<text x="454.88" y="799.70" font-size="10.5" text-anchor="middle" font-weight="bold" fill="#111" >1</text>
<text x="463.88" y="799.70" font-size="10.5" text-anchor="middle" font-weight="bold" fill="#111" >2</text>
<circle cx="455.10" cy="877.58" r="1.9" fill="#d62020"/>
<circle cx="464.10" cy="887.51" r="1.9" fill="#d62020"/>
<rect x="594.38" y="790.50" width="18.00" height="116.88" fill="#9c9c9c" fill-opacity="0.45" stroke="#8c8c8c" stroke-width="0.8"/>
<line x1="603.38" y1="790.50" x2="603.38" y2="907.38" stroke="#6a6a6a" stroke-width="0.8"/>
<text x="598.88" y="799.70" font-size="10.5" text-anchor="middle" font-weight="bold" fill="#111" >3</text>
<text x="607.88" y="799.70" font-size="10.5" text-anchor="middle" font-weight="bold" fill="#111" >4</text>
<circle cx="599.10" cy="896.15" r="1.9" fill="#d62020"/>
<circle cx="608.10" cy="898.65" r="1.9" fill="#d62020"/>
<clipPath id="clip428"><rect x="407.2" y="707.6" width="71.0" height="59.5"/></clipPath>
<rect x="407.2" y="707.6" width="71.0" height="59.5" fill="#f1f1f1" stroke="#9a9a9a" stroke-width="0.8"/>
<line x1="407.2" y1="707.6" x2="478.2" y2="707.6" stroke="#555" stroke-width="1"/>
<line x1="412.60" y1="707.6" x2="412.60" y2="767.1" stroke="#8a8a8a" stroke-width="0.6" stroke-dasharray="1.6,1.2"/>
<line x1="428.68" y1="707.6" x2="428.68" y2="767.1" stroke="#8a8a8a" stroke-width="0.6" stroke-dasharray="1.6,1.2"/>
<line x1="444.76" y1="707.6" x2="444.76" y2="767.1" stroke="#8a8a8a" stroke-width="0.6" stroke-dasharray="1.6,1.2"/>
<line x1="460.84" y1="707.6" x2="460.84" y2="767.1" stroke="#8a8a8a" stroke-width="0.6" stroke-dasharray="1.6,1.2"/>
<line x1="476.92" y1="707.6" x2="476.92" y2="767.1" stroke="#8a8a8a" stroke-width="0.6" stroke-dasharray="1.6,1.2"/>
<line x1="407.2" y1="715.50" x2="478.2" y2="715.50" stroke="#8a8a8a" stroke-width="0.6" stroke-dasharray="1.6,1.2"/>
<line x1="407.2" y1="727.80" x2="478.2" y2="727.80" stroke="#8a8a8a" stroke-width="0.6" stroke-dasharray="1.6,1.2"/>
<line x1="407.2" y1="752.40" x2="478.2" y2="752.40" stroke="#8a8a8a" stroke-width="0.6" stroke-dasharray="1.6,1.2"/>
<line x1="407.2" y1="764.70" x2="478.2" y2="764.70" stroke="#8a8a8a" stroke-width="0.6" stroke-dasharray="1.6,1.2"/>
<line x1="409.92" y1="740.10" x2="473.44" y2="740.10" stroke="#a8a8a8" stroke-width="1.5"/>
<path d="M410.05,727.95 L410.25,727.94 L410.49,727.91 L410.78,727.85 L411.10,727.80 L411.45,727.76 L411.83,727.74 L412.22,727.76 L412.64,727.84 L413.06,727.98 L413.48,728.19 L413.93,728.48 L414.40,728.82 L414.90,729.21 L415.41,729.64 L415.94,730.12 L416.48,730.65 L417.02,731.22 L417.55,731.83 L418.08,732.48 L418.60,733.16 L419.11,733.90 L419.62,734.70 L420.13,735.56 L420.64,736.46 L421.15,737.39 L421.66,738.36 L422.17,739.34 L422.68,740.33 L423.19,741.33 L423.70,742.31 L424.21,743.33 L424.72,744.42 L425.23,745.55 L425.74,746.69 L426.25,747.84 L426.77,748.96 L427.28,750.04 L427.79,751.05 L428.30,751.98 L428.81,752.79 L429.34,753.51 L429.87,754.15 L430.42,754.73 L430.97,755.25 L431.52,755.71 L432.05,756.12 L432.57,756.49 L433.05,756.82 L433.50,757.11 L433.91,757.37 L434.26,757.59 L434.56,757.76 L434.82,757.88 L435.05,757.96 L435.26,758.00 L435.46,758.00 L435.67,757.98 L435.90,757.93 L436.16,757.85 L436.45,757.76 L436.79,757.64 L437.15,757.49 L437.53,757.29 L437.92,757.07 L438.33,756.83 L438.74,756.56 L439.14,756.28 L439.54,755.99 L439.92,755.70 L440.28,755.40 L440.62,755.12 L440.92,754.84 L441.21,754.57 L441.48,754.29 L441.76,754.00 L442.04,753.67 L442.35,753.30 L442.68,752.89 L443.05,752.41 L443.47,751.86 L443.94,751.22 L444.45,750.51 L444.99,749.73 L445.56,748.89 L446.16,748.02 L446.76,747.13 L447.38,746.23 L448.00,745.34 L448.62,744.47 L449.24,743.64 L449.84,742.83 L450.45,742.01 L451.06,741.19 L451.68,740.37 L452.31,739.56 L452.94,738.76 L453.59,737.97 L454.25,737.21 L454.92,736.47 L455.61,735.77 L456.32,735.10 L457.02,734.48 L457.73,733.87 L458.46,733.30 L459.20,732.74 L459.95,732.18 L460.73,731.63 L461.54,731.07 L462.38,730.50 L463.25,729.92 L464.21,729.28 L465.29,728.61 L466.44,727.90 L467.63,727.18 L468.82,726.47 L469.97,725.80 L471.05,725.17 L472.01,724.61 L472.82,724.13 L473.44,723.77" fill="none" stroke="#4b55e8" stroke-width="0.9" clip-path="url(#clip428)"/>
<circle cx="443.66" cy="751.86" r="1.9" fill="#d62020"/>
<text x="410.40" y="718.40" font-size="10.5" text-anchor="start" font-weight="bold" fill="#111" >1</text>
<text x="405.20" y="718.50" font-size="8.4" text-anchor="end" font-weight="normal" fill="#111" textLength="7.9" lengthAdjust="spacingAndGlyphs" >50</text>
<text x="405.20" y="730.80" font-size="8.4" text-anchor="end" font-weight="normal" fill="#111" textLength="7.9" lengthAdjust="spacingAndGlyphs" >25</text>
<text x="405.20" y="743.10" font-size="8.4" text-anchor="end" font-weight="normal" fill="#111" textLength="4.0" lengthAdjust="spacingAndGlyphs" >0</text>
<text x="405.20" y="755.40" font-size="8.4" text-anchor="end" font-weight="normal" fill="#111" textLength="11.8" lengthAdjust="spacingAndGlyphs" >-25</text>
<text x="405.20" y="767.70" font-size="8.4" text-anchor="end" font-weight="normal" fill="#111" textLength="11.8" lengthAdjust="spacingAndGlyphs" >-50</text>
<text x="412.60" y="774.50" font-size="8.4" text-anchor="middle" font-weight="normal" fill="#111" textLength="8.0" lengthAdjust="spacingAndGlyphs" >06</text>
<text x="428.68" y="774.50" font-size="8.4" text-anchor="middle" font-weight="normal" fill="#111" textLength="8.0" lengthAdjust="spacingAndGlyphs" >12</text>
<text x="444.76" y="774.50" font-size="8.4" text-anchor="middle" font-weight="normal" fill="#111" textLength="8.0" lengthAdjust="spacingAndGlyphs" >18</text>
<text x="460.84" y="774.50" font-size="8.4" text-anchor="middle" font-weight="normal" fill="#111" textLength="8.0" lengthAdjust="spacingAndGlyphs" >00</text>
<text x="476.92" y="774.50" font-size="8.4" text-anchor="middle" font-weight="normal" fill="#111" textLength="8.0" lengthAdjust="spacingAndGlyphs" >06</text>
<text x="442.70" y="782.10" font-size="8.4" text-anchor="middle" font-weight="normal" fill="#111" textLength="61" lengthAdjust="spacingAndGlyphs" >Time of Day (hour)</text>
<text x="442.70" y="706.00" font-size="8.0" text-anchor="middle" font-weight="normal" fill="#111" textLength="70" lengthAdjust="spacingAndGlyphs" >2021-02-19 17:35:20</text>
<clipPath id="clip456"><rect x="533.1" y="707.6" width="71.0" height="59.5"/></clipPath>
<rect x="533.1" y="707.6" width="71.0" height="59.5" fill="#f1f1f1" stroke="#9a9a9a" stroke-width="0.8"/>
<line x1="533.1" y1="707.6" x2="604.1" y2="707.6" stroke="#555" stroke-width="1"/>
<line x1="538.50" y1="707.6" x2="538.50" y2="767.1" stroke="#8a8a8a" stroke-width="0.6" stroke-dasharray="1.6,1.2"/>
<line x1="554.58" y1="707.6" x2="554.58" y2="767.1" stroke="#8a8a8a" stroke-width="0.6" stroke-dasharray="1.6,1.2"/>
<line x1="570.66" y1="707.6" x2="570.66" y2="767.1" stroke="#8a8a8a" stroke-width="0.6" stroke-dasharray="1.6,1.2"/>
<line x1="586.74" y1="707.6" x2="586.74" y2="767.1" stroke="#8a8a8a" stroke-width="0.6" stroke-dasharray="1.6,1.2"/>
<line x1="602.82" y1="707.6" x2="602.82" y2="767.1" stroke="#8a8a8a" stroke-width="0.6" stroke-dasharray="1.6,1.2"/>
<line x1="533.1" y1="715.50" x2="604.1" y2="715.50" stroke="#8a8a8a" stroke-width="0.6" stroke-dasharray="1.6,1.2"/>
<line x1="533.1" y1="727.80" x2="604.1" y2="727.80" stroke="#8a8a8a" stroke-width="0.6" stroke-dasharray="1.6,1.2"/>
<line x1="533.1" y1="752.40" x2="604.1" y2="752.40" stroke="#8a8a8a" stroke-width="0.6" stroke-dasharray="1.6,1.2"/>
<line x1="533.1" y1="764.70" x2="604.1" y2="764.70" stroke="#8a8a8a" stroke-width="0.6" stroke-dasharray="1.6,1.2"/>
<line x1="535.82" y1="740.10" x2="599.34" y2="740.10" stroke="#a8a8a8" stroke-width="1.5"/>
<path d="M536.22,710.33 L536.56,710.81 L536.99,711.37 L537.50,712.02 L538.06,712.75 L538.68,713.57 L539.33,714.48 L539.99,715.48 L540.66,716.56 L541.31,717.73 L541.93,718.99 L542.54,720.38 L543.16,721.91 L543.78,723.56 L544.42,725.31 L545.05,727.13 L545.70,729.00 L546.34,730.89 L546.98,732.78 L547.62,734.65 L548.26,736.46 L548.89,738.28 L549.54,740.18 L550.19,742.12 L550.84,744.08 L551.49,746.02 L552.14,747.93 L552.77,749.77 L553.39,751.51 L554.00,753.14 L554.58,754.61 L555.15,755.96 L555.71,757.22 L556.26,758.39 L556.80,759.48 L557.33,760.48 L557.84,761.40 L558.33,762.24 L558.80,763.00 L559.25,763.69 L559.67,764.31 L560.05,764.84 L560.37,765.28 L560.66,765.63 L560.91,765.91 L561.16,766.11 L561.42,766.24 L561.69,766.31 L562.01,766.31 L562.37,766.27 L562.81,766.18 L563.31,766.03 L563.86,765.82 L564.45,765.55 L565.08,765.22 L565.73,764.83 L566.40,764.38 L567.09,763.87 L567.78,763.30 L568.46,762.67 L569.13,761.99 L569.80,761.24 L570.47,760.39 L571.16,759.48 L571.84,758.50 L572.54,757.47 L573.24,756.40 L573.94,755.31 L574.66,754.20 L575.38,753.10 L576.10,752.01 L576.84,750.91 L577.60,749.80 L578.37,748.67 L579.15,747.52 L579.94,746.36 L580.72,745.18 L581.49,743.99 L582.24,742.79 L582.98,741.57 L583.68,740.35 L584.37,739.10 L585.04,737.82 L585.70,736.52 L586.34,735.20 L586.98,733.88 L587.60,732.55 L588.20,731.23 L588.80,729.93 L589.38,728.65 L589.96,727.41 L590.52,726.17 L591.07,724.92 L591.60,723.67 L592.13,722.43 L592.64,721.21 L593.14,720.02 L593.64,718.87 L594.12,717.77 L594.59,716.72 L595.05,715.75 L595.51,714.82 L595.98,713.92 L596.46,713.05 L596.93,712.22 L597.38,711.45 L597.80,710.73 L598.19,710.09 L598.54,709.51 L598.83,709.02 L599.07,708.61" fill="none" stroke="#4b55e8" stroke-width="0.9" clip-path="url(#clip456)"/>
<circle cx="569.56" cy="761.24" r="1.9" fill="#d62020"/>
<text x="536.30" y="718.40" font-size="10.5" text-anchor="start" font-weight="bold" fill="#111" >3</text>
<text x="531.10" y="718.50" font-size="8.4" text-anchor="end" font-weight="normal" fill="#111" textLength="7.9" lengthAdjust="spacingAndGlyphs" >50</text>
<text x="531.10" y="730.80" font-size="8.4" text-anchor="end" font-weight="normal" fill="#111" textLength="7.9" lengthAdjust="spacingAndGlyphs" >25</text>
<text x="531.10" y="743.10" font-size="8.4" text-anchor="end" font-weight="normal" fill="#111" textLength="4.0" lengthAdjust="spacingAndGlyphs" >0</text>
<text x="531.10" y="755.40" font-size="8.4" text-anchor="end" font-weight="normal" fill="#111" textLength="11.8" lengthAdjust="spacingAndGlyphs" >-25</text>
<text x="531.10" y="767.70" font-size="8.4" text-anchor="end" font-weight="normal" fill="#111" textLength="11.8" lengthAdjust="spacingAndGlyphs" >-50</text>
<text x="538.50" y="774.50" font-size="8.4" text-anchor="middle" font-weight="normal" fill="#111" textLength="8.0" lengthAdjust="spacingAndGlyphs" >06</text>
<text x="554.58" y="774.50" font-size="8.4" text-anchor="middle" font-weight="normal" fill="#111" textLength="8.0" lengthAdjust="spacingAndGlyphs" >12</text>
<text x="570.66" y="774.50" font-size="8.4" text-anchor="middle" font-weight="normal" fill="#111" textLength="8.0" lengthAdjust="spacingAndGlyphs" >18</text>
<text x="586.74" y="774.50" font-size="8.4" text-anchor="middle" font-weight="normal" fill="#111" textLength="8.0" lengthAdjust="spacingAndGlyphs" >00</text>
<text x="602.82" y="774.50" font-size="8.4" text-anchor="middle" font-weight="normal" fill="#111" textLength="8.0" lengthAdjust="spacingAndGlyphs" >06</text>
<text x="568.60" y="782.10" font-size="8.4" text-anchor="middle" font-weight="normal" fill="#111" textLength="61" lengthAdjust="spacingAndGlyphs" >Time of Day (hour)</text>
<text x="568.60" y="706.00" font-size="8.0" text-anchor="middle" font-weight="normal" fill="#111" textLength="70" lengthAdjust="spacingAndGlyphs" >2021-03-07 17:35:20</text>
<clipPath id="clip484"><rect x="477.5" y="915.5" width="71.0" height="59.5"/></clipPath>
<rect x="477.5" y="915.5" width="71.0" height="59.5" fill="#f1f1f1" stroke="#9a9a9a" stroke-width="0.8"/>
<line x1="477.5" y1="915.5" x2="548.5" y2="915.5" stroke="#555" stroke-width="1"/>
<line x1="482.90" y1="915.5" x2="482.90" y2="975.0" stroke="#8a8a8a" stroke-width="0.6" stroke-dasharray="1.6,1.2"/>
<line x1="498.98" y1="915.5" x2="498.98" y2="975.0" stroke="#8a8a8a" stroke-width="0.6" stroke-dasharray="1.6,1.2"/>
<line x1="515.06" y1="915.5" x2="515.06" y2="975.0" stroke="#8a8a8a" stroke-width="0.6" stroke-dasharray="1.6,1.2"/>
<line x1="531.14" y1="915.5" x2="531.14" y2="975.0" stroke="#8a8a8a" stroke-width="0.6" stroke-dasharray="1.6,1.2"/>
<line x1="547.22" y1="915.5" x2="547.22" y2="975.0" stroke="#8a8a8a" stroke-width="0.6" stroke-dasharray="1.6,1.2"/>
<line x1="477.5" y1="923.40" x2="548.5" y2="923.40" stroke="#8a8a8a" stroke-width="0.6" stroke-dasharray="1.6,1.2"/>
<line x1="477.5" y1="935.70" x2="548.5" y2="935.70" stroke="#8a8a8a" stroke-width="0.6" stroke-dasharray="1.6,1.2"/>
<line x1="477.5" y1="960.30" x2="548.5" y2="960.30" stroke="#8a8a8a" stroke-width="0.6" stroke-dasharray="1.6,1.2"/>
<line x1="477.5" y1="972.60" x2="548.5" y2="972.60" stroke="#8a8a8a" stroke-width="0.6" stroke-dasharray="1.6,1.2"/>
<line x1="480.22" y1="948.00" x2="543.74" y2="948.00" stroke="#a8a8a8" stroke-width="1.5"/>
<path d="M480.60,931.52 L480.81,931.55 L481.08,931.54 L481.38,931.53 L481.73,931.52 L482.11,931.53 L482.53,931.58 L482.97,931.68 L483.44,931.84 L483.92,932.10 L484.43,932.45 L484.97,932.91 L485.56,933.45 L486.19,934.06 L486.86,934.75 L487.54,935.48 L488.22,936.27 L488.90,937.10 L489.57,937.96 L490.21,938.84 L490.81,939.73 L491.36,940.65 L491.89,941.61 L492.39,942.61 L492.88,943.64 L493.37,944.70 L493.85,945.79 L494.34,946.91 L494.84,948.05 L495.37,949.22 L495.92,950.41 L496.52,951.67 L497.14,953.04 L497.79,954.48 L498.45,955.95 L499.12,957.43 L499.78,958.88 L500.44,960.26 L501.09,961.55 L501.71,962.70 L502.30,963.69 L502.86,964.55 L503.38,965.31 L503.88,965.99 L504.37,966.58 L504.85,967.09 L505.33,967.51 L505.81,967.85 L506.32,968.10 L506.84,968.27 L507.40,968.37 L507.99,968.36 L508.61,968.25 L509.25,968.03 L509.91,967.73 L510.58,967.35 L511.25,966.91 L511.91,966.42 L512.56,965.89 L513.18,965.34 L513.77,964.78 L514.34,964.18 L514.88,963.52 L515.40,962.81 L515.91,962.06 L516.41,961.27 L516.91,960.45 L517.40,959.62 L517.89,958.76 L518.39,957.91 L518.89,957.05 L519.39,956.19 L519.87,955.32 L520.34,954.42 L520.81,953.51 L521.28,952.59 L521.76,951.65 L522.27,950.69 L522.80,949.73 L523.37,948.75 L523.98,947.75 L524.66,946.72 L525.40,945.63 L526.18,944.50 L527.00,943.36 L527.83,942.21 L528.66,941.07 L529.48,939.98 L530.26,938.93 L531.00,937.96 L531.68,937.08 L532.28,936.29 L532.84,935.56 L533.35,934.90 L533.83,934.29 L534.29,933.73 L534.75,933.19 L535.21,932.67 L535.69,932.16 L536.21,931.65 L536.77,931.12 L537.40,930.58 L538.10,930.03 L538.85,929.48 L539.62,928.94 L540.40,928.42 L541.14,927.92 L541.84,927.47 L542.46,927.07 L542.99,926.72 L543.39,926.45" fill="none" stroke="#4b55e8" stroke-width="0.9" clip-path="url(#clip484)"/>
<circle cx="513.96" cy="964.78" r="1.9" fill="#d62020"/>
<text x="480.70" y="926.30" font-size="10.5" text-anchor="start" font-weight="bold" fill="#111" >2</text>
<text x="475.50" y="926.40" font-size="8.4" text-anchor="end" font-weight="normal" fill="#111" textLength="7.9" lengthAdjust="spacingAndGlyphs" >50</text>
<text x="475.50" y="938.70" font-size="8.4" text-anchor="end" font-weight="normal" fill="#111" textLength="7.9" lengthAdjust="spacingAndGlyphs" >25</text>
<text x="475.50" y="951.00" font-size="8.4" text-anchor="end" font-weight="normal" fill="#111" textLength="4.0" lengthAdjust="spacingAndGlyphs" >0</text>
<text x="475.50" y="963.30" font-size="8.4" text-anchor="end" font-weight="normal" fill="#111" textLength="11.8" lengthAdjust="spacingAndGlyphs" >-25</text>
<text x="475.50" y="975.60" font-size="8.4" text-anchor="end" font-weight="normal" fill="#111" textLength="11.8" lengthAdjust="spacingAndGlyphs" >-50</text>
<text x="482.90" y="982.40" font-size="8.4" text-anchor="middle" font-weight="normal" fill="#111" textLength="8.0" lengthAdjust="spacingAndGlyphs" >06</text>
<text x="498.98" y="982.40" font-size="8.4" text-anchor="middle" font-weight="normal" fill="#111" textLength="8.0" lengthAdjust="spacingAndGlyphs" >12</text>
<text x="515.06" y="982.40" font-size="8.4" text-anchor="middle" font-weight="normal" fill="#111" textLength="8.0" lengthAdjust="spacingAndGlyphs" >18</text>
<text x="531.14" y="982.40" font-size="8.4" text-anchor="middle" font-weight="normal" fill="#111" textLength="8.0" lengthAdjust="spacingAndGlyphs" >00</text>
<text x="547.22" y="982.40" font-size="8.4" text-anchor="middle" font-weight="normal" fill="#111" textLength="8.0" lengthAdjust="spacingAndGlyphs" >06</text>
<text x="513.00" y="990.00" font-size="8.4" text-anchor="middle" font-weight="normal" fill="#111" textLength="61" lengthAdjust="spacingAndGlyphs" >Time of Day (hour)</text>
<text x="513.00" y="913.90" font-size="8.0" text-anchor="middle" font-weight="normal" fill="#111" textLength="70" lengthAdjust="spacingAndGlyphs" >2021-02-20 17:35:20</text>
<clipPath id="clip512"><rect x="595.5" y="915.5" width="71.0" height="59.5"/></clipPath>
<rect x="595.5" y="915.5" width="71.0" height="59.5" fill="#f1f1f1" stroke="#9a9a9a" stroke-width="0.8"/>
<line x1="595.5" y1="915.5" x2="666.5" y2="915.5" stroke="#555" stroke-width="1"/>
<line x1="600.90" y1="915.5" x2="600.90" y2="975.0" stroke="#8a8a8a" stroke-width="0.6" stroke-dasharray="1.6,1.2"/>
<line x1="616.98" y1="915.5" x2="616.98" y2="975.0" stroke="#8a8a8a" stroke-width="0.6" stroke-dasharray="1.6,1.2"/>
<line x1="633.06" y1="915.5" x2="633.06" y2="975.0" stroke="#8a8a8a" stroke-width="0.6" stroke-dasharray="1.6,1.2"/>
<line x1="649.14" y1="915.5" x2="649.14" y2="975.0" stroke="#8a8a8a" stroke-width="0.6" stroke-dasharray="1.6,1.2"/>
<line x1="665.22" y1="915.5" x2="665.22" y2="975.0" stroke="#8a8a8a" stroke-width="0.6" stroke-dasharray="1.6,1.2"/>
<line x1="595.5" y1="923.40" x2="666.5" y2="923.40" stroke="#8a8a8a" stroke-width="0.6" stroke-dasharray="1.6,1.2"/>
<line x1="595.5" y1="935.70" x2="666.5" y2="935.70" stroke="#8a8a8a" stroke-width="0.6" stroke-dasharray="1.6,1.2"/>
<line x1="595.5" y1="960.30" x2="666.5" y2="960.30" stroke="#8a8a8a" stroke-width="0.6" stroke-dasharray="1.6,1.2"/>
<line x1="595.5" y1="972.60" x2="666.5" y2="972.60" stroke="#8a8a8a" stroke-width="0.6" stroke-dasharray="1.6,1.2"/>
<line x1="598.22" y1="948.00" x2="661.74" y2="948.00" stroke="#a8a8a8" stroke-width="1.5"/>
<path d="M598.35,916.17 L598.58,916.19 L598.86,916.18 L599.18,916.15 L599.55,916.13 L599.95,916.12 L600.38,916.16 L600.82,916.25 L601.28,916.40 L601.73,916.65 L602.19,917.00 L602.64,917.45 L603.12,917.98 L603.62,918.58 L604.13,919.25 L604.65,919.98 L605.18,920.76 L605.71,921.60 L606.24,922.49 L606.76,923.42 L607.28,924.38 L607.80,925.41 L608.33,926.50 L608.86,927.65 L609.40,928.86 L609.93,930.11 L610.46,931.39 L610.98,932.70 L611.48,934.03 L611.97,935.36 L612.42,936.68 L612.86,938.03 L613.26,939.42 L613.65,940.84 L614.03,942.28 L614.39,943.73 L614.74,945.19 L615.09,946.64 L615.45,948.07 L615.81,949.48 L616.18,950.85 L616.55,952.22 L616.92,953.59 L617.29,954.97 L617.66,956.34 L618.04,957.69 L618.41,959.01 L618.78,960.29 L619.16,961.51 L619.54,962.66 L619.93,963.74 L620.32,964.76 L620.72,965.74 L621.12,966.68 L621.53,967.56 L621.94,968.39 L622.35,969.17 L622.75,969.88 L623.16,970.53 L623.56,971.11 L623.95,971.62 L624.34,972.04 L624.72,972.37 L625.10,972.63 L625.48,972.82 L625.86,972.96 L626.23,973.04 L626.60,973.09 L626.97,973.11 L627.34,973.10 L627.70,973.09 L628.05,973.07 L628.38,973.02 L628.71,972.94 L629.02,972.83 L629.34,972.69 L629.67,972.51 L630.01,972.28 L630.37,972.01 L630.76,971.69 L631.18,971.32 L631.64,970.89 L632.12,970.40 L632.62,969.86 L633.14,969.28 L633.68,968.65 L634.23,967.99 L634.80,967.29 L635.37,966.57 L635.96,965.83 L636.54,965.07 L637.15,964.27 L637.78,963.42 L638.44,962.52 L639.10,961.59 L639.78,960.64 L640.45,959.68 L641.11,958.73 L641.76,957.79 L642.38,956.89 L642.98,956.02 L643.54,955.21 L644.08,954.44 L644.60,953.71 L645.11,953.00 L645.61,952.29 L646.10,951.57 L646.58,950.82 L647.07,950.02 L647.56,949.17 L648.07,948.25 L648.58,947.24 L649.09,946.16 L649.60,945.02 L650.10,943.83 L650.61,942.62 L651.12,941.40 L651.63,940.18 L652.14,938.98 L652.65,937.81 L653.16,936.68 L653.68,935.59 L654.21,934.50 L654.76,933.42 L655.30,932.34 L655.84,931.29 L656.37,930.25 L656.88,929.23 L657.37,928.24 L657.83,927.28 L658.25,926.35 L658.65,925.43 L659.03,924.49 L659.39,923.56 L659.73,922.65 L660.04,921.77 L660.34,920.94 L660.60,920.19 L660.83,919.51 L661.03,918.94 L661.20,918.48" fill="none" stroke="#4b55e8" stroke-width="0.9" clip-path="url(#clip512)"/>
<circle cx="631.96" cy="970.40" r="1.9" fill="#d62020"/>
<text x="598.70" y="926.30" font-size="10.5" text-anchor="start" font-weight="bold" fill="#111" >4</text>
<text x="593.50" y="926.40" font-size="8.4" text-anchor="end" font-weight="normal" fill="#111" textLength="7.9" lengthAdjust="spacingAndGlyphs" >50</text>
<text x="593.50" y="938.70" font-size="8.4" text-anchor="end" font-weight="normal" fill="#111" textLength="7.9" lengthAdjust="spacingAndGlyphs" >25</text>
<text x="593.50" y="951.00" font-size="8.4" text-anchor="end" font-weight="normal" fill="#111" textLength="4.0" lengthAdjust="spacingAndGlyphs" >0</text>
<text x="593.50" y="963.30" font-size="8.4" text-anchor="end" font-weight="normal" fill="#111" textLength="11.8" lengthAdjust="spacingAndGlyphs" >-25</text>
<text x="593.50" y="975.60" font-size="8.4" text-anchor="end" font-weight="normal" fill="#111" textLength="11.8" lengthAdjust="spacingAndGlyphs" >-50</text>
<text x="600.90" y="982.40" font-size="8.4" text-anchor="middle" font-weight="normal" fill="#111" textLength="8.0" lengthAdjust="spacingAndGlyphs" >06</text>
<text x="616.98" y="982.40" font-size="8.4" text-anchor="middle" font-weight="normal" fill="#111" textLength="8.0" lengthAdjust="spacingAndGlyphs" >12</text>
<text x="633.06" y="982.40" font-size="8.4" text-anchor="middle" font-weight="normal" fill="#111" textLength="8.0" lengthAdjust="spacingAndGlyphs" >18</text>
<text x="649.14" y="982.40" font-size="8.4" text-anchor="middle" font-weight="normal" fill="#111" textLength="8.0" lengthAdjust="spacingAndGlyphs" >00</text>
<text x="665.22" y="982.40" font-size="8.4" text-anchor="middle" font-weight="normal" fill="#111" textLength="8.0" lengthAdjust="spacingAndGlyphs" >06</text>
<text x="631.00" y="990.00" font-size="8.4" text-anchor="middle" font-weight="normal" fill="#111" textLength="61" lengthAdjust="spacingAndGlyphs" >Time of Day (hour)</text>
<text x="631.00" y="913.90" font-size="8.0" text-anchor="middle" font-weight="normal" fill="#111" textLength="70" lengthAdjust="spacingAndGlyphs" >2021-03-08 17:35:20</text>
<text x="369.00" y="712.40" font-size="11.8" text-anchor="end" font-weight="normal" fill="#1a1a1a" textLength="16.0" lengthAdjust="spacingAndGlyphs" >150</text>
<line x1="368.7" y1="708.20" x2="371.2" y2="708.20" stroke="#999" stroke-width="0.8"/>
<text x="369.00" y="761.10" font-size="11.8" text-anchor="end" font-weight="normal" fill="#1a1a1a" textLength="16.0" lengthAdjust="spacingAndGlyphs" >100</text>
<line x1="368.7" y1="756.90" x2="371.2" y2="756.90" stroke="#999" stroke-width="0.8"/>
<text x="369.00" y="809.80" font-size="11.8" text-anchor="end" font-weight="normal" fill="#1a1a1a" textLength="10.6" lengthAdjust="spacingAndGlyphs" >50</text>
<line x1="368.7" y1="805.60" x2="371.2" y2="805.60" stroke="#999" stroke-width="0.8"/>
<text x="369.00" y="858.50" font-size="11.8" text-anchor="end" font-weight="normal" fill="#1a1a1a" textLength="5.3" lengthAdjust="spacingAndGlyphs" >0</text>
<line x1="368.7" y1="854.30" x2="371.2" y2="854.30" stroke="#999" stroke-width="0.8"/>
<text x="369.00" y="907.20" font-size="11.8" text-anchor="end" font-weight="normal" fill="#1a1a1a" textLength="16.0" lengthAdjust="spacingAndGlyphs" >-50</text>
<line x1="368.7" y1="903.00" x2="371.2" y2="903.00" stroke="#999" stroke-width="0.8"/>
<text x="369.00" y="955.90" font-size="11.8" text-anchor="end" font-weight="normal" fill="#1a1a1a" textLength="20.5" lengthAdjust="spacingAndGlyphs" >-100</text>
<line x1="368.7" y1="951.70" x2="371.2" y2="951.70" stroke="#999" stroke-width="0.8"/>
<text x="394.50" y="1006.50" font-size="10.3" text-anchor="middle" font-weight="normal" fill="#1a1a1a" textLength="24.7" lengthAdjust="spacingAndGlyphs" >02/13</text>
<text x="466.50" y="1006.50" font-size="10.3" text-anchor="middle" font-weight="normal" fill="#1a1a1a" textLength="24.7" lengthAdjust="spacingAndGlyphs" >02/21</text>
<text x="538.50" y="1006.50" font-size="10.3" text-anchor="middle" font-weight="normal" fill="#1a1a1a" textLength="24.7" lengthAdjust="spacingAndGlyphs" >03/01</text>
<text x="610.50" y="1006.50" font-size="10.3" text-anchor="middle" font-weight="normal" fill="#1a1a1a" textLength="24.7" lengthAdjust="spacingAndGlyphs" >03/09</text>
<text x="354.80" y="839.60" font-size="11.5" text-anchor="middle" font-weight="normal" fill="#1a1a1a" textLength="43" lengthAdjust="spacingAndGlyphs" transform="rotate(-90 354.80 839.60)" >SSH (cm)</text>
<text x="383.00" y="700.70" font-size="10.5" text-anchor="start" font-weight="bold" fill="#111" textLength="12.4" lengthAdjust="spacingAndGlyphs" >(f)</text>
<text x="524.50" y="1016.10" font-size="11.0" text-anchor="middle" font-weight="normal" fill="#1a1a1a" textLength="21" lengthAdjust="spacingAndGlyphs" >Date</text>
</svg></body></html>
